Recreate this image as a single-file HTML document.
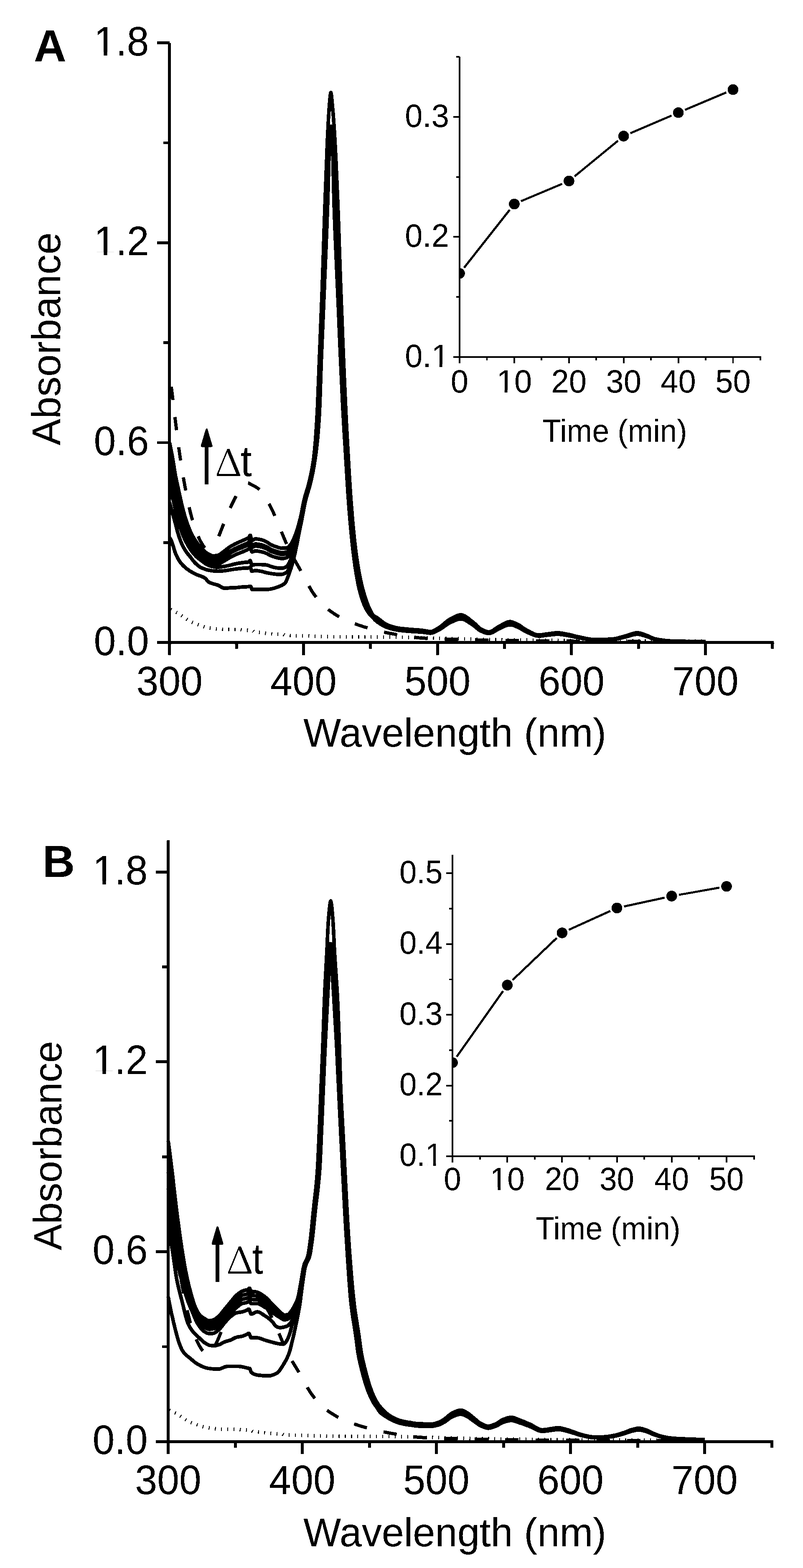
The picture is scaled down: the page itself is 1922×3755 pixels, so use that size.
<!DOCTYPE html>
<html><head><meta charset="utf-8"><title>Figure</title><style>
*{margin:0;padding:0}
html,body{width:1922px;height:3755px;background:#fff;overflow:hidden}
svg{display:block}
.sp{fill:none;stroke:#000;stroke-width:8.6;stroke-linejoin:round;stroke-linecap:butt}
.da{fill:none;stroke:#000;stroke-width:7.8;stroke-dasharray:32 41;stroke-linecap:butt;stroke-linejoin:round}
.do{fill:none;stroke:#000;stroke-width:8.4;stroke-dasharray:2.2 12.72;stroke-linecap:butt}
.ax{fill:none;stroke:#000;stroke-width:7}
.iax{fill:none;stroke:#000;stroke-width:4}
.il{fill:none;stroke:#000;stroke-width:5}
.ah{fill:#000;stroke:#000;stroke-width:5;stroke-linejoin:round}
.ash{fill:none;stroke:#000;stroke-width:9}
text{font-family:'Liberation Sans',Arial,sans-serif;fill:#000}
.tl{font-size:95px}
.tt{font-size:95.7px}
.tt2{font-size:93.9px}
.pl{font-size:107.5px;font-weight:bold}
.it{font-size:76px}
.it2{font-size:74.5px}
.itt{font-size:73px}
.dl{font-size:95px}
.del{font-family:'Noto Serif CJK SC','Liberation Serif',serif;font-size:88px;fill:#000}
</style></head>
<body><svg width="1922" height="3755" viewBox="0 0 1922 3755">
<rect width="1922" height="3755" fill="#fff"/>
<defs><filter id="bin" filterUnits="userSpaceOnUse" x="0" y="0" width="1922" height="3755"><feComponentTransfer><feFuncA type="discrete" tableValues="0 1"/></feComponentTransfer></filter></defs>
<g filter="url(#bin)">
<path d="M405.8 1060.0 L407.1 1065.7 L408.4 1071.8 L409.6 1078.1 L410.9 1084.8 L410.9 1084.8 L412.2 1091.8 L413.5 1099.3 L414.8 1106.9 L415.7 1112.7 L416.1 1114.6 L417.3 1122.6 L418.6 1130.6 L419.9 1138.1 L420.2 1139.8 L421.2 1144.7 L422.5 1150.9 L423.8 1156.8 L425.0 1162.5 L426.0 1166.9 L426.3 1168.4 L427.6 1174.4 L428.9 1180.3 L430.2 1186.2 L431.5 1192.0 L432.1 1194.8 L432.7 1197.7 L434.0 1203.4 L435.3 1209.1 L436.6 1214.5 L437.9 1219.6 L437.9 1219.6 L439.2 1224.3 L440.4 1229.0 L441.7 1233.4 L443.0 1237.7 L444.3 1241.9 L445.6 1245.8 L446.8 1249.6 L447.5 1251.5 L448.1 1253.3 L449.4 1256.9 L450.7 1260.4 L452.0 1263.7 L453.3 1267.0 L454.5 1270.1 L455.8 1273.0 L457.1 1275.8 L458.1 1277.8 L458.4 1278.5 L459.7 1281.0 L461.0 1283.4 L462.2 1285.6 L463.5 1287.9 L464.8 1290.0 L466.1 1292.0 L467.4 1294.0 L468.7 1295.9 L469.9 1297.8 L469.9 1297.8 L471.2 1299.6 L472.5 1301.4 L473.8 1303.1 L475.1 1304.8 L476.4 1306.4 L477.6 1307.9 L478.9 1309.4 L480.2 1310.9 L481.5 1312.3 L482.1 1312.9 L482.8 1313.6 L484.1 1314.9 L485.3 1316.2 L486.6 1317.4 L487.9 1318.7 L489.2 1319.8 L490.5 1321.0 L491.7 1322.1 L493.0 1323.1 L494.3 1324.1 L495.6 1325.0 L496.9 1325.8 L498.2 1326.5 L498.2 1326.5 L499.4 1327.1 L500.7 1327.8 L502.0 1328.5 L503.3 1329.1 L504.6 1329.7 L505.9 1330.2 L507.1 1330.7 L508.4 1331.0 L509.7 1331.2 L511.0 1331.3 L511.0 1331.3 L512.3 1331.2 L513.6 1331.2 L514.8 1331.0 L516.1 1330.8 L517.4 1330.6 L518.7 1330.4 L520.0 1330.1 L521.3 1329.8 L521.9 1329.7 L522.5 1329.5 L523.8 1329.0 L525.1 1328.3 L526.4 1327.5 L527.7 1326.6 L528.9 1325.7 L530.2 1324.6 L531.5 1323.6 L532.8 1322.6 L534.1 1321.7 L534.1 1321.7 L535.4 1320.8 L536.6 1319.8 L537.9 1318.9 L539.2 1317.9 L540.5 1316.9 L541.8 1315.8 L543.1 1314.8 L544.3 1313.8 L545.6 1312.9 L546.9 1311.9 L548.2 1311.0 L549.5 1310.1 L550.1 1309.7 L550.8 1309.3 L552.0 1308.5 L553.3 1307.8 L554.6 1307.0 L555.9 1306.3 L557.2 1305.6 L558.5 1304.9 L559.7 1304.2 L561.0 1303.5 L562.3 1302.9 L563.6 1302.2 L564.9 1301.6 L566.1 1301.0 L566.1 1301.0 L567.4 1300.3 L568.7 1299.7 L570.0 1299.2 L571.3 1298.6 L572.6 1298.0 L573.8 1297.5 L575.1 1296.9 L576.4 1296.4 L577.7 1295.8 L579.0 1295.3 L580.3 1294.7 L581.5 1294.1 L582.2 1293.8 L582.8 1293.5 L584.1 1292.9 L585.4 1292.4 L586.7 1291.9 L588.0 1291.4 L589.2 1290.8 L590.5 1290.2 L591.8 1289.6 L593.1 1288.8 L594.4 1287.9 L595.7 1286.9 L596.0 1286.6 L596.9 1285.0 L598.2 1282.3 L598.9 1281.8 L599.5 1282.8 L600.8 1288.2 L602.1 1293.6 L602.7 1294.6 L603.4 1294.5 L604.6 1294.0 L605.9 1293.3 L607.2 1292.3 L608.5 1291.5 L609.8 1290.8 L611.0 1290.6 L611.0 1290.6 L612.3 1290.6 L613.6 1290.7 L614.9 1290.8 L616.2 1290.9 L617.5 1291.1 L618.7 1291.3 L620.0 1291.5 L621.3 1291.7 L622.6 1291.9 L623.9 1292.2 L623.9 1292.2 L625.2 1292.5 L626.4 1292.8 L627.7 1293.2 L629.0 1293.6 L630.3 1294.1 L631.6 1294.6 L632.9 1295.2 L634.1 1295.8 L635.4 1296.4 L636.7 1297.0 L636.7 1297.0 L638.0 1297.6 L639.3 1298.4 L640.6 1299.2 L641.8 1300.1 L643.1 1301.0 L644.4 1301.8 L645.7 1302.7 L647.0 1303.5 L648.2 1304.3 L649.5 1304.9 L649.5 1304.9 L650.8 1305.5 L652.1 1306.1 L653.4 1306.6 L654.7 1307.1 L655.9 1307.6 L657.2 1308.1 L658.5 1308.5 L659.8 1308.9 L661.1 1309.3 L662.4 1309.7 L662.4 1309.7 L663.6 1310.1 L664.9 1310.6 L666.2 1311.0 L667.5 1311.4 L668.8 1311.8 L670.1 1312.2 L671.3 1312.5 L672.6 1312.7 L673.9 1312.9 L675.2 1312.9 L675.2 1312.9 L676.5 1312.9 L677.8 1312.9 L679.0 1312.8 L680.3 1312.7 L681.6 1312.7 L682.9 1312.5 L684.2 1312.4 L685.5 1312.2 L686.4 1312.1 L686.7 1312.1 L688.0 1311.6 L689.3 1310.8 L690.6 1309.7 L691.9 1308.4 L693.1 1306.9 L694.4 1305.4 L695.7 1303.8 L696.0 1303.3 L697.0 1302.0 L698.3 1299.9 L699.6 1297.4 L700.8 1294.8 L702.1 1292.1 L702.4 1291.4 L703.4 1289.3 L704.7 1286.3 L706.0 1283.2 L707.3 1279.9 L708.5 1276.3 L708.9 1275.4 L709.8 1272.6 L711.1 1268.7 L712.4 1264.6 L713.7 1260.3 L715.0 1255.8 L716.2 1251.1 L717.5 1246.2 L718.8 1241.1 L718.8 1241.1 L720.1 1235.5 L721.4 1229.3 L722.7 1222.7 L723.9 1215.9 L725.2 1209.2 L726.5 1202.9 L727.8 1197.2 L727.8 1197.2 L729.1 1192.2 L730.3 1187.5 L731.6 1183.2 L732.9 1179.0 L734.2 1174.9 L735.5 1170.8 L736.8 1166.5 L738.0 1161.9 L739.3 1156.9 L740.0 1154.2 L740.6 1151.4 L741.9 1145.8 L743.2 1140.2 L744.5 1134.2 L745.7 1127.9 L747.0 1121.0 L748.3 1113.6 L749.6 1105.3 L750.9 1096.2 L751.8 1088.7 L752.2 1086.0 L753.4 1073.4 L754.7 1058.1 L756.0 1040.4 L757.3 1020.8 L758.6 999.4 L758.6 999.4 L759.9 973.9 L761.1 943.4 L762.4 910.2 L763.7 876.7 L764.3 860.6 L765.0 844.9 L766.3 813.6 L767.5 782.1 L768.8 749.9 L770.1 716.6 L770.8 699.4 L771.4 681.6 L772.7 643.9 L774.0 604.6 L775.2 564.9 L776.5 525.9 L777.8 488.8 L778.1 480.0 L779.1 453.7 L780.4 418.6 L781.7 384.4 L782.9 352.0 L784.2 322.5 L785.2 302.9 L785.5 296.8 L786.8 273.7 L788.1 254.8 L788.4 251.1 L789.4 240.0 L790.6 227.1 L791.9 221.5 L791.9 221.5 L793.2 227.4 L794.5 240.6 L795.5 251.1 L795.8 254.3 L797.1 268.5 L798.3 284.7 L799.6 302.9 L799.6 302.9 L800.9 323.6 L802.2 346.7 L803.5 371.9 L804.8 399.0 L806.0 427.5 L807.3 457.2 L808.3 480.0 L808.6 487.8 L809.9 521.7 L811.2 558.6 L812.4 597.2 L813.7 635.8 L815.0 673.2 L816.0 699.4 L816.3 707.8 L817.6 741.2 L818.9 774.2 L820.1 806.7 L821.4 838.7 L822.7 869.9 L824.0 900.4 L825.3 929.9 L826.6 958.5 L827.8 986.1 L828.5 999.4 L829.1 1012.3 L830.4 1037.1 L831.7 1060.6 L833.0 1083.2 L833.3 1088.7 L834.3 1105.4 L835.5 1127.6 L836.8 1149.1 L838.1 1169.6 L839.4 1188.5 L840.0 1197.2 L840.7 1205.6 L842.0 1221.8 L843.2 1237.4 L844.5 1252.1 L845.8 1266.1 L847.1 1279.3 L848.4 1291.6 L849.6 1303.0 L850.0 1305.7 L850.9 1313.6 L852.2 1323.7 L853.5 1333.1 L854.8 1342.1 L856.1 1350.5 L857.3 1358.4 L858.6 1365.9 L859.6 1371.2 L859.9 1372.9 L861.2 1379.5 L862.5 1385.8 L863.8 1391.8 L865.0 1397.5 L866.3 1402.9 L867.6 1407.9 L868.9 1412.7 L869.5 1415.0 L870.2 1417.3 L871.5 1421.7 L872.7 1426.0 L874.0 1430.1 L875.3 1434.1 L876.6 1438.0 L877.9 1441.7 L879.2 1445.2 L880.4 1448.5 L881.7 1451.7 L883.0 1454.7 L884.3 1457.5 L884.6 1458.1 L885.6 1460.1 L886.8 1462.7 L888.1 1465.2 L889.4 1467.5 L890.7 1469.7 L892.0 1471.6 L893.3 1473.3 L894.5 1474.6 L894.9 1474.9 L895.8 1475.6 L897.1 1476.3 L898.4 1476.9 L899.7 1477.6 L900.0 1477.8 L901.0 1478.4 L902.2 1479.2 L903.5 1480.1 L904.8 1481.0 L906.1 1482.0 L907.4 1482.9 L908.7 1483.9 L909.9 1484.9 L911.2 1485.9 L912.5 1487.0 L913.8 1488.0 L915.1 1488.9 L916.4 1489.9 L917.6 1490.9 L918.9 1491.8 L920.2 1492.6 L921.5 1493.5 L922.8 1494.2 L924.1 1495.0 L925.3 1495.6 L926.6 1496.2 L927.3 1496.5 L927.9 1496.7 L929.2 1497.2 L930.5 1497.7 L931.7 1498.2 L933.0 1498.7 L934.3 1499.1 L935.6 1499.5 L936.9 1500.0 L938.2 1500.4 L939.4 1500.8 L940.7 1501.1 L942.0 1501.5 L943.3 1501.8 L944.6 1502.2 L945.9 1502.5 L947.1 1502.8 L948.4 1503.1 L949.7 1503.4 L951.0 1503.6 L952.3 1503.9 L953.6 1504.1 L954.5 1504.2 L954.8 1504.3 L956.1 1504.5 L957.4 1504.7 L958.7 1504.9 L960.0 1505.0 L961.3 1505.2 L962.5 1505.3 L963.8 1505.5 L965.1 1505.6 L966.4 1505.8 L967.7 1505.9 L968.9 1506.1 L970.2 1506.2 L971.5 1506.3 L972.8 1506.4 L974.1 1506.6 L975.4 1506.7 L976.6 1506.8 L977.9 1506.9 L979.2 1507.0 L980.5 1507.1 L981.8 1507.3 L981.8 1507.3 L983.1 1507.4 L984.3 1507.5 L985.6 1507.6 L986.9 1507.7 L988.2 1507.8 L989.5 1507.9 L990.8 1508.0 L992.0 1508.1 L993.3 1508.1 L994.6 1508.2 L995.9 1508.3 L997.2 1508.4 L998.5 1508.5 L999.7 1508.6 L1001.0 1508.7 L1002.3 1508.8 L1003.6 1508.9 L1004.9 1509.0 L1006.2 1509.1 L1007.4 1509.2 L1008.7 1509.3 L1009.4 1509.4 L1010.0 1509.5 L1011.3 1509.6 L1012.6 1509.8 L1013.8 1510.0 L1015.1 1510.2 L1016.4 1510.4 L1017.7 1510.6 L1019.0 1510.9 L1020.3 1511.1 L1021.5 1511.3 L1022.8 1511.5 L1024.1 1511.7 L1025.4 1511.9 L1026.7 1512.0 L1028.0 1512.1 L1029.2 1512.2 L1030.5 1512.2 L1031.2 1512.2 L1031.8 1512.2 L1033.1 1512.1 L1034.4 1511.8 L1035.7 1511.4 L1036.9 1511.0 L1038.2 1510.4 L1039.5 1509.8 L1040.8 1509.1 L1042.1 1508.3 L1043.4 1507.5 L1044.6 1506.7 L1045.9 1505.9 L1047.2 1505.1 L1048.5 1504.3 L1049.8 1503.6 L1050.1 1503.4 L1051.0 1502.8 L1052.3 1502.0 L1053.6 1501.1 L1054.9 1500.2 L1056.2 1499.2 L1057.5 1498.2 L1058.7 1497.2 L1060.0 1496.1 L1061.3 1495.0 L1062.6 1493.9 L1063.9 1492.8 L1065.2 1491.7 L1066.4 1490.6 L1067.7 1489.6 L1069.0 1488.5 L1070.3 1487.5 L1071.6 1486.5 L1072.9 1485.6 L1074.1 1484.8 L1075.4 1484.0 L1076.7 1483.2 L1077.3 1482.9 L1078.0 1482.5 L1079.3 1481.8 L1080.6 1481.2 L1081.8 1480.5 L1083.1 1479.7 L1084.4 1479.0 L1085.7 1478.4 L1087.0 1477.7 L1088.2 1477.0 L1089.5 1476.4 L1090.8 1475.8 L1092.1 1475.2 L1093.4 1474.7 L1094.7 1474.2 L1095.9 1473.8 L1097.2 1473.4 L1098.5 1473.1 L1099.8 1472.8 L1101.1 1472.7 L1102.4 1472.6 L1103.3 1472.5 L1103.6 1472.5 L1104.9 1472.6 L1106.2 1472.8 L1107.5 1473.1 L1108.8 1473.6 L1110.1 1474.1 L1111.3 1474.6 L1112.6 1475.3 L1113.9 1476.1 L1115.2 1476.9 L1116.5 1477.7 L1117.8 1478.6 L1119.0 1479.6 L1120.3 1480.5 L1121.6 1481.5 L1122.9 1482.6 L1124.2 1483.6 L1125.5 1484.6 L1126.7 1485.7 L1128.0 1486.7 L1129.3 1487.7 L1130.6 1488.6 L1131.9 1489.6 L1131.9 1489.6 L1133.1 1490.6 L1134.4 1491.6 L1135.7 1492.8 L1137.0 1494.0 L1138.3 1495.3 L1139.6 1496.6 L1140.8 1497.9 L1142.1 1499.2 L1143.4 1500.4 L1144.7 1501.6 L1146.0 1502.8 L1147.3 1503.9 L1148.5 1504.8 L1149.8 1505.7 L1151.1 1506.4 L1151.1 1506.4 L1152.4 1507.0 L1153.7 1507.7 L1155.0 1508.3 L1156.2 1508.9 L1157.5 1509.6 L1158.8 1510.1 L1160.1 1510.7 L1161.4 1511.2 L1162.7 1511.7 L1163.9 1512.1 L1165.2 1512.4 L1166.5 1512.7 L1167.8 1512.9 L1169.1 1513.1 L1170.3 1513.1 L1170.3 1513.1 L1171.6 1513.0 L1172.9 1512.8 L1174.2 1512.5 L1175.5 1512.0 L1176.8 1511.4 L1178.0 1510.8 L1179.3 1510.1 L1180.6 1509.3 L1181.9 1508.4 L1183.2 1507.5 L1184.5 1506.6 L1185.7 1505.7 L1187.0 1504.8 L1188.3 1503.9 L1189.6 1503.0 L1190.9 1502.1 L1192.2 1501.3 L1193.4 1500.6 L1194.7 1499.9 L1194.7 1499.9 L1196.0 1499.3 L1197.3 1498.6 L1198.6 1497.9 L1199.9 1497.2 L1201.1 1496.5 L1202.4 1495.7 L1203.7 1495.0 L1205.0 1494.3 L1206.3 1493.5 L1207.5 1492.9 L1208.8 1492.2 L1210.1 1491.6 L1211.4 1491.0 L1212.7 1490.4 L1214.0 1490.0 L1215.2 1489.6 L1216.5 1489.2 L1217.8 1489.0 L1219.1 1488.8 L1220.4 1488.7 L1220.7 1488.7 L1221.7 1488.8 L1222.9 1488.9 L1224.2 1489.1 L1225.5 1489.4 L1226.8 1489.8 L1228.1 1490.2 L1229.4 1490.7 L1230.6 1491.3 L1231.9 1491.9 L1233.2 1492.5 L1234.5 1493.1 L1235.8 1493.7 L1237.1 1494.4 L1238.3 1495.0 L1239.6 1495.6 L1239.6 1495.6 L1240.9 1496.3 L1242.2 1497.0 L1243.5 1497.7 L1244.8 1498.5 L1246.0 1499.4 L1247.3 1500.3 L1248.6 1501.2 L1249.9 1502.1 L1251.2 1503.1 L1252.4 1504.0 L1253.7 1504.9 L1255.0 1505.8 L1256.3 1506.6 L1257.6 1507.4 L1258.9 1508.1 L1260.1 1508.8 L1260.1 1508.8 L1261.4 1509.4 L1262.7 1510.1 L1264.0 1510.8 L1265.3 1511.5 L1266.6 1512.2 L1267.8 1512.9 L1269.1 1513.5 L1270.4 1514.2 L1271.7 1514.9 L1273.0 1515.5 L1274.3 1516.2 L1275.5 1516.8 L1276.8 1517.4 L1278.1 1517.9 L1279.4 1518.4 L1280.7 1518.9 L1282.0 1519.3 L1283.2 1519.7 L1284.5 1520.0 L1285.8 1520.2 L1287.1 1520.4 L1288.4 1520.5 L1289.6 1520.6 L1290.0 1520.6 L1290.9 1520.6 L1292.2 1520.5 L1293.5 1520.5 L1294.8 1520.3 L1296.1 1520.2 L1297.3 1520.0 L1298.6 1519.8 L1299.9 1519.6 L1301.2 1519.4 L1302.5 1519.2 L1303.8 1519.0 L1305.0 1518.8 L1306.3 1518.6 L1307.6 1518.4 L1308.9 1518.2 L1310.2 1518.0 L1310.2 1518.0 L1311.5 1517.9 L1312.7 1517.7 L1314.0 1517.5 L1315.3 1517.4 L1316.6 1517.2 L1317.9 1517.0 L1319.2 1516.8 L1320.4 1516.6 L1321.7 1516.5 L1323.0 1516.3 L1324.3 1516.2 L1325.6 1516.0 L1326.9 1515.9 L1328.1 1515.8 L1329.4 1515.7 L1330.7 1515.6 L1332.0 1515.5 L1333.3 1515.5 L1334.5 1515.4 L1334.9 1515.4 L1335.8 1515.4 L1337.1 1515.5 L1338.4 1515.6 L1339.7 1515.7 L1341.0 1515.8 L1342.2 1516.0 L1343.5 1516.1 L1344.8 1516.3 L1346.1 1516.6 L1347.4 1516.8 L1348.7 1517.0 L1349.9 1517.3 L1351.2 1517.5 L1352.5 1517.8 L1353.8 1518.0 L1355.1 1518.3 L1356.4 1518.5 L1357.6 1518.8 L1358.3 1518.9 L1358.9 1519.0 L1360.2 1519.2 L1361.5 1519.5 L1362.8 1519.8 L1364.1 1520.1 L1365.3 1520.4 L1366.6 1520.7 L1367.9 1521.0 L1369.2 1521.3 L1370.5 1521.6 L1371.7 1522.0 L1373.0 1522.3 L1374.3 1522.6 L1375.6 1522.9 L1376.9 1523.3 L1378.2 1523.6 L1379.4 1523.9 L1380.7 1524.2 L1382.0 1524.4 L1383.3 1524.7 L1384.3 1524.9 L1384.6 1525.0 L1385.9 1525.2 L1387.1 1525.5 L1388.4 1525.8 L1389.7 1526.1 L1391.0 1526.3 L1392.3 1526.6 L1393.6 1526.9 L1394.8 1527.2 L1396.1 1527.5 L1397.4 1527.8 L1398.7 1528.1 L1400.0 1528.4 L1401.3 1528.7 L1402.5 1528.9 L1403.8 1529.2 L1405.1 1529.5 L1406.4 1529.7 L1407.7 1530.0 L1408.9 1530.2 L1410.2 1530.4 L1411.5 1530.6 L1412.8 1530.8 L1414.1 1531.0 L1415.4 1531.2 L1416.6 1531.3 L1417.9 1531.5 L1419.2 1531.6 L1420.5 1531.7 L1421.8 1531.7 L1423.1 1531.8 L1424.3 1531.8 L1425.0 1531.8 L1425.6 1531.8 L1426.9 1531.8 L1428.2 1531.8 L1429.5 1531.8 L1430.8 1531.8 L1432.0 1531.8 L1433.3 1531.7 L1434.6 1531.7 L1435.9 1531.7 L1437.2 1531.6 L1438.5 1531.6 L1439.7 1531.6 L1441.0 1531.5 L1442.3 1531.5 L1443.6 1531.5 L1444.9 1531.4 L1446.2 1531.4 L1447.4 1531.3 L1448.7 1531.2 L1450.0 1531.2 L1451.3 1531.1 L1452.6 1531.1 L1453.8 1531.0 L1455.1 1530.9 L1456.4 1530.9 L1457.7 1530.8 L1459.0 1530.7 L1460.3 1530.6 L1461.5 1530.5 L1462.8 1530.5 L1464.1 1530.4 L1465.4 1530.3 L1466.0 1530.3 L1466.7 1530.2 L1468.0 1530.1 L1469.2 1529.9 L1470.5 1529.8 L1471.8 1529.5 L1473.1 1529.3 L1474.4 1529.1 L1475.7 1528.8 L1476.9 1528.5 L1478.2 1528.2 L1479.5 1527.8 L1480.8 1527.5 L1482.1 1527.1 L1483.4 1526.8 L1484.6 1526.4 L1485.9 1526.0 L1487.2 1525.7 L1488.5 1525.3 L1489.8 1524.9 L1491.0 1524.6 L1492.3 1524.2 L1493.6 1523.9 L1494.9 1523.5 L1496.2 1523.2 L1496.2 1523.2 L1497.5 1522.9 L1498.7 1522.5 L1500.0 1522.1 L1501.3 1521.7 L1502.6 1521.3 L1503.9 1520.8 L1505.2 1520.4 L1506.4 1519.9 L1507.7 1519.5 L1509.0 1519.0 L1510.3 1518.6 L1511.6 1518.1 L1512.9 1517.7 L1514.1 1517.3 L1515.4 1517.0 L1516.7 1516.6 L1518.0 1516.3 L1519.3 1516.1 L1520.6 1515.8 L1521.8 1515.7 L1523.1 1515.5 L1524.4 1515.5 L1525.4 1515.4 L1525.7 1515.4 L1527.0 1515.5 L1528.2 1515.6 L1529.5 1515.8 L1530.8 1516.0 L1532.1 1516.3 L1533.4 1516.6 L1534.7 1517.0 L1535.9 1517.4 L1537.2 1517.8 L1538.5 1518.3 L1539.8 1518.7 L1541.1 1519.2 L1542.4 1519.6 L1543.6 1520.1 L1544.9 1520.6 L1546.2 1521.0 L1547.5 1521.5 L1547.5 1521.5 L1548.8 1521.9 L1550.1 1522.4 L1551.3 1523.0 L1552.6 1523.5 L1553.9 1524.1 L1555.2 1524.8 L1556.5 1525.4 L1557.8 1526.0 L1559.0 1526.6 L1560.3 1527.2 L1561.6 1527.8 L1562.9 1528.4 L1564.2 1528.9 L1565.5 1529.3 L1566.7 1529.7 L1568.0 1530.0 L1568.3 1530.1 L1569.3 1530.3 L1570.6 1530.5 L1571.9 1530.8 L1573.1 1531.0 L1574.4 1531.3 L1575.7 1531.5 L1577.0 1531.7 L1578.3 1532.0 L1579.6 1532.2 L1580.8 1532.4 L1582.1 1532.6 L1583.4 1532.8 L1584.7 1533.0 L1586.0 1533.2 L1587.3 1533.3 L1588.5 1533.5 L1589.8 1533.7 L1591.1 1533.8 L1592.4 1534.0 L1593.7 1534.1 L1595.0 1534.3 L1596.2 1534.4 L1597.5 1534.5 L1598.8 1534.6 L1600.1 1534.7 L1601.4 1534.8 L1602.7 1534.9 L1603.9 1535.0 L1605.2 1535.1 L1606.5 1535.1 L1607.8 1535.2 L1609.1 1535.2 L1609.4 1535.3 L1610.3 1535.3 L1611.6 1535.3 L1612.9 1535.4 L1614.2 1535.4 L1615.5 1535.4 L1616.8 1535.5 L1618.0 1535.5 L1619.3 1535.6 L1620.6 1535.6 L1621.9 1535.6 L1623.2 1535.7 L1624.5 1535.7 L1625.7 1535.7 L1627.0 1535.7 L1628.3 1535.8 L1629.6 1535.8 L1630.9 1535.8 L1632.2 1535.9 L1633.4 1535.9 L1634.7 1535.9 L1636.0 1535.9 L1637.3 1536.0 L1638.6 1536.0 L1639.9 1536.0 L1641.1 1536.0 L1642.4 1536.0 L1643.7 1536.0 L1645.0 1536.1 L1646.3 1536.1 L1647.6 1536.1 L1648.8 1536.1 L1650.1 1536.1 L1651.4 1536.1 L1652.7 1536.1 L1654.0 1536.1 L1655.2 1536.1 L1656.5 1536.1 L1656.5 1536.1 L1657.8 1536.1 L1659.1 1536.1 L1660.4 1536.1 L1661.7 1536.1 L1662.9 1536.1 L1664.2 1536.1 L1665.5 1536.1 L1666.8 1536.1 L1668.1 1536.1 L1669.4 1536.1 L1670.6 1536.1 L1671.9 1536.1 L1673.2 1536.1 L1674.5 1536.1 L1675.8 1536.1 L1677.1 1536.1 L1678.3 1536.1 L1679.6 1536.1 L1680.9 1536.1 L1682.2 1536.1 L1683.5 1536.1 L1684.8 1536.1 L1686.0 1536.1 L1687.3 1536.1 L1688.6 1536.1 L1688.6 1536.1" class="sp"/>
<path d="M405.8 1088.5 L407.1 1095.0 L408.4 1101.5 L409.6 1108.3 L410.9 1115.0 L410.9 1115.0 L412.2 1122.0 L412.2 1122.0 L413.5 1129.1 L414.8 1136.3 L415.7 1141.7 L416.1 1143.5 L417.3 1150.8 L418.6 1157.9 L418.6 1157.9 L419.9 1164.7 L420.2 1166.3 L421.2 1171.0 L422.5 1176.9 L423.8 1182.5 L425.0 1188.2 L425.0 1188.2 L426.0 1192.3 L426.3 1193.7 L427.6 1199.2 L428.9 1204.6 L430.2 1210.0 L431.5 1215.3 L431.5 1215.3 L432.1 1217.9 L432.7 1220.4 L434.0 1225.4 L435.3 1230.4 L436.6 1235.2 L437.9 1239.7 L437.9 1239.7 L439.2 1243.9 L440.4 1248.0 L441.7 1252.0 L443.0 1255.9 L444.3 1259.6 L445.6 1263.2 L446.8 1266.6 L447.5 1268.2 L448.1 1269.9 L449.4 1273.0 L450.7 1276.1 L452.0 1279.0 L453.3 1281.8 L454.5 1284.6 L455.8 1287.2 L457.1 1289.7 L457.1 1289.7 L458.1 1291.5 L458.4 1292.0 L459.7 1294.1 L461.0 1296.2 L462.2 1298.2 L463.5 1300.2 L464.8 1302.1 L466.1 1303.9 L467.4 1305.7 L468.7 1307.5 L469.9 1309.2 L469.9 1309.2 L471.2 1310.8 L472.5 1312.4 L473.8 1313.9 L475.1 1315.4 L476.4 1316.9 L477.6 1318.3 L478.9 1319.7 L480.2 1321.1 L481.5 1322.4 L482.1 1323.1 L482.8 1323.7 L482.8 1323.7 L484.1 1324.9 L485.3 1326.0 L486.6 1327.2 L487.9 1328.3 L489.2 1329.4 L490.5 1330.5 L491.7 1331.6 L493.0 1332.5 L494.3 1333.5 L495.6 1334.3 L495.6 1334.3 L496.9 1335.1 L498.2 1335.7 L498.2 1335.7 L499.4 1336.4 L500.7 1337.0 L502.0 1337.7 L503.3 1338.3 L504.6 1338.8 L505.9 1339.3 L507.1 1339.6 L508.4 1339.8 L508.4 1339.8 L509.7 1339.9 L511.0 1340.0 L511.0 1340.0 L512.3 1339.9 L513.6 1339.9 L514.8 1339.7 L516.1 1339.6 L517.4 1339.4 L518.7 1339.2 L520.0 1339.0 L521.3 1338.8 L521.3 1338.8 L521.9 1338.7 L522.5 1338.5 L523.8 1338.0 L525.1 1337.4 L526.4 1336.7 L527.7 1335.8 L528.9 1335.0 L530.2 1334.1 L531.5 1333.2 L532.8 1332.3 L534.1 1331.4 L534.1 1331.4 L535.4 1330.6 L536.6 1329.7 L537.9 1328.8 L539.2 1327.9 L540.5 1327.0 L541.8 1326.1 L543.1 1325.2 L544.3 1324.3 L545.6 1323.4 L546.9 1322.5 L548.2 1321.6 L549.5 1320.8 L550.1 1320.5 L550.8 1320.1 L552.0 1319.3 L553.3 1318.6 L554.6 1317.9 L555.9 1317.2 L557.2 1316.5 L558.5 1315.8 L559.7 1315.2 L561.0 1314.5 L562.3 1313.9 L563.6 1313.2 L564.9 1312.6 L566.1 1312.0 L566.1 1312.0 L567.4 1311.4 L568.7 1310.9 L570.0 1310.3 L571.3 1309.8 L572.6 1309.2 L573.8 1308.7 L575.1 1308.2 L576.4 1307.7 L577.7 1307.1 L579.0 1306.6 L580.3 1306.0 L581.5 1305.5 L582.2 1305.2 L582.8 1304.9 L584.1 1304.3 L585.4 1303.8 L586.7 1303.3 L588.0 1302.8 L589.2 1302.2 L590.5 1301.6 L591.8 1300.9 L593.1 1300.1 L594.4 1299.3 L595.7 1298.3 L596.0 1298.0 L596.9 1296.5 L598.2 1294.0 L598.9 1293.5 L599.5 1294.5 L600.8 1299.8 L602.1 1305.0 L602.7 1306.0 L603.4 1305.9 L604.6 1305.5 L605.9 1304.9 L607.2 1304.1 L608.5 1303.4 L609.8 1302.9 L611.0 1302.6 L611.0 1302.6 L612.3 1302.7 L613.6 1302.7 L614.9 1302.8 L616.2 1303.0 L617.5 1303.2 L618.7 1303.3 L620.0 1303.6 L621.3 1303.8 L622.6 1304.0 L623.9 1304.2 L623.9 1304.2 L625.2 1304.5 L626.4 1304.8 L627.7 1305.2 L629.0 1305.6 L630.3 1306.1 L631.6 1306.6 L632.9 1307.1 L634.1 1307.6 L635.4 1308.1 L636.7 1308.7 L636.7 1308.7 L638.0 1309.3 L639.3 1310.0 L640.6 1310.7 L641.8 1311.5 L643.1 1312.3 L644.4 1313.2 L645.7 1314.0 L647.0 1314.7 L648.2 1315.4 L649.5 1316.0 L649.5 1316.0 L650.8 1316.5 L652.1 1317.1 L653.4 1317.6 L654.7 1318.0 L655.9 1318.5 L657.2 1318.9 L658.5 1319.3 L659.8 1319.7 L661.1 1320.1 L662.4 1320.5 L662.4 1320.5 L663.6 1320.8 L664.9 1321.2 L666.2 1321.6 L667.5 1322.0 L668.8 1322.3 L670.1 1322.6 L671.3 1322.9 L672.6 1323.1 L673.9 1323.3 L675.2 1323.3 L675.2 1323.3 L676.5 1323.3 L677.8 1323.2 L679.0 1323.1 L680.3 1323.0 L681.6 1322.8 L682.9 1322.6 L684.2 1322.3 L685.5 1322.1 L686.4 1321.8 L686.7 1321.8 L688.0 1321.2 L689.3 1320.2 L690.6 1319.0 L691.9 1317.5 L693.1 1315.8 L694.4 1314.1 L695.7 1312.2 L696.0 1311.7 L697.0 1310.1 L698.3 1307.6 L699.6 1304.6 L700.8 1301.5 L702.1 1298.3 L702.4 1297.5 L703.4 1295.1 L704.7 1291.8 L706.0 1288.3 L707.3 1284.8 L708.5 1281.1 L709.8 1277.3 L710.5 1275.4 L711.1 1273.5 L712.4 1269.5 L713.7 1265.5 L715.0 1261.3 L716.2 1257.0 L717.5 1252.6 L718.8 1248.1 L720.1 1243.5 L720.7 1241.1 L721.4 1238.7 L722.7 1233.6 L723.9 1228.3 L725.2 1222.8 L726.5 1217.3 L727.8 1211.7 L729.1 1206.3 L730.3 1201.0 L731.3 1197.2 L731.6 1196.0 L732.9 1191.4 L734.2 1187.0 L735.5 1182.7 L736.8 1178.5 L738.0 1174.3 L739.3 1170.0 L740.6 1165.5 L741.9 1160.7 L743.2 1155.5 L743.5 1154.2 L744.5 1150.0 L745.7 1144.2 L747.0 1138.2 L748.3 1131.9 L749.6 1125.2 L750.9 1118.1 L752.2 1110.4 L753.4 1102.2 L754.7 1093.4 L755.4 1088.7 L756.0 1083.9 L757.3 1073.6 L758.6 1062.3 L759.9 1049.6 L761.1 1035.1 L762.4 1018.4 L763.7 999.4 L763.7 999.4 L765.0 972.4 L766.3 936.1 L767.5 896.8 L768.8 860.6 L768.8 860.6 L770.1 828.7 L771.4 798.1 L772.7 768.0 L774.0 737.9 L775.2 707.3 L775.6 699.4 L776.5 676.0 L777.8 645.1 L779.1 614.2 L780.4 582.8 L781.7 550.3 L782.9 516.2 L784.2 480.0 L784.2 480.0 L785.5 435.2 L786.8 385.9 L788.1 347.9 L788.4 342.0 L789.4 327.5 L790.6 311.6 L791.9 303.3 L792.2 302.9 L793.2 306.1 L794.5 318.4 L795.8 336.8 L796.1 342.0 L797.1 369.5 L798.3 427.2 L799.6 480.0 L799.6 480.0 L800.9 517.8 L802.2 552.0 L803.5 583.5 L804.8 613.0 L806.0 641.6 L807.3 670.1 L808.6 699.4 L808.6 699.4 L809.9 729.6 L811.2 759.9 L812.4 790.3 L813.7 820.4 L815.0 850.3 L816.3 879.5 L817.6 908.0 L818.9 935.7 L820.1 962.1 L821.4 987.3 L822.1 999.4 L822.7 1011.0 L824.0 1032.7 L825.3 1053.2 L826.6 1073.4 L827.5 1088.7 L827.8 1094.0 L829.1 1115.5 L830.4 1137.3 L831.7 1158.7 L833.0 1178.9 L834.3 1197.2 L834.3 1197.2 L835.5 1214.1 L836.8 1230.2 L838.1 1245.7 L839.4 1260.4 L840.7 1274.3 L842.0 1287.5 L843.2 1299.9 L843.9 1305.7 L844.5 1311.5 L845.8 1322.5 L847.1 1332.9 L848.4 1342.9 L849.6 1352.2 L850.9 1361.0 L852.2 1369.2 L852.5 1371.2 L853.5 1376.9 L854.8 1384.4 L856.1 1391.4 L857.3 1398.1 L858.6 1404.3 L859.9 1410.0 L861.2 1415.0 L861.2 1415.0 L862.5 1419.7 L863.8 1424.2 L865.0 1428.5 L866.3 1432.6 L867.6 1436.6 L868.9 1440.3 L870.2 1443.8 L871.5 1447.2 L872.7 1450.2 L874.0 1453.1 L875.3 1455.7 L876.6 1458.1 L876.6 1458.1 L877.9 1460.4 L879.2 1462.5 L880.4 1464.6 L881.7 1466.6 L883.0 1468.5 L884.3 1470.3 L885.6 1471.9 L886.8 1473.3 L888.1 1474.6 L889.4 1475.6 L890.7 1476.5 L890.7 1476.5 L892.0 1477.1 L893.3 1477.7 L894.5 1478.1 L895.8 1478.5 L897.1 1478.9 L898.4 1479.4 L899.7 1479.9 L900.0 1480.0 L901.0 1480.5 L902.2 1481.2 L903.5 1482.0 L904.8 1482.8 L906.1 1483.6 L907.4 1484.5 L908.7 1485.5 L909.9 1486.5 L911.2 1487.4 L912.5 1488.4 L913.8 1489.4 L915.1 1490.4 L916.4 1491.4 L917.6 1492.4 L918.9 1493.3 L920.2 1494.2 L921.5 1495.0 L922.8 1495.8 L924.1 1496.5 L925.3 1497.2 L926.6 1497.8 L927.3 1498.0 L927.9 1498.3 L929.2 1498.8 L930.5 1499.2 L931.7 1499.7 L933.0 1500.1 L934.3 1500.6 L935.6 1501.0 L936.9 1501.4 L938.2 1501.8 L939.4 1502.2 L940.7 1502.5 L942.0 1502.9 L943.3 1503.2 L944.6 1503.5 L945.9 1503.8 L947.1 1504.1 L948.4 1504.4 L949.7 1504.7 L951.0 1504.9 L952.3 1505.1 L953.6 1505.4 L954.5 1505.5 L954.8 1505.6 L956.1 1505.8 L957.4 1505.9 L958.7 1506.1 L960.0 1506.3 L961.3 1506.4 L962.5 1506.6 L963.8 1506.7 L965.1 1506.9 L966.4 1507.0 L967.7 1507.1 L968.9 1507.3 L970.2 1507.4 L971.5 1507.5 L972.8 1507.6 L974.1 1507.7 L975.4 1507.9 L976.6 1508.0 L977.9 1508.1 L979.2 1508.2 L980.5 1508.3 L981.8 1508.4 L981.8 1508.4 L983.1 1508.5 L984.3 1508.6 L985.6 1508.7 L986.9 1508.8 L988.2 1508.9 L989.5 1509.0 L990.8 1509.1 L992.0 1509.2 L993.3 1509.3 L994.6 1509.4 L995.9 1509.5 L997.2 1509.5 L998.5 1509.6 L999.7 1509.7 L1001.0 1509.8 L1002.3 1509.9 L1003.6 1510.0 L1004.9 1510.1 L1006.2 1510.2 L1007.4 1510.3 L1008.7 1510.4 L1009.4 1510.5 L1010.0 1510.6 L1011.3 1510.7 L1012.6 1510.9 L1013.8 1511.1 L1015.1 1511.3 L1016.4 1511.5 L1017.7 1511.7 L1019.0 1511.9 L1020.3 1512.1 L1021.5 1512.3 L1022.8 1512.5 L1024.1 1512.7 L1025.4 1512.9 L1026.7 1513.0 L1028.0 1513.1 L1029.2 1513.2 L1030.5 1513.2 L1031.2 1513.2 L1031.8 1513.2 L1033.1 1513.1 L1034.4 1512.8 L1035.7 1512.5 L1036.9 1512.0 L1038.2 1511.5 L1039.5 1510.8 L1040.8 1510.2 L1042.1 1509.4 L1043.4 1508.7 L1044.6 1507.9 L1045.9 1507.1 L1047.2 1506.4 L1048.5 1505.6 L1049.8 1504.9 L1050.1 1504.7 L1051.0 1504.1 L1052.3 1503.3 L1053.6 1502.5 L1054.9 1501.6 L1056.2 1500.7 L1057.5 1499.7 L1058.7 1498.7 L1060.0 1497.7 L1061.3 1496.6 L1062.6 1495.6 L1063.9 1494.5 L1065.2 1493.5 L1066.4 1492.4 L1067.7 1491.4 L1069.0 1490.4 L1070.3 1489.4 L1071.6 1488.5 L1072.9 1487.6 L1074.1 1486.8 L1075.4 1486.0 L1076.7 1485.3 L1077.3 1484.9 L1078.0 1484.6 L1079.3 1484.0 L1080.6 1483.3 L1081.8 1482.6 L1083.1 1481.9 L1084.4 1481.3 L1085.7 1480.6 L1087.0 1479.9 L1088.2 1479.3 L1089.5 1478.7 L1090.8 1478.1 L1092.1 1477.6 L1093.4 1477.1 L1094.7 1476.6 L1095.9 1476.2 L1097.2 1475.8 L1098.5 1475.5 L1099.8 1475.3 L1101.1 1475.1 L1102.4 1475.0 L1103.3 1475.0 L1103.6 1475.0 L1104.9 1475.1 L1106.2 1475.3 L1107.5 1475.6 L1108.8 1476.0 L1110.1 1476.5 L1111.3 1477.0 L1112.6 1477.7 L1113.9 1478.4 L1115.2 1479.1 L1116.5 1480.0 L1117.8 1480.8 L1119.0 1481.7 L1120.3 1482.7 L1121.6 1483.7 L1122.9 1484.6 L1124.2 1485.6 L1125.5 1486.6 L1126.7 1487.6 L1128.0 1488.6 L1129.3 1489.6 L1130.6 1490.5 L1131.9 1491.4 L1131.9 1491.4 L1133.1 1492.3 L1134.4 1493.4 L1135.7 1494.5 L1137.0 1495.7 L1138.3 1496.9 L1139.6 1498.1 L1140.8 1499.4 L1142.1 1500.6 L1143.4 1501.8 L1144.7 1503.0 L1146.0 1504.1 L1147.3 1505.1 L1148.5 1506.1 L1149.8 1506.9 L1151.1 1507.6 L1151.1 1507.6 L1152.4 1508.2 L1153.7 1508.8 L1155.0 1509.4 L1156.2 1510.0 L1157.5 1510.6 L1158.8 1511.2 L1160.1 1511.7 L1161.4 1512.2 L1162.7 1512.7 L1163.9 1513.1 L1165.2 1513.4 L1166.5 1513.7 L1167.8 1513.9 L1169.1 1514.0 L1170.3 1514.1 L1170.3 1514.1 L1171.6 1514.0 L1172.9 1513.8 L1174.2 1513.4 L1175.5 1513.0 L1176.8 1512.5 L1178.0 1511.8 L1179.3 1511.1 L1180.6 1510.4 L1181.9 1509.5 L1183.2 1508.7 L1184.5 1507.8 L1185.7 1506.9 L1187.0 1506.0 L1188.3 1505.1 L1189.6 1504.3 L1190.9 1503.5 L1192.2 1502.7 L1193.4 1502.0 L1194.7 1501.4 L1194.7 1501.4 L1196.0 1500.8 L1197.3 1500.1 L1198.6 1499.4 L1199.9 1498.7 L1201.1 1498.0 L1202.4 1497.3 L1203.7 1496.6 L1205.0 1495.9 L1206.3 1495.2 L1207.5 1494.5 L1208.8 1493.9 L1210.1 1493.3 L1211.4 1492.7 L1212.7 1492.2 L1214.0 1491.8 L1215.2 1491.4 L1216.5 1491.1 L1217.8 1490.8 L1219.1 1490.7 L1220.4 1490.6 L1220.7 1490.6 L1221.7 1490.6 L1222.9 1490.7 L1224.2 1490.9 L1225.5 1491.2 L1226.8 1491.6 L1228.1 1492.0 L1229.4 1492.5 L1230.6 1493.0 L1231.9 1493.6 L1233.2 1494.2 L1234.5 1494.8 L1235.8 1495.4 L1237.1 1496.0 L1238.3 1496.6 L1239.6 1497.2 L1239.6 1497.2 L1240.9 1497.8 L1242.2 1498.5 L1243.5 1499.2 L1244.8 1500.0 L1246.0 1500.9 L1247.3 1501.7 L1248.6 1502.6 L1249.9 1503.5 L1251.2 1504.4 L1252.4 1505.3 L1253.7 1506.1 L1255.0 1507.0 L1256.3 1507.8 L1257.6 1508.5 L1258.9 1509.3 L1260.1 1509.9 L1260.1 1509.9 L1261.4 1510.5 L1262.7 1511.2 L1264.0 1511.8 L1265.3 1512.5 L1266.6 1513.2 L1267.8 1513.8 L1269.1 1514.5 L1270.4 1515.1 L1271.7 1515.8 L1273.0 1516.4 L1274.3 1517.0 L1275.5 1517.6 L1276.8 1518.1 L1278.1 1518.7 L1279.4 1519.2 L1280.7 1519.6 L1282.0 1520.0 L1283.2 1520.4 L1284.5 1520.7 L1285.8 1520.9 L1287.1 1521.1 L1288.4 1521.2 L1289.6 1521.3 L1290.0 1521.3 L1290.9 1521.3 L1292.2 1521.2 L1293.5 1521.1 L1294.8 1521.0 L1296.1 1520.9 L1297.3 1520.7 L1298.6 1520.5 L1299.9 1520.3 L1301.2 1520.1 L1302.5 1519.9 L1303.8 1519.7 L1305.0 1519.5 L1306.3 1519.3 L1307.6 1519.1 L1308.9 1518.9 L1310.2 1518.8 L1310.2 1518.8 L1311.5 1518.6 L1312.7 1518.5 L1314.0 1518.3 L1315.3 1518.2 L1316.6 1518.0 L1317.9 1517.8 L1319.2 1517.6 L1320.4 1517.5 L1321.7 1517.3 L1323.0 1517.1 L1324.3 1517.0 L1325.6 1516.8 L1326.9 1516.7 L1328.1 1516.6 L1329.4 1516.5 L1330.7 1516.4 L1332.0 1516.4 L1333.3 1516.3 L1334.5 1516.3 L1334.9 1516.3 L1335.8 1516.3 L1337.1 1516.3 L1338.4 1516.4 L1339.7 1516.5 L1341.0 1516.7 L1342.2 1516.8 L1343.5 1517.0 L1344.8 1517.2 L1346.1 1517.4 L1347.4 1517.6 L1348.7 1517.8 L1349.9 1518.1 L1351.2 1518.3 L1352.5 1518.5 L1353.8 1518.8 L1355.1 1519.0 L1356.4 1519.3 L1357.6 1519.5 L1358.3 1519.6 L1358.9 1519.7 L1360.2 1520.0 L1361.5 1520.2 L1362.8 1520.5 L1364.1 1520.8 L1365.3 1521.1 L1366.6 1521.3 L1367.9 1521.6 L1369.2 1522.0 L1370.5 1522.3 L1371.7 1522.6 L1373.0 1522.9 L1374.3 1523.2 L1375.6 1523.5 L1376.9 1523.8 L1378.2 1524.1 L1379.4 1524.4 L1380.7 1524.7 L1382.0 1525.0 L1383.3 1525.2 L1384.3 1525.4 L1384.6 1525.5 L1385.9 1525.7 L1387.1 1526.0 L1388.4 1526.3 L1389.7 1526.5 L1391.0 1526.8 L1392.3 1527.1 L1393.6 1527.4 L1394.8 1527.6 L1396.1 1527.9 L1397.4 1528.2 L1398.7 1528.5 L1400.0 1528.8 L1401.3 1529.0 L1402.5 1529.3 L1403.8 1529.6 L1405.1 1529.8 L1406.4 1530.1 L1407.7 1530.3 L1408.9 1530.5 L1410.2 1530.7 L1411.5 1530.9 L1412.8 1531.1 L1414.1 1531.3 L1415.4 1531.5 L1416.6 1531.6 L1417.9 1531.7 L1419.2 1531.8 L1420.5 1531.9 L1421.8 1532.0 L1423.1 1532.0 L1424.3 1532.1 L1425.0 1532.1 L1425.6 1532.1 L1426.9 1532.1 L1428.2 1532.1 L1429.5 1532.0 L1430.8 1532.0 L1432.0 1532.0 L1433.3 1532.0 L1434.6 1532.0 L1435.9 1531.9 L1437.2 1531.9 L1438.5 1531.9 L1439.7 1531.8 L1441.0 1531.8 L1442.3 1531.8 L1443.6 1531.7 L1444.9 1531.7 L1446.2 1531.6 L1447.4 1531.6 L1448.7 1531.5 L1450.0 1531.5 L1451.3 1531.4 L1452.6 1531.3 L1453.8 1531.3 L1455.1 1531.2 L1456.4 1531.1 L1457.7 1531.1 L1459.0 1531.0 L1460.3 1530.9 L1461.5 1530.9 L1462.8 1530.8 L1464.1 1530.7 L1465.4 1530.6 L1466.0 1530.6 L1466.7 1530.5 L1468.0 1530.4 L1469.2 1530.3 L1470.5 1530.1 L1471.8 1529.9 L1473.1 1529.7 L1474.4 1529.4 L1475.7 1529.1 L1476.9 1528.9 L1478.2 1528.6 L1479.5 1528.2 L1480.8 1527.9 L1482.1 1527.6 L1483.4 1527.2 L1484.6 1526.9 L1485.9 1526.5 L1487.2 1526.2 L1488.5 1525.8 L1489.8 1525.4 L1491.0 1525.1 L1492.3 1524.7 L1493.6 1524.4 L1494.9 1524.1 L1496.2 1523.8 L1496.2 1523.8 L1497.5 1523.4 L1498.7 1523.1 L1500.0 1522.7 L1501.3 1522.3 L1502.6 1521.9 L1503.9 1521.5 L1505.2 1521.0 L1506.4 1520.6 L1507.7 1520.2 L1509.0 1519.7 L1510.3 1519.3 L1511.6 1518.9 L1512.9 1518.5 L1514.1 1518.1 L1515.4 1517.8 L1516.7 1517.4 L1518.0 1517.2 L1519.3 1516.9 L1520.6 1516.7 L1521.8 1516.5 L1523.1 1516.4 L1524.4 1516.3 L1525.4 1516.3 L1525.7 1516.3 L1527.0 1516.4 L1528.2 1516.5 L1529.5 1516.6 L1530.8 1516.9 L1532.1 1517.1 L1533.4 1517.4 L1534.7 1517.8 L1535.9 1518.2 L1537.2 1518.6 L1538.5 1519.0 L1539.8 1519.4 L1541.1 1519.9 L1542.4 1520.4 L1543.6 1520.8 L1544.9 1521.3 L1546.2 1521.7 L1547.5 1522.1 L1547.5 1522.1 L1548.8 1522.5 L1550.1 1523.0 L1551.3 1523.5 L1552.6 1524.1 L1553.9 1524.7 L1555.2 1525.3 L1556.5 1525.9 L1557.8 1526.5 L1559.0 1527.1 L1560.3 1527.7 L1561.6 1528.2 L1562.9 1528.7 L1564.2 1529.2 L1565.5 1529.7 L1566.7 1530.0 L1568.0 1530.3 L1568.3 1530.4 L1569.3 1530.6 L1570.6 1530.8 L1571.9 1531.1 L1573.1 1531.3 L1574.4 1531.5 L1575.7 1531.8 L1577.0 1532.0 L1578.3 1532.2 L1579.6 1532.4 L1580.8 1532.6 L1582.1 1532.8 L1583.4 1533.0 L1584.7 1533.2 L1586.0 1533.4 L1587.3 1533.5 L1588.5 1533.7 L1589.8 1533.9 L1591.1 1534.0 L1592.4 1534.2 L1593.7 1534.3 L1595.0 1534.4 L1596.2 1534.6 L1597.5 1534.7 L1598.8 1534.8 L1600.1 1534.9 L1601.4 1535.0 L1602.7 1535.1 L1603.9 1535.1 L1605.2 1535.2 L1606.5 1535.3 L1607.8 1535.3 L1609.1 1535.4 L1609.4 1535.4 L1610.3 1535.4 L1611.6 1535.5 L1612.9 1535.5 L1614.2 1535.5 L1615.5 1535.6 L1616.8 1535.6 L1618.0 1535.6 L1619.3 1535.7 L1620.6 1535.7 L1621.9 1535.7 L1623.2 1535.8 L1624.5 1535.8 L1625.7 1535.8 L1627.0 1535.9 L1628.3 1535.9 L1629.6 1535.9 L1630.9 1535.9 L1632.2 1536.0 L1633.4 1536.0 L1634.7 1536.0 L1636.0 1536.0 L1637.3 1536.1 L1638.6 1536.1 L1639.9 1536.1 L1641.1 1536.1 L1642.4 1536.1 L1643.7 1536.1 L1645.0 1536.2 L1646.3 1536.2 L1647.6 1536.2 L1648.8 1536.2 L1650.1 1536.2 L1651.4 1536.2 L1652.7 1536.2 L1654.0 1536.2 L1655.2 1536.2 L1656.5 1536.2 L1656.5 1536.2 L1657.8 1536.2 L1659.1 1536.2 L1660.4 1536.2 L1661.7 1536.2 L1662.9 1536.2 L1664.2 1536.2 L1665.5 1536.2 L1666.8 1536.2 L1668.1 1536.2 L1669.4 1536.2 L1670.6 1536.2 L1671.9 1536.2 L1673.2 1536.2 L1674.5 1536.2 L1675.8 1536.2 L1677.1 1536.2 L1678.3 1536.2 L1679.6 1536.2 L1680.9 1536.2 L1682.2 1536.2 L1683.5 1536.2 L1684.8 1536.2 L1686.0 1536.2 L1687.3 1536.2 L1688.6 1536.2 L1688.6 1536.2" class="sp"/>
<path d="M405.8 1100.7 L407.1 1107.5 L408.4 1114.3 L409.6 1121.2 L410.9 1128.0 L410.9 1128.0 L412.2 1135.0 L412.2 1135.0 L413.5 1141.9 L414.8 1148.9 L415.7 1154.1 L416.1 1155.9 L417.3 1162.8 L418.6 1169.6 L418.6 1169.6 L419.9 1176.2 L420.2 1177.7 L421.2 1182.2 L422.5 1188.0 L423.8 1193.6 L425.0 1199.2 L425.0 1199.2 L426.0 1203.2 L426.3 1204.5 L427.6 1209.8 L428.9 1215.1 L430.2 1220.2 L431.5 1225.3 L431.5 1225.3 L432.1 1227.7 L432.7 1230.1 L434.0 1234.9 L435.3 1239.6 L436.6 1244.1 L437.9 1248.3 L437.9 1248.3 L439.2 1252.3 L440.4 1256.2 L441.7 1260.0 L443.0 1263.7 L444.3 1267.2 L445.6 1270.6 L446.8 1273.9 L447.5 1275.4 L448.1 1277.0 L449.4 1279.9 L450.7 1282.8 L452.0 1285.6 L453.3 1288.2 L454.5 1290.8 L455.8 1293.3 L457.1 1295.7 L457.1 1295.7 L458.1 1297.3 L458.4 1297.8 L459.7 1299.8 L461.0 1301.8 L462.2 1303.7 L463.5 1305.5 L464.8 1307.3 L466.1 1309.1 L467.4 1310.8 L468.7 1312.4 L469.9 1314.0 L469.9 1314.0 L471.2 1315.6 L472.5 1317.1 L473.8 1318.6 L475.1 1320.1 L476.4 1321.5 L477.6 1322.9 L478.9 1324.2 L480.2 1325.5 L481.5 1326.8 L482.1 1327.4 L482.8 1328.0 L482.8 1328.0 L484.1 1329.2 L485.3 1330.3 L486.6 1331.4 L487.9 1332.5 L489.2 1333.6 L490.5 1334.6 L491.7 1335.6 L493.0 1336.6 L494.3 1337.5 L495.6 1338.3 L495.6 1338.3 L496.9 1339.1 L498.2 1339.7 L498.2 1339.7 L499.4 1340.3 L500.7 1341.0 L502.0 1341.6 L503.3 1342.2 L504.6 1342.7 L505.9 1343.1 L507.1 1343.4 L508.4 1343.6 L508.4 1343.6 L509.7 1343.7 L511.0 1343.7 L511.0 1343.7 L512.3 1343.7 L513.6 1343.6 L514.8 1343.5 L516.1 1343.4 L517.4 1343.2 L518.7 1343.0 L520.0 1342.8 L521.3 1342.7 L521.3 1342.7 L521.9 1342.5 L522.5 1342.4 L523.8 1341.9 L525.1 1341.3 L526.4 1340.6 L527.7 1339.8 L528.9 1339.0 L530.2 1338.1 L531.5 1337.2 L532.8 1336.4 L534.1 1335.6 L534.1 1335.6 L535.4 1334.8 L536.6 1334.0 L537.9 1333.1 L539.2 1332.2 L540.5 1331.4 L541.8 1330.5 L543.1 1329.6 L544.3 1328.7 L545.6 1327.9 L546.9 1327.0 L548.2 1326.2 L549.5 1325.4 L550.1 1325.0 L550.8 1324.7 L552.0 1324.0 L553.3 1323.2 L554.6 1322.5 L555.9 1321.8 L557.2 1321.2 L558.5 1320.5 L559.7 1319.8 L561.0 1319.2 L562.3 1318.6 L563.6 1318.0 L564.9 1317.4 L566.1 1316.8 L566.1 1316.8 L567.4 1316.2 L568.7 1315.6 L570.0 1315.1 L571.3 1314.6 L572.6 1314.0 L573.8 1313.5 L575.1 1313.0 L576.4 1312.5 L577.7 1312.0 L579.0 1311.5 L580.3 1310.9 L581.5 1310.3 L582.2 1310.1 L582.8 1309.8 L584.1 1309.2 L585.4 1308.7 L586.7 1308.2 L588.0 1307.6 L589.2 1307.1 L590.5 1306.5 L591.8 1305.8 L593.1 1305.0 L594.4 1304.1 L595.7 1303.1 L596.0 1302.9 L596.9 1301.4 L598.2 1299.0 L598.9 1298.6 L599.5 1299.5 L600.8 1304.7 L602.1 1309.9 L602.7 1310.8 L603.4 1310.8 L604.6 1310.4 L605.9 1309.8 L607.2 1309.2 L608.5 1308.5 L609.8 1308.0 L611.0 1307.8 L611.0 1307.8 L612.3 1307.8 L613.6 1307.9 L614.9 1308.0 L616.2 1308.2 L617.5 1308.3 L618.7 1308.5 L620.0 1308.7 L621.3 1308.9 L622.6 1309.2 L623.9 1309.4 L623.9 1309.4 L625.2 1309.7 L626.4 1310.0 L627.7 1310.3 L629.0 1310.8 L630.3 1311.2 L631.6 1311.7 L632.9 1312.2 L634.1 1312.7 L635.4 1313.2 L636.7 1313.7 L636.7 1313.7 L638.0 1314.3 L639.3 1315.0 L640.6 1315.7 L641.8 1316.4 L643.1 1317.2 L644.4 1318.0 L645.7 1318.8 L647.0 1319.5 L648.2 1320.2 L649.5 1320.7 L649.5 1320.7 L650.8 1321.3 L652.1 1321.8 L653.4 1322.2 L654.7 1322.7 L655.9 1323.1 L657.2 1323.6 L658.5 1324.0 L659.8 1324.3 L661.1 1324.7 L662.4 1325.0 L662.4 1325.0 L663.6 1325.4 L664.9 1325.8 L666.2 1326.1 L667.5 1326.5 L668.8 1326.8 L670.1 1327.1 L671.3 1327.4 L672.6 1327.6 L673.9 1327.7 L675.2 1327.8 L675.2 1327.8 L676.5 1327.7 L677.8 1327.7 L679.0 1327.5 L680.3 1327.4 L681.6 1327.1 L682.9 1326.9 L684.2 1326.6 L685.5 1326.3 L686.4 1326.0 L686.7 1325.9 L688.0 1325.2 L689.3 1324.2 L690.6 1322.9 L691.9 1321.4 L693.1 1319.6 L694.4 1317.8 L695.7 1315.8 L696.0 1315.3 L697.0 1313.6 L698.3 1310.8 L699.6 1307.7 L700.8 1304.3 L702.1 1300.9 L702.4 1300.1 L703.4 1297.6 L704.7 1294.3 L706.0 1290.9 L707.3 1287.4 L708.5 1283.8 L709.8 1280.2 L711.1 1276.4 L711.4 1275.4 L712.4 1272.5 L713.7 1268.6 L715.0 1264.6 L716.2 1260.4 L717.5 1256.2 L718.8 1251.7 L720.1 1247.1 L721.4 1242.4 L721.7 1241.1 L722.7 1237.2 L723.9 1231.6 L725.2 1225.6 L726.5 1219.3 L727.8 1213.1 L729.1 1207.0 L730.3 1201.3 L731.3 1197.2 L731.6 1196.0 L732.9 1191.1 L734.2 1186.7 L735.5 1182.4 L736.8 1178.2 L738.0 1174.1 L739.3 1169.9 L740.6 1165.4 L741.9 1160.7 L743.2 1155.5 L743.5 1154.2 L744.5 1150.0 L745.7 1144.2 L747.0 1138.2 L748.3 1131.9 L749.6 1125.2 L750.9 1118.1 L752.2 1110.4 L753.4 1102.2 L754.7 1093.4 L755.4 1088.7 L756.0 1083.9 L757.3 1073.6 L758.6 1062.3 L759.9 1049.6 L761.1 1035.1 L762.4 1018.4 L763.7 999.4 L763.7 999.4 L765.0 972.4 L766.3 936.1 L767.5 896.8 L768.8 860.6 L768.8 860.6 L770.1 828.7 L771.4 798.1 L772.7 768.0 L774.0 737.9 L775.2 707.3 L775.6 699.4 L776.5 676.0 L777.8 645.1 L779.1 614.2 L780.4 582.8 L781.7 550.3 L782.9 516.2 L784.2 480.0 L784.2 480.0 L785.5 435.2 L786.8 385.9 L788.1 347.9 L788.4 342.0 L789.4 327.5 L790.6 311.6 L791.9 303.3 L792.2 302.9 L793.2 306.1 L794.5 318.4 L795.8 336.8 L796.1 342.0 L797.1 369.5 L798.3 427.2 L799.6 480.0 L799.6 480.0 L800.9 517.8 L802.2 552.0 L803.5 583.5 L804.8 613.0 L806.0 641.6 L807.3 670.1 L808.6 699.4 L808.6 699.4 L809.9 729.6 L811.2 759.9 L812.4 790.3 L813.7 820.4 L815.0 850.3 L816.3 879.5 L817.6 908.0 L818.9 935.7 L820.1 962.1 L821.4 987.3 L822.1 999.4 L822.7 1011.0 L824.0 1032.7 L825.3 1053.2 L826.6 1073.4 L827.5 1088.7 L827.8 1094.0 L829.1 1115.5 L830.4 1137.3 L831.7 1158.7 L833.0 1178.9 L834.3 1197.2 L834.3 1197.2 L835.5 1214.1 L836.8 1230.2 L838.1 1245.7 L839.4 1260.4 L840.7 1274.3 L842.0 1287.5 L843.2 1299.9 L843.9 1305.7 L844.5 1311.5 L845.8 1322.5 L847.1 1332.9 L848.4 1342.9 L849.6 1352.2 L850.9 1361.0 L852.2 1369.2 L852.5 1371.2 L853.5 1376.9 L854.8 1384.4 L856.1 1391.4 L857.3 1398.1 L858.6 1404.3 L859.9 1410.0 L861.2 1415.0 L861.2 1415.0 L862.5 1419.7 L863.8 1424.2 L865.0 1428.5 L866.3 1432.6 L867.6 1436.6 L868.9 1440.3 L870.2 1443.8 L871.5 1447.2 L872.7 1450.2 L874.0 1453.1 L875.3 1455.7 L876.6 1458.1 L876.6 1458.1 L877.9 1460.3 L879.2 1462.4 L880.4 1464.4 L881.7 1466.3 L883.0 1468.1 L884.3 1469.8 L885.6 1471.3 L886.8 1472.8 L888.1 1474.1 L889.4 1475.4 L890.7 1476.5 L890.7 1476.5 L892.0 1477.5 L893.3 1478.3 L894.5 1479.1 L895.8 1479.9 L897.1 1480.6 L898.4 1481.3 L899.7 1482.1 L900.0 1482.3 L901.0 1482.9 L902.2 1483.8 L903.5 1484.6 L904.8 1485.5 L906.1 1486.4 L907.4 1487.3 L908.7 1488.3 L909.9 1489.2 L911.2 1490.1 L912.5 1491.0 L913.8 1491.9 L915.1 1492.8 L916.4 1493.7 L917.6 1494.5 L918.9 1495.4 L920.2 1496.1 L921.5 1496.9 L922.8 1497.6 L924.1 1498.2 L925.3 1498.8 L926.6 1499.4 L927.3 1499.6 L927.9 1499.8 L929.2 1500.3 L930.5 1500.8 L931.7 1501.2 L933.0 1501.6 L934.3 1502.0 L935.6 1502.4 L936.9 1502.8 L938.2 1503.2 L939.4 1503.6 L940.7 1503.9 L942.0 1504.3 L943.3 1504.6 L944.6 1504.9 L945.9 1505.2 L947.1 1505.5 L948.4 1505.7 L949.7 1506.0 L951.0 1506.2 L952.3 1506.4 L953.6 1506.6 L954.5 1506.8 L954.8 1506.8 L956.1 1507.0 L957.4 1507.2 L958.7 1507.4 L960.0 1507.5 L961.3 1507.7 L962.5 1507.8 L963.8 1508.0 L965.1 1508.1 L966.4 1508.2 L967.7 1508.4 L968.9 1508.5 L970.2 1508.6 L971.5 1508.7 L972.8 1508.8 L974.1 1508.9 L975.4 1509.0 L976.6 1509.1 L977.9 1509.3 L979.2 1509.4 L980.5 1509.5 L981.8 1509.6 L981.8 1509.6 L983.1 1509.7 L984.3 1509.8 L985.6 1509.9 L986.9 1510.0 L988.2 1510.1 L989.5 1510.2 L990.8 1510.2 L992.0 1510.3 L993.3 1510.4 L994.6 1510.5 L995.9 1510.6 L997.2 1510.7 L998.5 1510.7 L999.7 1510.8 L1001.0 1510.9 L1002.3 1511.0 L1003.6 1511.1 L1004.9 1511.2 L1006.2 1511.3 L1007.4 1511.4 L1008.7 1511.5 L1009.4 1511.6 L1010.0 1511.6 L1011.3 1511.8 L1012.6 1511.9 L1013.8 1512.1 L1015.1 1512.3 L1016.4 1512.5 L1017.7 1512.7 L1019.0 1512.9 L1020.3 1513.1 L1021.5 1513.3 L1022.8 1513.5 L1024.1 1513.7 L1025.4 1513.9 L1026.7 1514.0 L1028.0 1514.1 L1029.2 1514.2 L1030.5 1514.2 L1031.2 1514.2 L1031.8 1514.2 L1033.1 1514.1 L1034.4 1513.8 L1035.7 1513.5 L1036.9 1513.0 L1038.2 1512.5 L1039.5 1511.9 L1040.8 1511.3 L1042.1 1510.6 L1043.4 1509.8 L1044.6 1509.1 L1045.9 1508.3 L1047.2 1507.6 L1048.5 1506.9 L1049.8 1506.2 L1050.1 1506.0 L1051.0 1505.5 L1052.3 1504.7 L1053.6 1503.9 L1054.9 1503.0 L1056.2 1502.1 L1057.5 1501.2 L1058.7 1500.2 L1060.0 1499.2 L1061.3 1498.2 L1062.6 1497.2 L1063.9 1496.2 L1065.2 1495.2 L1066.4 1494.2 L1067.7 1493.2 L1069.0 1492.2 L1070.3 1491.3 L1071.6 1490.4 L1072.9 1489.6 L1074.1 1488.8 L1075.4 1488.0 L1076.7 1487.3 L1077.3 1487.0 L1078.0 1486.7 L1079.3 1486.1 L1080.6 1485.4 L1081.8 1484.8 L1083.1 1484.1 L1084.4 1483.5 L1085.7 1482.8 L1087.0 1482.2 L1088.2 1481.6 L1089.5 1481.0 L1090.8 1480.4 L1092.1 1479.9 L1093.4 1479.4 L1094.7 1479.0 L1095.9 1478.6 L1097.2 1478.2 L1098.5 1477.9 L1099.8 1477.7 L1101.1 1477.5 L1102.4 1477.5 L1103.3 1477.4 L1103.6 1477.4 L1104.9 1477.5 L1106.2 1477.7 L1107.5 1478.0 L1108.8 1478.4 L1110.1 1478.8 L1111.3 1479.4 L1112.6 1480.0 L1113.9 1480.7 L1115.2 1481.4 L1116.5 1482.2 L1117.8 1483.1 L1119.0 1483.9 L1120.3 1484.8 L1121.6 1485.8 L1122.9 1486.7 L1124.2 1487.7 L1125.5 1488.6 L1126.7 1489.6 L1128.0 1490.5 L1129.3 1491.5 L1130.6 1492.4 L1131.9 1493.2 L1131.9 1493.2 L1133.1 1494.1 L1134.4 1495.1 L1135.7 1496.2 L1137.0 1497.3 L1138.3 1498.5 L1139.6 1499.7 L1140.8 1500.9 L1142.1 1502.1 L1143.4 1503.3 L1144.7 1504.4 L1146.0 1505.4 L1147.3 1506.4 L1148.5 1507.3 L1149.8 1508.1 L1151.1 1508.8 L1151.1 1508.8 L1152.4 1509.4 L1153.7 1510.0 L1155.0 1510.6 L1156.2 1511.1 L1157.5 1511.7 L1158.8 1512.3 L1160.1 1512.8 L1161.4 1513.2 L1162.7 1513.7 L1163.9 1514.1 L1165.2 1514.4 L1166.5 1514.6 L1167.8 1514.8 L1169.1 1515.0 L1170.3 1515.0 L1170.3 1515.0 L1171.6 1514.9 L1172.9 1514.7 L1174.2 1514.4 L1175.5 1514.0 L1176.8 1513.5 L1178.0 1512.9 L1179.3 1512.2 L1180.6 1511.4 L1181.9 1510.7 L1183.2 1509.8 L1184.5 1509.0 L1185.7 1508.1 L1187.0 1507.3 L1188.3 1506.4 L1189.6 1505.6 L1190.9 1504.8 L1192.2 1504.1 L1193.4 1503.4 L1194.7 1502.8 L1194.7 1502.8 L1196.0 1502.2 L1197.3 1501.6 L1198.6 1500.9 L1199.9 1500.3 L1201.1 1499.6 L1202.4 1498.9 L1203.7 1498.2 L1205.0 1497.6 L1206.3 1496.9 L1207.5 1496.2 L1208.8 1495.6 L1210.1 1495.1 L1211.4 1494.5 L1212.7 1494.0 L1214.0 1493.6 L1215.2 1493.2 L1216.5 1492.9 L1217.8 1492.7 L1219.1 1492.5 L1220.4 1492.4 L1220.7 1492.4 L1221.7 1492.5 L1222.9 1492.6 L1224.2 1492.8 L1225.5 1493.1 L1226.8 1493.4 L1228.1 1493.8 L1229.4 1494.3 L1230.6 1494.8 L1231.9 1495.3 L1233.2 1495.9 L1234.5 1496.5 L1235.8 1497.1 L1237.1 1497.7 L1238.3 1498.2 L1239.6 1498.8 L1239.6 1498.8 L1240.9 1499.4 L1242.2 1500.0 L1243.5 1500.8 L1244.8 1501.5 L1246.0 1502.3 L1247.3 1503.1 L1248.6 1504.0 L1249.9 1504.8 L1251.2 1505.7 L1252.4 1506.5 L1253.7 1507.4 L1255.0 1508.2 L1256.3 1509.0 L1257.6 1509.7 L1258.9 1510.4 L1260.1 1511.0 L1260.1 1511.0 L1261.4 1511.6 L1262.7 1512.2 L1264.0 1512.9 L1265.3 1513.5 L1266.6 1514.1 L1267.8 1514.8 L1269.1 1515.4 L1270.4 1516.0 L1271.7 1516.7 L1273.0 1517.3 L1274.3 1517.8 L1275.5 1518.4 L1276.8 1518.9 L1278.1 1519.4 L1279.4 1519.9 L1280.7 1520.3 L1282.0 1520.7 L1283.2 1521.1 L1284.5 1521.4 L1285.8 1521.6 L1287.1 1521.8 L1288.4 1521.9 L1289.6 1521.9 L1290.0 1521.9 L1290.9 1521.9 L1292.2 1521.9 L1293.5 1521.8 L1294.8 1521.7 L1296.1 1521.6 L1297.3 1521.4 L1298.6 1521.2 L1299.9 1521.0 L1301.2 1520.8 L1302.5 1520.6 L1303.8 1520.4 L1305.0 1520.2 L1306.3 1520.1 L1307.6 1519.9 L1308.9 1519.7 L1310.2 1519.6 L1310.2 1519.6 L1311.5 1519.4 L1312.7 1519.3 L1314.0 1519.1 L1315.3 1518.9 L1316.6 1518.8 L1317.9 1518.6 L1319.2 1518.4 L1320.4 1518.3 L1321.7 1518.1 L1323.0 1518.0 L1324.3 1517.8 L1325.6 1517.7 L1326.9 1517.6 L1328.1 1517.5 L1329.4 1517.4 L1330.7 1517.3 L1332.0 1517.2 L1333.3 1517.2 L1334.5 1517.2 L1334.9 1517.2 L1335.8 1517.2 L1337.1 1517.2 L1338.4 1517.3 L1339.7 1517.4 L1341.0 1517.5 L1342.2 1517.6 L1343.5 1517.8 L1344.8 1518.0 L1346.1 1518.2 L1347.4 1518.4 L1348.7 1518.6 L1349.9 1518.9 L1351.2 1519.1 L1352.5 1519.3 L1353.8 1519.6 L1355.1 1519.8 L1356.4 1520.0 L1357.6 1520.2 L1358.3 1520.4 L1358.9 1520.5 L1360.2 1520.7 L1361.5 1520.9 L1362.8 1521.2 L1364.1 1521.5 L1365.3 1521.7 L1366.6 1522.0 L1367.9 1522.3 L1369.2 1522.6 L1370.5 1522.9 L1371.7 1523.2 L1373.0 1523.5 L1374.3 1523.8 L1375.6 1524.1 L1376.9 1524.4 L1378.2 1524.7 L1379.4 1525.0 L1380.7 1525.2 L1382.0 1525.5 L1383.3 1525.8 L1384.3 1525.9 L1384.6 1526.0 L1385.9 1526.2 L1387.1 1526.5 L1388.4 1526.7 L1389.7 1527.0 L1391.0 1527.3 L1392.3 1527.5 L1393.6 1527.8 L1394.8 1528.1 L1396.1 1528.3 L1397.4 1528.6 L1398.7 1528.9 L1400.0 1529.1 L1401.3 1529.4 L1402.5 1529.7 L1403.8 1529.9 L1405.1 1530.2 L1406.4 1530.4 L1407.7 1530.6 L1408.9 1530.8 L1410.2 1531.0 L1411.5 1531.2 L1412.8 1531.4 L1414.1 1531.6 L1415.4 1531.7 L1416.6 1531.9 L1417.9 1532.0 L1419.2 1532.1 L1420.5 1532.2 L1421.8 1532.2 L1423.1 1532.3 L1424.3 1532.3 L1425.0 1532.3 L1425.6 1532.3 L1426.9 1532.3 L1428.2 1532.3 L1429.5 1532.3 L1430.8 1532.3 L1432.0 1532.3 L1433.3 1532.2 L1434.6 1532.2 L1435.9 1532.2 L1437.2 1532.2 L1438.5 1532.1 L1439.7 1532.1 L1441.0 1532.1 L1442.3 1532.0 L1443.6 1532.0 L1444.9 1531.9 L1446.2 1531.9 L1447.4 1531.8 L1448.7 1531.8 L1450.0 1531.7 L1451.3 1531.7 L1452.6 1531.6 L1453.8 1531.6 L1455.1 1531.5 L1456.4 1531.4 L1457.7 1531.4 L1459.0 1531.3 L1460.3 1531.2 L1461.5 1531.2 L1462.8 1531.1 L1464.1 1531.0 L1465.4 1530.9 L1466.0 1530.9 L1466.7 1530.8 L1468.0 1530.7 L1469.2 1530.6 L1470.5 1530.4 L1471.8 1530.2 L1473.1 1530.0 L1474.4 1529.8 L1475.7 1529.5 L1476.9 1529.2 L1478.2 1528.9 L1479.5 1528.6 L1480.8 1528.3 L1482.1 1528.0 L1483.4 1527.7 L1484.6 1527.3 L1485.9 1527.0 L1487.2 1526.6 L1488.5 1526.3 L1489.8 1526.0 L1491.0 1525.6 L1492.3 1525.3 L1493.6 1525.0 L1494.9 1524.6 L1496.2 1524.3 L1496.2 1524.3 L1497.5 1524.0 L1498.7 1523.7 L1500.0 1523.3 L1501.3 1522.9 L1502.6 1522.6 L1503.9 1522.1 L1505.2 1521.7 L1506.4 1521.3 L1507.7 1520.9 L1509.0 1520.5 L1510.3 1520.1 L1511.6 1519.7 L1512.9 1519.3 L1514.1 1518.9 L1515.4 1518.6 L1516.7 1518.3 L1518.0 1518.0 L1519.3 1517.7 L1520.6 1517.5 L1521.8 1517.4 L1523.1 1517.2 L1524.4 1517.2 L1525.4 1517.2 L1525.7 1517.2 L1527.0 1517.2 L1528.2 1517.3 L1529.5 1517.5 L1530.8 1517.7 L1532.1 1518.0 L1533.4 1518.3 L1534.7 1518.6 L1535.9 1519.0 L1537.2 1519.4 L1538.5 1519.8 L1539.8 1520.2 L1541.1 1520.6 L1542.4 1521.1 L1543.6 1521.5 L1544.9 1521.9 L1546.2 1522.3 L1547.5 1522.7 L1547.5 1522.7 L1548.8 1523.2 L1550.1 1523.6 L1551.3 1524.1 L1552.6 1524.7 L1553.9 1525.2 L1555.2 1525.8 L1556.5 1526.4 L1557.8 1527.0 L1559.0 1527.5 L1560.3 1528.1 L1561.6 1528.6 L1562.9 1529.1 L1564.2 1529.6 L1565.5 1530.0 L1566.7 1530.4 L1568.0 1530.7 L1568.3 1530.7 L1569.3 1530.9 L1570.6 1531.1 L1571.9 1531.4 L1573.1 1531.6 L1574.4 1531.8 L1575.7 1532.0 L1577.0 1532.3 L1578.3 1532.5 L1579.6 1532.7 L1580.8 1532.9 L1582.1 1533.0 L1583.4 1533.2 L1584.7 1533.4 L1586.0 1533.6 L1587.3 1533.7 L1588.5 1533.9 L1589.8 1534.0 L1591.1 1534.2 L1592.4 1534.3 L1593.7 1534.5 L1595.0 1534.6 L1596.2 1534.7 L1597.5 1534.8 L1598.8 1534.9 L1600.1 1535.0 L1601.4 1535.1 L1602.7 1535.2 L1603.9 1535.3 L1605.2 1535.3 L1606.5 1535.4 L1607.8 1535.5 L1609.1 1535.5 L1609.4 1535.5 L1610.3 1535.5 L1611.6 1535.6 L1612.9 1535.6 L1614.2 1535.6 L1615.5 1535.7 L1616.8 1535.7 L1618.0 1535.8 L1619.3 1535.8 L1620.6 1535.8 L1621.9 1535.9 L1623.2 1535.9 L1624.5 1535.9 L1625.7 1535.9 L1627.0 1536.0 L1628.3 1536.0 L1629.6 1536.0 L1630.9 1536.0 L1632.2 1536.1 L1633.4 1536.1 L1634.7 1536.1 L1636.0 1536.1 L1637.3 1536.2 L1638.6 1536.2 L1639.9 1536.2 L1641.1 1536.2 L1642.4 1536.2 L1643.7 1536.2 L1645.0 1536.3 L1646.3 1536.3 L1647.6 1536.3 L1648.8 1536.3 L1650.1 1536.3 L1651.4 1536.3 L1652.7 1536.3 L1654.0 1536.3 L1655.2 1536.3 L1656.5 1536.3 L1656.5 1536.3 L1657.8 1536.3 L1659.1 1536.3 L1660.4 1536.3 L1661.7 1536.3 L1662.9 1536.3 L1664.2 1536.3 L1665.5 1536.3 L1666.8 1536.3 L1668.1 1536.3 L1669.4 1536.3 L1670.6 1536.3 L1671.9 1536.3 L1673.2 1536.3 L1674.5 1536.3 L1675.8 1536.3 L1677.1 1536.3 L1678.3 1536.3 L1679.6 1536.3 L1680.9 1536.3 L1682.2 1536.3 L1683.5 1536.3 L1684.8 1536.3 L1686.0 1536.3 L1687.3 1536.3 L1688.6 1536.3 L1688.6 1536.3" class="sp"/>
<path d="M405.8 1127.8 L407.1 1135.3 L408.4 1142.7 L409.6 1149.9 L410.9 1156.9 L412.2 1163.7 L412.2 1163.7 L413.5 1170.4 L414.8 1177.0 L416.1 1183.4 L417.3 1189.6 L418.6 1195.6 L418.6 1195.6 L419.9 1201.5 L421.2 1207.3 L422.5 1212.9 L423.8 1218.3 L425.0 1223.6 L425.0 1223.6 L426.3 1228.7 L427.6 1233.6 L428.9 1238.4 L430.2 1243.1 L431.5 1247.5 L431.5 1247.5 L432.7 1251.8 L434.0 1255.9 L435.3 1259.9 L436.6 1263.8 L437.9 1267.4 L437.9 1267.4 L439.2 1271.0 L440.4 1274.4 L441.7 1277.8 L443.0 1281.0 L444.3 1284.2 L445.6 1287.2 L446.8 1290.0 L447.5 1291.4 L448.1 1292.7 L449.4 1295.3 L450.7 1297.9 L452.0 1300.3 L453.3 1302.6 L454.5 1304.9 L455.8 1307.0 L457.1 1308.9 L457.1 1308.9 L458.4 1310.8 L459.7 1312.6 L461.0 1314.3 L462.2 1315.9 L463.5 1317.5 L464.8 1319.1 L466.1 1320.6 L467.4 1322.0 L468.7 1323.5 L469.9 1324.9 L469.9 1324.9 L471.2 1326.3 L472.5 1327.7 L473.8 1329.0 L475.1 1330.4 L476.4 1331.7 L477.6 1332.9 L478.9 1334.2 L480.2 1335.4 L481.5 1336.5 L482.8 1337.7 L482.8 1337.7 L484.1 1338.8 L485.3 1339.8 L486.6 1340.9 L487.9 1342.0 L489.2 1343.0 L490.5 1344.0 L491.7 1344.9 L493.0 1345.8 L494.3 1346.5 L495.6 1347.2 L495.6 1347.2 L496.9 1347.9 L498.2 1348.5 L499.4 1349.2 L500.7 1349.8 L502.0 1350.4 L503.3 1350.9 L504.6 1351.4 L505.9 1351.7 L507.1 1351.9 L508.4 1352.0 L508.4 1352.0 L509.7 1352.0 L511.0 1352.0 L512.3 1351.9 L513.6 1351.9 L514.8 1351.8 L516.1 1351.7 L517.4 1351.6 L518.7 1351.5 L520.0 1351.4 L521.3 1351.2 L521.3 1351.2 L522.5 1351.0 L523.8 1350.6 L525.1 1350.1 L526.4 1349.4 L527.7 1348.7 L528.9 1347.9 L530.2 1347.1 L531.5 1346.3 L532.8 1345.6 L534.1 1344.8 L534.1 1344.8 L535.4 1344.1 L536.6 1343.4 L537.9 1342.6 L539.2 1341.8 L540.5 1341.1 L541.8 1340.3 L543.1 1339.5 L544.3 1338.7 L545.6 1337.9 L546.9 1337.1 L548.2 1336.3 L549.5 1335.6 L550.1 1335.3 L550.8 1334.9 L552.0 1334.2 L553.3 1333.5 L554.6 1332.9 L555.9 1332.2 L557.2 1331.6 L558.5 1330.9 L559.7 1330.3 L561.0 1329.7 L562.3 1329.0 L563.6 1328.4 L564.9 1327.9 L566.1 1327.3 L566.1 1327.3 L567.4 1326.7 L568.7 1326.2 L570.0 1325.7 L571.3 1325.2 L572.6 1324.7 L573.8 1324.2 L575.1 1323.8 L576.4 1323.3 L577.7 1322.8 L579.0 1322.3 L580.3 1321.7 L581.5 1321.2 L582.2 1320.9 L582.8 1320.6 L584.1 1320.1 L585.4 1319.5 L586.7 1319.0 L588.0 1318.5 L589.2 1317.9 L590.5 1317.3 L591.8 1316.6 L593.1 1315.8 L594.4 1315.0 L595.7 1314.0 L596.0 1313.7 L596.9 1312.3 L598.2 1310.1 L598.9 1309.7 L599.5 1310.6 L600.8 1315.7 L602.1 1320.8 L602.7 1321.7 L603.4 1321.7 L604.6 1321.4 L605.9 1320.9 L607.2 1320.4 L608.5 1319.8 L609.8 1319.5 L611.0 1319.3 L611.0 1319.3 L612.3 1319.3 L613.6 1319.4 L614.9 1319.5 L616.2 1319.6 L617.5 1319.8 L618.7 1320.0 L620.0 1320.2 L621.3 1320.4 L622.6 1320.7 L623.9 1320.9 L623.9 1320.9 L625.2 1321.2 L626.4 1321.5 L627.7 1321.8 L629.0 1322.2 L630.3 1322.6 L631.6 1323.0 L632.9 1323.4 L634.1 1323.9 L635.4 1324.4 L636.7 1324.9 L636.7 1324.9 L638.0 1325.4 L639.3 1326.0 L640.6 1326.7 L641.8 1327.4 L643.1 1328.1 L644.4 1328.8 L645.7 1329.5 L647.0 1330.1 L648.2 1330.7 L649.5 1331.3 L649.5 1331.3 L650.8 1331.8 L652.1 1332.2 L653.4 1332.7 L654.7 1333.1 L655.9 1333.5 L657.2 1333.9 L658.5 1334.3 L659.8 1334.6 L661.1 1335.0 L662.4 1335.3 L662.4 1335.3 L663.6 1335.6 L664.9 1335.9 L666.2 1336.2 L667.5 1336.5 L668.8 1336.8 L670.1 1337.1 L671.3 1337.3 L672.6 1337.5 L673.9 1337.6 L675.2 1337.7 L675.2 1337.7 L676.5 1337.6 L677.8 1337.5 L679.0 1337.3 L680.3 1337.1 L681.6 1336.8 L682.9 1336.4 L684.2 1336.0 L685.5 1335.6 L686.4 1335.3 L686.7 1335.1 L688.0 1334.3 L689.3 1333.2 L690.6 1331.8 L691.9 1330.0 L693.1 1328.1 L694.4 1326.0 L695.7 1323.9 L696.0 1323.3 L697.0 1321.4 L698.3 1318.3 L699.6 1314.8 L700.8 1310.9 L702.1 1306.9 L703.4 1302.9 L704.1 1301.0 L704.7 1299.0 L706.0 1295.1 L707.3 1291.0 L708.5 1286.9 L709.8 1282.8 L711.1 1278.6 L712.1 1275.4 L712.4 1274.4 L713.7 1270.3 L715.0 1266.3 L716.2 1262.3 L717.5 1258.2 L718.8 1254.0 L720.1 1249.5 L721.4 1244.9 L722.3 1241.1 L722.7 1239.8 L723.9 1234.1 L725.2 1227.7 L726.5 1221.0 L727.8 1214.3 L729.1 1207.6 L730.3 1201.5 L731.3 1197.2 L731.6 1195.9 L732.9 1191.0 L734.2 1186.4 L735.5 1182.1 L736.8 1178.0 L738.0 1173.9 L739.3 1169.7 L740.6 1165.4 L741.9 1160.7 L743.2 1155.5 L743.5 1154.2 L744.5 1150.0 L745.7 1144.2 L747.0 1138.2 L748.3 1131.9 L749.6 1125.2 L750.9 1118.1 L752.2 1110.4 L753.4 1102.2 L754.7 1093.4 L755.4 1088.7 L756.0 1083.9 L757.3 1073.6 L758.6 1062.3 L759.9 1049.6 L761.1 1035.1 L762.4 1018.4 L763.7 999.4 L763.7 999.4 L765.0 972.4 L766.3 936.1 L767.5 896.8 L768.8 860.6 L768.8 860.6 L770.1 828.7 L771.4 798.1 L772.7 768.0 L774.0 737.9 L775.2 707.3 L775.6 699.4 L776.5 676.0 L777.8 645.1 L779.1 614.2 L780.4 582.8 L781.7 550.3 L782.9 516.2 L784.2 480.0 L784.2 480.0 L785.5 435.2 L786.8 385.9 L788.1 347.9 L788.4 342.0 L789.4 327.5 L790.6 311.6 L791.9 303.3 L792.2 302.9 L793.2 306.1 L794.5 318.4 L795.8 336.8 L796.1 342.0 L797.1 369.5 L798.3 427.2 L799.6 480.0 L799.6 480.0 L800.9 517.8 L802.2 552.0 L803.5 583.5 L804.8 613.0 L806.0 641.6 L807.3 670.1 L808.6 699.4 L808.6 699.4 L809.9 729.6 L811.2 759.9 L812.4 790.3 L813.7 820.4 L815.0 850.3 L816.3 879.5 L817.6 908.0 L818.9 935.7 L820.1 962.1 L821.4 987.3 L822.1 999.4 L822.7 1011.0 L824.0 1032.7 L825.3 1053.2 L826.6 1073.4 L827.5 1088.7 L827.8 1094.0 L829.1 1115.5 L830.4 1137.3 L831.7 1158.7 L833.0 1178.9 L834.3 1197.2 L834.3 1197.2 L835.5 1214.1 L836.8 1230.2 L838.1 1245.7 L839.4 1260.4 L840.7 1274.3 L842.0 1287.5 L843.2 1299.9 L843.9 1305.7 L844.5 1311.5 L845.8 1322.5 L847.1 1332.9 L848.4 1342.9 L849.6 1352.2 L850.9 1361.0 L852.2 1369.2 L852.5 1371.2 L853.5 1376.9 L854.8 1384.4 L856.1 1391.4 L857.3 1398.1 L858.6 1404.3 L859.9 1410.0 L861.2 1415.0 L861.2 1415.0 L862.5 1419.7 L863.8 1424.2 L865.0 1428.5 L866.3 1432.6 L867.6 1436.6 L868.9 1440.3 L870.2 1443.8 L871.5 1447.2 L872.7 1450.2 L874.0 1453.1 L875.3 1455.7 L876.6 1458.1 L876.6 1458.1 L877.9 1460.3 L879.2 1462.4 L880.4 1464.3 L881.7 1466.1 L883.0 1467.9 L884.3 1469.5 L885.6 1471.0 L886.8 1472.5 L888.1 1473.9 L889.4 1475.2 L890.7 1476.5 L890.7 1476.5 L892.0 1477.7 L893.3 1478.8 L894.5 1479.9 L895.8 1480.9 L897.1 1481.9 L898.4 1482.8 L899.7 1483.8 L900.0 1484.0 L901.0 1484.7 L902.2 1485.6 L903.5 1486.5 L904.8 1487.5 L906.1 1488.4 L907.4 1489.3 L908.7 1490.2 L909.9 1491.1 L911.2 1492.0 L912.5 1492.8 L913.8 1493.7 L915.1 1494.5 L916.4 1495.3 L917.6 1496.1 L918.9 1496.8 L920.2 1497.6 L921.5 1498.2 L922.8 1498.9 L924.1 1499.5 L925.3 1500.0 L926.6 1500.5 L927.3 1500.8 L927.9 1501.0 L929.2 1501.5 L930.5 1501.9 L931.7 1502.3 L933.0 1502.7 L934.3 1503.1 L935.6 1503.5 L936.9 1503.9 L938.2 1504.3 L939.4 1504.6 L940.7 1505.0 L942.0 1505.3 L943.3 1505.6 L944.6 1505.9 L945.9 1506.2 L947.1 1506.5 L948.4 1506.7 L949.7 1507.0 L951.0 1507.2 L952.3 1507.4 L953.6 1507.6 L954.5 1507.7 L954.8 1507.8 L956.1 1508.0 L957.4 1508.1 L958.7 1508.3 L960.0 1508.5 L961.3 1508.6 L962.5 1508.7 L963.8 1508.9 L965.1 1509.0 L966.4 1509.1 L967.7 1509.3 L968.9 1509.4 L970.2 1509.5 L971.5 1509.6 L972.8 1509.7 L974.1 1509.8 L975.4 1509.9 L976.6 1510.0 L977.9 1510.1 L979.2 1510.2 L980.5 1510.3 L981.8 1510.5 L981.8 1510.5 L983.1 1510.6 L984.3 1510.7 L985.6 1510.7 L986.9 1510.8 L988.2 1510.9 L989.5 1511.0 L990.8 1511.1 L992.0 1511.2 L993.3 1511.3 L994.6 1511.3 L995.9 1511.4 L997.2 1511.5 L998.5 1511.6 L999.7 1511.7 L1001.0 1511.8 L1002.3 1511.8 L1003.6 1511.9 L1004.9 1512.0 L1006.2 1512.1 L1007.4 1512.2 L1008.7 1512.3 L1009.4 1512.4 L1010.0 1512.4 L1011.3 1512.6 L1012.6 1512.7 L1013.8 1512.9 L1015.1 1513.1 L1016.4 1513.3 L1017.7 1513.5 L1019.0 1513.7 L1020.3 1513.9 L1021.5 1514.1 L1022.8 1514.3 L1024.1 1514.5 L1025.4 1514.6 L1026.7 1514.7 L1028.0 1514.8 L1029.2 1514.9 L1030.5 1514.9 L1031.2 1514.9 L1031.8 1514.9 L1033.1 1514.8 L1034.4 1514.6 L1035.7 1514.2 L1036.9 1513.8 L1038.2 1513.3 L1039.5 1512.7 L1040.8 1512.1 L1042.1 1511.4 L1043.4 1510.7 L1044.6 1510.0 L1045.9 1509.3 L1047.2 1508.5 L1048.5 1507.8 L1049.8 1507.1 L1050.1 1507.0 L1051.0 1506.5 L1052.3 1505.7 L1053.6 1504.9 L1054.9 1504.1 L1056.2 1503.2 L1057.5 1502.3 L1058.7 1501.4 L1060.0 1500.4 L1061.3 1499.5 L1062.6 1498.5 L1063.9 1497.5 L1065.2 1496.5 L1066.4 1495.5 L1067.7 1494.6 L1069.0 1493.6 L1070.3 1492.7 L1071.6 1491.9 L1072.9 1491.0 L1074.1 1490.3 L1075.4 1489.5 L1076.7 1488.9 L1077.3 1488.6 L1078.0 1488.3 L1079.3 1487.6 L1080.6 1487.0 L1081.8 1486.4 L1083.1 1485.8 L1084.4 1485.1 L1085.7 1484.5 L1087.0 1483.9 L1088.2 1483.3 L1089.5 1482.7 L1090.8 1482.2 L1092.1 1481.7 L1093.4 1481.2 L1094.7 1480.8 L1095.9 1480.4 L1097.2 1480.0 L1098.5 1479.8 L1099.8 1479.5 L1101.1 1479.4 L1102.4 1479.3 L1103.3 1479.3 L1103.6 1479.3 L1104.9 1479.4 L1106.2 1479.5 L1107.5 1479.8 L1108.8 1480.2 L1110.1 1480.6 L1111.3 1481.2 L1112.6 1481.8 L1113.9 1482.4 L1115.2 1483.2 L1116.5 1483.9 L1117.8 1484.7 L1119.0 1485.6 L1120.3 1486.5 L1121.6 1487.4 L1122.9 1488.3 L1124.2 1489.2 L1125.5 1490.1 L1126.7 1491.1 L1128.0 1492.0 L1129.3 1492.9 L1130.6 1493.7 L1131.9 1494.6 L1131.9 1494.6 L1133.1 1495.5 L1134.4 1496.4 L1135.7 1497.5 L1137.0 1498.6 L1138.3 1499.7 L1139.6 1500.9 L1140.8 1502.0 L1142.1 1503.2 L1143.4 1504.3 L1144.7 1505.4 L1146.0 1506.4 L1147.3 1507.4 L1148.5 1508.3 L1149.8 1509.0 L1151.1 1509.7 L1151.1 1509.7 L1152.4 1510.3 L1153.7 1510.8 L1155.0 1511.4 L1156.2 1512.0 L1157.5 1512.5 L1158.8 1513.0 L1160.1 1513.5 L1161.4 1514.0 L1162.7 1514.4 L1163.9 1514.8 L1165.2 1515.1 L1166.5 1515.4 L1167.8 1515.6 L1169.1 1515.7 L1170.3 1515.7 L1170.3 1515.7 L1171.6 1515.6 L1172.9 1515.5 L1174.2 1515.1 L1175.5 1514.7 L1176.8 1514.2 L1178.0 1513.6 L1179.3 1513.0 L1180.6 1512.3 L1181.9 1511.5 L1183.2 1510.7 L1184.5 1509.9 L1185.7 1509.1 L1187.0 1508.2 L1188.3 1507.4 L1189.6 1506.6 L1190.9 1505.8 L1192.2 1505.1 L1193.4 1504.5 L1194.7 1503.9 L1194.7 1503.9 L1196.0 1503.3 L1197.3 1502.7 L1198.6 1502.1 L1199.9 1501.4 L1201.1 1500.8 L1202.4 1500.1 L1203.7 1499.4 L1205.0 1498.8 L1206.3 1498.1 L1207.5 1497.5 L1208.8 1496.9 L1210.1 1496.4 L1211.4 1495.8 L1212.7 1495.4 L1214.0 1494.9 L1215.2 1494.6 L1216.5 1494.3 L1217.8 1494.0 L1219.1 1493.9 L1220.4 1493.8 L1220.7 1493.8 L1221.7 1493.8 L1222.9 1494.0 L1224.2 1494.2 L1225.5 1494.4 L1226.8 1494.8 L1228.1 1495.2 L1229.4 1495.6 L1230.6 1496.1 L1231.9 1496.6 L1233.2 1497.2 L1234.5 1497.8 L1235.8 1498.3 L1237.1 1498.9 L1238.3 1499.5 L1239.6 1500.0 L1239.6 1500.0 L1240.9 1500.6 L1242.2 1501.2 L1243.5 1501.9 L1244.8 1502.6 L1246.0 1503.4 L1247.3 1504.2 L1248.6 1505.0 L1249.9 1505.8 L1251.2 1506.7 L1252.4 1507.5 L1253.7 1508.3 L1255.0 1509.1 L1256.3 1509.9 L1257.6 1510.6 L1258.9 1511.2 L1260.1 1511.8 L1260.1 1511.8 L1261.4 1512.4 L1262.7 1513.0 L1264.0 1513.6 L1265.3 1514.3 L1266.6 1514.9 L1267.8 1515.5 L1269.1 1516.1 L1270.4 1516.7 L1271.7 1517.3 L1273.0 1517.9 L1274.3 1518.5 L1275.5 1519.0 L1276.8 1519.5 L1278.1 1520.0 L1279.4 1520.5 L1280.7 1520.9 L1282.0 1521.3 L1283.2 1521.6 L1284.5 1521.9 L1285.8 1522.1 L1287.1 1522.3 L1288.4 1522.4 L1289.6 1522.4 L1290.0 1522.4 L1290.9 1522.4 L1292.2 1522.4 L1293.5 1522.3 L1294.8 1522.2 L1296.1 1522.1 L1297.3 1521.9 L1298.6 1521.8 L1299.9 1521.6 L1301.2 1521.4 L1302.5 1521.2 L1303.8 1521.0 L1305.0 1520.8 L1306.3 1520.6 L1307.6 1520.4 L1308.9 1520.3 L1310.2 1520.1 L1310.2 1520.1 L1311.5 1520.0 L1312.7 1519.8 L1314.0 1519.7 L1315.3 1519.5 L1316.6 1519.4 L1317.9 1519.2 L1319.2 1519.1 L1320.4 1518.9 L1321.7 1518.7 L1323.0 1518.6 L1324.3 1518.5 L1325.6 1518.3 L1326.9 1518.2 L1328.1 1518.1 L1329.4 1518.0 L1330.7 1517.9 L1332.0 1517.9 L1333.3 1517.8 L1334.5 1517.8 L1334.9 1517.8 L1335.8 1517.8 L1337.1 1517.9 L1338.4 1517.9 L1339.7 1518.0 L1341.0 1518.1 L1342.2 1518.3 L1343.5 1518.4 L1344.8 1518.6 L1346.1 1518.8 L1347.4 1519.0 L1348.7 1519.2 L1349.9 1519.4 L1351.2 1519.7 L1352.5 1519.9 L1353.8 1520.1 L1355.1 1520.4 L1356.4 1520.6 L1357.6 1520.8 L1358.3 1520.9 L1358.9 1521.0 L1360.2 1521.2 L1361.5 1521.5 L1362.8 1521.7 L1364.1 1522.0 L1365.3 1522.2 L1366.6 1522.5 L1367.9 1522.8 L1369.2 1523.1 L1370.5 1523.4 L1371.7 1523.7 L1373.0 1524.0 L1374.3 1524.2 L1375.6 1524.5 L1376.9 1524.8 L1378.2 1525.1 L1379.4 1525.4 L1380.7 1525.6 L1382.0 1525.9 L1383.3 1526.1 L1384.3 1526.3 L1384.6 1526.4 L1385.9 1526.6 L1387.1 1526.9 L1388.4 1527.1 L1389.7 1527.3 L1391.0 1527.6 L1392.3 1527.9 L1393.6 1528.1 L1394.8 1528.4 L1396.1 1528.6 L1397.4 1528.9 L1398.7 1529.2 L1400.0 1529.4 L1401.3 1529.7 L1402.5 1529.9 L1403.8 1530.2 L1405.1 1530.4 L1406.4 1530.6 L1407.7 1530.9 L1408.9 1531.1 L1410.2 1531.3 L1411.5 1531.5 L1412.8 1531.6 L1414.1 1531.8 L1415.4 1531.9 L1416.6 1532.1 L1417.9 1532.2 L1419.2 1532.3 L1420.5 1532.4 L1421.8 1532.4 L1423.1 1532.5 L1424.3 1532.5 L1425.0 1532.5 L1425.6 1532.5 L1426.9 1532.5 L1428.2 1532.5 L1429.5 1532.5 L1430.8 1532.5 L1432.0 1532.5 L1433.3 1532.4 L1434.6 1532.4 L1435.9 1532.4 L1437.2 1532.4 L1438.5 1532.3 L1439.7 1532.3 L1441.0 1532.3 L1442.3 1532.2 L1443.6 1532.2 L1444.9 1532.1 L1446.2 1532.1 L1447.4 1532.1 L1448.7 1532.0 L1450.0 1531.9 L1451.3 1531.9 L1452.6 1531.8 L1453.8 1531.8 L1455.1 1531.7 L1456.4 1531.7 L1457.7 1531.6 L1459.0 1531.5 L1460.3 1531.4 L1461.5 1531.4 L1462.8 1531.3 L1464.1 1531.2 L1465.4 1531.2 L1466.0 1531.1 L1466.7 1531.1 L1468.0 1531.0 L1469.2 1530.8 L1470.5 1530.7 L1471.8 1530.5 L1473.1 1530.3 L1474.4 1530.0 L1475.7 1529.8 L1476.9 1529.5 L1478.2 1529.2 L1479.5 1528.9 L1480.8 1528.6 L1482.1 1528.3 L1483.4 1528.0 L1484.6 1527.7 L1485.9 1527.3 L1487.2 1527.0 L1488.5 1526.7 L1489.8 1526.3 L1491.0 1526.0 L1492.3 1525.7 L1493.6 1525.4 L1494.9 1525.1 L1496.2 1524.8 L1496.2 1524.8 L1497.5 1524.5 L1498.7 1524.1 L1500.0 1523.8 L1501.3 1523.4 L1502.6 1523.0 L1503.9 1522.6 L1505.2 1522.2 L1506.4 1521.8 L1507.7 1521.4 L1509.0 1521.0 L1510.3 1520.6 L1511.6 1520.2 L1512.9 1519.9 L1514.1 1519.5 L1515.4 1519.2 L1516.7 1518.9 L1518.0 1518.6 L1519.3 1518.4 L1520.6 1518.2 L1521.8 1518.0 L1523.1 1517.9 L1524.4 1517.8 L1525.4 1517.8 L1525.7 1517.8 L1527.0 1517.9 L1528.2 1518.0 L1529.5 1518.1 L1530.8 1518.3 L1532.1 1518.6 L1533.4 1518.9 L1534.7 1519.2 L1535.9 1519.6 L1537.2 1519.9 L1538.5 1520.3 L1539.8 1520.7 L1541.1 1521.2 L1542.4 1521.6 L1543.6 1522.0 L1544.9 1522.4 L1546.2 1522.8 L1547.5 1523.2 L1547.5 1523.2 L1548.8 1523.6 L1550.1 1524.1 L1551.3 1524.6 L1552.6 1525.1 L1553.9 1525.6 L1555.2 1526.2 L1556.5 1526.7 L1557.8 1527.3 L1559.0 1527.9 L1560.3 1528.4 L1561.6 1528.9 L1562.9 1529.4 L1564.2 1529.9 L1565.5 1530.3 L1566.7 1530.6 L1568.0 1530.9 L1568.3 1531.0 L1569.3 1531.1 L1570.6 1531.4 L1571.9 1531.6 L1573.1 1531.8 L1574.4 1532.0 L1575.7 1532.2 L1577.0 1532.4 L1578.3 1532.6 L1579.6 1532.8 L1580.8 1533.0 L1582.1 1533.2 L1583.4 1533.4 L1584.7 1533.6 L1586.0 1533.7 L1587.3 1533.9 L1588.5 1534.0 L1589.8 1534.2 L1591.1 1534.3 L1592.4 1534.5 L1593.7 1534.6 L1595.0 1534.7 L1596.2 1534.8 L1597.5 1534.9 L1598.8 1535.0 L1600.1 1535.1 L1601.4 1535.2 L1602.7 1535.3 L1603.9 1535.4 L1605.2 1535.4 L1606.5 1535.5 L1607.8 1535.6 L1609.1 1535.6 L1609.4 1535.6 L1610.3 1535.6 L1611.6 1535.7 L1612.9 1535.7 L1614.2 1535.7 L1615.5 1535.8 L1616.8 1535.8 L1618.0 1535.8 L1619.3 1535.9 L1620.6 1535.9 L1621.9 1535.9 L1623.2 1536.0 L1624.5 1536.0 L1625.7 1536.0 L1627.0 1536.1 L1628.3 1536.1 L1629.6 1536.1 L1630.9 1536.1 L1632.2 1536.1 L1633.4 1536.2 L1634.7 1536.2 L1636.0 1536.2 L1637.3 1536.2 L1638.6 1536.3 L1639.9 1536.3 L1641.1 1536.3 L1642.4 1536.3 L1643.7 1536.3 L1645.0 1536.3 L1646.3 1536.3 L1647.6 1536.3 L1648.8 1536.4 L1650.1 1536.4 L1651.4 1536.4 L1652.7 1536.4 L1654.0 1536.4 L1655.2 1536.4 L1656.5 1536.4 L1656.5 1536.4 L1657.8 1536.4 L1659.1 1536.4 L1660.4 1536.4 L1661.7 1536.4 L1662.9 1536.4 L1664.2 1536.4 L1665.5 1536.4 L1666.8 1536.4 L1668.1 1536.4 L1669.4 1536.4 L1670.6 1536.4 L1671.9 1536.4 L1673.2 1536.4 L1674.5 1536.4 L1675.8 1536.4 L1677.1 1536.4 L1678.3 1536.4 L1679.6 1536.4 L1680.9 1536.4 L1682.2 1536.4 L1683.5 1536.4 L1684.8 1536.4 L1686.0 1536.4 L1687.3 1536.4 L1688.6 1536.4 L1688.6 1536.4" class="sp"/>
<path d="M405.8 1163.7 L407.1 1168.3 L408.4 1173.0 L409.6 1177.8 L410.9 1182.8 L412.2 1187.8 L413.5 1193.0 L414.1 1195.6 L414.8 1198.3 L416.1 1203.9 L417.3 1209.6 L418.6 1215.3 L419.6 1219.6 L419.9 1221.0 L421.2 1226.9 L422.5 1232.8 L423.8 1238.4 L425.0 1243.5 L425.0 1243.5 L426.3 1248.0 L427.6 1252.1 L428.9 1255.9 L430.2 1259.7 L431.5 1263.5 L431.5 1263.5 L432.7 1267.3 L434.0 1271.2 L435.3 1274.9 L436.6 1278.5 L437.9 1281.8 L437.9 1281.8 L439.2 1284.8 L440.4 1287.7 L441.7 1290.5 L443.0 1293.1 L444.3 1295.7 L445.6 1298.2 L446.8 1300.6 L447.5 1301.8 L448.1 1302.9 L449.4 1305.3 L450.7 1307.5 L452.0 1309.7 L453.3 1311.9 L454.5 1313.9 L455.8 1315.9 L457.1 1317.7 L457.1 1317.7 L458.4 1319.5 L459.7 1321.2 L461.0 1322.8 L462.2 1324.4 L463.5 1326.0 L464.8 1327.5 L466.1 1328.9 L467.4 1330.3 L468.7 1331.6 L469.9 1332.9 L469.9 1332.9 L471.2 1334.1 L472.5 1335.2 L473.8 1336.3 L475.1 1337.4 L476.4 1338.4 L477.6 1339.4 L478.9 1340.4 L480.2 1341.3 L481.5 1342.3 L482.8 1343.2 L482.8 1343.2 L484.1 1344.2 L485.3 1345.2 L486.6 1346.1 L487.9 1347.1 L489.2 1348.0 L490.5 1348.9 L491.7 1349.8 L493.0 1350.6 L494.3 1351.4 L495.6 1352.0 L495.6 1352.0 L496.9 1352.6 L498.2 1353.2 L499.4 1353.8 L500.7 1354.4 L502.0 1354.9 L503.3 1355.4 L504.6 1355.8 L505.9 1356.2 L507.1 1356.5 L508.4 1356.8 L508.4 1356.8 L509.7 1357.0 L511.0 1357.3 L512.3 1357.5 L513.6 1357.7 L514.8 1357.9 L516.1 1358.1 L517.4 1358.2 L518.7 1358.3 L520.0 1358.4 L521.3 1358.4 L521.3 1358.4 L522.5 1358.4 L523.8 1358.3 L525.1 1358.2 L526.4 1358.0 L527.7 1357.8 L528.9 1357.6 L530.2 1357.4 L531.5 1357.2 L532.8 1357.0 L534.1 1356.8 L534.1 1356.8 L535.4 1356.6 L536.6 1356.4 L537.9 1356.2 L539.2 1355.9 L540.5 1355.7 L541.8 1355.4 L543.1 1355.1 L544.3 1354.9 L545.6 1354.6 L546.9 1354.3 L548.2 1354.0 L549.5 1353.8 L550.1 1353.6 L550.8 1353.5 L552.0 1353.2 L553.3 1352.8 L554.6 1352.5 L555.9 1352.2 L557.2 1351.8 L558.5 1351.5 L559.7 1351.1 L561.0 1350.8 L562.3 1350.5 L563.6 1350.2 L564.9 1349.9 L566.1 1349.6 L566.1 1349.6 L567.4 1349.4 L568.7 1349.2 L570.0 1349.0 L571.3 1348.7 L572.6 1348.5 L573.8 1348.4 L575.1 1348.2 L576.4 1348.0 L577.7 1347.8 L579.0 1347.6 L580.3 1347.5 L581.5 1347.3 L582.2 1347.2 L582.8 1347.1 L584.1 1347.0 L585.4 1346.9 L586.7 1346.8 L588.0 1346.7 L589.2 1346.6 L590.5 1346.5 L591.8 1346.4 L593.1 1346.2 L594.4 1346.0 L595.7 1345.7 L596.0 1345.6 L596.9 1344.7 L598.2 1342.8 L598.9 1342.4 L599.5 1343.3 L600.8 1348.0 L602.1 1352.8 L602.7 1353.6 L603.4 1353.6 L604.6 1353.4 L605.9 1353.1 L607.2 1352.7 L608.5 1352.4 L609.8 1352.1 L611.0 1352.0 L611.0 1352.0 L612.3 1352.0 L613.6 1352.0 L614.9 1352.0 L616.2 1352.0 L617.5 1352.0 L618.7 1352.0 L620.0 1352.0 L621.3 1352.0 L622.6 1352.0 L623.9 1352.0 L623.9 1352.0 L625.2 1352.0 L626.4 1352.1 L627.7 1352.1 L629.0 1352.2 L630.3 1352.2 L631.6 1352.3 L632.9 1352.4 L634.1 1352.6 L635.4 1352.7 L636.7 1352.8 L636.7 1352.8 L638.0 1353.0 L639.3 1353.3 L640.6 1353.6 L641.8 1354.1 L643.1 1354.5 L644.4 1355.0 L645.7 1355.5 L647.0 1356.0 L648.2 1356.4 L649.5 1356.8 L649.5 1356.8 L650.8 1357.2 L652.1 1357.5 L653.4 1357.9 L654.7 1358.3 L655.9 1358.7 L657.2 1359.0 L658.5 1359.3 L659.8 1359.6 L661.1 1359.8 L662.4 1360.0 L662.4 1360.0 L663.6 1360.1 L664.9 1360.2 L666.2 1360.4 L667.5 1360.5 L668.8 1360.6 L670.1 1360.6 L671.3 1360.7 L672.6 1360.7 L673.9 1360.8 L675.2 1360.8 L675.2 1360.8 L676.5 1360.7 L677.8 1360.5 L679.0 1360.2 L680.3 1359.7 L681.6 1359.2 L682.9 1358.6 L684.2 1357.9 L684.8 1357.6 L685.5 1357.2 L686.7 1356.1 L688.0 1354.5 L689.3 1352.7 L690.6 1350.6 L691.9 1348.3 L693.1 1345.8 L694.4 1343.2 L694.4 1343.2 L695.7 1340.4 L697.0 1337.0 L698.3 1333.2 L699.6 1329.1 L700.8 1324.8 L702.1 1320.4 L702.4 1319.3 L703.4 1315.9 L704.7 1311.1 L706.0 1306.0 L707.3 1300.7 L708.5 1295.4 L709.8 1290.0 L710.5 1287.4 L711.1 1284.8 L712.4 1279.4 L713.7 1274.1 L715.0 1268.7 L716.2 1263.2 L717.5 1257.7 L718.8 1252.2 L720.1 1246.7 L721.4 1241.1 L721.4 1241.1 L722.7 1235.5 L723.9 1229.7 L725.2 1223.8 L726.5 1218.0 L727.8 1212.2 L729.1 1206.5 L730.3 1201.1 L731.3 1197.2 L731.6 1196.0 L732.9 1191.2 L734.2 1186.8 L735.5 1182.5 L736.8 1178.3 L738.0 1174.2 L739.3 1169.9 L740.6 1165.5 L741.9 1160.7 L743.2 1155.5 L743.5 1154.2 L744.5 1150.0 L745.7 1144.2 L747.0 1138.2 L748.3 1131.9 L749.6 1125.2 L750.9 1118.1 L752.2 1110.4 L753.4 1102.2 L754.7 1093.4 L755.4 1088.7 L756.0 1083.9 L757.3 1073.6 L758.6 1062.3 L759.9 1049.6 L761.1 1035.1 L762.4 1018.4 L763.7 999.4 L763.7 999.4 L765.0 972.4 L766.3 936.1 L767.5 896.8 L768.8 860.6 L768.8 860.6 L770.1 828.7 L771.4 798.1 L772.7 768.0 L774.0 737.9 L775.2 707.3 L775.6 699.4 L776.5 676.0 L777.8 645.1 L779.1 614.2 L780.4 582.8 L781.7 550.3 L782.9 516.2 L784.2 480.0 L784.2 480.0 L785.5 435.2 L786.8 385.9 L788.1 347.9 L788.4 342.0 L789.4 327.5 L790.6 311.6 L791.9 303.3 L792.2 302.9 L793.2 306.1 L794.5 318.4 L795.8 336.8 L796.1 342.0 L797.1 369.5 L798.3 427.2 L799.6 480.0 L799.6 480.0 L800.9 517.8 L802.2 552.0 L803.5 583.5 L804.8 613.0 L806.0 641.6 L807.3 670.1 L808.6 699.4 L808.6 699.4 L809.9 729.6 L811.2 759.9 L812.4 790.3 L813.7 820.4 L815.0 850.3 L816.3 879.5 L817.6 908.0 L818.9 935.7 L820.1 962.1 L821.4 987.3 L822.1 999.4 L822.7 1011.0 L824.0 1032.7 L825.3 1053.2 L826.6 1073.4 L827.5 1088.7 L827.8 1094.0 L829.1 1115.5 L830.4 1137.3 L831.7 1158.7 L833.0 1178.9 L834.3 1197.2 L834.3 1197.2 L835.5 1214.1 L836.8 1230.2 L838.1 1245.7 L839.4 1260.4 L840.7 1274.3 L842.0 1287.5 L843.2 1299.9 L843.9 1305.7 L844.5 1311.5 L845.8 1322.5 L847.1 1332.9 L848.4 1342.9 L849.6 1352.2 L850.9 1361.0 L852.2 1369.2 L852.5 1371.2 L853.5 1376.9 L854.8 1384.4 L856.1 1391.4 L857.3 1398.1 L858.6 1404.3 L859.9 1410.0 L861.2 1415.0 L861.2 1415.0 L862.5 1419.7 L863.8 1424.2 L865.0 1428.5 L866.3 1432.6 L867.6 1436.6 L868.9 1440.3 L870.2 1443.8 L871.5 1447.2 L872.7 1450.2 L874.0 1453.1 L875.3 1455.7 L876.6 1458.1 L876.6 1458.1 L877.9 1460.3 L879.2 1462.3 L880.4 1464.2 L881.7 1466.0 L883.0 1467.6 L884.3 1469.2 L885.6 1470.7 L886.8 1472.2 L888.1 1473.6 L889.4 1475.1 L890.7 1476.5 L890.7 1476.5 L892.0 1477.9 L893.3 1479.3 L894.5 1480.6 L895.8 1482.0 L897.1 1483.2 L898.4 1484.4 L899.7 1485.4 L900.0 1485.7 L901.0 1486.4 L902.2 1487.4 L903.5 1488.4 L904.8 1489.3 L906.1 1490.2 L907.4 1491.1 L908.7 1492.0 L909.9 1492.9 L911.2 1493.7 L912.5 1494.6 L913.8 1495.4 L915.1 1496.1 L916.4 1496.9 L917.6 1497.6 L918.9 1498.3 L920.2 1498.9 L921.5 1499.6 L922.8 1500.2 L924.1 1500.7 L925.3 1501.2 L926.6 1501.7 L927.3 1502.0 L927.9 1502.2 L929.2 1502.6 L930.5 1503.0 L931.7 1503.5 L933.0 1503.9 L934.3 1504.2 L935.6 1504.6 L936.9 1505.0 L938.2 1505.3 L939.4 1505.7 L940.7 1506.0 L942.0 1506.3 L943.3 1506.6 L944.6 1506.9 L945.9 1507.2 L947.1 1507.5 L948.4 1507.7 L949.7 1507.9 L951.0 1508.2 L952.3 1508.4 L953.6 1508.6 L954.5 1508.7 L954.8 1508.7 L956.1 1508.9 L957.4 1509.1 L958.7 1509.2 L960.0 1509.4 L961.3 1509.5 L962.5 1509.7 L963.8 1509.8 L965.1 1509.9 L966.4 1510.1 L967.7 1510.2 L968.9 1510.3 L970.2 1510.4 L971.5 1510.5 L972.8 1510.6 L974.1 1510.7 L975.4 1510.8 L976.6 1510.9 L977.9 1511.0 L979.2 1511.1 L980.5 1511.2 L981.8 1511.3 L981.8 1511.3 L983.1 1511.4 L984.3 1511.5 L985.6 1511.6 L986.9 1511.7 L988.2 1511.8 L989.5 1511.9 L990.8 1512.0 L992.0 1512.0 L993.3 1512.1 L994.6 1512.2 L995.9 1512.3 L997.2 1512.3 L998.5 1512.4 L999.7 1512.5 L1001.0 1512.6 L1002.3 1512.7 L1003.6 1512.8 L1004.9 1512.8 L1006.2 1512.9 L1007.4 1513.0 L1008.7 1513.1 L1009.4 1513.2 L1010.0 1513.3 L1011.3 1513.4 L1012.6 1513.5 L1013.8 1513.7 L1015.1 1513.9 L1016.4 1514.1 L1017.7 1514.3 L1019.0 1514.5 L1020.3 1514.7 L1021.5 1514.9 L1022.8 1515.0 L1024.1 1515.2 L1025.4 1515.3 L1026.7 1515.5 L1028.0 1515.6 L1029.2 1515.6 L1030.5 1515.7 L1031.2 1515.7 L1031.8 1515.7 L1033.1 1515.5 L1034.4 1515.3 L1035.7 1515.0 L1036.9 1514.6 L1038.2 1514.1 L1039.5 1513.5 L1040.8 1512.9 L1042.1 1512.3 L1043.4 1511.6 L1044.6 1510.9 L1045.9 1510.2 L1047.2 1509.5 L1048.5 1508.8 L1049.8 1508.1 L1050.1 1508.0 L1051.0 1507.5 L1052.3 1506.7 L1053.6 1506.0 L1054.9 1505.2 L1056.2 1504.3 L1057.5 1503.5 L1058.7 1502.5 L1060.0 1501.6 L1061.3 1500.7 L1062.6 1499.7 L1063.9 1498.8 L1065.2 1497.8 L1066.4 1496.9 L1067.7 1495.9 L1069.0 1495.0 L1070.3 1494.2 L1071.6 1493.3 L1072.9 1492.5 L1074.1 1491.8 L1075.4 1491.0 L1076.7 1490.4 L1077.3 1490.1 L1078.0 1489.8 L1079.3 1489.2 L1080.6 1488.6 L1081.8 1488.0 L1083.1 1487.4 L1084.4 1486.8 L1085.7 1486.2 L1087.0 1485.6 L1088.2 1485.0 L1089.5 1484.5 L1090.8 1483.9 L1092.1 1483.4 L1093.4 1483.0 L1094.7 1482.6 L1095.9 1482.2 L1097.2 1481.9 L1098.5 1481.6 L1099.8 1481.4 L1101.1 1481.2 L1102.4 1481.1 L1103.3 1481.1 L1103.6 1481.1 L1104.9 1481.2 L1106.2 1481.4 L1107.5 1481.6 L1108.8 1482.0 L1110.1 1482.4 L1111.3 1482.9 L1112.6 1483.5 L1113.9 1484.2 L1115.2 1484.9 L1116.5 1485.6 L1117.8 1486.4 L1119.0 1487.2 L1120.3 1488.1 L1121.6 1488.9 L1122.9 1489.8 L1124.2 1490.7 L1125.5 1491.6 L1126.7 1492.5 L1128.0 1493.4 L1129.3 1494.3 L1130.6 1495.1 L1131.9 1496.0 L1131.9 1496.0 L1133.1 1496.8 L1134.4 1497.7 L1135.7 1498.7 L1137.0 1499.8 L1138.3 1500.9 L1139.6 1502.0 L1140.8 1503.2 L1142.1 1504.3 L1143.4 1505.4 L1144.7 1506.4 L1146.0 1507.4 L1147.3 1508.4 L1148.5 1509.2 L1149.8 1510.0 L1151.1 1510.6 L1151.1 1510.6 L1152.4 1511.1 L1153.7 1511.7 L1155.0 1512.3 L1156.2 1512.8 L1157.5 1513.3 L1158.8 1513.8 L1160.1 1514.3 L1161.4 1514.8 L1162.7 1515.2 L1163.9 1515.5 L1165.2 1515.8 L1166.5 1516.1 L1167.8 1516.3 L1169.1 1516.4 L1170.3 1516.4 L1170.3 1516.4 L1171.6 1516.4 L1172.9 1516.2 L1174.2 1515.9 L1175.5 1515.5 L1176.8 1515.0 L1178.0 1514.4 L1179.3 1513.8 L1180.6 1513.1 L1181.9 1512.3 L1183.2 1511.6 L1184.5 1510.8 L1185.7 1510.0 L1187.0 1509.2 L1188.3 1508.4 L1189.6 1507.6 L1190.9 1506.9 L1192.2 1506.2 L1193.4 1505.5 L1194.7 1505.0 L1194.7 1505.0 L1196.0 1504.4 L1197.3 1503.8 L1198.6 1503.2 L1199.9 1502.6 L1201.1 1501.9 L1202.4 1501.3 L1203.7 1500.7 L1205.0 1500.0 L1206.3 1499.4 L1207.5 1498.8 L1208.8 1498.2 L1210.1 1497.7 L1211.4 1497.2 L1212.7 1496.7 L1214.0 1496.3 L1215.2 1495.9 L1216.5 1495.6 L1217.8 1495.4 L1219.1 1495.3 L1220.4 1495.2 L1220.7 1495.2 L1221.7 1495.2 L1222.9 1495.3 L1224.2 1495.5 L1225.5 1495.8 L1226.8 1496.1 L1228.1 1496.5 L1229.4 1497.0 L1230.6 1497.4 L1231.9 1497.9 L1233.2 1498.5 L1234.5 1499.0 L1235.8 1499.6 L1237.1 1500.1 L1238.3 1500.7 L1239.6 1501.2 L1239.6 1501.2 L1240.9 1501.8 L1242.2 1502.4 L1243.5 1503.0 L1244.8 1503.7 L1246.0 1504.5 L1247.3 1505.3 L1248.6 1506.1 L1249.9 1506.9 L1251.2 1507.7 L1252.4 1508.5 L1253.7 1509.3 L1255.0 1510.0 L1256.3 1510.8 L1257.6 1511.4 L1258.9 1512.1 L1260.1 1512.7 L1260.1 1512.7 L1261.4 1513.2 L1262.7 1513.8 L1264.0 1514.4 L1265.3 1515.0 L1266.6 1515.6 L1267.8 1516.2 L1269.1 1516.8 L1270.4 1517.4 L1271.7 1518.0 L1273.0 1518.5 L1274.3 1519.1 L1275.5 1519.6 L1276.8 1520.1 L1278.1 1520.6 L1279.4 1521.0 L1280.7 1521.4 L1282.0 1521.8 L1283.2 1522.1 L1284.5 1522.4 L1285.8 1522.6 L1287.1 1522.8 L1288.4 1522.9 L1289.6 1522.9 L1290.0 1523.0 L1290.9 1522.9 L1292.2 1522.9 L1293.5 1522.8 L1294.8 1522.7 L1296.1 1522.6 L1297.3 1522.4 L1298.6 1522.3 L1299.9 1522.1 L1301.2 1521.9 L1302.5 1521.7 L1303.8 1521.5 L1305.0 1521.4 L1306.3 1521.2 L1307.6 1521.0 L1308.9 1520.8 L1310.2 1520.7 L1310.2 1520.7 L1311.5 1520.6 L1312.7 1520.4 L1314.0 1520.3 L1315.3 1520.1 L1316.6 1520.0 L1317.9 1519.8 L1319.2 1519.7 L1320.4 1519.5 L1321.7 1519.4 L1323.0 1519.2 L1324.3 1519.1 L1325.6 1518.9 L1326.9 1518.8 L1328.1 1518.7 L1329.4 1518.6 L1330.7 1518.6 L1332.0 1518.5 L1333.3 1518.5 L1334.5 1518.5 L1334.9 1518.5 L1335.8 1518.5 L1337.1 1518.5 L1338.4 1518.6 L1339.7 1518.7 L1341.0 1518.8 L1342.2 1518.9 L1343.5 1519.1 L1344.8 1519.2 L1346.1 1519.4 L1347.4 1519.6 L1348.7 1519.8 L1349.9 1520.0 L1351.2 1520.3 L1352.5 1520.5 L1353.8 1520.7 L1355.1 1520.9 L1356.4 1521.1 L1357.6 1521.4 L1358.3 1521.5 L1358.9 1521.6 L1360.2 1521.8 L1361.5 1522.0 L1362.8 1522.2 L1364.1 1522.5 L1365.3 1522.7 L1366.6 1523.0 L1367.9 1523.3 L1369.2 1523.6 L1370.5 1523.8 L1371.7 1524.1 L1373.0 1524.4 L1374.3 1524.7 L1375.6 1525.0 L1376.9 1525.3 L1378.2 1525.5 L1379.4 1525.8 L1380.7 1526.0 L1382.0 1526.3 L1383.3 1526.5 L1384.3 1526.7 L1384.6 1526.8 L1385.9 1527.0 L1387.1 1527.2 L1388.4 1527.5 L1389.7 1527.7 L1391.0 1527.9 L1392.3 1528.2 L1393.6 1528.5 L1394.8 1528.7 L1396.1 1529.0 L1397.4 1529.2 L1398.7 1529.5 L1400.0 1529.7 L1401.3 1530.0 L1402.5 1530.2 L1403.8 1530.4 L1405.1 1530.7 L1406.4 1530.9 L1407.7 1531.1 L1408.9 1531.3 L1410.2 1531.5 L1411.5 1531.7 L1412.8 1531.9 L1414.1 1532.0 L1415.4 1532.2 L1416.6 1532.3 L1417.9 1532.4 L1419.2 1532.5 L1420.5 1532.6 L1421.8 1532.6 L1423.1 1532.7 L1424.3 1532.7 L1425.0 1532.7 L1425.6 1532.7 L1426.9 1532.7 L1428.2 1532.7 L1429.5 1532.7 L1430.8 1532.7 L1432.0 1532.7 L1433.3 1532.6 L1434.6 1532.6 L1435.9 1532.6 L1437.2 1532.6 L1438.5 1532.5 L1439.7 1532.5 L1441.0 1532.5 L1442.3 1532.4 L1443.6 1532.4 L1444.9 1532.3 L1446.2 1532.3 L1447.4 1532.3 L1448.7 1532.2 L1450.0 1532.2 L1451.3 1532.1 L1452.6 1532.0 L1453.8 1532.0 L1455.1 1531.9 L1456.4 1531.9 L1457.7 1531.8 L1459.0 1531.7 L1460.3 1531.7 L1461.5 1531.6 L1462.8 1531.5 L1464.1 1531.5 L1465.4 1531.4 L1466.0 1531.4 L1466.7 1531.3 L1468.0 1531.2 L1469.2 1531.1 L1470.5 1530.9 L1471.8 1530.7 L1473.1 1530.5 L1474.4 1530.3 L1475.7 1530.1 L1476.9 1529.8 L1478.2 1529.5 L1479.5 1529.2 L1480.8 1528.9 L1482.1 1528.6 L1483.4 1528.3 L1484.6 1528.0 L1485.9 1527.7 L1487.2 1527.4 L1488.5 1527.0 L1489.8 1526.7 L1491.0 1526.4 L1492.3 1526.1 L1493.6 1525.8 L1494.9 1525.5 L1496.2 1525.2 L1496.2 1525.2 L1497.5 1524.9 L1498.7 1524.6 L1500.0 1524.3 L1501.3 1523.9 L1502.6 1523.5 L1503.9 1523.1 L1505.2 1522.7 L1506.4 1522.3 L1507.7 1522.0 L1509.0 1521.6 L1510.3 1521.2 L1511.6 1520.8 L1512.9 1520.4 L1514.1 1520.1 L1515.4 1519.8 L1516.7 1519.5 L1518.0 1519.2 L1519.3 1519.0 L1520.6 1518.8 L1521.8 1518.6 L1523.1 1518.5 L1524.4 1518.5 L1525.4 1518.5 L1525.7 1518.5 L1527.0 1518.5 L1528.2 1518.6 L1529.5 1518.8 L1530.8 1519.0 L1532.1 1519.2 L1533.4 1519.5 L1534.7 1519.8 L1535.9 1520.1 L1537.2 1520.5 L1538.5 1520.9 L1539.8 1521.3 L1541.1 1521.7 L1542.4 1522.1 L1543.6 1522.5 L1544.9 1522.9 L1546.2 1523.3 L1547.5 1523.7 L1547.5 1523.7 L1548.8 1524.1 L1550.1 1524.5 L1551.3 1525.0 L1552.6 1525.5 L1553.9 1526.0 L1555.2 1526.6 L1556.5 1527.1 L1557.8 1527.7 L1559.0 1528.2 L1560.3 1528.7 L1561.6 1529.2 L1562.9 1529.7 L1564.2 1530.1 L1565.5 1530.5 L1566.7 1530.9 L1568.0 1531.1 L1568.3 1531.2 L1569.3 1531.4 L1570.6 1531.6 L1571.9 1531.8 L1573.1 1532.0 L1574.4 1532.2 L1575.7 1532.4 L1577.0 1532.6 L1578.3 1532.8 L1579.6 1533.0 L1580.8 1533.2 L1582.1 1533.4 L1583.4 1533.6 L1584.7 1533.7 L1586.0 1533.9 L1587.3 1534.0 L1588.5 1534.2 L1589.8 1534.3 L1591.1 1534.5 L1592.4 1534.6 L1593.7 1534.7 L1595.0 1534.8 L1596.2 1534.9 L1597.5 1535.1 L1598.8 1535.2 L1600.1 1535.2 L1601.4 1535.3 L1602.7 1535.4 L1603.9 1535.5 L1605.2 1535.5 L1606.5 1535.6 L1607.8 1535.6 L1609.1 1535.7 L1609.4 1535.7 L1610.3 1535.7 L1611.6 1535.8 L1612.9 1535.8 L1614.2 1535.8 L1615.5 1535.9 L1616.8 1535.9 L1618.0 1535.9 L1619.3 1536.0 L1620.6 1536.0 L1621.9 1536.0 L1623.2 1536.1 L1624.5 1536.1 L1625.7 1536.1 L1627.0 1536.1 L1628.3 1536.2 L1629.6 1536.2 L1630.9 1536.2 L1632.2 1536.2 L1633.4 1536.2 L1634.7 1536.3 L1636.0 1536.3 L1637.3 1536.3 L1638.6 1536.3 L1639.9 1536.3 L1641.1 1536.4 L1642.4 1536.4 L1643.7 1536.4 L1645.0 1536.4 L1646.3 1536.4 L1647.6 1536.4 L1648.8 1536.4 L1650.1 1536.4 L1651.4 1536.4 L1652.7 1536.4 L1654.0 1536.4 L1655.2 1536.4 L1656.5 1536.5 L1656.5 1536.5 L1657.8 1536.5 L1659.1 1536.5 L1660.4 1536.5 L1661.7 1536.5 L1662.9 1536.5 L1664.2 1536.5 L1665.5 1536.5 L1666.8 1536.5 L1668.1 1536.5 L1669.4 1536.5 L1670.6 1536.5 L1671.9 1536.5 L1673.2 1536.5 L1674.5 1536.5 L1675.8 1536.5 L1677.1 1536.5 L1678.3 1536.5 L1679.6 1536.5 L1680.9 1536.5 L1682.2 1536.5 L1683.5 1536.5 L1684.8 1536.5 L1686.0 1536.5 L1687.3 1536.5 L1688.6 1536.5 L1688.6 1536.5" class="sp"/>
<path d="M405.8 1203.6 L407.1 1208.1 L408.4 1212.6 L409.6 1217.1 L410.9 1221.7 L412.2 1226.2 L413.5 1230.8 L414.1 1233.1 L414.8 1235.5 L416.1 1240.1 L417.3 1244.8 L418.6 1249.5 L419.6 1253.1 L419.9 1254.3 L421.2 1259.3 L422.5 1264.3 L423.8 1269.2 L425.0 1273.8 L425.0 1273.8 L426.3 1278.2 L427.6 1282.3 L428.9 1286.2 L429.9 1289.0 L430.2 1289.9 L431.5 1293.4 L432.7 1296.7 L434.0 1299.8 L435.3 1302.8 L435.9 1304.1 L436.6 1305.5 L437.9 1308.1 L439.2 1310.6 L440.4 1312.9 L441.7 1315.2 L443.0 1317.3 L444.3 1319.3 L444.3 1319.3 L445.6 1321.2 L446.8 1322.9 L448.1 1324.6 L449.4 1326.2 L450.7 1327.8 L452.0 1329.3 L453.3 1330.9 L454.5 1332.5 L454.9 1332.9 L455.8 1334.1 L457.1 1335.8 L458.4 1337.5 L459.7 1339.3 L461.0 1341.0 L462.2 1342.7 L463.5 1344.3 L464.8 1345.8 L466.1 1347.1 L466.4 1347.5 L467.4 1348.4 L468.7 1349.7 L469.9 1350.9 L471.2 1352.1 L472.5 1353.3 L473.8 1354.3 L475.1 1355.4 L476.4 1356.3 L477.6 1357.2 L478.9 1358.0 L479.9 1358.5 L480.2 1358.6 L481.5 1359.3 L482.8 1359.9 L484.1 1360.5 L485.3 1361.0 L486.6 1361.6 L487.9 1362.1 L489.2 1362.6 L490.5 1363.1 L491.7 1363.5 L493.0 1363.9 L494.3 1364.3 L495.6 1364.7 L496.9 1365.0 L498.2 1365.3 L499.4 1365.5 L500.7 1365.8 L501.0 1365.8 L502.0 1366.0 L503.3 1366.2 L504.6 1366.4 L505.9 1366.6 L507.1 1366.7 L508.4 1366.9 L509.7 1367.1 L511.0 1367.3 L512.3 1367.4 L513.6 1367.5 L514.8 1367.6 L516.1 1367.8 L517.4 1367.8 L518.7 1367.9 L520.0 1367.9 L521.3 1368.0 L521.9 1368.0 L522.5 1368.0 L523.8 1367.9 L525.1 1367.9 L526.4 1367.8 L527.7 1367.7 L528.9 1367.6 L530.2 1367.5 L531.5 1367.4 L532.8 1367.3 L534.1 1367.2 L534.1 1367.2 L535.4 1367.0 L536.6 1366.9 L537.9 1366.7 L539.2 1366.5 L540.5 1366.4 L541.8 1366.1 L543.1 1365.9 L544.3 1365.7 L545.6 1365.5 L546.9 1365.3 L548.2 1365.1 L549.5 1364.9 L550.1 1364.8 L550.8 1364.7 L552.0 1364.5 L553.3 1364.3 L554.6 1364.1 L555.9 1363.9 L557.2 1363.7 L558.5 1363.5 L559.7 1363.3 L561.0 1363.1 L562.3 1362.9 L563.6 1362.7 L564.9 1362.5 L566.1 1362.4 L566.1 1362.4 L567.4 1362.2 L568.7 1362.1 L570.0 1361.9 L571.3 1361.8 L572.6 1361.7 L573.8 1361.5 L575.1 1361.4 L576.4 1361.3 L577.7 1361.2 L579.0 1361.0 L580.3 1360.9 L581.5 1360.8 L582.2 1360.8 L582.8 1360.7 L584.1 1360.7 L585.4 1360.6 L586.7 1360.6 L588.0 1360.5 L589.2 1360.5 L590.5 1360.4 L591.8 1360.4 L593.1 1360.3 L594.4 1360.2 L595.7 1360.0 L596.0 1360.0 L596.9 1359.3 L598.2 1357.9 L598.9 1357.6 L599.5 1358.4 L600.8 1362.8 L602.1 1367.2 L602.7 1368.0 L603.4 1367.9 L604.6 1367.8 L605.9 1367.4 L607.2 1367.1 L608.5 1366.7 L609.8 1366.5 L611.0 1366.4 L611.0 1366.4 L612.3 1366.4 L613.6 1366.5 L614.9 1366.6 L616.2 1366.7 L617.5 1366.9 L618.7 1367.1 L620.0 1367.3 L621.3 1367.5 L622.6 1367.8 L623.9 1368.0 L623.9 1368.0 L625.2 1368.2 L626.4 1368.5 L627.7 1368.8 L629.0 1369.1 L630.3 1369.5 L631.6 1369.8 L632.9 1370.2 L634.1 1370.5 L635.4 1370.9 L636.7 1371.2 L636.7 1371.2 L638.0 1371.4 L639.3 1371.7 L640.6 1372.0 L641.8 1372.2 L643.1 1372.5 L644.4 1372.7 L645.7 1372.9 L647.0 1373.1 L648.2 1373.4 L649.5 1373.6 L649.5 1373.6 L650.8 1373.8 L652.1 1374.0 L653.4 1374.2 L654.7 1374.4 L655.9 1374.6 L657.2 1374.8 L658.5 1374.9 L659.8 1375.0 L661.1 1375.1 L662.4 1375.2 L662.4 1375.2 L663.6 1375.2 L664.9 1375.2 L666.2 1375.2 L667.5 1375.2 L668.8 1375.2 L670.1 1375.2 L671.3 1375.2 L672.6 1375.2 L673.9 1375.2 L675.2 1375.2 L675.2 1375.2 L676.5 1375.1 L677.8 1374.8 L679.0 1374.3 L680.3 1373.8 L681.6 1373.1 L682.9 1372.4 L684.2 1371.6 L684.8 1371.2 L685.5 1370.7 L686.7 1369.5 L688.0 1368.0 L689.3 1366.2 L690.6 1364.1 L691.9 1361.8 L693.1 1359.4 L694.4 1356.8 L694.4 1356.8 L695.7 1353.8 L697.0 1350.3 L698.3 1346.2 L699.6 1341.8 L700.8 1337.2 L702.1 1332.5 L702.4 1331.3 L703.4 1327.5 L704.7 1322.1 L706.0 1316.4 L707.3 1310.4 L708.5 1304.3 L709.8 1298.3 L710.5 1295.4 L711.1 1292.5 L712.4 1286.6 L713.7 1280.7 L715.0 1274.9 L716.2 1268.9 L717.5 1263.0 L718.8 1257.0 L720.1 1251.0 L721.4 1245.0 L721.7 1243.5 L722.7 1238.9 L723.9 1232.6 L725.2 1226.1 L726.5 1219.6 L727.8 1213.3 L729.1 1207.1 L730.3 1201.3 L731.3 1197.2 L731.6 1195.9 L732.9 1191.0 L734.2 1186.5 L735.5 1182.2 L736.8 1178.1 L738.0 1174.0 L739.3 1169.8 L740.6 1165.4 L741.9 1160.7 L743.2 1155.5 L743.5 1154.2 L744.5 1150.0 L745.7 1144.2 L747.0 1138.2 L748.3 1131.9 L749.6 1125.2 L750.9 1118.1 L752.2 1110.4 L753.4 1102.2 L754.7 1093.4 L755.4 1088.7 L756.0 1083.9 L757.3 1073.6 L758.6 1062.3 L759.9 1049.6 L761.1 1035.1 L762.4 1018.4 L763.7 999.4 L763.7 999.4 L765.0 972.4 L766.3 936.1 L767.5 896.8 L768.8 860.6 L768.8 860.6 L770.1 828.7 L771.4 798.1 L772.7 768.0 L774.0 737.9 L775.2 707.3 L775.6 699.4 L776.5 676.0 L777.8 645.1 L779.1 614.2 L780.4 582.8 L781.7 550.3 L782.9 516.2 L784.2 480.0 L784.2 480.0 L785.5 435.2 L786.8 385.9 L788.1 347.9 L788.4 342.0 L789.4 327.5 L790.6 311.6 L791.9 303.3 L792.2 302.9 L793.2 306.1 L794.5 318.4 L795.8 336.8 L796.1 342.0 L797.1 369.5 L798.3 427.2 L799.6 480.0 L799.6 480.0 L800.9 517.8 L802.2 552.0 L803.5 583.5 L804.8 613.0 L806.0 641.6 L807.3 670.1 L808.6 699.4 L808.6 699.4 L809.9 729.6 L811.2 759.9 L812.4 790.3 L813.7 820.4 L815.0 850.3 L816.3 879.5 L817.6 908.0 L818.9 935.7 L820.1 962.1 L821.4 987.3 L822.1 999.4 L822.7 1011.0 L824.0 1032.7 L825.3 1053.2 L826.6 1073.4 L827.5 1088.7 L827.8 1094.0 L829.1 1115.5 L830.4 1137.3 L831.7 1158.7 L833.0 1178.9 L834.3 1197.2 L834.3 1197.2 L835.5 1214.1 L836.8 1230.2 L838.1 1245.7 L839.4 1260.4 L840.7 1274.3 L842.0 1287.5 L843.2 1299.9 L843.9 1305.7 L844.5 1311.5 L845.8 1322.5 L847.1 1332.9 L848.4 1342.9 L849.6 1352.2 L850.9 1361.0 L852.2 1369.2 L852.5 1371.2 L853.5 1376.9 L854.8 1384.4 L856.1 1391.4 L857.3 1398.1 L858.6 1404.3 L859.9 1410.0 L861.2 1415.0 L861.2 1415.0 L862.5 1419.7 L863.8 1424.2 L865.0 1428.5 L866.3 1432.6 L867.6 1436.6 L868.9 1440.3 L870.2 1443.8 L871.5 1447.2 L872.7 1450.2 L874.0 1453.1 L875.3 1455.7 L876.6 1458.1 L876.6 1458.1 L877.9 1460.3 L879.2 1462.3 L880.4 1464.2 L881.7 1465.9 L883.0 1467.5 L884.3 1469.1 L885.6 1470.6 L886.8 1472.0 L888.1 1473.5 L889.4 1475.0 L890.7 1476.5 L890.7 1476.5 L892.0 1478.0 L893.3 1479.6 L894.5 1481.1 L895.8 1482.6 L897.1 1484.1 L898.4 1485.4 L899.7 1486.5 L900.0 1486.8 L901.0 1487.6 L902.2 1488.6 L903.5 1489.6 L904.8 1490.5 L906.1 1491.4 L907.4 1492.3 L908.7 1493.2 L909.9 1494.1 L911.2 1494.9 L912.5 1495.7 L913.8 1496.4 L915.1 1497.2 L916.4 1497.9 L917.6 1498.6 L918.9 1499.2 L920.2 1499.9 L921.5 1500.4 L922.8 1501.0 L924.1 1501.5 L925.3 1502.0 L926.6 1502.5 L927.3 1502.7 L927.9 1503.0 L929.2 1503.4 L930.5 1503.8 L931.7 1504.2 L933.0 1504.6 L934.3 1505.0 L935.6 1505.3 L936.9 1505.7 L938.2 1506.1 L939.4 1506.4 L940.7 1506.7 L942.0 1507.0 L943.3 1507.3 L944.6 1507.6 L945.9 1507.9 L947.1 1508.1 L948.4 1508.4 L949.7 1508.6 L951.0 1508.8 L952.3 1509.0 L953.6 1509.2 L954.5 1509.3 L954.8 1509.4 L956.1 1509.6 L957.4 1509.7 L958.7 1509.9 L960.0 1510.0 L961.3 1510.2 L962.5 1510.3 L963.8 1510.4 L965.1 1510.5 L966.4 1510.7 L967.7 1510.8 L968.9 1510.9 L970.2 1511.0 L971.5 1511.1 L972.8 1511.2 L974.1 1511.3 L975.4 1511.4 L976.6 1511.5 L977.9 1511.6 L979.2 1511.7 L980.5 1511.8 L981.8 1511.9 L981.8 1511.9 L983.1 1512.0 L984.3 1512.1 L985.6 1512.2 L986.9 1512.3 L988.2 1512.4 L989.5 1512.4 L990.8 1512.5 L992.0 1512.6 L993.3 1512.7 L994.6 1512.7 L995.9 1512.8 L997.2 1512.9 L998.5 1513.0 L999.7 1513.1 L1001.0 1513.1 L1002.3 1513.2 L1003.6 1513.3 L1004.9 1513.4 L1006.2 1513.5 L1007.4 1513.6 L1008.7 1513.7 L1009.4 1513.7 L1010.0 1513.8 L1011.3 1513.9 L1012.6 1514.1 L1013.8 1514.2 L1015.1 1514.4 L1016.4 1514.6 L1017.7 1514.8 L1019.0 1515.0 L1020.3 1515.2 L1021.5 1515.4 L1022.8 1515.5 L1024.1 1515.7 L1025.4 1515.8 L1026.7 1516.0 L1028.0 1516.1 L1029.2 1516.1 L1030.5 1516.2 L1031.2 1516.2 L1031.8 1516.2 L1033.1 1516.0 L1034.4 1515.8 L1035.7 1515.5 L1036.9 1515.1 L1038.2 1514.6 L1039.5 1514.1 L1040.8 1513.5 L1042.1 1512.8 L1043.4 1512.2 L1044.6 1511.5 L1045.9 1510.8 L1047.2 1510.1 L1048.5 1509.4 L1049.8 1508.8 L1050.1 1508.6 L1051.0 1508.1 L1052.3 1507.4 L1053.6 1506.7 L1054.9 1505.9 L1056.2 1505.1 L1057.5 1504.2 L1058.7 1503.3 L1060.0 1502.4 L1061.3 1501.5 L1062.6 1500.5 L1063.9 1499.6 L1065.2 1498.7 L1066.4 1497.8 L1067.7 1496.8 L1069.0 1496.0 L1070.3 1495.1 L1071.6 1494.3 L1072.9 1493.5 L1074.1 1492.7 L1075.4 1492.1 L1076.7 1491.4 L1077.3 1491.1 L1078.0 1490.9 L1079.3 1490.3 L1080.6 1489.7 L1081.8 1489.1 L1083.1 1488.5 L1084.4 1487.9 L1085.7 1487.3 L1087.0 1486.7 L1088.2 1486.2 L1089.5 1485.6 L1090.8 1485.1 L1092.1 1484.6 L1093.4 1484.2 L1094.7 1483.8 L1095.9 1483.4 L1097.2 1483.1 L1098.5 1482.8 L1099.8 1482.6 L1101.1 1482.4 L1102.4 1482.4 L1103.3 1482.3 L1103.6 1482.3 L1104.9 1482.4 L1106.2 1482.6 L1107.5 1482.9 L1108.8 1483.2 L1110.1 1483.6 L1111.3 1484.1 L1112.6 1484.7 L1113.9 1485.3 L1115.2 1486.0 L1116.5 1486.7 L1117.8 1487.5 L1119.0 1488.3 L1120.3 1489.1 L1121.6 1490.0 L1122.9 1490.9 L1124.2 1491.8 L1125.5 1492.6 L1126.7 1493.5 L1128.0 1494.4 L1129.3 1495.2 L1130.6 1496.1 L1131.9 1496.9 L1131.9 1496.9 L1133.1 1497.7 L1134.4 1498.6 L1135.7 1499.6 L1137.0 1500.6 L1138.3 1501.7 L1139.6 1502.8 L1140.8 1503.9 L1142.1 1505.0 L1143.4 1506.1 L1144.7 1507.1 L1146.0 1508.1 L1147.3 1509.0 L1148.5 1509.8 L1149.8 1510.6 L1151.1 1511.2 L1151.1 1511.2 L1152.4 1511.7 L1153.7 1512.3 L1155.0 1512.8 L1156.2 1513.4 L1157.5 1513.9 L1158.8 1514.4 L1160.1 1514.8 L1161.4 1515.3 L1162.7 1515.7 L1163.9 1516.0 L1165.2 1516.3 L1166.5 1516.6 L1167.8 1516.7 L1169.1 1516.9 L1170.3 1516.9 L1170.3 1516.9 L1171.6 1516.8 L1172.9 1516.7 L1174.2 1516.4 L1175.5 1516.0 L1176.8 1515.5 L1178.0 1514.9 L1179.3 1514.3 L1180.6 1513.6 L1181.9 1512.9 L1183.2 1512.2 L1184.5 1511.4 L1185.7 1510.6 L1187.0 1509.8 L1188.3 1509.0 L1189.6 1508.3 L1190.9 1507.5 L1192.2 1506.9 L1193.4 1506.2 L1194.7 1505.7 L1194.7 1505.7 L1196.0 1505.1 L1197.3 1504.6 L1198.6 1504.0 L1199.9 1503.3 L1201.1 1502.7 L1202.4 1502.1 L1203.7 1501.5 L1205.0 1500.8 L1206.3 1500.2 L1207.5 1499.6 L1208.8 1499.1 L1210.1 1498.5 L1211.4 1498.0 L1212.7 1497.6 L1214.0 1497.2 L1215.2 1496.8 L1216.5 1496.6 L1217.8 1496.3 L1219.1 1496.2 L1220.4 1496.1 L1220.7 1496.1 L1221.7 1496.2 L1222.9 1496.3 L1224.2 1496.5 L1225.5 1496.7 L1226.8 1497.0 L1228.1 1497.4 L1229.4 1497.8 L1230.6 1498.3 L1231.9 1498.8 L1233.2 1499.3 L1234.5 1499.9 L1235.8 1500.4 L1237.1 1501.0 L1238.3 1501.5 L1239.6 1502.0 L1239.6 1502.0 L1240.9 1502.5 L1242.2 1503.1 L1243.5 1503.8 L1244.8 1504.5 L1246.0 1505.2 L1247.3 1506.0 L1248.6 1506.8 L1249.9 1507.5 L1251.2 1508.3 L1252.4 1509.1 L1253.7 1509.9 L1255.0 1510.6 L1256.3 1511.4 L1257.6 1512.0 L1258.9 1512.7 L1260.1 1513.2 L1260.1 1513.2 L1261.4 1513.8 L1262.7 1514.3 L1264.0 1514.9 L1265.3 1515.5 L1266.6 1516.1 L1267.8 1516.7 L1269.1 1517.3 L1270.4 1517.9 L1271.7 1518.4 L1273.0 1519.0 L1274.3 1519.5 L1275.5 1520.0 L1276.8 1520.5 L1278.1 1521.0 L1279.4 1521.4 L1280.7 1521.8 L1282.0 1522.2 L1283.2 1522.5 L1284.5 1522.7 L1285.8 1523.0 L1287.1 1523.1 L1288.4 1523.2 L1289.6 1523.3 L1290.0 1523.3 L1290.9 1523.3 L1292.2 1523.2 L1293.5 1523.2 L1294.8 1523.1 L1296.1 1522.9 L1297.3 1522.8 L1298.6 1522.6 L1299.9 1522.5 L1301.2 1522.3 L1302.5 1522.1 L1303.8 1521.9 L1305.0 1521.7 L1306.3 1521.5 L1307.6 1521.4 L1308.9 1521.2 L1310.2 1521.1 L1310.2 1521.1 L1311.5 1521.0 L1312.7 1520.8 L1314.0 1520.7 L1315.3 1520.5 L1316.6 1520.4 L1317.9 1520.2 L1319.2 1520.1 L1320.4 1519.9 L1321.7 1519.8 L1323.0 1519.6 L1324.3 1519.5 L1325.6 1519.4 L1326.9 1519.3 L1328.1 1519.2 L1329.4 1519.1 L1330.7 1519.0 L1332.0 1518.9 L1333.3 1518.9 L1334.5 1518.9 L1334.9 1518.9 L1335.8 1518.9 L1337.1 1518.9 L1338.4 1519.0 L1339.7 1519.1 L1341.0 1519.2 L1342.2 1519.3 L1343.5 1519.5 L1344.8 1519.6 L1346.1 1519.8 L1347.4 1520.0 L1348.7 1520.2 L1349.9 1520.4 L1351.2 1520.7 L1352.5 1520.9 L1353.8 1521.1 L1355.1 1521.3 L1356.4 1521.5 L1357.6 1521.7 L1358.3 1521.8 L1358.9 1521.9 L1360.2 1522.1 L1361.5 1522.4 L1362.8 1522.6 L1364.1 1522.8 L1365.3 1523.1 L1366.6 1523.3 L1367.9 1523.6 L1369.2 1523.9 L1370.5 1524.2 L1371.7 1524.4 L1373.0 1524.7 L1374.3 1525.0 L1375.6 1525.3 L1376.9 1525.5 L1378.2 1525.8 L1379.4 1526.1 L1380.7 1526.3 L1382.0 1526.6 L1383.3 1526.8 L1384.3 1527.0 L1384.6 1527.0 L1385.9 1527.2 L1387.1 1527.5 L1388.4 1527.7 L1389.7 1527.9 L1391.0 1528.2 L1392.3 1528.4 L1393.6 1528.7 L1394.8 1528.9 L1396.1 1529.2 L1397.4 1529.4 L1398.7 1529.7 L1400.0 1529.9 L1401.3 1530.1 L1402.5 1530.4 L1403.8 1530.6 L1405.1 1530.8 L1406.4 1531.1 L1407.7 1531.3 L1408.9 1531.5 L1410.2 1531.7 L1411.5 1531.8 L1412.8 1532.0 L1414.1 1532.2 L1415.4 1532.3 L1416.6 1532.4 L1417.9 1532.5 L1419.2 1532.6 L1420.5 1532.7 L1421.8 1532.8 L1423.1 1532.8 L1424.3 1532.8 L1425.0 1532.8 L1425.6 1532.8 L1426.9 1532.8 L1428.2 1532.8 L1429.5 1532.8 L1430.8 1532.8 L1432.0 1532.8 L1433.3 1532.8 L1434.6 1532.7 L1435.9 1532.7 L1437.2 1532.7 L1438.5 1532.7 L1439.7 1532.6 L1441.0 1532.6 L1442.3 1532.6 L1443.6 1532.5 L1444.9 1532.5 L1446.2 1532.4 L1447.4 1532.4 L1448.7 1532.3 L1450.0 1532.3 L1451.3 1532.2 L1452.6 1532.2 L1453.8 1532.1 L1455.1 1532.1 L1456.4 1532.0 L1457.7 1532.0 L1459.0 1531.9 L1460.3 1531.8 L1461.5 1531.8 L1462.8 1531.7 L1464.1 1531.6 L1465.4 1531.5 L1466.0 1531.5 L1466.7 1531.5 L1468.0 1531.4 L1469.2 1531.2 L1470.5 1531.1 L1471.8 1530.9 L1473.1 1530.7 L1474.4 1530.5 L1475.7 1530.2 L1476.9 1530.0 L1478.2 1529.7 L1479.5 1529.4 L1480.8 1529.2 L1482.1 1528.9 L1483.4 1528.5 L1484.6 1528.2 L1485.9 1527.9 L1487.2 1527.6 L1488.5 1527.3 L1489.8 1527.0 L1491.0 1526.7 L1492.3 1526.4 L1493.6 1526.1 L1494.9 1525.8 L1496.2 1525.5 L1496.2 1525.5 L1497.5 1525.2 L1498.7 1524.9 L1500.0 1524.6 L1501.3 1524.2 L1502.6 1523.8 L1503.9 1523.5 L1505.2 1523.1 L1506.4 1522.7 L1507.7 1522.3 L1509.0 1521.9 L1510.3 1521.5 L1511.6 1521.2 L1512.9 1520.8 L1514.1 1520.5 L1515.4 1520.2 L1516.7 1519.9 L1518.0 1519.6 L1519.3 1519.4 L1520.6 1519.2 L1521.8 1519.1 L1523.1 1519.0 L1524.4 1518.9 L1525.4 1518.9 L1525.7 1518.9 L1527.0 1518.9 L1528.2 1519.0 L1529.5 1519.2 L1530.8 1519.4 L1532.1 1519.6 L1533.4 1519.9 L1534.7 1520.2 L1535.9 1520.5 L1537.2 1520.9 L1538.5 1521.3 L1539.8 1521.7 L1541.1 1522.1 L1542.4 1522.5 L1543.6 1522.9 L1544.9 1523.3 L1546.2 1523.7 L1547.5 1524.0 L1547.5 1524.0 L1548.8 1524.4 L1550.1 1524.8 L1551.3 1525.3 L1552.6 1525.8 L1553.9 1526.3 L1555.2 1526.8 L1556.5 1527.4 L1557.8 1527.9 L1559.0 1528.4 L1560.3 1528.9 L1561.6 1529.4 L1562.9 1529.9 L1564.2 1530.3 L1565.5 1530.7 L1566.7 1531.0 L1568.0 1531.3 L1568.3 1531.4 L1569.3 1531.5 L1570.6 1531.7 L1571.9 1532.0 L1573.1 1532.2 L1574.4 1532.4 L1575.7 1532.6 L1577.0 1532.8 L1578.3 1533.0 L1579.6 1533.1 L1580.8 1533.3 L1582.1 1533.5 L1583.4 1533.7 L1584.7 1533.8 L1586.0 1534.0 L1587.3 1534.1 L1588.5 1534.3 L1589.8 1534.4 L1591.1 1534.6 L1592.4 1534.7 L1593.7 1534.8 L1595.0 1534.9 L1596.2 1535.0 L1597.5 1535.1 L1598.8 1535.2 L1600.1 1535.3 L1601.4 1535.4 L1602.7 1535.5 L1603.9 1535.5 L1605.2 1535.6 L1606.5 1535.7 L1607.8 1535.7 L1609.1 1535.8 L1609.4 1535.8 L1610.3 1535.8 L1611.6 1535.8 L1612.9 1535.9 L1614.2 1535.9 L1615.5 1535.9 L1616.8 1536.0 L1618.0 1536.0 L1619.3 1536.0 L1620.6 1536.0 L1621.9 1536.1 L1623.2 1536.1 L1624.5 1536.1 L1625.7 1536.2 L1627.0 1536.2 L1628.3 1536.2 L1629.6 1536.2 L1630.9 1536.3 L1632.2 1536.3 L1633.4 1536.3 L1634.7 1536.3 L1636.0 1536.3 L1637.3 1536.4 L1638.6 1536.4 L1639.9 1536.4 L1641.1 1536.4 L1642.4 1536.4 L1643.7 1536.4 L1645.0 1536.4 L1646.3 1536.5 L1647.6 1536.5 L1648.8 1536.5 L1650.1 1536.5 L1651.4 1536.5 L1652.7 1536.5 L1654.0 1536.5 L1655.2 1536.5 L1656.5 1536.5 L1656.5 1536.5 L1657.8 1536.5 L1659.1 1536.5 L1660.4 1536.5 L1661.7 1536.5 L1662.9 1536.5 L1664.2 1536.5 L1665.5 1536.5 L1666.8 1536.5 L1668.1 1536.5 L1669.4 1536.5 L1670.6 1536.5 L1671.9 1536.5 L1673.2 1536.5 L1674.5 1536.5 L1675.8 1536.5 L1677.1 1536.5 L1678.3 1536.5 L1679.6 1536.5 L1680.9 1536.5 L1682.2 1536.5 L1683.5 1536.5 L1684.8 1536.5 L1686.0 1536.5 L1687.3 1536.5 L1688.6 1536.5 L1688.6 1536.5" class="sp"/>
<path d="M405.8 1287.4 L407.1 1289.3 L408.4 1291.5 L409.6 1294.0 L410.3 1295.4 L410.9 1296.8 L412.2 1300.3 L413.5 1304.2 L414.8 1308.5 L416.1 1312.8 L417.3 1317.2 L418.6 1321.2 L419.9 1324.9 L420.9 1327.3 L421.2 1328.0 L422.5 1330.8 L423.8 1333.5 L425.0 1336.0 L426.3 1338.4 L427.6 1340.6 L428.9 1342.7 L430.2 1344.7 L431.5 1346.4 L431.5 1346.4 L432.7 1348.1 L434.0 1349.6 L435.3 1351.1 L436.6 1352.5 L437.9 1353.9 L439.2 1355.2 L440.4 1356.4 L441.7 1357.6 L443.0 1358.8 L444.3 1359.8 L445.6 1360.9 L446.8 1361.9 L447.5 1362.4 L448.1 1362.9 L449.4 1363.8 L450.7 1364.7 L452.0 1365.6 L453.3 1366.5 L454.5 1367.3 L455.8 1368.1 L457.1 1368.9 L458.4 1369.7 L459.7 1370.4 L461.0 1371.1 L462.2 1371.8 L463.5 1372.5 L464.8 1373.2 L466.1 1373.9 L467.4 1374.5 L468.7 1375.2 L468.7 1375.2 L469.9 1375.8 L471.2 1376.3 L472.5 1376.8 L473.8 1377.3 L475.1 1377.8 L476.4 1378.2 L477.6 1378.7 L478.9 1379.1 L480.2 1379.6 L481.5 1380.0 L482.8 1380.5 L484.1 1381.0 L485.3 1381.6 L486.6 1382.2 L487.9 1382.8 L489.2 1383.5 L489.8 1383.9 L490.5 1384.4 L491.7 1385.5 L493.0 1386.8 L494.3 1388.3 L495.6 1389.8 L496.9 1391.3 L498.2 1392.6 L499.4 1393.7 L500.4 1394.3 L500.7 1394.5 L502.0 1395.1 L503.3 1395.7 L504.6 1396.2 L505.9 1396.7 L507.1 1397.1 L508.4 1397.5 L509.7 1397.9 L511.0 1398.2 L512.3 1398.6 L513.6 1398.9 L514.8 1399.2 L516.1 1399.6 L517.4 1400.0 L518.7 1400.4 L520.0 1400.8 L521.3 1401.2 L521.9 1401.5 L522.5 1401.7 L523.8 1402.4 L525.1 1403.0 L526.4 1403.8 L527.7 1404.6 L528.9 1405.4 L530.2 1406.1 L531.5 1406.8 L532.8 1407.4 L534.1 1408.0 L535.4 1408.4 L536.6 1408.6 L537.6 1408.7 L537.9 1408.7 L539.2 1408.6 L540.5 1408.6 L541.8 1408.5 L543.1 1408.4 L544.3 1408.3 L545.6 1408.2 L546.9 1408.1 L548.2 1408.0 L549.5 1407.9 L550.1 1407.9 L550.8 1407.8 L552.0 1407.8 L553.3 1407.7 L554.6 1407.6 L555.9 1407.6 L557.2 1407.5 L558.5 1407.5 L559.7 1407.4 L561.0 1407.4 L562.3 1407.3 L563.6 1407.2 L564.9 1407.1 L566.1 1407.1 L566.1 1407.1 L567.4 1407.0 L568.7 1406.9 L570.0 1406.7 L571.3 1406.6 L572.6 1406.5 L573.8 1406.3 L575.1 1406.2 L576.4 1406.0 L577.7 1405.9 L579.0 1405.7 L580.3 1405.6 L581.5 1405.5 L582.2 1405.5 L582.8 1405.4 L584.1 1405.3 L585.4 1405.3 L586.7 1405.2 L588.0 1405.2 L589.2 1405.1 L590.5 1405.1 L591.8 1405.0 L593.1 1405.0 L594.4 1404.9 L595.7 1404.8 L596.6 1404.7 L596.9 1404.6 L598.2 1404.2 L599.5 1403.9 L599.8 1403.9 L600.8 1405.3 L602.1 1409.5 L603.4 1411.8 L603.4 1411.8 L604.6 1411.8 L605.9 1411.8 L607.2 1411.7 L608.5 1411.6 L609.8 1411.5 L611.0 1411.4 L612.3 1411.3 L613.6 1411.2 L614.9 1411.1 L616.2 1411.1 L617.5 1411.1 L617.5 1411.1 L618.7 1411.1 L620.0 1411.1 L621.3 1411.1 L622.6 1411.2 L623.9 1411.3 L625.2 1411.3 L626.4 1411.4 L627.7 1411.5 L629.0 1411.6 L630.3 1411.6 L631.6 1411.7 L632.9 1411.8 L634.1 1411.8 L635.4 1411.8 L636.7 1411.8 L636.7 1411.8 L638.0 1411.8 L639.3 1411.8 L640.6 1411.6 L641.8 1411.5 L643.1 1411.3 L644.4 1411.1 L645.7 1410.9 L647.0 1410.7 L648.2 1410.5 L649.5 1410.3 L649.5 1410.3 L650.8 1410.0 L652.1 1409.7 L653.4 1409.4 L654.7 1409.1 L655.9 1408.7 L657.2 1408.3 L658.5 1407.9 L659.8 1407.4 L661.1 1407.0 L662.4 1406.5 L663.0 1406.3 L663.6 1406.0 L664.9 1405.6 L666.2 1405.1 L667.5 1404.7 L668.8 1404.2 L670.1 1403.7 L671.3 1403.2 L672.6 1402.6 L673.9 1402.0 L675.2 1401.4 L676.5 1400.7 L677.8 1399.9 L679.0 1399.0 L680.3 1398.0 L681.6 1397.0 L681.9 1396.7 L682.9 1395.6 L684.2 1393.5 L685.5 1390.9 L686.7 1387.8 L688.0 1384.4 L689.3 1381.0 L690.6 1377.6 L690.9 1376.7 L691.9 1374.2 L693.1 1370.7 L694.4 1367.1 L695.7 1363.3 L697.0 1359.3 L698.3 1355.1 L699.6 1350.7 L699.9 1349.6 L700.8 1346.2 L702.1 1341.2 L703.4 1336.0 L704.7 1330.6 L706.0 1325.0 L707.3 1319.3 L707.3 1319.3 L708.5 1313.4 L709.8 1307.1 L711.1 1300.7 L712.4 1294.1 L713.7 1287.5 L715.0 1281.0 L715.3 1279.4 L716.2 1274.6 L717.5 1268.3 L718.8 1262.0 L720.1 1255.6 L721.4 1249.3 L722.7 1242.8 L723.3 1239.5 L723.9 1236.2 L725.2 1229.2 L726.5 1222.0 L727.8 1214.9 L729.1 1208.0 L730.3 1201.6 L731.3 1197.2 L731.6 1195.9 L732.9 1190.8 L734.2 1186.2 L735.5 1181.9 L736.8 1177.8 L738.0 1173.7 L739.3 1169.6 L740.6 1165.3 L741.9 1160.6 L743.2 1155.5 L743.5 1154.2 L744.5 1150.0 L745.7 1144.2 L747.0 1138.2 L748.3 1131.9 L749.6 1125.2 L750.9 1118.1 L752.2 1110.4 L753.4 1102.2 L754.7 1093.4 L755.4 1088.7 L756.0 1083.9 L757.3 1073.6 L758.6 1062.3 L759.9 1049.6 L761.1 1035.1 L762.4 1018.4 L763.7 999.4 L763.7 999.4 L765.0 972.4 L766.3 936.1 L767.5 896.8 L768.8 860.6 L768.8 860.6 L770.1 828.7 L771.4 798.1 L772.7 768.0 L774.0 737.9 L775.2 707.3 L775.6 699.4 L776.5 676.0 L777.8 645.1 L779.1 614.2 L780.4 582.8 L781.7 550.3 L782.9 516.2 L784.2 480.0 L784.2 480.0 L785.5 435.2 L786.8 385.9 L788.1 347.9 L788.4 342.0 L789.4 327.5 L790.6 311.6 L791.9 303.3 L792.2 302.9 L793.2 306.1 L794.5 318.4 L795.8 336.8 L796.1 342.0 L797.1 369.5 L798.3 427.2 L799.6 480.0 L799.6 480.0 L800.9 517.8 L802.2 552.0 L803.5 583.5 L804.8 613.0 L806.0 641.6 L807.3 670.1 L808.6 699.4 L808.6 699.4 L809.9 729.6 L811.2 759.9 L812.4 790.3 L813.7 820.4 L815.0 850.3 L816.3 879.5 L817.6 908.0 L818.9 935.7 L820.1 962.1 L821.4 987.3 L822.1 999.4 L822.7 1011.0 L824.0 1032.7 L825.3 1053.2 L826.6 1073.4 L827.5 1088.7 L827.8 1094.0 L829.1 1115.5 L830.4 1137.3 L831.7 1158.7 L833.0 1178.9 L834.3 1197.2 L834.3 1197.2 L835.5 1214.1 L836.8 1230.2 L838.1 1245.7 L839.4 1260.4 L840.7 1274.3 L842.0 1287.5 L843.2 1299.9 L843.9 1305.7 L844.5 1311.5 L845.8 1322.5 L847.1 1332.9 L848.4 1342.9 L849.6 1352.2 L850.9 1361.0 L852.2 1369.2 L852.5 1371.2 L853.5 1376.9 L854.8 1384.4 L856.1 1391.4 L857.3 1398.1 L858.6 1404.3 L859.9 1410.0 L861.2 1415.0 L861.2 1415.0 L862.5 1419.7 L863.8 1424.2 L865.0 1428.5 L866.3 1432.6 L867.6 1436.6 L868.9 1440.3 L870.2 1443.8 L871.5 1447.2 L872.7 1450.2 L874.0 1453.1 L875.3 1455.7 L876.6 1458.1 L876.6 1458.1 L877.9 1460.3 L879.2 1462.5 L880.4 1464.5 L881.7 1466.5 L883.0 1468.3 L884.3 1470.0 L885.6 1471.6 L886.8 1473.0 L888.1 1474.3 L889.4 1475.5 L890.7 1476.5 L890.7 1476.5 L892.0 1477.3 L893.3 1478.0 L894.5 1478.6 L895.8 1479.2 L897.1 1479.8 L898.4 1480.3 L899.7 1481.0 L900.0 1481.2 L901.0 1481.7 L902.2 1482.5 L903.5 1483.3 L904.8 1484.2 L906.1 1485.1 L907.4 1486.0 L908.7 1486.9 L909.9 1487.9 L911.2 1488.8 L912.5 1489.8 L913.8 1490.7 L915.1 1491.7 L916.4 1492.6 L917.6 1493.5 L918.9 1494.3 L920.2 1495.2 L921.5 1496.0 L922.8 1496.7 L924.1 1497.4 L925.3 1498.0 L926.6 1498.6 L927.3 1498.8 L927.9 1499.1 L929.2 1499.5 L930.5 1500.0 L931.7 1500.5 L933.0 1500.9 L934.3 1501.3 L935.6 1501.7 L936.9 1502.1 L938.2 1502.5 L939.4 1502.9 L940.7 1503.2 L942.0 1503.6 L943.3 1503.9 L944.6 1504.2 L945.9 1504.5 L947.1 1504.8 L948.4 1505.1 L949.7 1505.3 L951.0 1505.6 L952.3 1505.8 L953.6 1506.0 L954.5 1506.1 L954.8 1506.2 L956.1 1506.4 L957.4 1506.6 L958.7 1506.7 L960.0 1506.9 L961.3 1507.1 L962.5 1507.2 L963.8 1507.3 L965.1 1507.5 L966.4 1507.6 L967.7 1507.7 L968.9 1507.9 L970.2 1508.0 L971.5 1508.1 L972.8 1508.2 L974.1 1508.3 L975.4 1508.4 L976.6 1508.6 L977.9 1508.7 L979.2 1508.8 L980.5 1508.9 L981.8 1509.0 L981.8 1509.0 L983.1 1509.1 L984.3 1509.2 L985.6 1509.3 L986.9 1509.4 L988.2 1509.5 L989.5 1509.6 L990.8 1509.7 L992.0 1509.8 L993.3 1509.8 L994.6 1509.9 L995.9 1510.0 L997.2 1510.1 L998.5 1510.2 L999.7 1510.3 L1001.0 1510.4 L1002.3 1510.5 L1003.6 1510.5 L1004.9 1510.6 L1006.2 1510.8 L1007.4 1510.9 L1008.7 1511.0 L1009.4 1511.0 L1010.0 1511.1 L1011.3 1511.2 L1012.6 1511.4 L1013.8 1511.6 L1015.1 1511.8 L1016.4 1512.0 L1017.7 1512.2 L1019.0 1512.4 L1020.3 1512.6 L1021.5 1512.8 L1022.8 1513.0 L1024.1 1513.2 L1025.4 1513.4 L1026.7 1513.5 L1028.0 1513.6 L1029.2 1513.7 L1030.5 1513.7 L1031.2 1513.7 L1031.8 1513.7 L1033.1 1513.6 L1034.4 1513.3 L1035.7 1513.0 L1036.9 1512.5 L1038.2 1512.0 L1039.5 1511.4 L1040.8 1510.7 L1042.1 1510.0 L1043.4 1509.3 L1044.6 1508.5 L1045.9 1507.7 L1047.2 1507.0 L1048.5 1506.2 L1049.8 1505.5 L1050.1 1505.3 L1051.0 1504.8 L1052.3 1504.0 L1053.6 1503.2 L1054.9 1502.3 L1056.2 1501.4 L1057.5 1500.5 L1058.7 1499.5 L1060.0 1498.5 L1061.3 1497.4 L1062.6 1496.4 L1063.9 1495.4 L1065.2 1494.3 L1066.4 1493.3 L1067.7 1492.3 L1069.0 1491.3 L1070.3 1490.4 L1071.6 1489.4 L1072.9 1488.6 L1074.1 1487.8 L1075.4 1487.0 L1076.7 1486.3 L1077.3 1486.0 L1078.0 1485.7 L1079.3 1485.0 L1080.6 1484.4 L1081.8 1483.7 L1083.1 1483.0 L1084.4 1482.4 L1085.7 1481.7 L1087.0 1481.1 L1088.2 1480.5 L1089.5 1479.9 L1090.8 1479.3 L1092.1 1478.7 L1093.4 1478.2 L1094.7 1477.8 L1095.9 1477.4 L1097.2 1477.0 L1098.5 1476.7 L1099.8 1476.5 L1101.1 1476.3 L1102.4 1476.2 L1103.3 1476.2 L1103.6 1476.2 L1104.9 1476.3 L1106.2 1476.5 L1107.5 1476.8 L1108.8 1477.2 L1110.1 1477.6 L1111.3 1478.2 L1112.6 1478.8 L1113.9 1479.5 L1115.2 1480.3 L1116.5 1481.1 L1117.8 1481.9 L1119.0 1482.8 L1120.3 1483.8 L1121.6 1484.7 L1122.9 1485.7 L1124.2 1486.6 L1125.5 1487.6 L1126.7 1488.6 L1128.0 1489.6 L1129.3 1490.5 L1130.6 1491.4 L1131.9 1492.3 L1131.9 1492.3 L1133.1 1493.2 L1134.4 1494.3 L1135.7 1495.3 L1137.0 1496.5 L1138.3 1497.7 L1139.6 1498.9 L1140.8 1500.1 L1142.1 1501.4 L1143.4 1502.5 L1144.7 1503.7 L1146.0 1504.8 L1147.3 1505.8 L1148.5 1506.7 L1149.8 1507.5 L1151.1 1508.2 L1151.1 1508.2 L1152.4 1508.8 L1153.7 1509.4 L1155.0 1510.0 L1156.2 1510.6 L1157.5 1511.2 L1158.8 1511.7 L1160.1 1512.2 L1161.4 1512.7 L1162.7 1513.2 L1163.9 1513.6 L1165.2 1513.9 L1166.5 1514.2 L1167.8 1514.4 L1169.1 1514.5 L1170.3 1514.5 L1170.3 1514.5 L1171.6 1514.5 L1172.9 1514.3 L1174.2 1513.9 L1175.5 1513.5 L1176.8 1513.0 L1178.0 1512.3 L1179.3 1511.7 L1180.6 1510.9 L1181.9 1510.1 L1183.2 1509.3 L1184.5 1508.4 L1185.7 1507.5 L1187.0 1506.7 L1188.3 1505.8 L1189.6 1505.0 L1190.9 1504.2 L1192.2 1503.4 L1193.4 1502.7 L1194.7 1502.1 L1194.7 1502.1 L1196.0 1501.5 L1197.3 1500.8 L1198.6 1500.2 L1199.9 1499.5 L1201.1 1498.8 L1202.4 1498.1 L1203.7 1497.4 L1205.0 1496.7 L1206.3 1496.1 L1207.5 1495.4 L1208.8 1494.8 L1210.1 1494.2 L1211.4 1493.6 L1212.7 1493.1 L1214.0 1492.7 L1215.2 1492.3 L1216.5 1492.0 L1217.8 1491.7 L1219.1 1491.6 L1220.4 1491.5 L1220.7 1491.5 L1221.7 1491.5 L1222.9 1491.7 L1224.2 1491.9 L1225.5 1492.2 L1226.8 1492.5 L1228.1 1492.9 L1229.4 1493.4 L1230.6 1493.9 L1231.9 1494.5 L1233.2 1495.0 L1234.5 1495.6 L1235.8 1496.2 L1237.1 1496.8 L1238.3 1497.4 L1239.6 1498.0 L1239.6 1498.0 L1240.9 1498.6 L1242.2 1499.3 L1243.5 1500.0 L1244.8 1500.8 L1246.0 1501.6 L1247.3 1502.4 L1248.6 1503.3 L1249.9 1504.2 L1251.2 1505.0 L1252.4 1505.9 L1253.7 1506.8 L1255.0 1507.6 L1256.3 1508.4 L1257.6 1509.1 L1258.9 1509.8 L1260.1 1510.5 L1260.1 1510.5 L1261.4 1511.1 L1262.7 1511.7 L1264.0 1512.3 L1265.3 1513.0 L1266.6 1513.6 L1267.8 1514.3 L1269.1 1514.9 L1270.4 1515.6 L1271.7 1516.2 L1273.0 1516.8 L1274.3 1517.4 L1275.5 1518.0 L1276.8 1518.5 L1278.1 1519.1 L1279.4 1519.5 L1280.7 1520.0 L1282.0 1520.4 L1283.2 1520.7 L1284.5 1521.0 L1285.8 1521.3 L1287.1 1521.4 L1288.4 1521.6 L1289.6 1521.6 L1290.0 1521.6 L1290.9 1521.6 L1292.2 1521.6 L1293.5 1521.5 L1294.8 1521.4 L1296.1 1521.2 L1297.3 1521.1 L1298.6 1520.9 L1299.9 1520.7 L1301.2 1520.5 L1302.5 1520.3 L1303.8 1520.1 L1305.0 1519.9 L1306.3 1519.7 L1307.6 1519.5 L1308.9 1519.3 L1310.2 1519.2 L1310.2 1519.2 L1311.5 1519.0 L1312.7 1518.9 L1314.0 1518.7 L1315.3 1518.5 L1316.6 1518.4 L1317.9 1518.2 L1319.2 1518.0 L1320.4 1517.9 L1321.7 1517.7 L1323.0 1517.6 L1324.3 1517.4 L1325.6 1517.3 L1326.9 1517.1 L1328.1 1517.0 L1329.4 1516.9 L1330.7 1516.9 L1332.0 1516.8 L1333.3 1516.7 L1334.5 1516.7 L1334.9 1516.7 L1335.8 1516.7 L1337.1 1516.8 L1338.4 1516.9 L1339.7 1517.0 L1341.0 1517.1 L1342.2 1517.2 L1343.5 1517.4 L1344.8 1517.6 L1346.1 1517.8 L1347.4 1518.0 L1348.7 1518.2 L1349.9 1518.5 L1351.2 1518.7 L1352.5 1518.9 L1353.8 1519.2 L1355.1 1519.4 L1356.4 1519.6 L1357.6 1519.9 L1358.3 1520.0 L1358.9 1520.1 L1360.2 1520.3 L1361.5 1520.6 L1362.8 1520.8 L1364.1 1521.1 L1365.3 1521.4 L1366.6 1521.7 L1367.9 1522.0 L1369.2 1522.3 L1370.5 1522.6 L1371.7 1522.9 L1373.0 1523.2 L1374.3 1523.5 L1375.6 1523.8 L1376.9 1524.1 L1378.2 1524.4 L1379.4 1524.7 L1380.7 1525.0 L1382.0 1525.2 L1383.3 1525.5 L1384.3 1525.7 L1384.6 1525.7 L1385.9 1526.0 L1387.1 1526.2 L1388.4 1526.5 L1389.7 1526.8 L1391.0 1527.0 L1392.3 1527.3 L1393.6 1527.6 L1394.8 1527.9 L1396.1 1528.1 L1397.4 1528.4 L1398.7 1528.7 L1400.0 1528.9 L1401.3 1529.2 L1402.5 1529.5 L1403.8 1529.7 L1405.1 1530.0 L1406.4 1530.2 L1407.7 1530.5 L1408.9 1530.7 L1410.2 1530.9 L1411.5 1531.1 L1412.8 1531.3 L1414.1 1531.4 L1415.4 1531.6 L1416.6 1531.7 L1417.9 1531.9 L1419.2 1532.0 L1420.5 1532.1 L1421.8 1532.1 L1423.1 1532.2 L1424.3 1532.2 L1425.0 1532.2 L1425.6 1532.2 L1426.9 1532.2 L1428.2 1532.2 L1429.5 1532.2 L1430.8 1532.2 L1432.0 1532.1 L1433.3 1532.1 L1434.6 1532.1 L1435.9 1532.1 L1437.2 1532.0 L1438.5 1532.0 L1439.7 1532.0 L1441.0 1531.9 L1442.3 1531.9 L1443.6 1531.9 L1444.9 1531.8 L1446.2 1531.8 L1447.4 1531.7 L1448.7 1531.7 L1450.0 1531.6 L1451.3 1531.5 L1452.6 1531.5 L1453.8 1531.4 L1455.1 1531.4 L1456.4 1531.3 L1457.7 1531.2 L1459.0 1531.1 L1460.3 1531.1 L1461.5 1531.0 L1462.8 1530.9 L1464.1 1530.8 L1465.4 1530.8 L1466.0 1530.7 L1466.7 1530.7 L1468.0 1530.6 L1469.2 1530.4 L1470.5 1530.3 L1471.8 1530.1 L1473.1 1529.8 L1474.4 1529.6 L1475.7 1529.3 L1476.9 1529.0 L1478.2 1528.8 L1479.5 1528.4 L1480.8 1528.1 L1482.1 1527.8 L1483.4 1527.4 L1484.6 1527.1 L1485.9 1526.7 L1487.2 1526.4 L1488.5 1526.0 L1489.8 1525.7 L1491.0 1525.4 L1492.3 1525.0 L1493.6 1524.7 L1494.9 1524.4 L1496.2 1524.1 L1496.2 1524.1 L1497.5 1523.7 L1498.7 1523.4 L1500.0 1523.0 L1501.3 1522.6 L1502.6 1522.2 L1503.9 1521.8 L1505.2 1521.4 L1506.4 1521.0 L1507.7 1520.5 L1509.0 1520.1 L1510.3 1519.7 L1511.6 1519.3 L1512.9 1518.9 L1514.1 1518.5 L1515.4 1518.2 L1516.7 1517.9 L1518.0 1517.6 L1519.3 1517.3 L1520.6 1517.1 L1521.8 1516.9 L1523.1 1516.8 L1524.4 1516.7 L1525.4 1516.7 L1525.7 1516.7 L1527.0 1516.8 L1528.2 1516.9 L1529.5 1517.1 L1530.8 1517.3 L1532.1 1517.5 L1533.4 1517.9 L1534.7 1518.2 L1535.9 1518.6 L1537.2 1519.0 L1538.5 1519.4 L1539.8 1519.8 L1541.1 1520.3 L1542.4 1520.7 L1543.6 1521.2 L1544.9 1521.6 L1546.2 1522.0 L1547.5 1522.4 L1547.5 1522.4 L1548.8 1522.9 L1550.1 1523.3 L1551.3 1523.8 L1552.6 1524.4 L1553.9 1525.0 L1555.2 1525.5 L1556.5 1526.1 L1557.8 1526.7 L1559.0 1527.3 L1560.3 1527.9 L1561.6 1528.4 L1562.9 1528.9 L1564.2 1529.4 L1565.5 1529.8 L1566.7 1530.2 L1568.0 1530.5 L1568.3 1530.6 L1569.3 1530.7 L1570.6 1531.0 L1571.9 1531.2 L1573.1 1531.5 L1574.4 1531.7 L1575.7 1531.9 L1577.0 1532.1 L1578.3 1532.3 L1579.6 1532.5 L1580.8 1532.7 L1582.1 1532.9 L1583.4 1533.1 L1584.7 1533.3 L1586.0 1533.5 L1587.3 1533.6 L1588.5 1533.8 L1589.8 1534.0 L1591.1 1534.1 L1592.4 1534.2 L1593.7 1534.4 L1595.0 1534.5 L1596.2 1534.6 L1597.5 1534.7 L1598.8 1534.9 L1600.1 1535.0 L1601.4 1535.0 L1602.7 1535.1 L1603.9 1535.2 L1605.2 1535.3 L1606.5 1535.3 L1607.8 1535.4 L1609.1 1535.4 L1609.4 1535.4 L1610.3 1535.5 L1611.6 1535.5 L1612.9 1535.6 L1614.2 1535.6 L1615.5 1535.6 L1616.8 1535.7 L1618.0 1535.7 L1619.3 1535.7 L1620.6 1535.8 L1621.9 1535.8 L1623.2 1535.8 L1624.5 1535.9 L1625.7 1535.9 L1627.0 1535.9 L1628.3 1535.9 L1629.6 1536.0 L1630.9 1536.0 L1632.2 1536.0 L1633.4 1536.0 L1634.7 1536.1 L1636.0 1536.1 L1637.3 1536.1 L1638.6 1536.1 L1639.9 1536.1 L1641.1 1536.2 L1642.4 1536.2 L1643.7 1536.2 L1645.0 1536.2 L1646.3 1536.2 L1647.6 1536.2 L1648.8 1536.2 L1650.1 1536.2 L1651.4 1536.2 L1652.7 1536.3 L1654.0 1536.3 L1655.2 1536.3 L1656.5 1536.3 L1656.5 1536.3 L1657.8 1536.3 L1659.1 1536.3 L1660.4 1536.3 L1661.7 1536.3 L1662.9 1536.3 L1664.2 1536.3 L1665.5 1536.3 L1666.8 1536.3 L1668.1 1536.3 L1669.4 1536.3 L1670.6 1536.3 L1671.9 1536.3 L1673.2 1536.3 L1674.5 1536.3 L1675.8 1536.3 L1677.1 1536.3 L1678.3 1536.3 L1679.6 1536.3 L1680.9 1536.3 L1682.2 1536.3 L1683.5 1536.3 L1684.8 1536.3 L1686.0 1536.3 L1687.3 1536.3 L1688.6 1536.3 L1688.6 1536.3" class="sp"/>
<path d="M405.8 892.5 L407.1 902.6 L408.4 912.7 L409.6 923.0 L410.9 933.3 L412.0 941.9 L412.2 943.8 L413.5 954.4 L414.8 965.3 L416.1 976.2 L417.3 987.1 L418.6 997.9 L419.9 1008.6 L420.7 1015.3 L421.2 1019.0 L422.5 1029.3 L423.8 1039.7 L425.0 1050.0 L426.3 1060.1 L427.6 1069.9 L428.9 1079.3 L430.1 1087.9 L430.2 1088.4 L431.5 1097.1 L432.7 1105.6 L434.0 1113.9 L435.3 1122.0 L436.6 1129.9 L437.9 1137.5 L439.2 1145.0 L440.4 1152.3 L441.7 1159.3 L441.9 1160.5 L443.0 1166.2 L444.3 1173.0 L445.6 1179.7 L446.8 1186.3 L448.1 1192.8 L449.4 1199.1 L450.7 1205.2 L452.0 1211.2 L453.3 1216.9 L454.5 1222.4 L455.8 1227.7 L457.0 1232.3 L457.1 1232.7 L458.4 1237.5 L459.7 1242.2 L461.0 1246.7 L462.2 1251.1 L463.5 1255.3 L464.8 1259.3 L466.1 1263.2 L467.4 1266.9 L468.7 1270.5 L469.9 1273.8 L469.9 1273.8 L471.2 1277.1 L472.5 1280.2 L473.8 1283.2 L475.1 1286.1 L476.4 1288.9 L477.6 1291.6 L478.9 1294.1 L480.2 1296.6 L481.5 1298.9 L482.8 1301.1 L483.0 1301.4 L484.1 1303.2 L485.3 1305.3 L486.6 1307.3 L487.9 1309.2 L489.2 1310.8 L490.5 1312.2 L491.4 1312.9 L491.7 1313.1 L493.0 1314.0 L494.3 1314.8 L495.6 1315.5 L496.9 1316.1 L498.2 1316.6 L499.4 1316.8 L500.4 1316.9" class="da" stroke-dashoffset="39.1"/>
<path d="M500.4 1316.9 L500.7 1316.9 L502.0 1316.6 L503.3 1316.0 L504.6 1315.1 L505.9 1313.9 L507.1 1312.6 L508.4 1311.2 L509.7 1309.6 L511.0 1308.1 L511.6 1307.3 L512.3 1306.5 L513.6 1304.7 L514.8 1302.6 L516.1 1300.2 L517.4 1297.7 L518.7 1295.0 L520.0 1292.2 L521.3 1289.4 L522.5 1286.6 L522.5 1286.6 L523.8 1283.7 L525.1 1280.5 L526.4 1277.3 L527.7 1274.0 L528.9 1270.7 L529.4 1269.5 L530.2 1267.4 L531.5 1264.1 L532.8 1260.8 L534.1 1257.5 L535.4 1254.1 L536.6 1250.8 L537.9 1247.5 L539.2 1244.2 L540.5 1240.9 L541.8 1237.8 L543.1 1234.7 L543.7 1233.1 L544.3 1231.6 L545.6 1228.7 L546.9 1225.7 L548.2 1222.9 L549.5 1220.0 L550.8 1217.2 L552.0 1214.4 L553.3 1211.7 L554.6 1209.0 L555.9 1206.3 L557.2 1203.6 L558.5 1201.0 L558.5 1201.0 L559.7 1198.4 L561.0 1195.8 L562.3 1193.3 L563.6 1190.9 L564.9 1188.4 L566.1 1185.9 L567.4 1183.5 L567.8 1182.9 L568.7 1181.0 L570.0 1178.4 L571.3 1175.7 L572.6 1173.2 L573.8 1170.8 L575.1 1168.7 L575.8 1167.7 L576.4 1166.8 L577.7 1165.0 L579.0 1163.2 L580.3 1161.5 L581.5 1160.0 L582.8 1158.7 L584.1 1157.8 L585.4 1157.4 L585.4 1157.4" class="da" stroke-dashoffset="31.8"/>
<path d="M585.4 1157.4 L585.4 1157.4 L586.7 1157.1 L588.0 1156.9 L589.2 1156.8 L590.5 1156.7 L591.8 1156.6 L593.1 1156.6 L593.4 1156.6 L594.4 1156.7 L595.7 1157.1 L596.9 1157.8 L598.2 1158.6 L599.5 1159.4 L600.8 1160.2 L601.4 1160.5 L602.1 1160.9 L603.4 1161.5 L604.6 1162.1 L605.9 1162.7 L607.2 1163.4 L608.5 1164.0 L609.8 1164.7 L610.2 1165.0 L611.0 1165.5 L612.3 1166.2 L613.6 1167.0 L614.9 1167.8 L616.2 1168.6 L617.5 1169.5 L618.7 1170.4 L620.0 1171.4 L621.3 1172.4 L622.3 1173.3 L622.6 1173.6 L623.9 1175.0 L625.2 1176.5 L626.4 1178.2 L627.7 1180.0 L629.0 1181.8 L630.3 1183.7 L630.3 1183.7 L631.6 1185.6 L632.9 1187.6 L634.1 1189.7 L635.4 1191.8 L636.7 1194.0 L638.0 1196.3 L639.3 1198.5 L639.9 1199.6 L640.6 1200.8 L641.8 1203.0 L643.1 1205.3 L644.4 1207.6 L645.7 1210.0 L647.0 1212.4 L648.2 1214.8 L649.5 1217.3 L650.8 1219.9 L651.1 1220.5 L652.1 1222.5 L653.4 1225.3 L654.7 1228.1 L655.9 1231.0 L657.2 1233.9 L658.5 1236.9 L659.8 1239.9 L661.1 1242.9 L662.4 1245.9 L662.4 1245.9 L663.6 1248.9 L664.9 1252.0 L666.2 1255.1 L667.5 1258.2 L668.8 1261.4 L670.1 1264.6 L671.3 1267.7 L672.6 1270.9 L673.9 1274.1 L675.2 1277.2 L676.5 1280.4 L677.8 1283.5 L679.0 1286.5 L679.7 1288.0 L680.3 1289.5 L681.6 1292.6 L682.9 1295.6 L684.2 1298.7 L685.5 1301.7 L686.7 1304.8 L688.0 1307.7 L689.3 1310.7 L690.6 1313.6 L691.9 1316.4 L693.1 1319.1 L694.4 1321.7 L694.4 1321.7 L695.7 1324.2 L697.0 1326.7 L698.3 1329.1 L699.6 1331.4 L700.8 1333.7 L702.1 1335.9 L703.4 1338.1 L704.7 1340.3 L706.0 1342.5 L707.3 1344.6 L708.5 1346.8 L709.8 1349.0 L711.1 1351.2 L712.4 1353.4 L713.7 1355.7 L713.9 1356.1 L715.0 1358.0 L716.2 1360.3 L717.5 1362.6 L718.8 1365.0 L720.1 1367.3 L721.4 1369.6 L722.7 1372.0 L723.9 1374.4 L725.2 1376.7 L726.5 1379.1 L726.5 1379.1 L727.8 1381.6 L729.1 1384.0 L730.3 1386.5 L731.6 1389.0 L732.9 1391.5 L734.2 1393.9 L735.5 1396.3 L736.1 1397.5 L736.8 1398.6 L738.0 1400.9 L739.3 1403.2 L740.6 1405.5 L741.9 1407.8 L743.2 1410.0 L744.5 1412.2 L745.7 1414.3 L747.0 1416.3 L748.3 1418.3 L749.6 1420.2 L749.6 1420.2 L750.9 1422.1 L752.2 1423.9 L753.4 1425.6 L754.7 1427.3 L756.0 1429.0 L757.3 1430.6 L758.6 1432.2 L759.9 1433.8 L761.1 1435.4 L762.4 1436.9 L763.7 1438.3 L765.0 1439.8 L765.0 1439.8 L766.3 1441.2 L767.5 1442.6 L768.8 1444.0 L770.1 1445.3 L771.4 1446.7 L772.7 1448.0 L774.0 1449.2 L775.2 1450.5 L776.5 1451.7 L777.8 1452.9 L779.1 1454.1 L780.4 1455.2 L781.0 1455.7 L781.7 1456.3 L782.9 1457.3 L784.2 1458.4 L785.5 1459.4 L786.8 1460.4 L788.1 1461.4 L789.4 1462.4 L790.6 1463.3 L791.9 1464.3 L793.2 1465.2 L794.5 1466.1 L795.8 1467.0 L797.1 1467.9 L798.3 1468.7 L799.6 1469.6 L800.8 1470.3 L800.9 1470.4 L802.2 1471.2 L803.5 1472.0 L804.8 1472.8 L806.0 1473.6 L807.3 1474.4 L808.6 1475.2 L809.9 1476.0 L811.2 1476.7 L812.4 1477.4 L813.7 1478.2 L815.0 1478.9 L816.3 1479.6 L817.6 1480.3 L818.9 1480.9 L820.1 1481.6 L821.4 1482.2 L822.7 1482.9 L822.7 1482.9 L824.0 1483.5 L825.3 1484.1 L826.6 1484.6 L827.8 1485.2 L829.1 1485.7 L830.4 1486.3 L831.7 1486.8 L833.0 1487.3 L834.3 1487.8 L835.5 1488.3 L836.8 1488.9 L838.1 1489.3 L839.4 1489.8 L840.7 1490.3 L842.0 1490.8 L842.0 1490.8 L843.2 1491.3 L844.5 1491.8 L845.8 1492.3 L847.1 1492.8 L848.4 1493.3 L849.6 1493.7 L850.9 1494.2 L852.2 1494.7 L853.5 1495.1 L854.8 1495.6 L856.1 1496.1 L857.3 1496.5 L858.6 1497.0 L859.9 1497.4 L861.2 1497.8 L862.5 1498.3 L863.8 1498.7 L865.0 1499.1 L866.3 1499.5 L866.5 1499.6 L867.6 1500.0 L868.9 1500.4 L870.2 1500.8 L871.5 1501.2 L872.7 1501.5 L874.0 1501.9 L875.3 1502.3 L876.6 1502.7 L877.9 1503.1 L879.2 1503.4 L880.4 1503.8 L881.7 1504.2 L883.0 1504.5 L884.3 1504.9 L885.6 1505.2 L886.8 1505.6 L886.8 1505.6 L888.1 1505.9 L889.4 1506.3 L890.7 1506.7 L892.0 1507.0 L893.3 1507.4 L894.5 1507.7 L895.8 1508.1 L897.1 1508.4 L898.4 1508.8 L899.7 1509.1 L901.0 1509.5 L902.2 1509.8 L903.5 1510.2 L904.8 1510.5 L906.1 1510.8 L907.4 1511.1 L908.7 1511.5 L909.9 1511.8 L911.2 1512.1 L912.5 1512.4 L912.5 1512.4 L913.8 1512.7 L915.1 1512.9 L916.4 1513.2 L917.6 1513.5 L918.9 1513.8 L920.2 1514.0 L921.5 1514.3 L922.8 1514.6 L924.1 1514.8 L925.3 1515.1 L926.6 1515.3 L927.9 1515.6 L929.2 1515.8 L930.5 1516.1 L931.7 1516.3 L933.0 1516.6 L934.3 1516.8 L935.6 1517.1 L936.9 1517.3 L937.4 1517.4 L938.2 1517.5 L939.4 1517.8 L940.7 1518.0 L942.0 1518.3 L943.3 1518.5 L944.6 1518.8 L945.9 1519.0 L947.1 1519.3 L948.4 1519.5 L949.7 1519.8 L951.0 1520.0 L952.3 1520.2 L953.6 1520.5 L954.8 1520.7 L956.1 1520.9 L957.4 1521.2 L958.7 1521.4 L960.0 1521.6 L961.3 1521.8 L962.5 1522.0 L963.8 1522.3 L965.1 1522.5 L966.4 1522.6 L967.0 1522.7 L967.7 1522.8 L968.9 1523.0 L970.2 1523.2 L971.5 1523.4 L972.8 1523.6 L974.1 1523.8 L975.4 1524.0 L976.6 1524.1 L977.9 1524.3 L979.2 1524.5 L980.5 1524.7 L981.8 1524.9 L983.1 1525.0 L984.3 1525.2 L985.6 1525.4 L986.9 1525.6 L988.2 1525.7 L989.5 1525.9 L990.8 1526.0 L992.0 1526.2 L993.3 1526.4 L994.6 1526.5 L995.9 1526.7 L997.2 1526.8 L998.5 1526.9 L999.7 1527.1 L1001.0 1527.2 L1002.3 1527.3 L1003.6 1527.5 L1004.9 1527.6 L1006.2 1527.7 L1007.4 1527.8 L1008.7 1527.9 L1010.0 1528.0 L1010.3 1528.0 L1011.3 1528.1 L1012.6 1528.2 L1013.8 1528.3 L1015.1 1528.3 L1016.4 1528.4 L1017.7 1528.5 L1019.0 1528.6 L1020.3 1528.7 L1021.5 1528.7 L1022.8 1528.8 L1024.1 1528.9 L1025.4 1528.9 L1026.7 1529.0 L1028.0 1529.1 L1029.2 1529.1 L1030.5 1529.2 L1031.8 1529.3 L1033.1 1529.3 L1034.4 1529.4 L1035.7 1529.5 L1036.9 1529.5 L1038.2 1529.6 L1039.5 1529.6 L1040.8 1529.7 L1042.1 1529.7 L1043.4 1529.8 L1044.6 1529.8 L1045.9 1529.9 L1047.2 1529.9 L1047.2 1529.9 L1048.5 1530.0 L1049.8 1530.0 L1051.0 1530.1 L1052.3 1530.1 L1053.6 1530.2 L1054.9 1530.2 L1056.2 1530.2 L1057.5 1530.3 L1058.7 1530.3 L1060.0 1530.4 L1061.3 1530.4 L1062.6 1530.4 L1063.9 1530.5 L1065.2 1530.5 L1066.4 1530.5 L1067.7 1530.6 L1069.0 1530.6 L1070.3 1530.6 L1071.6 1530.7 L1072.9 1530.7 L1074.1 1530.8 L1075.4 1530.8 L1076.7 1530.8 L1078.0 1530.9 L1079.3 1530.9 L1080.6 1530.9 L1081.8 1531.0 L1083.1 1531.0 L1083.3 1531.0 L1084.4 1531.0 L1085.7 1531.1 L1087.0 1531.1 L1088.2 1531.1 L1089.5 1531.2 L1090.8 1531.2 L1092.1 1531.2 L1093.4 1531.3 L1094.7 1531.3 L1095.9 1531.4 L1097.2 1531.4 L1098.5 1531.4 L1099.8 1531.5 L1101.1 1531.5 L1102.4 1531.5 L1103.6 1531.6 L1104.9 1531.6 L1106.2 1531.6 L1107.5 1531.7 L1108.8 1531.7 L1110.1 1531.7 L1111.3 1531.8 L1112.6 1531.8 L1113.9 1531.9 L1115.2 1531.9 L1116.5 1531.9 L1117.8 1532.0 L1119.0 1532.0 L1120.3 1532.0 L1121.6 1532.1 L1122.9 1532.1 L1124.2 1532.1 L1125.5 1532.2 L1126.7 1532.2 L1128.0 1532.2 L1129.3 1532.3 L1130.6 1532.3 L1131.9 1532.3 L1133.1 1532.4 L1134.4 1532.4 L1135.7 1532.4 L1137.0 1532.5 L1138.3 1532.5 L1139.6 1532.5 L1140.8 1532.5 L1142.1 1532.6 L1143.4 1532.6 L1144.7 1532.6 L1146.0 1532.7 L1147.3 1532.7 L1148.5 1532.7 L1149.8 1532.7 L1151.1 1532.8 L1152.4 1532.8 L1153.7 1532.8 L1155.0 1532.9 L1156.2 1532.9 L1157.2 1532.9 L1157.5 1532.9 L1158.8 1532.9 L1160.1 1533.0 L1161.4 1533.0 L1162.7 1533.0 L1163.9 1533.0 L1165.2 1533.1 L1166.5 1533.1 L1167.8 1533.1 L1169.1 1533.1 L1170.3 1533.2 L1171.6 1533.2 L1172.9 1533.2 L1174.2 1533.2 L1175.5 1533.2 L1176.8 1533.3 L1178.0 1533.3 L1179.3 1533.3 L1180.6 1533.3 L1181.9 1533.4 L1183.2 1533.4 L1184.5 1533.4 L1185.7 1533.4 L1187.0 1533.5 L1188.3 1533.5 L1189.6 1533.5 L1190.9 1533.5 L1192.2 1533.5 L1193.4 1533.6 L1194.7 1533.6 L1196.0 1533.6 L1197.3 1533.6 L1198.6 1533.6 L1199.9 1533.7 L1201.1 1533.7 L1202.4 1533.7 L1203.7 1533.7 L1205.0 1533.7 L1206.3 1533.8 L1207.5 1533.8 L1208.8 1533.8 L1210.1 1533.8 L1211.4 1533.8 L1212.7 1533.9 L1214.0 1533.9 L1215.2 1533.9 L1216.5 1533.9 L1217.8 1533.9 L1219.1 1534.0 L1220.4 1534.0 L1221.7 1534.0 L1222.9 1534.0 L1224.2 1534.0 L1225.5 1534.0 L1226.8 1534.1 L1228.1 1534.1 L1229.4 1534.1 L1230.0 1534.1 L1230.6 1534.1 L1231.9 1534.1 L1233.2 1534.1 L1234.5 1534.2 L1235.8 1534.2 L1237.1 1534.2 L1238.3 1534.2 L1239.6 1534.2 L1240.9 1534.2 L1242.2 1534.2 L1243.5 1534.3 L1244.8 1534.3 L1246.0 1534.3 L1247.3 1534.3 L1248.6 1534.3 L1249.9 1534.3 L1251.2 1534.3 L1252.4 1534.4 L1253.7 1534.4 L1255.0 1534.4 L1256.3 1534.4 L1257.6 1534.4 L1258.9 1534.4 L1260.1 1534.4 L1261.4 1534.5 L1262.7 1534.5 L1264.0 1534.5 L1265.3 1534.5 L1266.6 1534.5 L1267.8 1534.5 L1269.1 1534.5 L1270.4 1534.5 L1271.7 1534.6 L1273.0 1534.6 L1274.3 1534.6 L1275.5 1534.6 L1276.8 1534.6 L1278.1 1534.6 L1279.4 1534.6 L1280.7 1534.6 L1282.0 1534.7 L1283.2 1534.7 L1284.5 1534.7 L1285.8 1534.7 L1287.1 1534.7 L1288.4 1534.7 L1289.6 1534.7 L1290.9 1534.7 L1292.2 1534.8 L1293.5 1534.8 L1294.8 1534.8 L1296.1 1534.8 L1297.3 1534.8 L1298.6 1534.8 L1299.9 1534.8 L1301.2 1534.8 L1302.5 1534.9 L1303.8 1534.9 L1303.8 1534.9 L1305.0 1534.9 L1306.3 1534.9 L1307.6 1534.9 L1308.9 1534.9 L1310.2 1534.9 L1311.5 1535.0 L1312.7 1535.0 L1314.0 1535.0 L1315.3 1535.0 L1316.6 1535.0 L1317.9 1535.0 L1319.2 1535.0 L1320.4 1535.0 L1321.7 1535.1 L1323.0 1535.1 L1324.3 1535.1 L1325.6 1535.1 L1326.9 1535.1 L1328.1 1535.1 L1329.4 1535.1 L1330.7 1535.2 L1332.0 1535.2 L1333.3 1535.2 L1334.5 1535.2 L1335.8 1535.2 L1337.1 1535.2 L1338.4 1535.2 L1339.7 1535.3 L1341.0 1535.3 L1342.2 1535.3 L1343.5 1535.3 L1344.8 1535.3 L1346.1 1535.3 L1347.4 1535.3 L1348.7 1535.3 L1349.9 1535.4 L1351.2 1535.4 L1352.5 1535.4 L1353.8 1535.4 L1355.1 1535.4 L1356.4 1535.4 L1357.6 1535.4 L1358.9 1535.4 L1360.2 1535.5 L1361.5 1535.5 L1362.8 1535.5 L1364.1 1535.5 L1365.3 1535.5 L1366.6 1535.5 L1367.9 1535.5 L1367.9 1535.5 L1369.2 1535.5 L1370.5 1535.5 L1371.7 1535.5 L1373.0 1535.5 L1374.3 1535.6 L1375.6 1535.6 L1376.9 1535.6 L1378.2 1535.6 L1379.4 1535.6 L1380.7 1535.6 L1382.0 1535.6 L1383.3 1535.6 L1384.6 1535.6 L1385.9 1535.6 L1387.1 1535.6 L1388.4 1535.6 L1389.7 1535.7 L1391.0 1535.7 L1392.3 1535.7 L1393.6 1535.7 L1394.8 1535.7 L1396.1 1535.7 L1397.4 1535.7 L1398.7 1535.7 L1400.0 1535.7 L1401.3 1535.7 L1402.5 1535.7 L1403.8 1535.7 L1405.1 1535.7 L1406.4 1535.8 L1407.7 1535.8 L1408.9 1535.8 L1410.2 1535.8 L1411.5 1535.8 L1412.8 1535.8 L1414.1 1535.8 L1415.4 1535.8 L1416.6 1535.8 L1417.9 1535.8 L1419.2 1535.8 L1420.5 1535.8 L1421.8 1535.8 L1423.1 1535.9 L1424.3 1535.9 L1425.6 1535.9 L1426.9 1535.9 L1428.2 1535.9 L1429.5 1535.9 L1430.8 1535.9 L1432.0 1535.9 L1433.3 1535.9 L1434.6 1535.9 L1435.9 1535.9 L1437.2 1535.9 L1438.5 1535.9 L1439.7 1535.9 L1441.0 1535.9 L1442.3 1536.0 L1443.6 1536.0 L1444.9 1536.0 L1446.2 1536.0 L1447.4 1536.0 L1448.7 1536.0 L1450.0 1536.0 L1451.3 1536.0 L1452.6 1536.0 L1453.8 1536.0 L1455.1 1536.0 L1456.4 1536.0 L1457.7 1536.0 L1459.0 1536.0 L1460.3 1536.0 L1461.5 1536.0 L1462.8 1536.1 L1464.1 1536.1 L1465.4 1536.1 L1466.7 1536.1 L1468.0 1536.1 L1469.2 1536.1 L1470.5 1536.1 L1471.8 1536.1 L1473.1 1536.1 L1474.4 1536.1 L1475.7 1536.1 L1476.9 1536.1 L1478.2 1536.1 L1479.5 1536.1 L1480.8 1536.1 L1482.1 1536.1 L1483.4 1536.1 L1484.6 1536.1 L1485.9 1536.2 L1487.2 1536.2 L1488.5 1536.2 L1489.8 1536.2 L1491.0 1536.2 L1492.3 1536.2 L1493.6 1536.2 L1494.9 1536.2 L1496.2 1536.2 L1497.5 1536.2 L1498.7 1536.2 L1500.0 1536.2 L1501.3 1536.2 L1502.6 1536.2 L1503.9 1536.2 L1505.2 1536.2 L1506.4 1536.2 L1507.7 1536.2 L1509.0 1536.2 L1510.3 1536.2 L1511.6 1536.2 L1512.9 1536.3 L1514.1 1536.3 L1515.4 1536.3 L1516.7 1536.3 L1518.0 1536.3 L1519.3 1536.3 L1520.6 1536.3 L1521.8 1536.3 L1523.1 1536.3 L1524.4 1536.3 L1525.7 1536.3 L1527.0 1536.3 L1528.2 1536.3 L1528.2 1536.3 L1529.5 1536.3 L1530.8 1536.3 L1532.1 1536.3 L1533.4 1536.3 L1534.7 1536.3 L1535.9 1536.3 L1537.2 1536.3 L1538.5 1536.3 L1539.8 1536.3 L1541.1 1536.3 L1542.4 1536.4 L1543.6 1536.4 L1544.9 1536.4 L1546.2 1536.4 L1547.5 1536.4 L1548.8 1536.4 L1550.1 1536.4 L1551.3 1536.4 L1552.6 1536.4 L1553.9 1536.4 L1555.2 1536.4 L1556.5 1536.4 L1557.8 1536.4 L1559.0 1536.4 L1560.3 1536.4 L1561.6 1536.4 L1562.9 1536.4 L1564.2 1536.4 L1565.5 1536.4 L1566.7 1536.4 L1568.0 1536.4 L1569.3 1536.4 L1570.6 1536.4 L1571.9 1536.4 L1573.1 1536.4 L1574.4 1536.5 L1575.7 1536.5 L1577.0 1536.5 L1578.3 1536.5 L1579.6 1536.5 L1580.8 1536.5 L1582.1 1536.5 L1583.4 1536.5 L1584.7 1536.5 L1586.0 1536.5 L1587.3 1536.5 L1588.5 1536.5 L1589.8 1536.5 L1591.1 1536.5 L1592.4 1536.5 L1593.7 1536.5 L1595.0 1536.5 L1596.2 1536.5 L1597.5 1536.5 L1598.8 1536.5 L1600.1 1536.5 L1601.4 1536.5 L1602.7 1536.5 L1603.9 1536.5 L1605.2 1536.5 L1606.5 1536.5 L1607.8 1536.5 L1609.1 1536.5 L1610.3 1536.6 L1611.6 1536.6 L1612.9 1536.6 L1614.2 1536.6 L1615.5 1536.6 L1616.8 1536.6 L1618.0 1536.6 L1619.3 1536.6 L1620.6 1536.6 L1621.9 1536.6 L1623.2 1536.6 L1624.5 1536.6 L1625.7 1536.6 L1627.0 1536.6 L1628.3 1536.6 L1629.6 1536.6 L1630.9 1536.6 L1632.2 1536.6 L1633.4 1536.6 L1634.7 1536.6 L1636.0 1536.6 L1637.3 1536.6 L1638.6 1536.6 L1639.9 1536.6 L1641.1 1536.6 L1642.4 1536.6 L1643.7 1536.6 L1645.0 1536.6 L1646.3 1536.6 L1647.6 1536.6 L1648.8 1536.6 L1650.1 1536.6 L1651.4 1536.6 L1652.7 1536.6 L1654.0 1536.7 L1655.2 1536.7 L1656.5 1536.7 L1657.8 1536.7 L1659.1 1536.7 L1660.4 1536.7 L1661.7 1536.7 L1662.9 1536.7 L1664.2 1536.7 L1665.5 1536.7 L1666.8 1536.7 L1668.1 1536.7 L1669.4 1536.7 L1670.6 1536.7 L1671.9 1536.7 L1673.2 1536.7 L1674.5 1536.7 L1675.8 1536.7 L1677.1 1536.7 L1678.3 1536.7 L1679.6 1536.7 L1680.9 1536.7 L1682.2 1536.7 L1683.5 1536.7 L1684.8 1536.7 L1686.0 1536.7 L1687.3 1536.7 L1688.6 1536.7 L1688.6 1536.7" class="da" stroke-dashoffset="64.7"/>
<path d="M405.8 1458.1 L407.1 1458.8 L408.4 1459.4 L409.6 1460.0 L410.9 1460.7 L412.2 1461.3 L412.2 1461.3 L413.5 1461.9 L414.8 1462.5 L416.1 1463.1 L417.3 1463.8 L418.6 1464.4 L419.9 1465.0 L421.2 1465.6 L422.5 1466.3 L423.1 1466.7 L423.8 1467.0 L425.0 1467.8 L426.3 1468.5 L427.6 1469.4 L428.9 1470.2 L430.2 1471.0 L431.5 1471.9 L432.7 1472.7 L434.0 1473.6 L435.3 1474.5 L435.3 1474.5 L436.6 1475.4 L437.9 1476.3 L439.2 1477.2 L440.4 1478.1 L441.7 1479.1 L443.0 1480.0 L444.3 1480.9 L445.6 1481.8 L446.8 1482.7 L447.5 1483.1 L448.1 1483.5 L449.4 1484.3 L450.7 1485.1 L452.0 1485.9 L453.3 1486.6 L454.5 1487.4 L455.8 1488.1 L457.1 1488.8 L458.4 1489.4 L459.7 1490.1 L460.6 1490.5 L461.0 1490.7 L462.2 1491.2 L463.5 1491.8 L464.8 1492.3 L466.1 1492.8 L467.4 1493.3 L468.7 1493.8 L469.9 1494.3 L471.2 1494.7 L472.5 1495.2 L473.8 1495.7 L474.8 1496.0 L475.1 1496.1 L476.4 1496.6 L477.6 1497.1 L478.9 1497.6 L480.2 1498.1 L481.5 1498.5 L482.8 1499.0 L484.1 1499.5 L485.3 1499.9 L486.6 1500.3 L487.9 1500.7 L489.2 1501.0 L489.2 1501.0 L490.5 1501.4 L491.7 1501.7 L493.0 1502.0 L494.3 1502.3 L495.6 1502.6 L496.9 1502.8 L498.2 1503.1 L499.4 1503.3 L500.7 1503.6 L502.0 1503.8 L503.3 1504.0 L503.3 1504.0 L504.6 1504.2 L505.9 1504.4 L507.1 1504.6 L508.4 1504.8 L509.7 1505.0 L511.0 1505.1 L512.3 1505.3 L513.6 1505.5 L514.8 1505.6 L516.1 1505.8 L517.4 1505.9 L518.4 1506.0 L518.7 1506.0 L520.0 1506.2 L521.3 1506.3 L522.5 1506.4 L523.8 1506.5 L525.1 1506.7 L526.4 1506.8 L527.7 1506.9 L528.9 1507.0 L530.2 1507.1 L531.5 1507.1 L532.8 1507.2 L533.4 1507.2 L534.1 1507.2 L535.4 1507.2 L536.6 1507.2 L537.9 1507.2 L539.2 1507.3 L540.5 1507.3 L541.8 1507.3 L543.1 1507.3 L544.3 1507.3 L545.6 1507.3 L546.9 1507.3 L548.2 1507.3 L549.5 1507.3 L550.8 1507.3 L552.0 1507.3 L553.3 1507.4 L554.6 1507.4 L555.9 1507.4 L557.2 1507.4 L558.5 1507.4 L559.7 1507.4 L561.0 1507.4 L562.3 1507.4 L563.3 1507.4 L563.6 1507.4 L564.9 1507.4 L566.1 1507.5 L567.4 1507.5 L568.7 1507.5 L570.0 1507.5 L571.3 1507.5 L572.6 1507.5 L573.8 1507.6 L575.1 1507.6 L575.1 1507.6 L576.4 1507.8 L577.7 1508.3 L579.0 1508.7 L579.6 1508.8 L580.3 1508.8 L581.5 1508.9 L582.8 1509.0 L584.1 1509.0 L585.4 1509.1 L586.7 1509.1 L588.0 1509.2 L589.2 1509.2 L590.5 1509.3 L591.8 1509.3 L592.4 1509.3 L593.1 1509.4 L594.4 1509.4 L595.7 1509.5 L596.9 1509.5 L598.2 1509.6 L599.5 1509.7 L600.8 1509.8 L602.1 1509.9 L603.4 1510.1 L604.0 1510.1 L604.6 1510.4 L605.9 1511.4 L607.2 1512.6 L608.5 1513.3 L608.5 1513.3 L609.8 1513.5 L611.0 1513.7 L612.3 1513.8 L613.6 1513.9 L614.9 1514.0 L616.2 1514.1 L617.5 1514.1 L618.7 1514.2 L620.0 1514.3 L621.3 1514.4 L622.0 1514.4 L622.6 1514.5 L623.9 1514.7 L625.2 1514.9 L626.4 1515.0 L627.7 1515.2 L629.0 1515.5 L630.3 1515.7 L631.6 1515.9 L632.9 1516.1 L634.1 1516.2 L635.4 1516.4 L636.7 1516.6 L637.0 1516.6 L638.0 1516.7 L639.3 1516.8 L640.6 1517.0 L641.8 1517.1 L643.1 1517.2 L644.4 1517.3 L645.7 1517.4 L647.0 1517.5 L648.2 1517.6 L649.5 1517.8 L650.8 1517.9 L652.1 1518.0 L653.4 1518.0 L654.7 1518.1 L655.9 1518.2 L657.2 1518.3 L658.5 1518.4 L659.8 1518.5 L661.1 1518.5 L662.4 1518.6 L663.6 1518.7 L664.9 1518.7 L665.6 1518.8 L666.2 1518.8 L667.5 1518.8 L668.8 1518.8 L670.1 1518.9 L671.3 1518.9 L672.6 1518.9 L673.9 1518.9 L675.2 1519.0 L676.5 1519.0 L677.8 1519.1 L678.4 1519.2 L679.0 1519.4 L680.3 1520.4 L681.6 1521.1 L681.6 1521.1 L682.9 1521.3 L684.2 1521.4 L685.5 1521.5 L686.7 1521.6 L688.0 1521.6 L689.3 1521.7 L690.6 1521.8 L691.9 1521.9 L693.1 1521.9 L694.4 1522.0 L695.7 1522.0 L697.0 1522.1 L698.3 1522.1 L699.6 1522.2 L700.8 1522.2 L702.1 1522.2 L703.4 1522.3 L704.7 1522.3 L706.0 1522.3 L707.3 1522.3 L708.5 1522.4 L709.8 1522.4 L711.1 1522.4 L712.4 1522.4 L713.7 1522.4 L715.0 1522.5 L716.2 1522.5 L717.5 1522.5 L718.8 1522.5 L720.1 1522.6 L721.4 1522.6 L722.7 1522.6 L723.9 1522.7 L725.2 1522.7 L726.5 1522.7 L726.5 1522.7 L727.8 1522.8 L729.1 1522.8 L730.3 1522.9 L731.6 1522.9 L732.9 1523.0 L734.2 1523.0 L735.5 1523.1 L736.8 1523.1 L738.0 1523.2 L739.3 1523.2 L740.6 1523.3 L741.9 1523.3 L743.2 1523.4 L744.5 1523.4 L745.7 1523.5 L747.0 1523.5 L748.3 1523.6 L749.6 1523.6 L750.9 1523.7 L752.2 1523.7 L753.4 1523.8 L754.7 1523.8 L756.0 1523.9 L757.3 1523.9 L758.6 1524.0 L759.9 1524.0 L761.1 1524.0 L762.4 1524.1 L763.7 1524.1 L765.0 1524.2 L766.3 1524.2 L767.5 1524.3 L768.8 1524.3 L770.1 1524.4 L771.4 1524.4 L772.7 1524.4 L774.0 1524.5 L775.2 1524.5 L776.5 1524.6 L777.8 1524.6 L779.1 1524.6 L780.4 1524.7 L781.7 1524.7 L782.9 1524.7 L784.2 1524.8 L785.5 1524.8 L786.8 1524.8 L788.1 1524.8 L789.4 1524.9 L790.6 1524.9 L791.9 1524.9 L793.2 1524.9 L794.5 1524.9 L795.8 1525.0 L797.1 1525.0 L797.1 1525.0 L798.3 1525.0 L799.6 1525.0 L800.9 1525.0 L802.2 1525.0 L803.5 1525.0 L804.8 1525.0 L806.0 1525.1 L807.3 1525.1 L808.6 1525.1 L809.9 1525.1 L811.2 1525.1 L812.4 1525.1 L813.7 1525.1 L815.0 1525.1 L816.3 1525.1 L817.6 1525.1 L818.9 1525.2 L820.1 1525.2 L821.4 1525.2 L822.7 1525.2 L824.0 1525.2 L825.3 1525.2 L826.6 1525.2 L827.8 1525.2 L829.1 1525.2 L830.4 1525.2 L831.7 1525.2 L833.0 1525.2 L834.3 1525.2 L835.5 1525.2 L836.8 1525.3 L838.1 1525.3 L839.4 1525.3 L840.7 1525.3 L842.0 1525.3 L843.2 1525.3 L844.5 1525.3 L845.8 1525.3 L847.1 1525.3 L848.4 1525.3 L849.6 1525.3 L850.9 1525.3 L852.2 1525.3 L853.5 1525.3 L854.8 1525.3 L856.1 1525.3 L857.3 1525.3 L858.6 1525.3 L859.9 1525.3 L861.2 1525.3 L862.5 1525.3 L863.8 1525.4 L865.0 1525.4 L866.3 1525.4 L867.6 1525.4 L868.9 1525.4 L870.2 1525.4 L871.5 1525.4 L872.7 1525.4 L874.0 1525.4 L875.3 1525.4 L876.6 1525.4 L877.9 1525.4 L879.2 1525.4 L880.4 1525.4 L881.7 1525.4 L883.0 1525.4 L884.3 1525.4 L885.6 1525.4 L886.8 1525.4 L888.1 1525.4 L889.4 1525.4 L890.7 1525.4 L892.0 1525.5 L893.3 1525.5 L894.5 1525.5 L895.8 1525.5 L897.1 1525.5 L898.4 1525.5 L899.7 1525.5 L901.0 1525.5 L902.2 1525.5 L903.5 1525.5 L904.8 1525.5 L906.1 1525.5 L907.4 1525.5 L908.7 1525.5 L909.9 1525.5 L911.2 1525.5 L912.5 1525.6 L913.8 1525.6 L915.1 1525.6 L916.4 1525.6 L917.6 1525.6 L918.9 1525.6 L920.2 1525.6 L921.5 1525.6 L922.8 1525.6 L924.1 1525.6 L925.3 1525.6 L926.6 1525.7 L927.9 1525.7 L929.2 1525.7 L930.5 1525.7 L931.7 1525.7 L931.7 1525.7 L933.0 1525.7 L934.3 1525.7 L935.6 1525.7 L936.9 1525.7 L938.2 1525.8 L939.4 1525.8 L940.7 1525.8 L942.0 1525.8 L943.3 1525.8 L944.6 1525.8 L945.9 1525.9 L947.1 1525.9 L948.4 1525.9 L949.7 1525.9 L951.0 1525.9 L952.3 1526.0 L953.6 1526.0 L954.8 1526.0 L956.1 1526.0 L957.4 1526.1 L958.7 1526.1 L960.0 1526.1 L961.3 1526.1 L962.5 1526.2 L963.8 1526.2 L965.1 1526.2 L966.4 1526.2 L967.7 1526.3 L968.9 1526.3 L970.2 1526.3 L971.5 1526.4 L972.8 1526.4 L974.1 1526.4 L975.4 1526.4 L976.6 1526.5 L977.9 1526.5 L979.2 1526.5 L980.5 1526.6 L981.8 1526.6 L983.1 1526.6 L984.3 1526.7 L985.6 1526.7 L986.9 1526.7 L988.2 1526.8 L989.5 1526.8 L990.8 1526.8 L992.0 1526.9 L993.3 1526.9 L994.6 1526.9 L995.9 1527.0 L997.2 1527.0 L998.5 1527.0 L999.7 1527.1 L1001.0 1527.1 L1002.3 1527.1 L1003.6 1527.2 L1004.9 1527.2 L1006.2 1527.2 L1007.4 1527.3 L1008.7 1527.3 L1010.0 1527.3 L1011.3 1527.4 L1012.6 1527.4 L1013.8 1527.5 L1015.1 1527.5 L1016.4 1527.5 L1017.7 1527.6 L1019.0 1527.6 L1020.3 1527.6 L1021.5 1527.7 L1022.8 1527.7 L1024.1 1527.7 L1025.4 1527.8 L1026.7 1527.8 L1028.0 1527.8 L1029.2 1527.9 L1030.5 1527.9 L1031.8 1527.9 L1033.1 1528.0 L1034.4 1528.0 L1035.7 1528.0 L1036.9 1528.1 L1038.2 1528.1 L1039.5 1528.1 L1040.8 1528.2 L1042.1 1528.2 L1043.4 1528.2 L1044.6 1528.3 L1045.9 1528.3 L1047.2 1528.3 L1047.2 1528.3 L1048.5 1528.4 L1049.8 1528.4 L1051.0 1528.4 L1052.3 1528.5 L1053.6 1528.5 L1054.9 1528.5 L1056.2 1528.5 L1057.5 1528.6 L1058.7 1528.6 L1060.0 1528.6 L1061.3 1528.7 L1062.6 1528.7 L1063.9 1528.7 L1065.2 1528.8 L1066.4 1528.8 L1067.7 1528.8 L1069.0 1528.9 L1070.3 1528.9 L1071.6 1528.9 L1072.9 1529.0 L1074.1 1529.0 L1075.4 1529.1 L1076.7 1529.1 L1078.0 1529.1 L1079.3 1529.2 L1080.6 1529.2 L1081.8 1529.2 L1083.1 1529.3 L1084.4 1529.3 L1085.7 1529.3 L1087.0 1529.4 L1088.2 1529.4 L1089.5 1529.4 L1090.8 1529.5 L1092.1 1529.5 L1093.4 1529.5 L1094.7 1529.6 L1095.9 1529.6 L1097.2 1529.6 L1098.5 1529.7 L1099.8 1529.7 L1101.1 1529.8 L1102.4 1529.8 L1103.6 1529.8 L1104.9 1529.9 L1106.2 1529.9 L1107.5 1529.9 L1108.8 1530.0 L1110.1 1530.0 L1111.3 1530.0 L1112.6 1530.1 L1113.9 1530.1 L1115.2 1530.1 L1116.5 1530.2 L1117.8 1530.2 L1119.0 1530.2 L1120.3 1530.3 L1121.6 1530.3 L1122.9 1530.3 L1124.2 1530.4 L1125.5 1530.4 L1126.7 1530.4 L1128.0 1530.5 L1129.3 1530.5 L1130.6 1530.5 L1131.9 1530.6 L1133.1 1530.6 L1134.4 1530.6 L1135.7 1530.7 L1137.0 1530.7 L1138.3 1530.7 L1139.6 1530.8 L1140.8 1530.8 L1142.1 1530.8 L1143.4 1530.9 L1144.7 1530.9 L1146.0 1530.9 L1147.3 1530.9 L1148.5 1531.0 L1149.8 1531.0 L1151.1 1531.0 L1152.4 1531.1 L1153.7 1531.1 L1155.0 1531.1 L1156.2 1531.1 L1157.5 1531.2 L1158.8 1531.2 L1160.1 1531.2 L1161.4 1531.3 L1162.7 1531.3 L1163.9 1531.3 L1165.2 1531.3 L1166.5 1531.4 L1167.8 1531.4 L1169.1 1531.4 L1170.3 1531.4 L1171.6 1531.5 L1172.9 1531.5 L1174.2 1531.5 L1175.5 1531.5 L1175.5 1531.5 L1176.8 1531.5 L1178.0 1531.6 L1179.3 1531.6 L1180.6 1531.6 L1181.9 1531.6 L1183.2 1531.6 L1184.5 1531.7 L1185.7 1531.7 L1187.0 1531.7 L1188.3 1531.7 L1189.6 1531.8 L1190.9 1531.8 L1192.2 1531.8 L1193.4 1531.8 L1194.7 1531.8 L1196.0 1531.9 L1197.3 1531.9 L1198.6 1531.9 L1199.9 1531.9 L1201.1 1531.9 L1202.4 1532.0 L1203.7 1532.0 L1205.0 1532.0 L1206.3 1532.0 L1207.5 1532.0 L1208.8 1532.1 L1210.1 1532.1 L1211.4 1532.1 L1212.7 1532.1 L1214.0 1532.1 L1215.2 1532.2 L1216.5 1532.2 L1217.8 1532.2 L1219.1 1532.2 L1220.4 1532.2 L1221.7 1532.3 L1222.9 1532.3 L1224.2 1532.3 L1225.5 1532.3 L1226.8 1532.3 L1228.1 1532.4 L1229.4 1532.4 L1230.6 1532.4 L1231.9 1532.4 L1233.2 1532.4 L1234.5 1532.5 L1235.8 1532.5 L1237.1 1532.5 L1238.3 1532.5 L1239.6 1532.5 L1240.9 1532.5 L1242.2 1532.6 L1243.5 1532.6 L1244.8 1532.6 L1246.0 1532.6 L1247.3 1532.6 L1248.6 1532.6 L1249.9 1532.7 L1251.2 1532.7 L1252.4 1532.7 L1253.7 1532.7 L1255.0 1532.7 L1256.3 1532.8 L1257.6 1532.8 L1258.9 1532.8 L1260.1 1532.8 L1261.4 1532.8 L1262.7 1532.8 L1264.0 1532.9 L1265.3 1532.9 L1266.6 1532.9 L1267.8 1532.9 L1269.1 1532.9 L1270.4 1532.9 L1271.7 1533.0 L1273.0 1533.0 L1274.3 1533.0 L1275.5 1533.0 L1276.8 1533.0 L1278.1 1533.0 L1279.4 1533.1 L1280.7 1533.1 L1282.0 1533.1 L1283.2 1533.1 L1284.5 1533.1 L1285.8 1533.1 L1287.1 1533.1 L1288.4 1533.2 L1289.6 1533.2 L1290.9 1533.2 L1292.2 1533.2 L1293.5 1533.2 L1294.8 1533.2 L1296.1 1533.2 L1297.3 1533.3 L1298.6 1533.3 L1299.9 1533.3 L1301.2 1533.3 L1302.5 1533.3 L1303.8 1533.3 L1305.0 1533.3 L1306.3 1533.4 L1307.6 1533.4 L1308.9 1533.4 L1310.2 1533.4 L1311.5 1533.4 L1312.7 1533.4 L1314.0 1533.4 L1315.3 1533.5 L1316.6 1533.5 L1317.9 1533.5 L1319.2 1533.5 L1320.4 1533.5 L1321.7 1533.5 L1323.0 1533.5 L1324.3 1533.5 L1325.6 1533.6 L1326.9 1533.6 L1328.1 1533.6 L1329.4 1533.6 L1330.7 1533.6 L1332.0 1533.6 L1333.3 1533.6 L1334.5 1533.6 L1335.8 1533.7 L1337.1 1533.7 L1338.4 1533.7 L1339.7 1533.7 L1341.0 1533.7 L1342.2 1533.7 L1343.5 1533.7 L1344.8 1533.7 L1346.1 1533.7 L1347.4 1533.8 L1348.7 1533.8 L1349.9 1533.8 L1351.2 1533.8 L1352.5 1533.8 L1353.8 1533.8 L1355.1 1533.8 L1356.4 1533.8 L1357.6 1533.8 L1358.9 1533.8 L1360.2 1533.9 L1361.5 1533.9 L1362.8 1533.9 L1364.1 1533.9 L1365.3 1533.9 L1366.6 1533.9 L1367.9 1533.9 L1367.9 1533.9 L1369.2 1533.9 L1370.5 1533.9 L1371.7 1533.9 L1373.0 1533.9 L1374.3 1534.0 L1375.6 1534.0 L1376.9 1534.0 L1378.2 1534.0 L1379.4 1534.0 L1380.7 1534.0 L1382.0 1534.0 L1383.3 1534.0 L1384.6 1534.0 L1385.9 1534.0 L1387.1 1534.0 L1388.4 1534.0 L1389.7 1534.1 L1391.0 1534.1 L1392.3 1534.1 L1393.6 1534.1 L1394.8 1534.1 L1396.1 1534.1 L1397.4 1534.1 L1398.7 1534.1 L1400.0 1534.1 L1401.3 1534.1 L1402.5 1534.1 L1403.8 1534.1 L1405.1 1534.1 L1406.4 1534.2 L1407.7 1534.2 L1408.9 1534.2 L1410.2 1534.2 L1411.5 1534.2 L1412.8 1534.2 L1414.1 1534.2 L1415.4 1534.2 L1416.6 1534.2 L1417.9 1534.2 L1419.2 1534.2 L1420.5 1534.2 L1421.8 1534.2 L1423.1 1534.2 L1424.3 1534.2 L1425.6 1534.2 L1426.9 1534.3 L1428.2 1534.3 L1429.5 1534.3 L1430.8 1534.3 L1432.0 1534.3 L1433.3 1534.3 L1434.6 1534.3 L1435.9 1534.3 L1437.2 1534.3 L1438.5 1534.3 L1439.7 1534.3 L1441.0 1534.3 L1442.3 1534.3 L1443.6 1534.3 L1444.9 1534.3 L1446.2 1534.3 L1447.4 1534.4 L1448.7 1534.4 L1450.0 1534.4 L1451.3 1534.4 L1452.6 1534.4 L1453.8 1534.4 L1455.1 1534.4 L1456.4 1534.4 L1457.7 1534.4 L1459.0 1534.4 L1460.3 1534.4 L1461.5 1534.4 L1462.8 1534.4 L1464.1 1534.4 L1465.4 1534.4 L1466.7 1534.4 L1468.0 1534.4 L1469.2 1534.4 L1470.5 1534.5 L1471.8 1534.5 L1473.1 1534.5 L1474.4 1534.5 L1475.7 1534.5 L1476.9 1534.5 L1478.2 1534.5 L1479.5 1534.5 L1480.8 1534.5 L1482.1 1534.5 L1483.4 1534.5 L1484.6 1534.5 L1485.9 1534.5 L1487.2 1534.5 L1488.5 1534.5 L1489.8 1534.5 L1491.0 1534.5 L1492.3 1534.5 L1493.6 1534.6 L1494.9 1534.6 L1496.2 1534.6 L1497.5 1534.6 L1498.7 1534.6 L1500.0 1534.6 L1501.3 1534.6 L1502.6 1534.6 L1503.9 1534.6 L1505.2 1534.6 L1506.4 1534.6 L1507.7 1534.6 L1509.0 1534.6 L1510.3 1534.6 L1511.6 1534.6 L1512.9 1534.6 L1514.1 1534.6 L1515.4 1534.6 L1516.7 1534.7 L1518.0 1534.7 L1519.3 1534.7 L1520.6 1534.7 L1521.8 1534.7 L1523.1 1534.7 L1524.4 1534.7 L1525.7 1534.7 L1527.0 1534.7 L1528.2 1534.7 L1528.2 1534.7 L1529.5 1534.7 L1530.8 1534.7 L1532.1 1534.7 L1533.4 1534.7 L1534.7 1534.7 L1535.9 1534.7 L1537.2 1534.8 L1538.5 1534.8 L1539.8 1534.8 L1541.1 1534.8 L1542.4 1534.8 L1543.6 1534.8 L1544.9 1534.8 L1546.2 1534.8 L1547.5 1534.8 L1548.8 1534.8 L1550.1 1534.8 L1551.3 1534.8 L1552.6 1534.8 L1553.9 1534.8 L1555.2 1534.8 L1556.5 1534.9 L1557.8 1534.9 L1559.0 1534.9 L1560.3 1534.9 L1561.6 1534.9 L1562.9 1534.9 L1564.2 1534.9 L1565.5 1534.9 L1566.7 1534.9 L1568.0 1534.9 L1569.3 1534.9 L1570.6 1534.9 L1571.9 1534.9 L1573.1 1534.9 L1574.4 1534.9 L1575.7 1534.9 L1577.0 1535.0 L1578.3 1535.0 L1579.6 1535.0 L1580.8 1535.0 L1582.1 1535.0 L1583.4 1535.0 L1584.7 1535.0 L1586.0 1535.0 L1587.3 1535.0 L1588.5 1535.0 L1589.8 1535.0 L1591.1 1535.0 L1592.4 1535.0 L1593.7 1535.0 L1595.0 1535.0 L1596.2 1535.0 L1597.5 1535.1 L1598.8 1535.1 L1600.1 1535.1 L1601.4 1535.1 L1602.7 1535.1 L1603.9 1535.1 L1605.2 1535.1 L1606.5 1535.1 L1607.8 1535.1 L1609.1 1535.1 L1610.3 1535.1 L1611.6 1535.1 L1612.9 1535.1 L1614.2 1535.1 L1615.5 1535.1 L1616.8 1535.2 L1618.0 1535.2 L1619.3 1535.2 L1620.6 1535.2 L1621.9 1535.2 L1623.2 1535.2 L1624.5 1535.2 L1625.7 1535.2 L1627.0 1535.2 L1628.3 1535.2 L1629.6 1535.2 L1630.9 1535.2 L1632.2 1535.2 L1633.4 1535.2 L1634.7 1535.2 L1636.0 1535.2 L1637.3 1535.3 L1638.6 1535.3 L1639.9 1535.3 L1641.1 1535.3 L1642.4 1535.3 L1643.7 1535.3 L1645.0 1535.3 L1646.3 1535.3 L1647.6 1535.3 L1648.8 1535.3 L1650.1 1535.3 L1651.4 1535.3 L1652.7 1535.3 L1654.0 1535.3 L1655.2 1535.3 L1656.5 1535.3 L1657.8 1535.4 L1659.1 1535.4 L1660.4 1535.4 L1661.7 1535.4 L1662.9 1535.4 L1664.2 1535.4 L1665.5 1535.4 L1666.8 1535.4 L1668.1 1535.4 L1669.4 1535.4 L1670.6 1535.4 L1671.9 1535.4 L1673.2 1535.4 L1674.5 1535.4 L1675.8 1535.4 L1677.1 1535.5 L1678.3 1535.5 L1679.6 1535.5 L1680.9 1535.5 L1682.2 1535.5 L1683.5 1535.5 L1684.8 1535.5 L1686.0 1535.5 L1687.3 1535.5 L1688.6 1535.5 L1688.6 1535.5" class="do" stroke-dashoffset="12.0"/>
<path d="M405.8 102.7 V1542.2" class="ax"/>
<path d="M402.3 1538.7 H1852.4" class="ax"/>
<path d="M375.8 1538.7 H405.8" class="ax"/>
<path d="M390.8 1299.4 H405.8" class="ax"/>
<path d="M375.8 1060 H405.8" class="ax"/>
<path d="M390.8 820.7 H405.8" class="ax"/>
<path d="M375.8 581.3 H405.8" class="ax"/>
<path d="M390.8 342 H405.8" class="ax"/>
<path d="M375.8 102.7 H405.8" class="ax"/>
<path d="M405.8 1538.7 V1568.7" class="ax"/>
<path d="M566.1 1538.7 V1553.7" class="ax"/>
<path d="M726.5 1538.7 V1568.7" class="ax"/>
<path d="M886.8 1538.7 V1553.7" class="ax"/>
<path d="M1047.2 1538.7 V1568.7" class="ax"/>
<path d="M1207.5 1538.7 V1553.7" class="ax"/>
<path d="M1367.9 1538.7 V1568.7" class="ax"/>
<path d="M1528.2 1538.7 V1553.7" class="ax"/>
<path d="M1688.6 1538.7 V1568.7" class="ax"/>
<path d="M1848.9 1538.7 V1553.7" class="ax"/>
<text transform="translate(356.5 1568.7) scale(1 1.035)" class="tl" text-anchor="end">0.0</text>
<text transform="translate(356.5 1090) scale(1 1.035)" class="tl" text-anchor="end">0.6</text>
<text transform="translate(356.5 611.3) scale(1 1.035)" class="tl" text-anchor="end">1.2</text>
<text transform="translate(356.5 132.7) scale(1 1.035)" class="tl" text-anchor="end">1.8</text>
<text transform="translate(405.8 1665.2) scale(1 1.035)" class="tl" text-anchor="middle">300</text>
<text transform="translate(726.5 1665.2) scale(1 1.035)" class="tl" text-anchor="middle">400</text>
<text transform="translate(1047.2 1665.2) scale(1 1.035)" class="tl" text-anchor="middle">500</text>
<text transform="translate(1367.9 1665.2) scale(1 1.035)" class="tl" text-anchor="middle">600</text>
<text transform="translate(1688.6 1665.2) scale(1 1.035)" class="tl" text-anchor="middle">700</text>
<text x="726" y="1787.7" class="tt">Wavelength (nm)</text>
<text transform="translate(143.9 811.5) rotate(-90) scale(1 1.0)" class="tt" text-anchor="middle">Absorbance</text>
<text x="81" y="146.5" class="pl">A</text>
<path d="M494.6 1028.9 L483.1 1067.9 L506.1 1067.9 Z" class="ah"/>
<path d="M494.6 1064.9 V1159.9" class="ash"/>
<text transform="translate(514.1 1139.7) scale(1.085 1)" class="del">&#916;</text>
<text transform="translate(576.1 1139.9) scale(1 1.09)" class="dl">t</text>
<path d="M1100 136.2 V854.9" class="iax"/>
<path d="M1085 854.9 H1822" class="iax"/>
<path d="M1085 854.9 H1100" class="iax"/>
<path d="M1085 567.4 H1100" class="iax"/>
<path d="M1085 279.9 H1100" class="iax"/>
<path d="M1092 711.1 H1100" class="iax"/>
<path d="M1092 423.6 H1100" class="iax"/>
<path d="M1092 136.2 H1100" class="iax"/>
<path d="M1100 854.9 V869.9" class="iax"/>
<path d="M1165.5 854.9 V862.9" class="iax"/>
<path d="M1230.9 854.9 V869.9" class="iax"/>
<path d="M1296.3 854.9 V862.9" class="iax"/>
<path d="M1361.8 854.9 V869.9" class="iax"/>
<path d="M1427.2 854.9 V862.9" class="iax"/>
<path d="M1492.7 854.9 V869.9" class="iax"/>
<path d="M1558.2 854.9 V862.9" class="iax"/>
<path d="M1623.6 854.9 V869.9" class="iax"/>
<path d="M1689 854.9 V862.9" class="iax"/>
<path d="M1754.5 854.9 V869.9" class="iax"/>
<path d="M1820 854.9 V862.9" class="iax"/>
<text transform="translate(1075 878.7) scale(1 1.035)" class="it" text-anchor="end">0.1</text>
<text transform="translate(1075 591.2) scale(1 1.035)" class="it" text-anchor="end">0.2</text>
<text transform="translate(1075 303.7) scale(1 1.035)" class="it" text-anchor="end">0.3</text>
<text transform="translate(1100 940.4) scale(1 1.035)" class="it" text-anchor="middle">0</text>
<text transform="translate(1230.9 940.4) scale(1 1.035)" class="it" text-anchor="middle">10</text>
<text transform="translate(1361.8 940.4) scale(1 1.035)" class="it" text-anchor="middle">20</text>
<text transform="translate(1492.7 940.4) scale(1 1.035)" class="it" text-anchor="middle">30</text>
<text transform="translate(1623.6 940.4) scale(1 1.035)" class="it" text-anchor="middle">40</text>
<text transform="translate(1754.5 940.4) scale(1 1.035)" class="it" text-anchor="middle">50</text>
<text transform="translate(1298.5 1058.2) scale(1 1.04)" class="itt">Time (min)</text>
<path d="M1110.8 641.1 L1220.1 502.4" class="il"/>
<path d="M1247.0 481.8 L1345.7 440.2" class="il"/>
<path d="M1375.3 422.3 L1479.2 337.0" class="il"/>
<path d="M1508.8 319.0 L1607.5 276.7" class="il"/>
<path d="M1639.7 263.0 L1738.4 221.4" class="il"/>
<clipPath id="c1100"><rect x="1100" y="106.2" width="800" height="800"/></clipPath>
<g clip-path="url(#c1100)">
<circle cx="1100.0" cy="654.8" r="12.8"/>
<circle cx="1230.9" cy="488.6" r="12.8"/>
<circle cx="1361.8" cy="433.4" r="12.8"/>
<circle cx="1492.7" cy="325.9" r="12.8"/>
<circle cx="1623.6" cy="269.8" r="12.8"/>
<circle cx="1754.5" cy="214.6" r="12.8"/>
</g>
<path d="M402.6 2732.4 L403.9 2741.9 L405.2 2751.5 L406.5 2761.2 L407.7 2771.2 L409.0 2781.3 L410.3 2791.6 L410.9 2796.8 L411.6 2802.1 L412.9 2813.0 L414.2 2824.3 L415.4 2835.8 L416.7 2847.3 L418.0 2858.8 L419.3 2870.1 L420.6 2881.1 L421.9 2891.6 L421.9 2891.6 L423.1 2901.7 L424.4 2911.7 L425.7 2921.6 L427.0 2931.4 L428.3 2940.9 L429.6 2950.3 L430.8 2959.5 L432.1 2968.5 L433.4 2977.3 L434.7 2985.9 L435.3 2990.1 L436.0 2994.2 L437.3 3002.4 L438.6 3010.4 L439.8 3018.2 L441.1 3025.7 L442.4 3032.9 L443.7 3039.8 L444.3 3043.1 L445.0 3046.4 L446.3 3052.7 L447.5 3058.9 L448.8 3064.8 L450.1 3070.5 L451.4 3075.9 L452.7 3081.1 L453.6 3084.8 L454.0 3086.0 L455.2 3090.9 L456.5 3095.7 L457.8 3100.4 L459.1 3105.0 L460.4 3109.5 L461.7 3113.8 L462.9 3118.0 L464.2 3121.9 L465.5 3125.5 L466.8 3128.9 L468.1 3132.0 L469.0 3134.1 L469.4 3134.7 L470.7 3137.3 L471.9 3139.7 L473.2 3142.0 L474.5 3144.1 L475.8 3146.1 L477.1 3147.9 L478.4 3149.4 L479.6 3150.8 L479.6 3150.8 L480.9 3151.9 L482.2 3152.9 L483.5 3153.9 L484.8 3154.7 L486.1 3155.5 L487.3 3156.3 L488.3 3156.8 L488.6 3157.0 L489.9 3157.8 L491.2 3158.6 L492.5 3159.5 L493.8 3160.3 L495.0 3161.0 L496.3 3161.7 L497.6 3162.2 L498.9 3162.6 L500.2 3162.9 L500.8 3162.9 L501.5 3162.9 L502.8 3162.8 L504.0 3162.6 L505.3 3162.4 L506.6 3162.1 L507.9 3161.8 L509.2 3161.4 L510.5 3161.0 L511.7 3160.6 L511.7 3160.6 L513.0 3160.1 L514.3 3159.4 L515.6 3158.6 L516.9 3157.7 L518.2 3156.7 L519.4 3155.5 L520.7 3154.4 L522.0 3153.2 L523.3 3152.0 L524.6 3150.8 L524.6 3150.8 L525.9 3149.5 L527.1 3148.1 L528.4 3146.7 L529.7 3145.2 L531.0 3143.6 L532.3 3142.0 L533.6 3140.4 L534.9 3138.8 L536.1 3137.2 L537.4 3135.6 L537.4 3135.6 L538.7 3134.1 L540.0 3132.5 L541.3 3131.0 L542.6 3129.4 L543.8 3127.8 L545.1 3126.3 L546.4 3124.7 L547.7 3123.2 L549.0 3121.6 L550.3 3120.1 L551.5 3118.5 L551.9 3118.2 L552.8 3117.0 L554.1 3115.4 L555.4 3113.9 L556.7 3112.3 L558.0 3110.7 L559.2 3109.1 L560.5 3107.5 L561.8 3106.1 L563.1 3104.6 L564.4 3103.3 L565.7 3102.1 L566.3 3101.5 L567.0 3100.9 L568.2 3099.8 L569.5 3098.8 L570.8 3097.7 L572.1 3096.7 L573.4 3095.8 L574.7 3094.9 L575.9 3094.1 L577.2 3093.3 L578.5 3092.7 L579.2 3092.4 L579.8 3092.1 L581.1 3091.7 L582.4 3091.3 L583.6 3090.9 L584.9 3090.6 L586.2 3090.3 L587.5 3090.0 L588.8 3089.7 L590.1 3089.3 L591.3 3088.9 L592.6 3088.3 L593.6 3087.9 L593.9 3087.6 L595.2 3086.1 L596.5 3084.9 L596.8 3084.8 L597.8 3085.7 L599.1 3088.4 L600.3 3091.0 L601.0 3091.6 L601.6 3091.9 L602.9 3092.3 L604.2 3092.7 L605.5 3093.0 L606.8 3093.2 L608.0 3093.3 L609.3 3093.5 L610.6 3093.7 L611.9 3093.8 L613.2 3094.1 L614.5 3094.3 L615.7 3094.7 L615.7 3094.7 L617.0 3095.1 L618.3 3095.6 L619.6 3096.2 L620.9 3096.8 L622.2 3097.5 L623.4 3098.2 L624.7 3099.0 L626.0 3099.8 L627.3 3100.7 L628.6 3101.6 L629.9 3102.5 L631.2 3103.4 L632.4 3104.3 L633.7 3105.3 L633.7 3105.3 L635.0 3106.3 L636.3 3107.4 L637.6 3108.5 L638.9 3109.7 L640.1 3111.0 L641.4 3112.3 L642.7 3113.6 L644.0 3115.0 L645.3 3116.4 L646.6 3117.8 L647.8 3119.1 L649.1 3120.5 L650.4 3121.8 L651.7 3123.2 L652.0 3123.5 L653.0 3124.4 L654.3 3125.7 L655.5 3127.1 L656.8 3128.4 L658.1 3129.8 L659.4 3131.1 L660.7 3132.5 L662.0 3133.8 L663.3 3135.1 L664.5 3136.4 L665.8 3137.6 L667.1 3138.8 L668.4 3140.0 L669.7 3141.1 L670.3 3141.7 L671.0 3142.2 L672.2 3143.4 L673.5 3144.6 L674.8 3145.8 L676.1 3146.9 L677.4 3147.9 L678.7 3148.7 L679.9 3149.1 L680.9 3149.2 L681.2 3149.2 L682.5 3149.2 L683.8 3149.1 L685.1 3148.9 L686.4 3148.6 L687.6 3148.3 L688.9 3148.0 L689.9 3147.7 L690.2 3147.6 L691.5 3146.8 L692.8 3145.5 L694.1 3143.9 L695.4 3142.1 L696.6 3140.3 L697.3 3139.4 L697.9 3138.5 L699.2 3136.7 L700.5 3134.7 L701.8 3132.6 L703.1 3130.3 L704.3 3128.0 L704.3 3128.0 L705.6 3125.7 L706.9 3123.3 L708.2 3120.8 L709.5 3118.0 L710.8 3114.9 L712.0 3111.3 L712.0 3111.3 L713.3 3106.8 L714.6 3101.1 L715.9 3094.5 L717.2 3087.5 L718.5 3080.4 L719.7 3073.5 L719.7 3073.5 L721.0 3066.2 L722.3 3058.2 L723.6 3050.1 L724.9 3042.4 L726.2 3035.6 L727.5 3030.2 L727.5 3030.2 L728.7 3026.3 L730.0 3023.2 L731.3 3020.6 L732.6 3018.2 L733.9 3015.6 L735.2 3012.5 L736.4 3008.6 L736.8 3007.5 L737.7 3003.4 L739.0 2996.4 L740.3 2988.0 L741.6 2978.6 L742.9 2968.6 L743.5 2963.6 L744.1 2958.2 L745.4 2946.3 L746.7 2933.1 L748.0 2919.5 L749.3 2906.2 L749.6 2902.9 L750.6 2893.7 L751.8 2882.1 L753.1 2871.0 L754.4 2859.9 L755.7 2848.0 L757.0 2835.1 L758.3 2820.5 L759.6 2803.6 L759.6 2803.6 L760.8 2781.9 L762.1 2754.7 L763.4 2725.0 L764.4 2702.8 L764.7 2695.5 L766.0 2665.1 L767.3 2633.5 L768.5 2602.0 L768.5 2602.0 L769.8 2571.6 L771.1 2541.3 L772.4 2509.6 L772.7 2501.2 L773.7 2474.1 L775.0 2435.4 L776.2 2400.4 L776.2 2400.4 L777.5 2371.5 L778.8 2345.3 L780.1 2320.7 L781.4 2296.4 L782.3 2277.7 L782.7 2271.1 L783.9 2242.9 L785.2 2216.5 L786.2 2201.9 L786.5 2198.1 L787.8 2183.2 L789.1 2170.2 L790.4 2161.0 L791.7 2157.5 L791.7 2157.5 L792.9 2161.5 L794.2 2171.8 L795.5 2186.1 L796.8 2201.9 L796.8 2201.9 L798.1 2223.4 L799.4 2251.3 L800.6 2277.7 L800.6 2277.7 L801.9 2299.0 L803.2 2318.2 L804.5 2336.6 L805.8 2355.5 L807.1 2376.4 L808.3 2400.4 L808.3 2400.4 L809.6 2430.0 L810.9 2464.6 L812.2 2501.2 L812.2 2501.2 L813.5 2542.4 L814.8 2584.4 L815.4 2602.0 L816.0 2617.1 L817.3 2643.6 L818.6 2667.3 L819.9 2690.6 L820.5 2702.8 L821.2 2715.5 L822.5 2740.8 L823.8 2766.0 L825.0 2791.2 L825.7 2803.6 L826.3 2816.2 L827.6 2841.5 L828.9 2866.7 L830.2 2891.2 L831.5 2914.4 L831.8 2920.0 L832.7 2936.2 L834.0 2957.2 L835.3 2977.1 L836.6 2995.9 L837.6 3009.0 L837.9 3013.2 L839.2 3029.8 L840.4 3045.9 L841.7 3061.4 L843.0 3076.1 L844.3 3089.9 L845.6 3102.8 L846.9 3114.6 L847.2 3117.4 L848.1 3125.4 L849.4 3135.2 L850.7 3144.3 L852.0 3152.9 L853.3 3161.1 L854.6 3169.1 L855.9 3177.1 L857.1 3185.1 L858.4 3193.5 L859.4 3200.0 L859.7 3202.3 L861.0 3211.8 L862.3 3221.5 L863.6 3230.8 L864.8 3239.1 L865.2 3240.9 L866.1 3246.1 L867.4 3252.5 L868.7 3258.4 L870.0 3264.0 L871.3 3269.3 L872.5 3274.4 L873.8 3279.4 L874.5 3281.9 L875.1 3284.4 L876.4 3289.3 L877.7 3294.1 L879.0 3298.8 L880.2 3303.3 L881.5 3307.7 L882.8 3312.0 L884.1 3316.1 L885.4 3320.0 L886.3 3322.8 L886.7 3323.7 L888.0 3327.3 L889.2 3330.8 L890.5 3334.1 L891.8 3337.4 L893.1 3340.5 L894.4 3343.4 L895.7 3346.2 L896.9 3348.8 L897.6 3350.1 L898.2 3351.3 L899.5 3353.6 L900.8 3355.9 L902.1 3358.0 L903.4 3360.0 L904.6 3362.0 L905.9 3363.8 L907.2 3365.5 L908.2 3366.8 L908.5 3367.2 L909.8 3368.7 L911.1 3370.3 L912.3 3371.8 L913.6 3373.2 L914.9 3374.6 L916.2 3376.0 L917.5 3377.3 L918.8 3378.6 L920.1 3379.8 L921.3 3381.0 L922.6 3382.2 L923.9 3383.3 L925.2 3384.4 L926.5 3385.4 L927.1 3385.9 L927.8 3386.4 L929.0 3387.3 L930.3 3388.3 L931.6 3389.2 L932.9 3390.0 L934.2 3390.9 L935.5 3391.7 L936.7 3392.4 L938.0 3393.2 L939.3 3393.9 L940.6 3394.6 L941.9 3395.2 L941.9 3395.2 L943.2 3395.9 L944.4 3396.5 L945.7 3397.1 L947.0 3397.7 L948.3 3398.3 L949.6 3398.8 L950.9 3399.3 L952.2 3399.8 L953.4 3400.3 L954.7 3400.8 L956.0 3401.2 L956.3 3401.3 L957.3 3401.6 L958.6 3402.0 L959.9 3402.4 L961.1 3402.7 L962.4 3403.1 L963.7 3403.4 L965.0 3403.7 L966.3 3404.0 L967.6 3404.3 L968.8 3404.6 L970.1 3404.8 L970.8 3405.0 L971.4 3405.1 L972.7 3405.3 L974.0 3405.5 L975.3 3405.7 L976.5 3405.9 L977.8 3406.1 L979.1 3406.3 L980.4 3406.5 L981.7 3406.7 L983.0 3406.8 L983.9 3407.0 L984.3 3407.0 L985.5 3407.2 L986.8 3407.5 L988.1 3407.7 L989.4 3407.9 L990.7 3408.2 L992.0 3408.4 L993.2 3408.6 L994.5 3408.8 L995.8 3409.0 L997.1 3409.2 L998.4 3409.3 L999.7 3409.4 L1000.0 3409.4 L1000.9 3409.5 L1002.2 3409.5 L1003.5 3409.6 L1004.8 3409.6 L1006.1 3409.7 L1007.4 3409.7 L1008.6 3409.8 L1009.9 3409.8 L1011.2 3409.9 L1012.5 3409.9 L1013.8 3410.0 L1015.1 3410.0 L1016.4 3410.0 L1017.6 3410.1 L1018.9 3410.1 L1020.2 3410.1 L1021.5 3410.1 L1022.8 3410.2 L1024.1 3410.2 L1025.3 3410.2 L1026.6 3410.2 L1027.9 3410.2 L1029.2 3410.2 L1030.5 3410.2 L1031.4 3410.2 L1031.8 3410.2 L1033.0 3410.2 L1034.3 3410.1 L1035.6 3409.9 L1036.9 3409.7 L1038.2 3409.5 L1039.5 3409.2 L1040.7 3408.9 L1042.0 3408.6 L1043.3 3408.3 L1044.6 3407.9 L1045.9 3407.5 L1047.2 3407.2 L1047.8 3407.0 L1048.5 3406.8 L1049.7 3406.3 L1051.0 3405.8 L1052.3 3405.2 L1053.6 3404.6 L1054.9 3403.9 L1056.2 3403.1 L1057.4 3402.4 L1058.7 3401.6 L1060.0 3400.8 L1061.3 3399.9 L1062.6 3399.1 L1063.9 3398.3 L1064.2 3398.1 L1065.1 3397.4 L1066.4 3396.5 L1067.7 3395.5 L1069.0 3394.4 L1070.3 3393.3 L1071.6 3392.2 L1072.8 3391.1 L1074.1 3389.9 L1075.4 3388.8 L1076.7 3387.7 L1078.0 3386.7 L1079.3 3385.8 L1080.6 3384.9 L1081.8 3384.1 L1083.1 3383.5 L1083.1 3383.5 L1084.4 3382.9 L1085.7 3382.3 L1087.0 3381.7 L1088.3 3381.1 L1089.5 3380.5 L1090.8 3380.0 L1092.1 3379.5 L1093.4 3379.0 L1094.7 3378.5 L1096.0 3378.1 L1097.2 3377.8 L1098.5 3377.5 L1099.8 3377.2 L1101.1 3377.1 L1102.4 3377.0 L1103.0 3377.0 L1103.7 3377.0 L1104.9 3377.1 L1106.2 3377.4 L1107.5 3377.8 L1108.8 3378.3 L1110.1 3378.9 L1111.4 3379.5 L1112.7 3380.2 L1113.9 3380.9 L1115.2 3381.6 L1116.5 3382.4 L1117.8 3383.1 L1118.4 3383.5 L1119.1 3383.8 L1120.4 3384.6 L1121.6 3385.5 L1122.9 3386.5 L1124.2 3387.5 L1125.5 3388.6 L1126.8 3389.6 L1128.1 3390.8 L1129.3 3391.9 L1130.6 3393.0 L1131.9 3394.1 L1133.2 3395.1 L1133.8 3395.6 L1134.5 3396.1 L1135.8 3397.2 L1137.0 3398.3 L1138.3 3399.4 L1139.6 3400.5 L1140.9 3401.6 L1142.2 3402.7 L1143.5 3403.8 L1144.8 3404.8 L1146.0 3405.8 L1147.3 3406.7 L1148.6 3407.5 L1149.9 3408.3 L1150.5 3408.6 L1151.2 3408.9 L1152.5 3409.6 L1153.7 3410.3 L1155.0 3410.9 L1156.3 3411.6 L1157.6 3412.2 L1158.9 3412.8 L1160.2 3413.4 L1161.4 3413.9 L1162.7 3414.3 L1164.0 3414.7 L1165.3 3415.0 L1166.6 3415.2 L1167.9 3415.3 L1168.5 3415.3 L1169.1 3415.3 L1170.4 3415.2 L1171.7 3415.1 L1173.0 3414.8 L1174.3 3414.5 L1175.6 3414.2 L1176.9 3413.7 L1178.1 3413.3 L1179.4 3412.8 L1180.7 3412.3 L1182.0 3411.8 L1183.3 3411.3 L1184.6 3410.7 L1185.8 3410.2 L1185.8 3410.2 L1187.1 3409.7 L1188.4 3409.0 L1189.7 3408.3 L1191.0 3407.5 L1192.3 3406.7 L1193.5 3405.8 L1194.8 3404.9 L1196.1 3404.0 L1197.4 3403.1 L1198.7 3402.3 L1200.0 3401.4 L1201.2 3400.7 L1202.5 3400.0 L1203.8 3399.4 L1205.1 3398.9 L1205.1 3398.9 L1206.4 3398.4 L1207.7 3398.0 L1209.0 3397.5 L1210.2 3397.1 L1211.5 3396.6 L1212.8 3396.2 L1214.1 3395.8 L1215.4 3395.5 L1216.7 3395.1 L1217.9 3394.9 L1219.2 3394.6 L1220.5 3394.4 L1221.8 3394.3 L1223.1 3394.2 L1224.0 3394.2 L1224.4 3394.2 L1225.6 3394.3 L1226.9 3394.4 L1228.2 3394.7 L1229.5 3395.0 L1230.8 3395.4 L1232.1 3395.8 L1233.3 3396.3 L1234.6 3396.8 L1235.9 3397.3 L1237.2 3397.9 L1238.5 3398.4 L1239.8 3399.0 L1241.1 3399.5 L1242.3 3400.0 L1243.6 3400.5 L1243.6 3400.5 L1244.9 3401.0 L1246.2 3401.5 L1247.5 3401.9 L1248.8 3402.4 L1250.0 3403.0 L1251.3 3403.5 L1252.6 3404.0 L1253.9 3404.5 L1255.2 3405.1 L1256.5 3405.6 L1257.7 3406.2 L1259.0 3406.7 L1260.3 3407.3 L1261.6 3407.8 L1262.9 3408.4 L1264.2 3408.9 L1265.4 3409.5 L1266.7 3410.1 L1268.0 3410.6 L1269.0 3411.0 L1269.3 3411.2 L1270.6 3411.8 L1271.9 3412.4 L1273.2 3413.1 L1274.4 3413.8 L1275.7 3414.6 L1277.0 3415.3 L1278.3 3416.1 L1279.6 3416.9 L1280.9 3417.7 L1282.1 3418.4 L1283.4 3419.2 L1284.7 3419.9 L1286.0 3420.6 L1287.3 3421.2 L1288.6 3421.8 L1289.8 3422.4 L1291.1 3422.8 L1292.4 3423.2 L1293.7 3423.6 L1295.0 3423.8 L1296.3 3424.0 L1297.5 3424.0 L1297.5 3424.0 L1298.8 3424.0 L1300.1 3423.9 L1301.4 3423.9 L1302.7 3423.7 L1304.0 3423.6 L1305.3 3423.4 L1306.5 3423.3 L1307.8 3423.1 L1309.1 3422.9 L1310.4 3422.7 L1311.7 3422.4 L1313.0 3422.2 L1314.2 3422.0 L1315.5 3421.8 L1316.8 3421.7 L1317.5 3421.6 L1318.1 3421.5 L1319.4 3421.3 L1320.7 3421.1 L1321.9 3420.9 L1323.2 3420.7 L1324.5 3420.5 L1325.8 3420.3 L1327.1 3420.0 L1328.4 3419.8 L1329.6 3419.7 L1330.9 3419.5 L1332.2 3419.4 L1333.5 3419.3 L1334.8 3419.2 L1336.1 3419.2 L1336.4 3419.2 L1337.4 3419.2 L1338.6 3419.3 L1339.9 3419.4 L1341.2 3419.6 L1342.5 3419.8 L1343.8 3420.1 L1345.1 3420.4 L1346.3 3420.7 L1347.6 3421.0 L1348.9 3421.4 L1350.2 3421.7 L1351.5 3422.1 L1352.8 3422.4 L1352.8 3422.4 L1354.0 3422.7 L1355.3 3423.1 L1356.6 3423.5 L1357.9 3423.9 L1359.2 3424.3 L1360.5 3424.7 L1361.7 3425.1 L1363.0 3425.6 L1364.3 3426.1 L1365.6 3426.5 L1366.9 3427.0 L1368.2 3427.4 L1369.5 3427.9 L1370.7 3428.3 L1371.1 3428.4 L1372.0 3428.7 L1373.3 3429.2 L1374.6 3429.6 L1375.9 3430.1 L1377.2 3430.5 L1378.4 3431.0 L1379.7 3431.4 L1381.0 3431.9 L1382.3 3432.4 L1383.6 3432.8 L1384.9 3433.3 L1386.1 3433.7 L1387.4 3434.1 L1388.7 3434.6 L1390.0 3435.0 L1391.3 3435.3 L1392.6 3435.7 L1393.8 3436.0 L1394.5 3436.2 L1395.1 3436.3 L1396.4 3436.7 L1397.7 3437.0 L1399.0 3437.3 L1400.3 3437.7 L1401.6 3438.0 L1402.8 3438.3 L1404.1 3438.6 L1405.4 3438.9 L1406.7 3439.2 L1408.0 3439.5 L1409.3 3439.8 L1410.5 3440.1 L1411.8 3440.3 L1413.1 3440.5 L1414.4 3440.7 L1415.7 3440.8 L1417.0 3440.9 L1418.2 3441.0 L1419.5 3441.0 L1420.2 3441.0 L1420.8 3441.0 L1422.1 3441.0 L1423.4 3441.0 L1424.7 3441.0 L1425.9 3441.0 L1427.2 3441.0 L1428.5 3441.0 L1429.8 3441.0 L1431.1 3441.0 L1432.4 3441.0 L1433.7 3441.0 L1434.9 3441.0 L1436.2 3441.0 L1437.5 3441.0 L1438.8 3441.0 L1440.1 3441.0 L1441.4 3441.0 L1442.6 3441.0 L1442.6 3441.0 L1443.9 3441.0 L1445.2 3441.0 L1446.5 3440.9 L1447.8 3440.8 L1449.1 3440.7 L1450.3 3440.6 L1451.6 3440.5 L1452.9 3440.3 L1454.2 3440.1 L1455.5 3440.0 L1456.8 3439.8 L1458.0 3439.6 L1459.3 3439.3 L1460.6 3439.1 L1461.9 3438.9 L1463.2 3438.7 L1464.5 3438.4 L1465.8 3438.2 L1467.0 3438.0 L1468.0 3437.8 L1468.3 3437.7 L1469.6 3437.5 L1470.9 3437.2 L1472.2 3437.0 L1473.5 3436.7 L1474.7 3436.4 L1476.0 3436.0 L1477.3 3435.7 L1478.6 3435.3 L1479.9 3435.0 L1481.2 3434.6 L1482.4 3434.2 L1483.7 3433.8 L1485.0 3433.4 L1486.3 3433.0 L1487.6 3432.6 L1488.9 3432.2 L1490.1 3431.8 L1491.4 3431.3 L1492.7 3430.9 L1494.0 3430.5 L1494.0 3430.5 L1495.3 3430.1 L1496.6 3429.6 L1497.9 3429.1 L1499.1 3428.6 L1500.4 3428.0 L1501.7 3427.5 L1503.0 3426.9 L1504.3 3426.4 L1505.6 3425.9 L1506.8 3425.3 L1508.1 3424.8 L1509.4 3424.4 L1510.7 3423.9 L1512.0 3423.5 L1513.3 3423.2 L1513.3 3423.2 L1514.5 3422.9 L1515.8 3422.6 L1517.1 3422.2 L1518.4 3421.9 L1519.7 3421.6 L1521.0 3421.3 L1522.2 3421.0 L1523.5 3420.8 L1524.8 3420.6 L1526.1 3420.4 L1527.4 3420.3 L1528.7 3420.2 L1529.3 3420.2 L1530.0 3420.2 L1531.2 3420.3 L1532.5 3420.4 L1533.8 3420.7 L1535.1 3420.9 L1536.4 3421.2 L1537.7 3421.6 L1538.9 3422.0 L1540.2 3422.4 L1541.5 3422.8 L1542.8 3423.2 L1544.1 3423.6 L1545.4 3424.0 L1545.4 3424.0 L1546.6 3424.4 L1547.9 3424.9 L1549.2 3425.5 L1550.5 3426.0 L1551.8 3426.6 L1553.1 3427.3 L1554.3 3427.9 L1555.6 3428.6 L1556.9 3429.3 L1558.2 3429.9 L1559.5 3430.6 L1560.8 3431.2 L1562.1 3431.8 L1563.3 3432.4 L1564.6 3432.9 L1564.6 3432.9 L1565.9 3433.5 L1567.2 3434.0 L1568.5 3434.5 L1569.8 3435.0 L1571.0 3435.5 L1572.3 3436.0 L1573.6 3436.5 L1574.9 3437.0 L1576.2 3437.4 L1577.5 3437.9 L1578.7 3438.3 L1580.0 3438.7 L1581.3 3439.1 L1582.6 3439.5 L1583.9 3439.8 L1585.2 3440.2 L1585.5 3440.2 L1586.4 3440.5 L1587.7 3440.7 L1589.0 3441.0 L1590.3 3441.3 L1591.6 3441.6 L1592.9 3441.8 L1594.2 3442.1 L1595.4 3442.3 L1596.7 3442.6 L1598.0 3442.8 L1599.3 3443.0 L1600.6 3443.2 L1601.9 3443.4 L1603.1 3443.6 L1604.4 3443.7 L1605.7 3443.9 L1607.0 3444.0 L1608.3 3444.2 L1609.6 3444.3 L1609.6 3444.3 L1610.8 3444.4 L1612.1 3444.5 L1613.4 3444.6 L1614.7 3444.7 L1616.0 3444.8 L1617.3 3444.9 L1618.5 3444.9 L1619.8 3445.0 L1621.1 3445.1 L1622.4 3445.2 L1623.7 3445.2 L1625.0 3445.3 L1626.3 3445.4 L1627.5 3445.4 L1628.8 3445.5 L1630.1 3445.5 L1631.4 3445.6 L1632.7 3445.7 L1634.0 3445.7 L1635.2 3445.8 L1636.5 3445.8 L1637.8 3445.9 L1638.4 3445.9 L1639.1 3445.9 L1640.4 3446.0 L1641.7 3446.0 L1642.9 3446.1 L1644.2 3446.2 L1645.5 3446.2 L1646.8 3446.3 L1648.1 3446.3 L1649.4 3446.4 L1650.6 3446.4 L1651.9 3446.5 L1653.2 3446.5 L1654.5 3446.6 L1655.8 3446.6 L1657.1 3446.7 L1658.4 3446.7 L1659.6 3446.8 L1660.9 3446.8 L1662.2 3446.9 L1663.5 3446.9 L1664.8 3446.9 L1666.1 3447.0 L1667.3 3447.0 L1668.6 3447.1 L1669.9 3447.1 L1671.2 3447.1 L1672.5 3447.2 L1673.8 3447.2 L1675.0 3447.3 L1676.3 3447.3 L1677.6 3447.3 L1678.9 3447.4 L1680.2 3447.4 L1681.5 3447.4 L1682.7 3447.5 L1684.0 3447.5 L1685.3 3447.5 L1686.6 3447.5 L1686.6 3447.5" class="sp"/>
<path d="M402.6 2769.9 L403.9 2779.5 L405.2 2789.1 L406.5 2798.8 L407.7 2808.5 L409.0 2818.3 L410.3 2828.1 L410.9 2833.1 L411.6 2838.1 L412.9 2848.2 L414.2 2858.6 L415.4 2869.0 L416.7 2879.4 L418.0 2889.7 L419.3 2899.8 L420.6 2909.6 L421.9 2919.1 L421.9 2919.1 L423.1 2928.2 L424.4 2937.3 L425.7 2946.1 L427.0 2954.9 L428.3 2963.5 L429.6 2971.9 L430.8 2980.1 L432.1 2988.2 L433.4 2996.1 L434.7 3003.8 L435.3 3007.6 L436.0 3011.3 L437.3 3018.7 L438.6 3025.9 L439.8 3032.9 L441.1 3039.7 L442.4 3046.3 L443.7 3052.6 L444.3 3055.6 L445.0 3058.7 L446.3 3064.6 L447.5 3070.3 L448.8 3075.9 L450.1 3081.3 L451.4 3086.5 L452.7 3091.3 L453.6 3094.8 L454.0 3096.0 L455.2 3100.4 L456.5 3104.8 L457.8 3109.2 L459.1 3113.4 L460.4 3117.5 L461.7 3121.4 L462.9 3125.2 L464.2 3128.8 L465.5 3132.2 L466.8 3135.4 L468.1 3138.3 L469.0 3140.3 L469.4 3141.0 L470.7 3143.5 L471.9 3146.0 L473.2 3148.3 L474.5 3150.4 L475.8 3152.4 L477.1 3154.2 L478.4 3155.8 L479.6 3157.3 L479.6 3157.3 L480.9 3158.5 L482.2 3159.6 L483.5 3160.6 L484.8 3161.6 L486.1 3162.4 L487.3 3163.2 L488.3 3163.8 L488.6 3164.0 L489.9 3164.8 L491.2 3165.6 L492.5 3166.4 L493.8 3167.2 L495.0 3167.9 L496.3 3168.5 L497.6 3169.0 L498.9 3169.4 L500.2 3169.6 L500.8 3169.6 L501.5 3169.6 L502.8 3169.5 L504.0 3169.4 L505.3 3169.2 L506.6 3169.0 L507.9 3168.7 L509.2 3168.3 L510.5 3168.0 L511.7 3167.6 L511.7 3167.6 L513.0 3167.2 L514.3 3166.5 L515.6 3165.8 L516.9 3165.0 L518.2 3164.0 L519.4 3163.0 L520.7 3161.9 L522.0 3160.8 L523.3 3159.6 L524.6 3158.5 L524.6 3158.5 L525.9 3157.3 L527.1 3156.0 L528.4 3154.6 L529.7 3153.1 L531.0 3151.6 L532.3 3150.1 L533.6 3148.5 L534.9 3146.9 L536.1 3145.4 L537.4 3143.9 L537.4 3143.9 L538.7 3142.4 L540.0 3140.9 L541.3 3139.4 L542.6 3137.9 L543.8 3136.4 L545.1 3134.9 L546.4 3133.4 L547.7 3131.9 L549.0 3130.5 L550.3 3129.0 L551.5 3127.5 L551.9 3127.2 L552.8 3126.1 L554.1 3124.6 L555.4 3123.1 L556.7 3121.5 L558.0 3120.0 L559.2 3118.5 L560.5 3117.1 L561.8 3115.7 L563.1 3114.3 L564.4 3113.0 L565.7 3111.8 L566.3 3111.2 L567.0 3110.7 L568.2 3109.6 L569.5 3108.5 L570.8 3107.5 L572.1 3106.5 L573.4 3105.5 L574.7 3104.6 L575.9 3103.8 L577.2 3103.1 L578.5 3102.4 L579.2 3102.2 L579.8 3101.9 L581.1 3101.4 L582.4 3101.1 L583.6 3100.8 L584.9 3100.5 L586.2 3100.2 L587.5 3099.9 L588.8 3099.6 L590.1 3099.2 L591.3 3098.8 L592.6 3098.3 L593.6 3097.9 L593.9 3097.6 L595.2 3096.1 L596.5 3094.9 L596.8 3094.8 L597.8 3095.7 L599.1 3098.5 L600.3 3101.1 L601.0 3101.6 L601.6 3101.8 L602.9 3102.1 L604.2 3102.4 L605.5 3102.5 L606.8 3102.7 L608.0 3102.8 L609.3 3102.9 L610.6 3103.0 L611.9 3103.1 L613.2 3103.2 L614.5 3103.4 L615.7 3103.7 L615.7 3103.7 L617.0 3104.0 L618.3 3104.4 L619.6 3104.9 L620.9 3105.5 L622.2 3106.1 L623.4 3106.8 L624.7 3107.6 L626.0 3108.3 L627.3 3109.2 L628.6 3110.0 L629.9 3110.9 L631.2 3111.8 L632.4 3112.7 L633.7 3113.5 L633.7 3113.5 L635.0 3114.4 L636.3 3115.4 L637.6 3116.5 L638.9 3117.6 L640.1 3118.7 L641.4 3119.9 L642.7 3121.1 L644.0 3122.4 L645.3 3123.6 L646.6 3124.8 L647.8 3126.1 L649.1 3127.3 L650.4 3128.5 L651.7 3129.7 L652.0 3130.0 L653.0 3130.8 L654.3 3132.0 L655.5 3133.2 L656.8 3134.4 L658.1 3135.6 L659.4 3136.8 L660.7 3138.0 L662.0 3139.2 L663.3 3140.3 L664.5 3141.5 L665.8 3142.6 L667.1 3143.7 L668.4 3144.7 L669.7 3145.7 L670.3 3146.2 L671.0 3146.7 L672.2 3147.7 L673.5 3148.8 L674.8 3149.9 L676.1 3150.9 L677.4 3151.8 L678.7 3152.5 L679.9 3152.9 L680.9 3153.0 L681.2 3153.0 L682.5 3152.9 L683.8 3152.8 L685.1 3152.6 L686.4 3152.3 L687.6 3151.9 L688.9 3151.5 L689.9 3151.2 L690.2 3151.1 L691.5 3150.2 L692.8 3148.9 L694.1 3147.3 L695.4 3145.4 L696.6 3143.6 L697.3 3142.6 L697.9 3141.7 L699.2 3139.7 L700.5 3137.6 L701.8 3135.3 L703.1 3132.8 L704.3 3130.3 L704.3 3130.3 L705.6 3127.7 L706.9 3125.0 L708.2 3122.2 L709.5 3119.2 L710.8 3115.9 L712.0 3112.3 L712.4 3111.3 L713.3 3108.1 L714.6 3103.1 L715.9 3097.5 L717.2 3091.4 L718.5 3085.3 L719.7 3079.2 L721.0 3073.5 L721.0 3073.5 L722.3 3067.8 L723.6 3062.0 L724.9 3056.0 L726.2 3050.2 L727.5 3044.6 L728.7 3039.3 L730.0 3034.5 L731.3 3030.2 L731.3 3030.2 L732.6 3026.8 L733.9 3023.9 L735.2 3021.4 L736.4 3018.9 L737.7 3016.3 L739.0 3013.3 L740.3 3009.7 L740.9 3007.5 L741.6 3004.9 L742.9 2998.3 L744.1 2990.2 L745.4 2980.9 L746.7 2971.1 L747.7 2963.6 L748.0 2961.0 L749.3 2949.9 L750.6 2937.6 L751.8 2924.6 L753.1 2911.7 L754.4 2899.1 L754.4 2899.1 L755.7 2887.7 L757.0 2877.1 L758.3 2866.9 L759.6 2856.6 L760.8 2845.7 L762.1 2833.5 L763.4 2819.7 L764.7 2803.6 L764.7 2803.6 L766.0 2782.3 L767.3 2755.0 L768.5 2725.1 L769.5 2702.8 L769.8 2695.5 L771.1 2664.8 L772.4 2633.0 L773.7 2602.0 L773.7 2602.0 L775.0 2572.3 L776.2 2543.1 L777.5 2514.9 L778.2 2501.2 L778.8 2488.0 L780.1 2462.3 L781.4 2437.3 L782.7 2412.8 L783.3 2400.4 L783.9 2388.0 L785.2 2363.0 L786.5 2338.5 L787.8 2315.6 L787.8 2315.6 L789.1 2290.0 L790.4 2267.1 L791.3 2260.2 L791.7 2261.1 L792.9 2277.7 L794.2 2303.8 L794.9 2315.6 L795.5 2325.9 L796.8 2346.8 L798.1 2368.1 L799.4 2389.6 L800.0 2400.4 L800.6 2411.3 L801.9 2432.9 L803.2 2454.8 L804.5 2477.5 L805.8 2501.2 L805.8 2501.2 L807.1 2526.8 L808.3 2554.0 L809.6 2581.6 L810.6 2602.0 L810.9 2608.8 L812.2 2635.9 L813.5 2663.0 L814.8 2689.7 L815.4 2702.8 L816.0 2715.8 L817.3 2741.2 L818.6 2766.3 L819.9 2791.2 L820.5 2803.6 L821.2 2816.1 L822.5 2841.3 L823.8 2866.3 L825.0 2890.8 L826.3 2914.3 L826.6 2920.0 L827.6 2936.7 L828.9 2958.4 L830.2 2979.3 L831.5 2999.4 L832.1 3009.0 L832.7 3018.6 L834.0 3038.0 L835.3 3057.1 L836.6 3075.5 L837.9 3092.5 L839.2 3107.6 L840.1 3117.4 L840.4 3120.4 L841.7 3131.4 L843.0 3141.3 L844.3 3150.4 L845.6 3158.8 L846.9 3166.9 L848.1 3174.7 L849.4 3182.7 L850.7 3191.1 L852.0 3200.0 L852.0 3200.0 L853.3 3209.9 L854.6 3220.2 L855.9 3230.2 L857.1 3239.0 L857.5 3240.9 L858.4 3246.3 L859.7 3253.0 L861.0 3259.1 L862.3 3264.9 L863.6 3270.3 L864.8 3275.5 L866.1 3280.6 L866.4 3281.9 L867.4 3285.6 L868.7 3290.6 L870.0 3295.4 L871.3 3300.0 L872.5 3304.5 L873.8 3308.9 L875.1 3313.1 L876.4 3317.1 L877.7 3320.9 L878.3 3322.8 L879.0 3324.6 L880.2 3328.2 L881.5 3331.6 L882.8 3334.9 L884.1 3338.1 L885.4 3341.1 L886.7 3344.0 L888.0 3346.8 L889.2 3349.5 L889.6 3350.1 L890.5 3352.0 L891.8 3354.5 L893.1 3357.0 L894.4 3359.3 L895.7 3361.6 L896.9 3363.6 L898.2 3365.4 L899.5 3366.9 L900.2 3367.5 L900.8 3368.1 L902.1 3369.0 L903.4 3369.9 L904.6 3370.6 L905.9 3371.3 L907.2 3372.0 L908.5 3372.7 L909.8 3373.6 L909.8 3373.6 L911.1 3374.5 L912.3 3375.5 L913.6 3376.5 L914.9 3377.6 L916.2 3378.7 L917.5 3379.8 L918.8 3381.0 L920.1 3382.1 L921.3 3383.2 L922.6 3384.3 L923.9 3385.3 L925.2 3386.3 L926.5 3387.3 L927.1 3387.8 L927.8 3388.2 L929.0 3389.1 L930.3 3390.0 L931.6 3390.8 L932.9 3391.7 L934.2 3392.5 L935.5 3393.3 L936.7 3394.0 L938.0 3394.8 L939.3 3395.5 L940.6 3396.2 L941.9 3396.8 L941.9 3396.8 L943.2 3397.5 L944.4 3398.1 L945.7 3398.7 L947.0 3399.2 L948.3 3399.8 L949.6 3400.3 L950.9 3400.8 L952.2 3401.3 L953.4 3401.8 L954.7 3402.2 L956.0 3402.6 L956.3 3402.7 L957.3 3403.0 L958.6 3403.4 L959.9 3403.8 L961.1 3404.1 L962.4 3404.5 L963.7 3404.8 L965.0 3405.1 L966.3 3405.4 L967.6 3405.7 L968.8 3405.9 L970.1 3406.2 L970.8 3406.3 L971.4 3406.4 L972.7 3406.6 L974.0 3406.8 L975.3 3407.0 L976.5 3407.2 L977.8 3407.4 L979.1 3407.6 L980.4 3407.8 L981.7 3407.9 L983.0 3408.1 L983.9 3408.3 L984.3 3408.3 L985.5 3408.5 L986.8 3408.7 L988.1 3409.0 L989.4 3409.2 L990.7 3409.4 L992.0 3409.6 L993.2 3409.9 L994.5 3410.1 L995.8 3410.2 L997.1 3410.4 L998.4 3410.5 L999.7 3410.6 L1000.0 3410.6 L1000.9 3410.7 L1002.2 3410.7 L1003.5 3410.8 L1004.8 3410.8 L1006.1 3410.9 L1007.4 3410.9 L1008.6 3411.0 L1009.9 3411.0 L1011.2 3411.1 L1012.5 3411.1 L1013.8 3411.1 L1015.1 3411.2 L1016.4 3411.2 L1017.6 3411.2 L1018.9 3411.3 L1020.2 3411.3 L1021.5 3411.3 L1022.8 3411.3 L1024.1 3411.4 L1025.3 3411.4 L1026.6 3411.4 L1027.9 3411.4 L1029.2 3411.4 L1030.5 3411.4 L1031.4 3411.4 L1031.8 3411.4 L1033.0 3411.4 L1034.3 3411.3 L1035.6 3411.1 L1036.9 3410.9 L1038.2 3410.7 L1039.5 3410.4 L1040.7 3410.2 L1042.0 3409.8 L1043.3 3409.5 L1044.6 3409.2 L1045.9 3408.8 L1047.2 3408.4 L1047.8 3408.3 L1048.5 3408.1 L1049.7 3407.6 L1051.0 3407.1 L1052.3 3406.5 L1053.6 3405.9 L1054.9 3405.2 L1056.2 3404.5 L1057.4 3403.8 L1058.7 3403.0 L1060.0 3402.2 L1061.3 3401.4 L1062.6 3400.6 L1063.9 3399.8 L1064.2 3399.6 L1065.1 3399.0 L1066.4 3398.1 L1067.7 3397.1 L1069.0 3396.1 L1070.3 3395.0 L1071.6 3393.9 L1072.8 3392.8 L1074.1 3391.7 L1075.4 3390.6 L1076.7 3389.6 L1078.0 3388.6 L1079.3 3387.6 L1080.6 3386.8 L1081.8 3386.0 L1083.1 3385.4 L1083.1 3385.4 L1084.4 3384.8 L1085.7 3384.2 L1087.0 3383.7 L1088.3 3383.1 L1089.5 3382.5 L1090.8 3382.0 L1092.1 3381.5 L1093.4 3381.0 L1094.7 3380.6 L1096.0 3380.2 L1097.2 3379.8 L1098.5 3379.6 L1099.8 3379.3 L1101.1 3379.2 L1102.4 3379.1 L1103.0 3379.1 L1103.7 3379.1 L1104.9 3379.3 L1106.2 3379.5 L1107.5 3379.9 L1108.8 3380.4 L1110.1 3380.9 L1111.4 3381.5 L1112.7 3382.2 L1113.9 3382.9 L1115.2 3383.6 L1116.5 3384.3 L1117.8 3385.1 L1118.4 3385.4 L1119.1 3385.8 L1120.4 3386.5 L1121.6 3387.4 L1122.9 3388.3 L1124.2 3389.3 L1125.5 3390.3 L1126.8 3391.4 L1128.1 3392.5 L1129.3 3393.6 L1130.6 3394.6 L1131.9 3395.7 L1133.2 3396.7 L1133.8 3397.2 L1134.5 3397.7 L1135.8 3398.7 L1137.0 3399.8 L1138.3 3400.9 L1139.6 3401.9 L1140.9 3403.0 L1142.2 3404.1 L1143.5 3405.1 L1144.8 3406.1 L1146.0 3407.1 L1147.3 3408.0 L1148.6 3408.8 L1149.9 3409.5 L1150.5 3409.8 L1151.2 3410.2 L1152.5 3410.8 L1153.7 3411.5 L1155.0 3412.1 L1156.3 3412.7 L1157.6 3413.4 L1158.9 3413.9 L1160.2 3414.5 L1161.4 3415.0 L1162.7 3415.4 L1164.0 3415.8 L1165.3 3416.1 L1166.6 3416.3 L1167.9 3416.4 L1168.5 3416.4 L1169.1 3416.4 L1170.4 3416.3 L1171.7 3416.1 L1173.0 3415.9 L1174.3 3415.6 L1175.6 3415.2 L1176.9 3414.8 L1178.1 3414.4 L1179.4 3413.9 L1180.7 3413.4 L1182.0 3412.9 L1183.3 3412.4 L1184.6 3411.9 L1185.8 3411.4 L1185.8 3411.4 L1187.1 3410.9 L1188.4 3410.2 L1189.7 3409.5 L1191.0 3408.8 L1192.3 3408.0 L1193.5 3407.1 L1194.8 3406.2 L1196.1 3405.4 L1197.4 3404.5 L1198.7 3403.7 L1200.0 3402.9 L1201.2 3402.1 L1202.5 3401.5 L1203.8 3400.9 L1205.1 3400.4 L1205.1 3400.4 L1206.4 3399.9 L1207.7 3399.5 L1209.0 3399.1 L1210.2 3398.6 L1211.5 3398.2 L1212.8 3397.8 L1214.1 3397.4 L1215.4 3397.1 L1216.7 3396.8 L1217.9 3396.5 L1219.2 3396.2 L1220.5 3396.0 L1221.8 3395.9 L1223.1 3395.8 L1224.0 3395.8 L1224.4 3395.8 L1225.6 3395.9 L1226.9 3396.0 L1228.2 3396.3 L1229.5 3396.6 L1230.8 3397.0 L1232.1 3397.4 L1233.3 3397.8 L1234.6 3398.3 L1235.9 3398.9 L1237.2 3399.4 L1238.5 3399.9 L1239.8 3400.5 L1241.1 3401.0 L1242.3 3401.5 L1243.6 3402.0 L1243.6 3402.0 L1244.9 3402.4 L1246.2 3402.9 L1247.5 3403.4 L1248.8 3403.8 L1250.0 3404.3 L1251.3 3404.8 L1252.6 3405.4 L1253.9 3405.9 L1255.2 3406.4 L1256.5 3406.9 L1257.7 3407.5 L1259.0 3408.0 L1260.3 3408.5 L1261.6 3409.1 L1262.9 3409.6 L1264.2 3410.2 L1265.4 3410.7 L1266.7 3411.3 L1268.0 3411.8 L1269.0 3412.2 L1269.3 3412.3 L1270.6 3412.9 L1271.9 3413.5 L1273.2 3414.2 L1274.4 3414.9 L1275.7 3415.6 L1277.0 3416.4 L1278.3 3417.1 L1279.6 3417.9 L1280.9 3418.6 L1282.1 3419.4 L1283.4 3420.1 L1284.7 3420.8 L1286.0 3421.5 L1287.3 3422.1 L1288.6 3422.7 L1289.8 3423.2 L1291.1 3423.7 L1292.4 3424.1 L1293.7 3424.4 L1295.0 3424.6 L1296.3 3424.8 L1297.5 3424.8 L1297.5 3424.8 L1298.8 3424.8 L1300.1 3424.7 L1301.4 3424.7 L1302.7 3424.5 L1304.0 3424.4 L1305.3 3424.2 L1306.5 3424.1 L1307.8 3423.9 L1309.1 3423.7 L1310.4 3423.5 L1311.7 3423.3 L1313.0 3423.1 L1314.2 3422.9 L1315.5 3422.7 L1316.8 3422.5 L1317.5 3422.4 L1318.1 3422.4 L1319.4 3422.2 L1320.7 3422.0 L1321.9 3421.8 L1323.2 3421.6 L1324.5 3421.4 L1325.8 3421.2 L1327.1 3421.0 L1328.4 3420.8 L1329.6 3420.6 L1330.9 3420.4 L1332.2 3420.3 L1333.5 3420.2 L1334.8 3420.1 L1336.1 3420.1 L1336.4 3420.1 L1337.4 3420.1 L1338.6 3420.2 L1339.9 3420.3 L1341.2 3420.5 L1342.5 3420.7 L1343.8 3421.0 L1345.1 3421.3 L1346.3 3421.6 L1347.6 3421.9 L1348.9 3422.3 L1350.2 3422.6 L1351.5 3422.9 L1352.8 3423.2 L1352.8 3423.2 L1354.0 3423.6 L1355.3 3423.9 L1356.6 3424.3 L1357.9 3424.7 L1359.2 3425.1 L1360.5 3425.5 L1361.7 3425.9 L1363.0 3426.3 L1364.3 3426.8 L1365.6 3427.2 L1366.9 3427.7 L1368.2 3428.1 L1369.5 3428.5 L1370.7 3429.0 L1371.1 3429.1 L1372.0 3429.4 L1373.3 3429.8 L1374.6 3430.2 L1375.9 3430.7 L1377.2 3431.1 L1378.4 3431.6 L1379.7 3432.0 L1381.0 3432.5 L1382.3 3432.9 L1383.6 3433.4 L1384.9 3433.8 L1386.1 3434.2 L1387.4 3434.7 L1388.7 3435.1 L1390.0 3435.4 L1391.3 3435.8 L1392.6 3436.2 L1393.8 3436.5 L1394.5 3436.6 L1395.1 3436.8 L1396.4 3437.1 L1397.7 3437.4 L1399.0 3437.7 L1400.3 3438.1 L1401.6 3438.4 L1402.8 3438.7 L1404.1 3439.0 L1405.4 3439.3 L1406.7 3439.6 L1408.0 3439.9 L1409.3 3440.2 L1410.5 3440.4 L1411.8 3440.6 L1413.1 3440.8 L1414.4 3441.0 L1415.7 3441.1 L1417.0 3441.2 L1418.2 3441.3 L1419.5 3441.4 L1420.2 3441.4 L1420.8 3441.4 L1422.1 3441.4 L1423.4 3441.4 L1424.7 3441.4 L1425.9 3441.4 L1427.2 3441.4 L1428.5 3441.4 L1429.8 3441.4 L1431.1 3441.4 L1432.4 3441.4 L1433.7 3441.4 L1434.9 3441.4 L1436.2 3441.4 L1437.5 3441.4 L1438.8 3441.4 L1440.1 3441.4 L1441.4 3441.4 L1442.6 3441.4 L1442.6 3441.4 L1443.9 3441.4 L1445.2 3441.3 L1446.5 3441.3 L1447.8 3441.2 L1449.1 3441.1 L1450.3 3440.9 L1451.6 3440.8 L1452.9 3440.7 L1454.2 3440.5 L1455.5 3440.3 L1456.8 3440.1 L1458.0 3439.9 L1459.3 3439.7 L1460.6 3439.5 L1461.9 3439.3 L1463.2 3439.0 L1464.5 3438.8 L1465.8 3438.6 L1467.0 3438.4 L1468.0 3438.2 L1468.3 3438.2 L1469.6 3437.9 L1470.9 3437.7 L1472.2 3437.4 L1473.5 3437.1 L1474.7 3436.8 L1476.0 3436.5 L1477.3 3436.2 L1478.6 3435.8 L1479.9 3435.5 L1481.2 3435.1 L1482.4 3434.7 L1483.7 3434.3 L1485.0 3433.9 L1486.3 3433.5 L1487.6 3433.1 L1488.9 3432.7 L1490.1 3432.3 L1491.4 3431.9 L1492.7 3431.5 L1494.0 3431.1 L1494.0 3431.1 L1495.3 3430.7 L1496.6 3430.2 L1497.9 3429.8 L1499.1 3429.2 L1500.4 3428.7 L1501.7 3428.2 L1503.0 3427.7 L1504.3 3427.1 L1505.6 3426.6 L1506.8 3426.1 L1508.1 3425.6 L1509.4 3425.2 L1510.7 3424.7 L1512.0 3424.4 L1513.3 3424.0 L1513.3 3424.0 L1514.5 3423.7 L1515.8 3423.4 L1517.1 3423.1 L1518.4 3422.7 L1519.7 3422.4 L1521.0 3422.2 L1522.2 3421.9 L1523.5 3421.6 L1524.8 3421.4 L1526.1 3421.3 L1527.4 3421.2 L1528.7 3421.1 L1529.3 3421.1 L1530.0 3421.1 L1531.2 3421.2 L1532.5 3421.3 L1533.8 3421.5 L1535.1 3421.8 L1536.4 3422.1 L1537.7 3422.4 L1538.9 3422.8 L1540.2 3423.2 L1541.5 3423.6 L1542.8 3424.0 L1544.1 3424.4 L1545.4 3424.8 L1545.4 3424.8 L1546.6 3425.2 L1547.9 3425.7 L1549.2 3426.2 L1550.5 3426.8 L1551.8 3427.4 L1553.1 3428.0 L1554.3 3428.6 L1555.6 3429.3 L1556.9 3429.9 L1558.2 3430.6 L1559.5 3431.2 L1560.8 3431.8 L1562.1 3432.4 L1563.3 3433.0 L1564.6 3433.5 L1564.6 3433.5 L1565.9 3434.0 L1567.2 3434.5 L1568.5 3435.0 L1569.8 3435.5 L1571.0 3436.0 L1572.3 3436.5 L1573.6 3436.9 L1574.9 3437.4 L1576.2 3437.9 L1577.5 3438.3 L1578.7 3438.7 L1580.0 3439.1 L1581.3 3439.5 L1582.6 3439.9 L1583.9 3440.2 L1585.2 3440.5 L1585.5 3440.6 L1586.4 3440.8 L1587.7 3441.1 L1589.0 3441.3 L1590.3 3441.6 L1591.6 3441.9 L1592.9 3442.1 L1594.2 3442.4 L1595.4 3442.6 L1596.7 3442.8 L1598.0 3443.0 L1599.3 3443.3 L1600.6 3443.5 L1601.9 3443.6 L1603.1 3443.8 L1604.4 3444.0 L1605.7 3444.1 L1607.0 3444.3 L1608.3 3444.4 L1609.6 3444.5 L1609.6 3444.5 L1610.8 3444.6 L1612.1 3444.7 L1613.4 3444.8 L1614.7 3444.9 L1616.0 3445.0 L1617.3 3445.1 L1618.5 3445.2 L1619.8 3445.2 L1621.1 3445.3 L1622.4 3445.4 L1623.7 3445.4 L1625.0 3445.5 L1626.3 3445.6 L1627.5 3445.6 L1628.8 3445.7 L1630.1 3445.7 L1631.4 3445.8 L1632.7 3445.9 L1634.0 3445.9 L1635.2 3446.0 L1636.5 3446.0 L1637.8 3446.1 L1638.4 3446.1 L1639.1 3446.1 L1640.4 3446.2 L1641.7 3446.2 L1642.9 3446.3 L1644.2 3446.3 L1645.5 3446.4 L1646.8 3446.4 L1648.1 3446.5 L1649.4 3446.5 L1650.6 3446.6 L1651.9 3446.6 L1653.2 3446.7 L1654.5 3446.7 L1655.8 3446.8 L1657.1 3446.8 L1658.4 3446.9 L1659.6 3446.9 L1660.9 3447.0 L1662.2 3447.0 L1663.5 3447.1 L1664.8 3447.1 L1666.1 3447.1 L1667.3 3447.2 L1668.6 3447.2 L1669.9 3447.3 L1671.2 3447.3 L1672.5 3447.3 L1673.8 3447.4 L1675.0 3447.4 L1676.3 3447.4 L1677.6 3447.5 L1678.9 3447.5 L1680.2 3447.5 L1681.5 3447.6 L1682.7 3447.6 L1684.0 3447.6 L1685.3 3447.6 L1686.6 3447.7 L1686.6 3447.7" class="sp"/>
<path d="M402.6 2807.4 L403.9 2817.1 L405.2 2826.8 L406.5 2836.3 L407.7 2845.8 L409.0 2855.3 L410.3 2864.7 L410.9 2869.3 L411.6 2874.0 L412.9 2883.4 L414.2 2892.8 L415.4 2902.1 L416.7 2911.4 L418.0 2920.5 L419.3 2929.5 L420.6 2938.2 L421.9 2946.6 L421.9 2946.6 L423.1 2954.7 L424.4 2962.8 L425.7 2970.6 L427.0 2978.4 L428.3 2986.0 L429.6 2993.4 L430.8 3000.7 L432.1 3007.9 L433.4 3014.9 L434.7 3021.7 L435.3 3025.1 L436.0 3028.4 L437.3 3035.0 L438.6 3041.4 L439.8 3047.6 L441.1 3053.7 L442.4 3059.6 L443.7 3065.3 L444.3 3068.1 L445.0 3070.9 L446.3 3076.4 L447.5 3081.8 L448.8 3087.1 L450.1 3092.2 L451.4 3097.0 L452.7 3101.6 L453.6 3104.8 L454.0 3105.9 L455.2 3110.0 L456.5 3114.0 L457.8 3117.9 L459.1 3121.8 L460.4 3125.5 L461.7 3129.0 L462.9 3132.4 L464.2 3135.7 L465.5 3138.9 L466.8 3141.8 L468.1 3144.6 L469.0 3146.6 L469.4 3147.2 L470.7 3149.7 L471.9 3152.2 L473.2 3154.5 L474.5 3156.7 L475.8 3158.7 L477.1 3160.6 L478.4 3162.3 L479.6 3163.8 L479.6 3163.8 L480.9 3165.1 L482.2 3166.3 L483.5 3167.4 L484.8 3168.5 L486.1 3169.4 L487.3 3170.2 L488.3 3170.8 L488.6 3171.0 L489.9 3171.8 L491.2 3172.6 L492.5 3173.4 L493.8 3174.1 L495.0 3174.8 L496.3 3175.4 L497.6 3175.8 L498.9 3176.2 L500.2 3176.4 L500.8 3176.4 L501.5 3176.4 L502.8 3176.3 L504.0 3176.2 L505.3 3176.0 L506.6 3175.8 L507.9 3175.5 L509.2 3175.2 L510.5 3174.9 L511.7 3174.6 L511.7 3174.6 L513.0 3174.2 L514.3 3173.7 L515.6 3173.0 L516.9 3172.2 L518.2 3171.3 L519.4 3170.4 L520.7 3169.4 L522.0 3168.4 L523.3 3167.3 L524.6 3166.3 L524.6 3166.3 L525.9 3165.1 L527.1 3163.9 L528.4 3162.6 L529.7 3161.1 L531.0 3159.6 L532.3 3158.1 L533.6 3156.6 L534.9 3155.1 L536.1 3153.6 L537.4 3152.1 L537.4 3152.1 L538.7 3150.7 L540.0 3149.3 L541.3 3147.8 L542.6 3146.4 L543.8 3145.0 L545.1 3143.6 L546.4 3142.1 L547.7 3140.7 L549.0 3139.3 L550.3 3137.9 L551.5 3136.5 L551.9 3136.2 L552.8 3135.1 L554.1 3133.7 L555.4 3132.3 L556.7 3130.8 L558.0 3129.4 L559.2 3128.0 L560.5 3126.6 L561.8 3125.3 L563.1 3124.0 L564.4 3122.7 L565.7 3121.6 L566.3 3121.0 L567.0 3120.5 L568.2 3119.4 L569.5 3118.3 L570.8 3117.3 L572.1 3116.2 L573.4 3115.3 L574.7 3114.4 L575.9 3113.6 L577.2 3112.8 L578.5 3112.2 L579.2 3111.9 L579.8 3111.7 L581.1 3111.2 L582.4 3110.9 L583.6 3110.6 L584.9 3110.3 L586.2 3110.1 L587.5 3109.8 L588.8 3109.5 L590.1 3109.2 L591.3 3108.8 L592.6 3108.3 L593.6 3107.9 L593.9 3107.6 L595.2 3106.1 L596.5 3104.9 L596.8 3104.8 L597.8 3105.7 L599.1 3108.5 L600.3 3111.1 L601.0 3111.6 L601.6 3111.7 L602.9 3111.9 L604.2 3112.0 L605.5 3112.1 L606.8 3112.2 L608.0 3112.2 L609.3 3112.3 L610.6 3112.3 L611.9 3112.4 L613.2 3112.4 L614.5 3112.5 L615.7 3112.7 L615.7 3112.7 L617.0 3112.9 L618.3 3113.2 L619.6 3113.6 L620.9 3114.1 L622.2 3114.7 L623.4 3115.4 L624.7 3116.1 L626.0 3116.9 L627.3 3117.7 L628.6 3118.5 L629.9 3119.3 L631.2 3120.2 L632.4 3121.0 L633.7 3121.8 L633.7 3121.8 L635.0 3122.6 L636.3 3123.5 L637.6 3124.5 L638.9 3125.4 L640.1 3126.5 L641.4 3127.5 L642.7 3128.6 L644.0 3129.7 L645.3 3130.8 L646.6 3131.9 L647.8 3133.0 L649.1 3134.1 L650.4 3135.2 L651.7 3136.2 L652.0 3136.5 L653.0 3137.2 L654.3 3138.3 L655.5 3139.3 L656.8 3140.4 L658.1 3141.4 L659.4 3142.5 L660.7 3143.5 L662.0 3144.5 L663.3 3145.5 L664.5 3146.5 L665.8 3147.5 L667.1 3148.5 L668.4 3149.4 L669.7 3150.2 L670.3 3150.7 L671.0 3151.1 L672.2 3152.0 L673.5 3153.0 L674.8 3154.0 L676.1 3154.9 L677.4 3155.7 L678.7 3156.3 L679.9 3156.7 L680.9 3156.7 L681.2 3156.7 L682.5 3156.7 L683.8 3156.5 L685.1 3156.2 L686.4 3155.9 L687.6 3155.5 L688.9 3155.1 L689.9 3154.7 L690.2 3154.6 L691.5 3153.7 L692.8 3152.3 L694.1 3150.7 L695.4 3148.8 L696.6 3146.9 L697.3 3145.9 L697.9 3144.9 L699.2 3142.6 L700.5 3140.1 L701.8 3137.4 L703.1 3134.6 L704.3 3131.8 L704.3 3131.8 L705.6 3129.0 L706.9 3126.2 L708.2 3123.3 L709.5 3120.2 L710.8 3116.9 L712.0 3113.3 L712.7 3111.3 L713.3 3109.2 L714.6 3104.4 L715.9 3098.9 L717.2 3093.0 L718.5 3086.9 L719.7 3080.8 L721.0 3074.9 L721.4 3073.5 L722.3 3069.1 L723.6 3063.2 L724.9 3057.1 L726.2 3051.0 L727.5 3045.1 L728.7 3039.6 L730.0 3034.6 L731.3 3030.2 L731.3 3030.2 L732.6 3026.7 L733.9 3023.8 L735.2 3021.3 L736.4 3018.9 L737.7 3016.3 L739.0 3013.3 L740.3 3009.7 L740.9 3007.5 L741.6 3004.9 L742.9 2998.3 L744.1 2990.2 L745.4 2980.9 L746.7 2971.1 L747.7 2963.6 L748.0 2961.0 L749.3 2949.9 L750.6 2937.6 L751.8 2924.6 L753.1 2911.7 L754.4 2899.1 L754.4 2899.1 L755.7 2887.7 L757.0 2877.1 L758.3 2866.9 L759.6 2856.6 L760.8 2845.7 L762.1 2833.5 L763.4 2819.7 L764.7 2803.6 L764.7 2803.6 L766.0 2782.3 L767.3 2755.0 L768.5 2725.1 L769.5 2702.8 L769.8 2695.5 L771.1 2664.8 L772.4 2633.0 L773.7 2602.0 L773.7 2602.0 L775.0 2572.3 L776.2 2543.1 L777.5 2514.9 L778.2 2501.2 L778.8 2488.0 L780.1 2462.3 L781.4 2437.3 L782.7 2412.8 L783.3 2400.4 L783.9 2388.0 L785.2 2363.0 L786.5 2338.5 L787.8 2315.6 L787.8 2315.6 L789.1 2290.0 L790.4 2267.1 L791.3 2260.2 L791.7 2261.1 L792.9 2277.7 L794.2 2303.8 L794.9 2315.6 L795.5 2325.9 L796.8 2346.8 L798.1 2368.1 L799.4 2389.6 L800.0 2400.4 L800.6 2411.3 L801.9 2432.9 L803.2 2454.8 L804.5 2477.5 L805.8 2501.2 L805.8 2501.2 L807.1 2526.8 L808.3 2554.0 L809.6 2581.6 L810.6 2602.0 L810.9 2608.8 L812.2 2635.9 L813.5 2663.0 L814.8 2689.7 L815.4 2702.8 L816.0 2715.8 L817.3 2741.2 L818.6 2766.3 L819.9 2791.2 L820.5 2803.6 L821.2 2816.1 L822.5 2841.3 L823.8 2866.3 L825.0 2890.8 L826.3 2914.3 L826.6 2920.0 L827.6 2936.7 L828.9 2958.4 L830.2 2979.3 L831.5 2999.4 L832.1 3009.0 L832.7 3018.6 L834.0 3038.0 L835.3 3057.1 L836.6 3075.5 L837.9 3092.5 L839.2 3107.6 L840.1 3117.4 L840.4 3120.4 L841.7 3131.4 L843.0 3141.3 L844.3 3150.4 L845.6 3158.8 L846.9 3166.9 L848.1 3174.7 L849.4 3182.7 L850.7 3191.1 L852.0 3200.0 L852.0 3200.0 L853.3 3209.9 L854.6 3220.2 L855.9 3230.2 L857.1 3239.0 L857.5 3240.9 L858.4 3246.3 L859.7 3253.0 L861.0 3259.1 L862.3 3264.9 L863.6 3270.3 L864.8 3275.5 L866.1 3280.6 L866.4 3281.9 L867.4 3285.6 L868.7 3290.6 L870.0 3295.4 L871.3 3300.0 L872.5 3304.5 L873.8 3308.9 L875.1 3313.1 L876.4 3317.1 L877.7 3320.9 L878.3 3322.8 L879.0 3324.6 L880.2 3328.2 L881.5 3331.6 L882.8 3334.9 L884.1 3338.1 L885.4 3341.1 L886.7 3344.0 L888.0 3346.8 L889.2 3349.5 L889.6 3350.1 L890.5 3352.0 L891.8 3354.4 L893.1 3356.7 L894.4 3359.0 L895.7 3361.1 L896.9 3363.1 L898.2 3365.0 L899.5 3366.7 L900.2 3367.5 L900.8 3368.3 L902.1 3369.7 L903.4 3371.0 L904.6 3372.2 L905.9 3373.3 L907.2 3374.4 L908.5 3375.5 L909.8 3376.6 L909.8 3376.6 L911.1 3377.7 L912.3 3378.8 L913.6 3379.9 L914.9 3381.0 L916.2 3382.0 L917.5 3383.1 L918.8 3384.1 L920.1 3385.1 L921.3 3386.1 L922.6 3387.1 L923.9 3388.0 L925.2 3388.9 L926.5 3389.8 L927.1 3390.3 L927.8 3390.7 L929.0 3391.5 L930.3 3392.4 L931.6 3393.2 L932.9 3394.0 L934.2 3394.8 L935.5 3395.6 L936.7 3396.3 L938.0 3397.0 L939.3 3397.7 L940.6 3398.3 L941.9 3399.0 L941.9 3399.0 L943.2 3399.6 L944.4 3400.2 L945.7 3400.7 L947.0 3401.3 L948.3 3401.8 L949.6 3402.3 L950.9 3402.8 L952.2 3403.3 L953.4 3403.7 L954.7 3404.2 L956.0 3404.6 L956.3 3404.7 L957.3 3404.9 L958.6 3405.3 L959.9 3405.6 L961.1 3406.0 L962.4 3406.3 L963.7 3406.6 L965.0 3406.9 L966.3 3407.2 L967.6 3407.5 L968.8 3407.7 L970.1 3407.9 L970.8 3408.1 L971.4 3408.2 L972.7 3408.4 L974.0 3408.6 L975.3 3408.8 L976.5 3409.0 L977.8 3409.1 L979.1 3409.3 L980.4 3409.5 L981.7 3409.6 L983.0 3409.8 L983.9 3410.0 L984.3 3410.0 L985.5 3410.2 L986.8 3410.4 L988.1 3410.6 L989.4 3410.9 L990.7 3411.1 L992.0 3411.3 L993.2 3411.5 L994.5 3411.7 L995.8 3411.9 L997.1 3412.0 L998.4 3412.1 L999.7 3412.2 L1000.0 3412.2 L1000.9 3412.3 L1002.2 3412.3 L1003.5 3412.4 L1004.8 3412.4 L1006.1 3412.5 L1007.4 3412.5 L1008.6 3412.6 L1009.9 3412.6 L1011.2 3412.7 L1012.5 3412.7 L1013.8 3412.7 L1015.1 3412.8 L1016.4 3412.8 L1017.6 3412.8 L1018.9 3412.9 L1020.2 3412.9 L1021.5 3412.9 L1022.8 3412.9 L1024.1 3412.9 L1025.3 3413.0 L1026.6 3413.0 L1027.9 3413.0 L1029.2 3413.0 L1030.5 3413.0 L1031.4 3413.0 L1031.8 3413.0 L1033.0 3412.9 L1034.3 3412.9 L1035.6 3412.7 L1036.9 3412.5 L1038.2 3412.3 L1039.5 3412.1 L1040.7 3411.8 L1042.0 3411.5 L1043.3 3411.2 L1044.6 3410.8 L1045.9 3410.5 L1047.2 3410.1 L1047.8 3410.0 L1048.5 3409.8 L1049.7 3409.4 L1051.0 3408.9 L1052.3 3408.3 L1053.6 3407.7 L1054.9 3407.1 L1056.2 3406.4 L1057.4 3405.6 L1058.7 3404.9 L1060.0 3404.1 L1061.3 3403.4 L1062.6 3402.6 L1063.9 3401.8 L1064.2 3401.6 L1065.1 3401.0 L1066.4 3400.2 L1067.7 3399.2 L1069.0 3398.2 L1070.3 3397.2 L1071.6 3396.1 L1072.8 3395.1 L1074.1 3394.0 L1075.4 3393.0 L1076.7 3392.0 L1078.0 3391.0 L1079.3 3390.1 L1080.6 3389.3 L1081.8 3388.6 L1083.1 3388.0 L1083.1 3388.0 L1084.4 3387.4 L1085.7 3386.9 L1087.0 3386.3 L1088.3 3385.8 L1089.5 3385.2 L1090.8 3384.7 L1092.1 3384.2 L1093.4 3383.8 L1094.7 3383.3 L1096.0 3383.0 L1097.2 3382.6 L1098.5 3382.4 L1099.8 3382.2 L1101.1 3382.0 L1102.4 3381.9 L1103.0 3381.9 L1103.7 3381.9 L1104.9 3382.1 L1106.2 3382.3 L1107.5 3382.7 L1108.8 3383.1 L1110.1 3383.7 L1111.4 3384.3 L1112.7 3384.9 L1113.9 3385.6 L1115.2 3386.3 L1116.5 3387.0 L1117.8 3387.6 L1118.4 3388.0 L1119.1 3388.3 L1120.4 3389.1 L1121.6 3389.9 L1122.9 3390.8 L1124.2 3391.7 L1125.5 3392.7 L1126.8 3393.8 L1128.1 3394.8 L1129.3 3395.8 L1130.6 3396.9 L1131.9 3397.9 L1133.2 3398.9 L1133.8 3399.3 L1134.5 3399.8 L1135.8 3400.8 L1137.0 3401.8 L1138.3 3402.8 L1139.6 3403.9 L1140.9 3404.9 L1142.2 3405.9 L1143.5 3406.9 L1144.8 3407.9 L1146.0 3408.8 L1147.3 3409.7 L1148.6 3410.5 L1149.9 3411.2 L1150.5 3411.5 L1151.2 3411.8 L1152.5 3412.4 L1153.7 3413.0 L1155.0 3413.7 L1156.3 3414.3 L1157.6 3414.9 L1158.9 3415.4 L1160.2 3415.9 L1161.4 3416.4 L1162.7 3416.8 L1164.0 3417.2 L1165.3 3417.5 L1166.6 3417.7 L1167.9 3417.8 L1168.5 3417.8 L1169.1 3417.8 L1170.4 3417.7 L1171.7 3417.5 L1173.0 3417.3 L1174.3 3417.0 L1175.6 3416.7 L1176.9 3416.3 L1178.1 3415.8 L1179.4 3415.4 L1180.7 3414.9 L1182.0 3414.4 L1183.3 3414.0 L1184.6 3413.5 L1185.8 3413.0 L1185.8 3413.0 L1187.1 3412.5 L1188.4 3411.9 L1189.7 3411.2 L1191.0 3410.4 L1192.3 3409.7 L1193.5 3408.8 L1194.8 3408.0 L1196.1 3407.2 L1197.4 3406.3 L1198.7 3405.5 L1200.0 3404.8 L1201.2 3404.1 L1202.5 3403.4 L1203.8 3402.8 L1205.1 3402.4 L1205.1 3402.4 L1206.4 3402.0 L1207.7 3401.5 L1209.0 3401.1 L1210.2 3400.7 L1211.5 3400.3 L1212.8 3399.9 L1214.1 3399.5 L1215.4 3399.2 L1216.7 3398.9 L1217.9 3398.6 L1219.2 3398.4 L1220.5 3398.2 L1221.8 3398.1 L1223.1 3398.0 L1224.0 3398.0 L1224.4 3398.0 L1225.6 3398.1 L1226.9 3398.2 L1228.2 3398.4 L1229.5 3398.7 L1230.8 3399.1 L1232.1 3399.5 L1233.3 3399.9 L1234.6 3400.4 L1235.9 3400.9 L1237.2 3401.4 L1238.5 3401.9 L1239.8 3402.5 L1241.1 3403.0 L1242.3 3403.4 L1243.6 3403.9 L1243.6 3403.9 L1244.9 3404.3 L1246.2 3404.8 L1247.5 3405.2 L1248.8 3405.7 L1250.0 3406.2 L1251.3 3406.7 L1252.6 3407.2 L1253.9 3407.7 L1255.2 3408.2 L1256.5 3408.7 L1257.7 3409.2 L1259.0 3409.7 L1260.3 3410.2 L1261.6 3410.7 L1262.9 3411.3 L1264.2 3411.8 L1265.4 3412.3 L1266.7 3412.8 L1268.0 3413.4 L1269.0 3413.7 L1269.3 3413.9 L1270.6 3414.4 L1271.9 3415.0 L1273.2 3415.7 L1274.4 3416.4 L1275.7 3417.0 L1277.0 3417.8 L1278.3 3418.5 L1279.6 3419.2 L1280.9 3419.9 L1282.1 3420.6 L1283.4 3421.3 L1284.7 3422.0 L1286.0 3422.7 L1287.3 3423.3 L1288.6 3423.8 L1289.8 3424.3 L1291.1 3424.8 L1292.4 3425.1 L1293.7 3425.5 L1295.0 3425.7 L1296.3 3425.8 L1297.5 3425.9 L1297.5 3425.9 L1298.8 3425.9 L1300.1 3425.8 L1301.4 3425.7 L1302.7 3425.6 L1304.0 3425.5 L1305.3 3425.3 L1306.5 3425.2 L1307.8 3425.0 L1309.1 3424.8 L1310.4 3424.6 L1311.7 3424.4 L1313.0 3424.2 L1314.2 3424.0 L1315.5 3423.8 L1316.8 3423.7 L1317.5 3423.6 L1318.1 3423.5 L1319.4 3423.4 L1320.7 3423.2 L1321.9 3423.0 L1323.2 3422.8 L1324.5 3422.6 L1325.8 3422.4 L1327.1 3422.2 L1328.4 3422.0 L1329.6 3421.8 L1330.9 3421.7 L1332.2 3421.5 L1333.5 3421.4 L1334.8 3421.4 L1336.1 3421.3 L1336.4 3421.3 L1337.4 3421.3 L1338.6 3421.4 L1339.9 3421.6 L1341.2 3421.7 L1342.5 3421.9 L1343.8 3422.2 L1345.1 3422.5 L1346.3 3422.8 L1347.6 3423.1 L1348.9 3423.4 L1350.2 3423.7 L1351.5 3424.1 L1352.8 3424.4 L1352.8 3424.4 L1354.0 3424.7 L1355.3 3425.0 L1356.6 3425.4 L1357.9 3425.7 L1359.2 3426.1 L1360.5 3426.5 L1361.7 3426.9 L1363.0 3427.3 L1364.3 3427.8 L1365.6 3428.2 L1366.9 3428.6 L1368.2 3429.0 L1369.5 3429.5 L1370.7 3429.9 L1371.1 3430.0 L1372.0 3430.3 L1373.3 3430.7 L1374.6 3431.1 L1375.9 3431.5 L1377.2 3432.0 L1378.4 3432.4 L1379.7 3432.8 L1381.0 3433.3 L1382.3 3433.7 L1383.6 3434.1 L1384.9 3434.5 L1386.1 3434.9 L1387.4 3435.3 L1388.7 3435.7 L1390.0 3436.1 L1391.3 3436.4 L1392.6 3436.8 L1393.8 3437.1 L1394.5 3437.2 L1395.1 3437.4 L1396.4 3437.7 L1397.7 3438.0 L1399.0 3438.3 L1400.3 3438.6 L1401.6 3438.9 L1402.8 3439.2 L1404.1 3439.5 L1405.4 3439.8 L1406.7 3440.1 L1408.0 3440.4 L1409.3 3440.6 L1410.5 3440.9 L1411.8 3441.1 L1413.1 3441.3 L1414.4 3441.4 L1415.7 3441.6 L1417.0 3441.7 L1418.2 3441.7 L1419.5 3441.8 L1420.2 3441.8 L1420.8 3441.8 L1422.1 3441.8 L1423.4 3441.8 L1424.7 3441.8 L1425.9 3441.8 L1427.2 3441.8 L1428.5 3441.8 L1429.8 3441.8 L1431.1 3441.8 L1432.4 3441.8 L1433.7 3441.8 L1434.9 3441.8 L1436.2 3441.8 L1437.5 3441.8 L1438.8 3441.8 L1440.1 3441.8 L1441.4 3441.8 L1442.6 3441.8 L1442.6 3441.8 L1443.9 3441.8 L1445.2 3441.7 L1446.5 3441.7 L1447.8 3441.6 L1449.1 3441.5 L1450.3 3441.4 L1451.6 3441.3 L1452.9 3441.1 L1454.2 3440.9 L1455.5 3440.8 L1456.8 3440.6 L1458.0 3440.4 L1459.3 3440.2 L1460.6 3440.0 L1461.9 3439.8 L1463.2 3439.6 L1464.5 3439.3 L1465.8 3439.1 L1467.0 3438.9 L1468.0 3438.8 L1468.3 3438.7 L1469.6 3438.5 L1470.9 3438.2 L1472.2 3438.0 L1473.5 3437.7 L1474.7 3437.4 L1476.0 3437.1 L1477.3 3436.8 L1478.6 3436.5 L1479.9 3436.1 L1481.2 3435.8 L1482.4 3435.4 L1483.7 3435.0 L1485.0 3434.7 L1486.3 3434.3 L1487.6 3433.9 L1488.9 3433.5 L1490.1 3433.1 L1491.4 3432.7 L1492.7 3432.3 L1494.0 3431.9 L1494.0 3431.9 L1495.3 3431.5 L1496.6 3431.1 L1497.9 3430.6 L1499.1 3430.1 L1500.4 3429.6 L1501.7 3429.1 L1503.0 3428.6 L1504.3 3428.1 L1505.6 3427.6 L1506.8 3427.1 L1508.1 3426.6 L1509.4 3426.2 L1510.7 3425.8 L1512.0 3425.4 L1513.3 3425.1 L1513.3 3425.1 L1514.5 3424.8 L1515.8 3424.5 L1517.1 3424.2 L1518.4 3423.9 L1519.7 3423.6 L1521.0 3423.3 L1522.2 3423.1 L1523.5 3422.8 L1524.8 3422.6 L1526.1 3422.5 L1527.4 3422.4 L1528.7 3422.3 L1529.3 3422.3 L1530.0 3422.3 L1531.2 3422.4 L1532.5 3422.5 L1533.8 3422.7 L1535.1 3423.0 L1536.4 3423.3 L1537.7 3423.6 L1538.9 3423.9 L1540.2 3424.3 L1541.5 3424.7 L1542.8 3425.1 L1544.1 3425.5 L1545.4 3425.9 L1545.4 3425.9 L1546.6 3426.3 L1547.9 3426.7 L1549.2 3427.2 L1550.5 3427.8 L1551.8 3428.3 L1553.1 3428.9 L1554.3 3429.5 L1555.6 3430.2 L1556.9 3430.8 L1558.2 3431.4 L1559.5 3432.0 L1560.8 3432.6 L1562.1 3433.2 L1563.3 3433.7 L1564.6 3434.2 L1564.6 3434.2 L1565.9 3434.7 L1567.2 3435.2 L1568.5 3435.7 L1569.8 3436.1 L1571.0 3436.6 L1572.3 3437.1 L1573.6 3437.5 L1574.9 3438.0 L1576.2 3438.4 L1577.5 3438.8 L1578.7 3439.2 L1580.0 3439.6 L1581.3 3440.0 L1582.6 3440.3 L1583.9 3440.7 L1585.2 3441.0 L1585.5 3441.0 L1586.4 3441.2 L1587.7 3441.5 L1589.0 3441.8 L1590.3 3442.0 L1591.6 3442.3 L1592.9 3442.5 L1594.2 3442.8 L1595.4 3443.0 L1596.7 3443.2 L1598.0 3443.4 L1599.3 3443.6 L1600.6 3443.8 L1601.9 3444.0 L1603.1 3444.1 L1604.4 3444.3 L1605.7 3444.5 L1607.0 3444.6 L1608.3 3444.7 L1609.6 3444.8 L1609.6 3444.8 L1610.8 3444.9 L1612.1 3445.0 L1613.4 3445.1 L1614.7 3445.2 L1616.0 3445.3 L1617.3 3445.4 L1618.5 3445.4 L1619.8 3445.5 L1621.1 3445.6 L1622.4 3445.6 L1623.7 3445.7 L1625.0 3445.8 L1626.3 3445.8 L1627.5 3445.9 L1628.8 3445.9 L1630.1 3446.0 L1631.4 3446.1 L1632.7 3446.1 L1634.0 3446.2 L1635.2 3446.2 L1636.5 3446.3 L1637.8 3446.3 L1638.4 3446.3 L1639.1 3446.4 L1640.4 3446.4 L1641.7 3446.5 L1642.9 3446.5 L1644.2 3446.6 L1645.5 3446.6 L1646.8 3446.7 L1648.1 3446.7 L1649.4 3446.8 L1650.6 3446.8 L1651.9 3446.9 L1653.2 3446.9 L1654.5 3447.0 L1655.8 3447.0 L1657.1 3447.0 L1658.4 3447.1 L1659.6 3447.1 L1660.9 3447.2 L1662.2 3447.2 L1663.5 3447.3 L1664.8 3447.3 L1666.1 3447.3 L1667.3 3447.4 L1668.6 3447.4 L1669.9 3447.5 L1671.2 3447.5 L1672.5 3447.5 L1673.8 3447.6 L1675.0 3447.6 L1676.3 3447.6 L1677.6 3447.7 L1678.9 3447.7 L1680.2 3447.7 L1681.5 3447.7 L1682.7 3447.8 L1684.0 3447.8 L1685.3 3447.8 L1686.6 3447.9 L1686.6 3447.9" class="sp"/>
<path d="M402.6 2846.1 L403.9 2855.9 L405.2 2865.6 L406.5 2875.1 L407.7 2884.4 L409.0 2893.5 L410.3 2902.4 L410.9 2906.7 L411.6 2911.0 L412.9 2919.6 L414.2 2928.0 L415.4 2936.3 L416.7 2944.4 L418.0 2952.3 L419.3 2960.1 L420.6 2967.6 L421.9 2974.9 L421.9 2974.9 L423.1 2982.1 L424.4 2989.0 L425.7 2995.9 L427.0 3002.6 L428.3 3009.2 L429.6 3015.6 L430.8 3021.9 L432.1 3028.1 L433.4 3034.2 L434.7 3040.2 L435.3 3043.1 L436.0 3046.1 L437.3 3051.8 L438.6 3057.4 L439.8 3062.8 L441.1 3068.1 L442.4 3073.4 L443.7 3078.5 L444.3 3081.0 L445.0 3083.6 L446.3 3088.6 L447.5 3093.6 L448.8 3098.6 L450.1 3103.3 L451.4 3107.9 L452.7 3112.1 L453.6 3115.1 L454.0 3116.1 L455.2 3119.8 L456.5 3123.5 L457.8 3127.0 L459.1 3130.4 L460.4 3133.7 L461.7 3136.9 L462.9 3139.9 L464.2 3142.9 L465.5 3145.8 L466.8 3148.5 L468.1 3151.1 L469.0 3153.0 L469.4 3153.7 L470.7 3156.1 L471.9 3158.5 L473.2 3160.9 L474.5 3163.1 L475.8 3165.2 L477.1 3167.1 L478.4 3168.9 L479.6 3170.5 L479.6 3170.5 L480.9 3171.9 L482.2 3173.2 L483.5 3174.4 L484.8 3175.5 L486.1 3176.5 L487.3 3177.4 L488.3 3178.0 L488.6 3178.2 L489.9 3179.0 L491.2 3179.8 L492.5 3180.5 L493.8 3181.2 L495.0 3181.8 L496.3 3182.4 L497.6 3182.8 L498.9 3183.2 L500.2 3183.3 L500.8 3183.3 L501.5 3183.3 L502.8 3183.3 L504.0 3183.2 L505.3 3183.0 L506.6 3182.8 L507.9 3182.6 L509.2 3182.4 L510.5 3182.1 L511.7 3181.8 L511.7 3181.8 L513.0 3181.5 L514.3 3181.0 L515.6 3180.4 L516.9 3179.7 L518.2 3178.9 L519.4 3178.0 L520.7 3177.1 L522.0 3176.2 L523.3 3175.2 L524.6 3174.3 L524.6 3174.3 L525.9 3173.2 L527.1 3172.0 L528.4 3170.7 L529.7 3169.3 L531.0 3167.9 L532.3 3166.4 L533.6 3164.9 L534.9 3163.5 L536.1 3162.0 L537.4 3160.6 L537.4 3160.6 L538.7 3159.3 L540.0 3157.9 L541.3 3156.5 L542.6 3155.2 L543.8 3153.8 L545.1 3152.5 L546.4 3151.1 L547.7 3149.8 L549.0 3148.4 L550.3 3147.1 L551.5 3145.8 L551.9 3145.5 L552.8 3144.5 L554.1 3143.1 L555.4 3141.8 L556.7 3140.4 L558.0 3139.1 L559.2 3137.7 L560.5 3136.4 L561.8 3135.1 L563.1 3133.9 L564.4 3132.7 L565.7 3131.6 L566.3 3131.1 L567.0 3130.5 L568.2 3129.4 L569.5 3128.4 L570.8 3127.3 L572.1 3126.3 L573.4 3125.3 L574.7 3124.4 L575.9 3123.6 L577.2 3122.8 L578.5 3122.2 L579.2 3122.0 L579.8 3121.7 L581.1 3121.3 L582.4 3121.0 L583.6 3120.7 L584.9 3120.5 L586.2 3120.2 L587.5 3120.0 L588.8 3119.7 L590.1 3119.4 L591.3 3119.0 L592.6 3118.6 L593.6 3118.2 L593.9 3118.0 L595.2 3116.5 L596.5 3115.2 L596.8 3115.1 L597.8 3116.1 L599.1 3118.9 L600.3 3121.5 L601.0 3122.0 L601.6 3122.0 L602.9 3122.0 L604.2 3122.0 L605.5 3122.0 L606.8 3122.0 L608.0 3122.0 L609.3 3122.0 L610.6 3122.0 L611.9 3122.0 L613.2 3122.0 L614.5 3122.0 L615.7 3122.0 L615.7 3122.0 L617.0 3122.0 L618.3 3122.2 L619.6 3122.6 L620.9 3123.0 L622.2 3123.6 L623.4 3124.2 L624.7 3124.9 L626.0 3125.6 L627.3 3126.4 L628.6 3127.2 L629.9 3128.0 L631.2 3128.8 L632.4 3129.6 L633.7 3130.3 L633.7 3130.3 L635.0 3131.0 L636.3 3131.8 L637.6 3132.7 L638.9 3133.5 L640.1 3134.5 L641.4 3135.4 L642.7 3136.3 L644.0 3137.3 L645.3 3138.3 L646.6 3139.2 L647.8 3140.2 L649.1 3141.1 L650.4 3142.1 L651.7 3143.0 L652.0 3143.2 L653.0 3143.8 L654.3 3144.7 L655.5 3145.6 L656.8 3146.5 L658.1 3147.4 L659.4 3148.3 L660.7 3149.2 L662.0 3150.1 L663.3 3150.9 L664.5 3151.8 L665.8 3152.6 L667.1 3153.4 L668.4 3154.2 L669.7 3154.9 L670.3 3155.3 L671.0 3155.7 L672.2 3156.5 L673.5 3157.3 L674.8 3158.2 L676.1 3159.0 L677.4 3159.7 L678.7 3160.2 L679.9 3160.5 L680.9 3160.6 L681.2 3160.6 L682.5 3160.5 L683.8 3160.3 L685.1 3160.0 L686.4 3159.7 L687.6 3159.2 L688.9 3158.7 L689.9 3158.3 L690.2 3158.2 L691.5 3157.2 L692.8 3155.9 L694.1 3154.2 L695.4 3152.3 L696.6 3150.3 L697.3 3149.2 L697.9 3148.2 L699.2 3145.8 L700.5 3143.1 L701.8 3140.2 L703.1 3137.1 L704.3 3134.1 L704.3 3134.1 L705.6 3131.1 L706.9 3128.0 L708.2 3124.9 L709.5 3121.6 L710.8 3118.1 L712.0 3114.4 L713.0 3111.3 L713.3 3110.3 L714.6 3105.7 L715.9 3100.6 L717.2 3095.1 L718.5 3089.4 L719.7 3083.6 L721.0 3077.8 L722.0 3073.5 L722.3 3072.0 L723.6 3065.9 L724.9 3059.4 L726.2 3052.8 L727.5 3046.3 L728.7 3040.3 L730.0 3034.8 L731.3 3030.2 L731.3 3030.2 L732.6 3026.6 L733.9 3023.7 L735.2 3021.2 L736.4 3018.8 L737.7 3016.3 L739.0 3013.3 L740.3 3009.7 L740.9 3007.5 L741.6 3004.9 L742.9 2998.3 L744.1 2990.2 L745.4 2980.9 L746.7 2971.1 L747.7 2963.6 L748.0 2961.0 L749.3 2949.9 L750.6 2937.6 L751.8 2924.6 L753.1 2911.7 L754.4 2899.1 L754.4 2899.1 L755.7 2887.7 L757.0 2877.1 L758.3 2866.9 L759.6 2856.6 L760.8 2845.7 L762.1 2833.5 L763.4 2819.7 L764.7 2803.6 L764.7 2803.6 L766.0 2782.3 L767.3 2755.0 L768.5 2725.1 L769.5 2702.8 L769.8 2695.5 L771.1 2664.8 L772.4 2633.0 L773.7 2602.0 L773.7 2602.0 L775.0 2572.3 L776.2 2543.1 L777.5 2514.9 L778.2 2501.2 L778.8 2488.0 L780.1 2462.3 L781.4 2437.3 L782.7 2412.8 L783.3 2400.4 L783.9 2388.0 L785.2 2363.0 L786.5 2338.5 L787.8 2315.6 L787.8 2315.6 L789.1 2290.0 L790.4 2267.1 L791.3 2260.2 L791.7 2261.1 L792.9 2277.7 L794.2 2303.8 L794.9 2315.6 L795.5 2325.9 L796.8 2346.8 L798.1 2368.1 L799.4 2389.6 L800.0 2400.4 L800.6 2411.3 L801.9 2432.9 L803.2 2454.8 L804.5 2477.5 L805.8 2501.2 L805.8 2501.2 L807.1 2526.8 L808.3 2554.0 L809.6 2581.6 L810.6 2602.0 L810.9 2608.8 L812.2 2635.9 L813.5 2663.0 L814.8 2689.7 L815.4 2702.8 L816.0 2715.8 L817.3 2741.2 L818.6 2766.3 L819.9 2791.2 L820.5 2803.6 L821.2 2816.1 L822.5 2841.3 L823.8 2866.3 L825.0 2890.8 L826.3 2914.3 L826.6 2920.0 L827.6 2936.7 L828.9 2958.4 L830.2 2979.3 L831.5 2999.4 L832.1 3009.0 L832.7 3018.6 L834.0 3038.0 L835.3 3057.1 L836.6 3075.5 L837.9 3092.5 L839.2 3107.6 L840.1 3117.4 L840.4 3120.4 L841.7 3131.4 L843.0 3141.3 L844.3 3150.4 L845.6 3158.8 L846.9 3166.9 L848.1 3174.7 L849.4 3182.7 L850.7 3191.1 L852.0 3200.0 L852.0 3200.0 L853.3 3209.9 L854.6 3220.2 L855.9 3230.2 L857.1 3239.0 L857.5 3240.9 L858.4 3246.3 L859.7 3253.0 L861.0 3259.1 L862.3 3264.9 L863.6 3270.3 L864.8 3275.5 L866.1 3280.6 L866.4 3281.9 L867.4 3285.6 L868.7 3290.6 L870.0 3295.4 L871.3 3300.0 L872.5 3304.5 L873.8 3308.9 L875.1 3313.1 L876.4 3317.1 L877.7 3320.9 L878.3 3322.8 L879.0 3324.6 L880.2 3328.2 L881.5 3331.6 L882.8 3334.9 L884.1 3338.1 L885.4 3341.1 L886.7 3344.0 L888.0 3346.8 L889.2 3349.5 L889.6 3350.1 L890.5 3351.9 L891.8 3354.3 L893.1 3356.6 L894.4 3358.8 L895.7 3360.9 L896.9 3362.9 L898.2 3364.8 L899.5 3366.6 L900.2 3367.5 L900.8 3368.4 L902.1 3370.1 L903.4 3371.7 L904.6 3373.3 L905.9 3374.8 L907.2 3376.3 L908.5 3377.6 L909.8 3378.9 L909.8 3378.9 L911.1 3380.1 L912.3 3381.2 L913.6 3382.3 L914.9 3383.4 L916.2 3384.4 L917.5 3385.4 L918.8 3386.4 L920.1 3387.3 L921.3 3388.2 L922.6 3389.1 L923.9 3390.0 L925.2 3390.9 L926.5 3391.7 L927.1 3392.1 L927.8 3392.5 L929.0 3393.4 L930.3 3394.2 L931.6 3395.0 L932.9 3395.8 L934.2 3396.5 L935.5 3397.3 L936.7 3398.0 L938.0 3398.7 L939.3 3399.3 L940.6 3400.0 L941.9 3400.6 L941.9 3400.6 L943.2 3401.2 L944.4 3401.7 L945.7 3402.3 L947.0 3402.8 L948.3 3403.3 L949.6 3403.8 L950.9 3404.3 L952.2 3404.8 L953.4 3405.2 L954.7 3405.6 L956.0 3406.0 L956.3 3406.1 L957.3 3406.4 L958.6 3406.7 L959.9 3407.0 L961.1 3407.4 L962.4 3407.7 L963.7 3408.0 L965.0 3408.3 L966.3 3408.5 L967.6 3408.8 L968.8 3409.0 L970.1 3409.3 L970.8 3409.4 L971.4 3409.5 L972.7 3409.7 L974.0 3409.9 L975.3 3410.1 L976.5 3410.3 L977.8 3410.4 L979.1 3410.6 L980.4 3410.8 L981.7 3410.9 L983.0 3411.1 L983.9 3411.2 L984.3 3411.3 L985.5 3411.5 L986.8 3411.7 L988.1 3411.9 L989.4 3412.1 L990.7 3412.3 L992.0 3412.5 L993.2 3412.7 L994.5 3412.9 L995.8 3413.1 L997.1 3413.2 L998.4 3413.3 L999.7 3413.4 L1000.0 3413.4 L1000.9 3413.5 L1002.2 3413.5 L1003.5 3413.6 L1004.8 3413.6 L1006.1 3413.7 L1007.4 3413.7 L1008.6 3413.8 L1009.9 3413.8 L1011.2 3413.9 L1012.5 3413.9 L1013.8 3413.9 L1015.1 3414.0 L1016.4 3414.0 L1017.6 3414.0 L1018.9 3414.0 L1020.2 3414.1 L1021.5 3414.1 L1022.8 3414.1 L1024.1 3414.1 L1025.3 3414.1 L1026.6 3414.2 L1027.9 3414.2 L1029.2 3414.2 L1030.5 3414.2 L1031.4 3414.2 L1031.8 3414.2 L1033.0 3414.1 L1034.3 3414.0 L1035.6 3413.9 L1036.9 3413.7 L1038.2 3413.5 L1039.5 3413.3 L1040.7 3413.0 L1042.0 3412.7 L1043.3 3412.4 L1044.6 3412.1 L1045.9 3411.7 L1047.2 3411.4 L1047.8 3411.2 L1048.5 3411.1 L1049.7 3410.6 L1051.0 3410.2 L1052.3 3409.6 L1053.6 3409.0 L1054.9 3408.4 L1056.2 3407.7 L1057.4 3407.0 L1058.7 3406.3 L1060.0 3405.6 L1061.3 3404.8 L1062.6 3404.1 L1063.9 3403.3 L1064.2 3403.1 L1065.1 3402.6 L1066.4 3401.7 L1067.7 3400.8 L1069.0 3399.8 L1070.3 3398.9 L1071.6 3397.8 L1072.8 3396.8 L1074.1 3395.8 L1075.4 3394.8 L1076.7 3393.8 L1078.0 3392.9 L1079.3 3392.0 L1080.6 3391.2 L1081.8 3390.5 L1083.1 3389.9 L1083.1 3389.9 L1084.4 3389.4 L1085.7 3388.8 L1087.0 3388.3 L1088.3 3387.8 L1089.5 3387.2 L1090.8 3386.7 L1092.1 3386.3 L1093.4 3385.8 L1094.7 3385.4 L1096.0 3385.1 L1097.2 3384.7 L1098.5 3384.5 L1099.8 3384.3 L1101.1 3384.1 L1102.4 3384.0 L1103.0 3384.0 L1103.7 3384.0 L1104.9 3384.2 L1106.2 3384.4 L1107.5 3384.8 L1108.8 3385.2 L1110.1 3385.7 L1111.4 3386.3 L1112.7 3386.9 L1113.9 3387.6 L1115.2 3388.3 L1116.5 3388.9 L1117.8 3389.6 L1118.4 3389.9 L1119.1 3390.2 L1120.4 3391.0 L1121.6 3391.8 L1122.9 3392.6 L1124.2 3393.6 L1125.5 3394.5 L1126.8 3395.5 L1128.1 3396.5 L1129.3 3397.5 L1130.6 3398.5 L1131.9 3399.5 L1133.2 3400.5 L1133.8 3400.9 L1134.5 3401.4 L1135.8 3402.4 L1137.0 3403.3 L1138.3 3404.3 L1139.6 3405.3 L1140.9 3406.3 L1142.2 3407.3 L1143.5 3408.3 L1144.8 3409.2 L1146.0 3410.1 L1147.3 3411.0 L1148.6 3411.7 L1149.9 3412.4 L1150.5 3412.7 L1151.2 3413.0 L1152.5 3413.6 L1153.7 3414.2 L1155.0 3414.8 L1156.3 3415.4 L1157.6 3416.0 L1158.9 3416.5 L1160.2 3417.0 L1161.4 3417.5 L1162.7 3417.9 L1164.0 3418.2 L1165.3 3418.5 L1166.6 3418.7 L1167.9 3418.8 L1168.5 3418.8 L1169.1 3418.8 L1170.4 3418.7 L1171.7 3418.6 L1173.0 3418.3 L1174.3 3418.1 L1175.6 3417.7 L1176.9 3417.4 L1178.1 3416.9 L1179.4 3416.5 L1180.7 3416.1 L1182.0 3415.6 L1183.3 3415.1 L1184.6 3414.6 L1185.8 3414.2 L1185.8 3414.2 L1187.1 3413.7 L1188.4 3413.1 L1189.7 3412.4 L1191.0 3411.7 L1192.3 3410.9 L1193.5 3410.2 L1194.8 3409.3 L1196.1 3408.5 L1197.4 3407.7 L1198.7 3406.9 L1200.0 3406.2 L1201.2 3405.5 L1202.5 3404.9 L1203.8 3404.3 L1205.1 3403.9 L1205.1 3403.9 L1206.4 3403.5 L1207.7 3403.1 L1209.0 3402.6 L1210.2 3402.2 L1211.5 3401.9 L1212.8 3401.5 L1214.1 3401.1 L1215.4 3400.8 L1216.7 3400.5 L1217.9 3400.2 L1219.2 3400.0 L1220.5 3399.8 L1221.8 3399.7 L1223.1 3399.6 L1224.0 3399.6 L1224.4 3399.6 L1225.6 3399.7 L1226.9 3399.8 L1228.2 3400.1 L1229.5 3400.3 L1230.8 3400.7 L1232.1 3401.1 L1233.3 3401.5 L1234.6 3402.0 L1235.9 3402.5 L1237.2 3403.0 L1238.5 3403.5 L1239.8 3404.0 L1241.1 3404.4 L1242.3 3404.9 L1243.6 3405.3 L1243.6 3405.3 L1244.9 3405.8 L1246.2 3406.2 L1247.5 3406.7 L1248.8 3407.1 L1250.0 3407.6 L1251.3 3408.0 L1252.6 3408.5 L1253.9 3409.0 L1255.2 3409.5 L1256.5 3410.0 L1257.7 3410.5 L1259.0 3411.0 L1260.3 3411.5 L1261.6 3412.0 L1262.9 3412.5 L1264.2 3413.0 L1265.4 3413.5 L1266.7 3414.0 L1268.0 3414.5 L1269.0 3414.9 L1269.3 3415.0 L1270.6 3415.6 L1271.9 3416.2 L1273.2 3416.8 L1274.4 3417.4 L1275.7 3418.1 L1277.0 3418.8 L1278.3 3419.5 L1279.6 3420.2 L1280.9 3420.9 L1282.1 3421.6 L1283.4 3422.3 L1284.7 3422.9 L1286.0 3423.5 L1287.3 3424.1 L1288.6 3424.7 L1289.8 3425.2 L1291.1 3425.6 L1292.4 3426.0 L1293.7 3426.3 L1295.0 3426.5 L1296.3 3426.6 L1297.5 3426.7 L1297.5 3426.7 L1298.8 3426.7 L1300.1 3426.6 L1301.4 3426.5 L1302.7 3426.4 L1304.0 3426.3 L1305.3 3426.1 L1306.5 3426.0 L1307.8 3425.8 L1309.1 3425.6 L1310.4 3425.4 L1311.7 3425.2 L1313.0 3425.1 L1314.2 3424.9 L1315.5 3424.7 L1316.8 3424.5 L1317.5 3424.5 L1318.1 3424.4 L1319.4 3424.2 L1320.7 3424.0 L1321.9 3423.9 L1323.2 3423.7 L1324.5 3423.5 L1325.8 3423.3 L1327.1 3423.1 L1328.4 3422.9 L1329.6 3422.7 L1330.9 3422.6 L1332.2 3422.5 L1333.5 3422.4 L1334.8 3422.3 L1336.1 3422.3 L1336.4 3422.3 L1337.4 3422.3 L1338.6 3422.3 L1339.9 3422.5 L1341.2 3422.6 L1342.5 3422.9 L1343.8 3423.1 L1345.1 3423.4 L1346.3 3423.7 L1347.6 3424.0 L1348.9 3424.3 L1350.2 3424.6 L1351.5 3424.9 L1352.8 3425.2 L1352.8 3425.2 L1354.0 3425.5 L1355.3 3425.8 L1356.6 3426.2 L1357.9 3426.5 L1359.2 3426.9 L1360.5 3427.3 L1361.7 3427.7 L1363.0 3428.1 L1364.3 3428.5 L1365.6 3428.9 L1366.9 3429.3 L1368.2 3429.7 L1369.5 3430.1 L1370.7 3430.5 L1371.1 3430.6 L1372.0 3430.9 L1373.3 3431.3 L1374.6 3431.7 L1375.9 3432.1 L1377.2 3432.6 L1378.4 3433.0 L1379.7 3433.4 L1381.0 3433.8 L1382.3 3434.2 L1383.6 3434.7 L1384.9 3435.1 L1386.1 3435.5 L1387.4 3435.8 L1388.7 3436.2 L1390.0 3436.6 L1391.3 3436.9 L1392.6 3437.2 L1393.8 3437.6 L1394.5 3437.7 L1395.1 3437.8 L1396.4 3438.1 L1397.7 3438.4 L1399.0 3438.7 L1400.3 3439.0 L1401.6 3439.3 L1402.8 3439.6 L1404.1 3439.9 L1405.4 3440.2 L1406.7 3440.5 L1408.0 3440.7 L1409.3 3441.0 L1410.5 3441.2 L1411.8 3441.4 L1413.1 3441.6 L1414.4 3441.8 L1415.7 3441.9 L1417.0 3442.0 L1418.2 3442.1 L1419.5 3442.1 L1420.2 3442.1 L1420.8 3442.1 L1422.1 3442.1 L1423.4 3442.1 L1424.7 3442.1 L1425.9 3442.1 L1427.2 3442.1 L1428.5 3442.1 L1429.8 3442.1 L1431.1 3442.1 L1432.4 3442.1 L1433.7 3442.1 L1434.9 3442.1 L1436.2 3442.1 L1437.5 3442.1 L1438.8 3442.1 L1440.1 3442.1 L1441.4 3442.1 L1442.6 3442.1 L1442.6 3442.1 L1443.9 3442.1 L1445.2 3442.1 L1446.5 3442.0 L1447.8 3441.9 L1449.1 3441.8 L1450.3 3441.7 L1451.6 3441.6 L1452.9 3441.4 L1454.2 3441.3 L1455.5 3441.1 L1456.8 3440.9 L1458.0 3440.8 L1459.3 3440.6 L1460.6 3440.4 L1461.9 3440.2 L1463.2 3439.9 L1464.5 3439.7 L1465.8 3439.5 L1467.0 3439.3 L1468.0 3439.2 L1468.3 3439.1 L1469.6 3438.9 L1470.9 3438.7 L1472.2 3438.4 L1473.5 3438.1 L1474.7 3437.9 L1476.0 3437.6 L1477.3 3437.2 L1478.6 3436.9 L1479.9 3436.6 L1481.2 3436.3 L1482.4 3435.9 L1483.7 3435.5 L1485.0 3435.2 L1486.3 3434.8 L1487.6 3434.4 L1488.9 3434.1 L1490.1 3433.7 L1491.4 3433.3 L1492.7 3432.9 L1494.0 3432.6 L1494.0 3432.6 L1495.3 3432.2 L1496.6 3431.7 L1497.9 3431.3 L1499.1 3430.8 L1500.4 3430.3 L1501.7 3429.8 L1503.0 3429.3 L1504.3 3428.8 L1505.6 3428.3 L1506.8 3427.9 L1508.1 3427.4 L1509.4 3427.0 L1510.7 3426.6 L1512.0 3426.2 L1513.3 3425.9 L1513.3 3425.9 L1514.5 3425.6 L1515.8 3425.3 L1517.1 3425.0 L1518.4 3424.7 L1519.7 3424.5 L1521.0 3424.2 L1522.2 3423.9 L1523.5 3423.7 L1524.8 3423.5 L1526.1 3423.4 L1527.4 3423.3 L1528.7 3423.2 L1529.3 3423.2 L1530.0 3423.2 L1531.2 3423.3 L1532.5 3423.4 L1533.8 3423.6 L1535.1 3423.9 L1536.4 3424.1 L1537.7 3424.5 L1538.9 3424.8 L1540.2 3425.2 L1541.5 3425.5 L1542.8 3425.9 L1544.1 3426.3 L1545.4 3426.7 L1545.4 3426.7 L1546.6 3427.1 L1547.9 3427.5 L1549.2 3428.0 L1550.5 3428.5 L1551.8 3429.1 L1553.1 3429.6 L1554.3 3430.2 L1555.6 3430.8 L1556.9 3431.4 L1558.2 3432.0 L1559.5 3432.6 L1560.8 3433.2 L1562.1 3433.7 L1563.3 3434.3 L1564.6 3434.8 L1564.6 3434.8 L1565.9 3435.2 L1567.2 3435.7 L1568.5 3436.2 L1569.8 3436.6 L1571.0 3437.1 L1572.3 3437.5 L1573.6 3438.0 L1574.9 3438.4 L1576.2 3438.8 L1577.5 3439.2 L1578.7 3439.6 L1580.0 3440.0 L1581.3 3440.4 L1582.6 3440.7 L1583.9 3441.0 L1585.2 3441.3 L1585.5 3441.4 L1586.4 3441.6 L1587.7 3441.8 L1589.0 3442.1 L1590.3 3442.3 L1591.6 3442.6 L1592.9 3442.8 L1594.2 3443.0 L1595.4 3443.3 L1596.7 3443.5 L1598.0 3443.7 L1599.3 3443.9 L1600.6 3444.1 L1601.9 3444.2 L1603.1 3444.4 L1604.4 3444.6 L1605.7 3444.7 L1607.0 3444.8 L1608.3 3444.9 L1609.6 3445.0 L1609.6 3445.0 L1610.8 3445.1 L1612.1 3445.2 L1613.4 3445.3 L1614.7 3445.4 L1616.0 3445.5 L1617.3 3445.6 L1618.5 3445.6 L1619.8 3445.7 L1621.1 3445.8 L1622.4 3445.8 L1623.7 3445.9 L1625.0 3446.0 L1626.3 3446.0 L1627.5 3446.1 L1628.8 3446.1 L1630.1 3446.2 L1631.4 3446.2 L1632.7 3446.3 L1634.0 3446.3 L1635.2 3446.4 L1636.5 3446.4 L1637.8 3446.5 L1638.4 3446.5 L1639.1 3446.5 L1640.4 3446.6 L1641.7 3446.6 L1642.9 3446.7 L1644.2 3446.7 L1645.5 3446.8 L1646.8 3446.8 L1648.1 3446.9 L1649.4 3446.9 L1650.6 3447.0 L1651.9 3447.0 L1653.2 3447.1 L1654.5 3447.1 L1655.8 3447.2 L1657.1 3447.2 L1658.4 3447.2 L1659.6 3447.3 L1660.9 3447.3 L1662.2 3447.4 L1663.5 3447.4 L1664.8 3447.5 L1666.1 3447.5 L1667.3 3447.5 L1668.6 3447.6 L1669.9 3447.6 L1671.2 3447.6 L1672.5 3447.7 L1673.8 3447.7 L1675.0 3447.7 L1676.3 3447.8 L1677.6 3447.8 L1678.9 3447.8 L1680.2 3447.9 L1681.5 3447.9 L1682.7 3447.9 L1684.0 3447.9 L1685.3 3448.0 L1686.6 3448.0 L1686.6 3448.0" class="sp"/>
<path d="M402.6 2906.7 L403.9 2914.5 L405.2 2922.1 L406.5 2929.7 L407.7 2937.2 L409.0 2944.6 L409.0 2944.6 L410.3 2952.0 L411.6 2959.4 L412.9 2966.7 L414.2 2974.0 L415.4 2981.1 L416.7 2987.9 L418.0 2994.5 L418.7 2997.7 L419.3 3000.8 L420.6 3006.8 L421.9 3012.8 L423.1 3018.6 L424.4 3024.3 L425.7 3029.9 L427.0 3035.4 L428.3 3040.7 L429.6 3046.0 L430.8 3051.1 L432.1 3056.1 L433.4 3061.0 L434.7 3065.9 L434.7 3065.9 L436.0 3070.6 L437.3 3075.3 L438.6 3079.9 L439.8 3084.5 L441.1 3089.0 L442.4 3093.3 L443.7 3097.6 L445.0 3101.8 L446.3 3105.8 L447.5 3109.7 L448.8 3113.5 L450.1 3117.2 L450.8 3118.9 L451.4 3120.6 L452.7 3123.9 L454.0 3127.1 L455.2 3130.1 L456.5 3133.0 L457.8 3135.9 L459.1 3138.7 L460.4 3141.7 L460.4 3141.7 L461.7 3144.7 L462.9 3147.8 L464.2 3151.0 L465.5 3154.1 L466.8 3157.2 L468.1 3160.2 L469.4 3163.1 L470.7 3165.7 L471.9 3168.1 L472.9 3169.7 L473.2 3170.2 L474.5 3172.2 L475.8 3174.1 L477.1 3175.9 L478.4 3177.7 L479.6 3179.4 L480.9 3181.0 L482.2 3182.5 L483.5 3184.0 L484.8 3185.3 L486.1 3186.5 L487.3 3187.6 L488.6 3188.6 L489.9 3189.4 L489.9 3189.4 L491.2 3190.2 L492.5 3190.9 L493.8 3191.6 L495.0 3192.3 L496.3 3192.8 L497.6 3193.1 L498.9 3193.2 L498.9 3193.2 L500.2 3193.2 L501.5 3193.2 L502.8 3193.2 L504.0 3193.2 L505.3 3193.2 L506.6 3193.2 L507.9 3193.2 L509.2 3193.2 L509.2 3193.2 L510.5 3193.1 L511.7 3192.8 L513.0 3192.3 L514.3 3191.7 L515.6 3190.9 L516.9 3190.0 L518.2 3189.1 L519.4 3188.1 L520.7 3187.0 L522.0 3185.9 L523.3 3184.8 L524.6 3183.7 L524.6 3183.7 L525.9 3182.6 L527.1 3181.2 L528.4 3179.7 L529.7 3178.1 L531.0 3176.4 L532.3 3174.7 L533.6 3173.0 L534.9 3171.3 L536.1 3169.7 L537.4 3168.2 L537.4 3168.2 L538.7 3166.7 L540.0 3165.3 L541.3 3163.8 L542.6 3162.3 L543.8 3160.9 L545.1 3159.5 L546.4 3158.1 L547.7 3156.8 L549.0 3155.5 L550.3 3154.4 L551.5 3153.3 L551.9 3153.0 L552.8 3152.3 L554.1 3151.3 L555.4 3150.3 L556.7 3149.3 L558.0 3148.3 L559.2 3147.4 L560.5 3146.6 L561.8 3145.9 L563.1 3145.2 L564.4 3144.6 L565.7 3144.1 L566.3 3143.9 L567.0 3143.8 L568.2 3143.5 L569.5 3143.2 L570.8 3143.0 L572.1 3142.8 L573.4 3142.6 L574.7 3142.5 L575.9 3142.3 L577.2 3142.1 L578.5 3141.8 L579.2 3141.7 L579.8 3141.5 L581.1 3141.2 L582.4 3140.8 L583.6 3140.4 L584.9 3140.0 L586.2 3139.6 L587.5 3139.1 L588.8 3138.6 L590.1 3138.0 L591.3 3137.4 L592.0 3137.1 L592.6 3136.7 L593.9 3135.6 L595.2 3134.9 L595.5 3134.8 L596.5 3135.8 L597.8 3139.3 L599.1 3143.5 L600.3 3146.5 L601.0 3147.0 L601.6 3146.9 L602.9 3146.7 L604.2 3146.3 L605.5 3145.8 L606.8 3145.2 L608.0 3144.5 L609.3 3143.8 L610.6 3143.1 L611.9 3142.6 L613.2 3142.1 L614.5 3141.8 L615.7 3141.7 L615.7 3141.7 L617.0 3141.7 L618.3 3142.0 L619.6 3142.3 L620.9 3142.8 L622.2 3143.4 L623.4 3144.1 L624.7 3144.8 L626.0 3145.6 L627.3 3146.5 L628.6 3147.3 L629.9 3148.2 L631.2 3149.1 L632.4 3149.9 L633.7 3150.8 L633.7 3150.8 L635.0 3151.6 L636.3 3152.4 L637.6 3153.2 L638.9 3154.1 L640.1 3155.0 L641.4 3156.0 L642.7 3157.0 L644.0 3158.0 L645.3 3159.0 L646.6 3160.1 L647.8 3161.2 L649.1 3162.4 L650.4 3163.6 L651.7 3164.8 L652.0 3165.2 L653.0 3166.2 L654.3 3168.0 L655.5 3169.9 L656.8 3171.9 L658.1 3173.7 L659.4 3175.3 L660.7 3176.3 L661.0 3176.5 L662.0 3177.0 L663.3 3177.6 L664.5 3178.2 L665.8 3178.7 L667.1 3179.0 L668.4 3179.3 L669.7 3179.5 L670.6 3179.6 L671.0 3179.6 L672.2 3179.5 L673.5 3179.3 L674.8 3179.1 L676.1 3178.8 L677.4 3178.5 L678.7 3178.2 L679.3 3178.0 L679.9 3177.9 L681.2 3177.6 L682.5 3177.2 L683.8 3176.8 L685.1 3176.4 L686.4 3175.9 L687.6 3175.3 L688.3 3175.0 L688.9 3174.6 L690.2 3173.7 L691.5 3172.6 L692.8 3171.2 L694.1 3169.7 L695.4 3168.0 L696.6 3166.1 L697.3 3165.2 L697.9 3164.1 L699.2 3161.5 L700.5 3158.4 L701.8 3155.0 L703.1 3151.3 L704.3 3147.4 L705.0 3145.5 L705.6 3143.4 L706.9 3139.1 L708.2 3134.5 L709.5 3129.5 L710.8 3124.4 L712.0 3119.2 L713.3 3114.0 L714.0 3111.3 L714.6 3108.7 L715.9 3103.4 L717.2 3097.9 L718.5 3092.3 L719.7 3086.6 L721.0 3080.8 L722.3 3074.9 L722.6 3073.5 L723.6 3068.7 L724.9 3061.9 L726.2 3054.8 L727.5 3047.7 L728.7 3041.0 L730.0 3035.1 L731.3 3030.2 L731.3 3030.2 L732.6 3026.6 L733.9 3023.6 L735.2 3021.1 L736.4 3018.7 L737.7 3016.2 L739.0 3013.3 L740.3 3009.7 L740.9 3007.5 L741.6 3004.9 L742.9 2998.3 L744.1 2990.2 L745.4 2980.9 L746.7 2971.1 L747.7 2963.6 L748.0 2961.0 L749.3 2949.9 L750.6 2937.6 L751.8 2924.6 L753.1 2911.7 L754.4 2899.1 L754.4 2899.1 L755.7 2887.7 L757.0 2877.1 L758.3 2866.9 L759.6 2856.6 L760.8 2845.7 L762.1 2833.5 L763.4 2819.7 L764.7 2803.6 L764.7 2803.6 L766.0 2782.3 L767.3 2755.0 L768.5 2725.1 L769.5 2702.8 L769.8 2695.5 L771.1 2664.8 L772.4 2633.0 L773.7 2602.0 L773.7 2602.0 L775.0 2572.3 L776.2 2543.1 L777.5 2514.9 L778.2 2501.2 L778.8 2488.0 L780.1 2462.3 L781.4 2437.3 L782.7 2412.8 L783.3 2400.4 L783.9 2388.0 L785.2 2363.0 L786.5 2338.5 L787.8 2315.6 L787.8 2315.6 L789.1 2290.0 L790.4 2267.1 L791.3 2260.2 L791.7 2261.1 L792.9 2277.7 L794.2 2303.8 L794.9 2315.6 L795.5 2325.9 L796.8 2346.8 L798.1 2368.1 L799.4 2389.6 L800.0 2400.4 L800.6 2411.3 L801.9 2432.9 L803.2 2454.8 L804.5 2477.5 L805.8 2501.2 L805.8 2501.2 L807.1 2526.8 L808.3 2554.0 L809.6 2581.6 L810.6 2602.0 L810.9 2608.8 L812.2 2635.9 L813.5 2663.0 L814.8 2689.7 L815.4 2702.8 L816.0 2715.8 L817.3 2741.2 L818.6 2766.3 L819.9 2791.2 L820.5 2803.6 L821.2 2816.1 L822.5 2841.3 L823.8 2866.3 L825.0 2890.8 L826.3 2914.3 L826.6 2920.0 L827.6 2936.7 L828.9 2958.4 L830.2 2979.3 L831.5 2999.4 L832.1 3009.0 L832.7 3018.6 L834.0 3038.0 L835.3 3057.1 L836.6 3075.5 L837.9 3092.5 L839.2 3107.6 L840.1 3117.4 L840.4 3120.4 L841.7 3131.4 L843.0 3141.3 L844.3 3150.4 L845.6 3158.8 L846.9 3166.9 L848.1 3174.7 L849.4 3182.7 L850.7 3191.1 L852.0 3200.0 L852.0 3200.0 L853.3 3209.9 L854.6 3220.2 L855.9 3230.2 L857.1 3239.0 L857.5 3240.9 L858.4 3246.3 L859.7 3253.0 L861.0 3259.1 L862.3 3264.9 L863.6 3270.3 L864.8 3275.5 L866.1 3280.6 L866.4 3281.9 L867.4 3285.6 L868.7 3290.6 L870.0 3295.4 L871.3 3300.0 L872.5 3304.5 L873.8 3308.9 L875.1 3313.1 L876.4 3317.1 L877.7 3320.9 L878.3 3322.8 L879.0 3324.6 L880.2 3328.2 L881.5 3331.6 L882.8 3334.9 L884.1 3338.1 L885.4 3341.1 L886.7 3344.0 L888.0 3346.8 L889.2 3349.5 L889.6 3350.1 L890.5 3351.9 L891.8 3354.3 L893.1 3356.5 L894.4 3358.7 L895.7 3360.7 L896.9 3362.7 L898.2 3364.7 L899.5 3366.6 L900.2 3367.5 L900.8 3368.5 L902.1 3370.4 L903.4 3372.3 L904.6 3374.1 L905.9 3375.9 L907.2 3377.5 L908.5 3379.0 L909.8 3380.4 L909.8 3380.4 L911.1 3381.6 L912.3 3382.8 L913.6 3383.9 L914.9 3385.0 L916.2 3386.0 L917.5 3386.9 L918.8 3387.9 L920.1 3388.8 L921.3 3389.6 L922.6 3390.5 L923.9 3391.3 L925.2 3392.1 L926.5 3393.0 L927.1 3393.4 L927.8 3393.8 L929.0 3394.6 L930.3 3395.4 L931.6 3396.2 L932.9 3396.9 L934.2 3397.7 L935.5 3398.4 L936.7 3399.1 L938.0 3399.8 L939.3 3400.4 L940.6 3401.0 L941.9 3401.6 L941.9 3401.6 L943.2 3402.2 L944.4 3402.8 L945.7 3403.3 L947.0 3403.8 L948.3 3404.3 L949.6 3404.8 L950.9 3405.3 L952.2 3405.7 L953.4 3406.2 L954.7 3406.6 L956.0 3406.9 L956.3 3407.0 L957.3 3407.3 L958.6 3407.6 L959.9 3408.0 L961.1 3408.3 L962.4 3408.6 L963.7 3408.9 L965.0 3409.2 L966.3 3409.4 L967.6 3409.7 L968.8 3409.9 L970.1 3410.2 L970.8 3410.3 L971.4 3410.4 L972.7 3410.6 L974.0 3410.8 L975.3 3411.0 L976.5 3411.1 L977.8 3411.3 L979.1 3411.5 L980.4 3411.6 L981.7 3411.8 L983.0 3412.0 L983.9 3412.1 L984.3 3412.1 L985.5 3412.3 L986.8 3412.5 L988.1 3412.7 L989.4 3412.9 L990.7 3413.1 L992.0 3413.3 L993.2 3413.5 L994.5 3413.7 L995.8 3413.9 L997.1 3414.0 L998.4 3414.1 L999.7 3414.2 L1000.0 3414.2 L1000.9 3414.3 L1002.2 3414.3 L1003.5 3414.4 L1004.8 3414.4 L1006.1 3414.5 L1007.4 3414.5 L1008.6 3414.6 L1009.9 3414.6 L1011.2 3414.6 L1012.5 3414.7 L1013.8 3414.7 L1015.1 3414.8 L1016.4 3414.8 L1017.6 3414.8 L1018.9 3414.8 L1020.2 3414.9 L1021.5 3414.9 L1022.8 3414.9 L1024.1 3414.9 L1025.3 3414.9 L1026.6 3414.9 L1027.9 3414.9 L1029.2 3415.0 L1030.5 3415.0 L1031.4 3415.0 L1031.8 3415.0 L1033.0 3414.9 L1034.3 3414.8 L1035.6 3414.7 L1036.9 3414.5 L1038.2 3414.3 L1039.5 3414.1 L1040.7 3413.8 L1042.0 3413.5 L1043.3 3413.2 L1044.6 3412.9 L1045.9 3412.6 L1047.2 3412.2 L1047.8 3412.1 L1048.5 3411.9 L1049.7 3411.5 L1051.0 3411.0 L1052.3 3410.5 L1053.6 3409.9 L1054.9 3409.3 L1056.2 3408.7 L1057.4 3408.0 L1058.7 3407.3 L1060.0 3406.5 L1061.3 3405.8 L1062.6 3405.1 L1063.9 3404.3 L1064.2 3404.2 L1065.1 3403.6 L1066.4 3402.8 L1067.7 3401.9 L1069.0 3400.9 L1070.3 3400.0 L1071.6 3399.0 L1072.8 3397.9 L1074.1 3396.9 L1075.4 3395.9 L1076.7 3395.0 L1078.0 3394.1 L1079.3 3393.2 L1080.6 3392.5 L1081.8 3391.8 L1083.1 3391.2 L1083.1 3391.2 L1084.4 3390.7 L1085.7 3390.1 L1087.0 3389.6 L1088.3 3389.1 L1089.5 3388.6 L1090.8 3388.1 L1092.1 3387.6 L1093.4 3387.2 L1094.7 3386.8 L1096.0 3386.4 L1097.2 3386.1 L1098.5 3385.9 L1099.8 3385.7 L1101.1 3385.5 L1102.4 3385.4 L1103.0 3385.4 L1103.7 3385.5 L1104.9 3385.6 L1106.2 3385.8 L1107.5 3386.2 L1108.8 3386.6 L1110.1 3387.1 L1111.4 3387.7 L1112.7 3388.3 L1113.9 3388.9 L1115.2 3389.6 L1116.5 3390.2 L1117.8 3390.9 L1118.4 3391.2 L1119.1 3391.5 L1120.4 3392.2 L1121.6 3393.0 L1122.9 3393.9 L1124.2 3394.8 L1125.5 3395.7 L1126.8 3396.7 L1128.1 3397.7 L1129.3 3398.7 L1130.6 3399.6 L1131.9 3400.6 L1133.2 3401.5 L1133.8 3402.0 L1134.5 3402.5 L1135.8 3403.4 L1137.0 3404.3 L1138.3 3405.3 L1139.6 3406.3 L1140.9 3407.3 L1142.2 3408.3 L1143.5 3409.2 L1144.8 3410.1 L1146.0 3411.0 L1147.3 3411.8 L1148.6 3412.6 L1149.9 3413.2 L1150.5 3413.5 L1151.2 3413.8 L1152.5 3414.4 L1153.7 3415.0 L1155.0 3415.6 L1156.3 3416.2 L1157.6 3416.7 L1158.9 3417.3 L1160.2 3417.8 L1161.4 3418.2 L1162.7 3418.6 L1164.0 3418.9 L1165.3 3419.2 L1166.6 3419.4 L1167.9 3419.5 L1168.5 3419.5 L1169.1 3419.5 L1170.4 3419.4 L1171.7 3419.3 L1173.0 3419.0 L1174.3 3418.8 L1175.6 3418.4 L1176.9 3418.1 L1178.1 3417.7 L1179.4 3417.2 L1180.7 3416.8 L1182.0 3416.3 L1183.3 3415.9 L1184.6 3415.4 L1185.8 3415.0 L1185.8 3415.0 L1187.1 3414.5 L1188.4 3413.9 L1189.7 3413.2 L1191.0 3412.5 L1192.3 3411.8 L1193.5 3411.0 L1194.8 3410.2 L1196.1 3409.4 L1197.4 3408.6 L1198.7 3407.9 L1200.0 3407.2 L1201.2 3406.5 L1202.5 3405.9 L1203.8 3405.3 L1205.1 3404.9 L1205.1 3404.9 L1206.4 3404.5 L1207.7 3404.1 L1209.0 3403.7 L1210.2 3403.3 L1211.5 3402.9 L1212.8 3402.5 L1214.1 3402.2 L1215.4 3401.9 L1216.7 3401.6 L1217.9 3401.3 L1219.2 3401.1 L1220.5 3400.9 L1221.8 3400.8 L1223.1 3400.7 L1224.0 3400.7 L1224.4 3400.7 L1225.6 3400.8 L1226.9 3400.9 L1228.2 3401.1 L1229.5 3401.4 L1230.8 3401.8 L1232.1 3402.1 L1233.3 3402.6 L1234.6 3403.0 L1235.9 3403.5 L1237.2 3404.0 L1238.5 3404.5 L1239.8 3405.0 L1241.1 3405.4 L1242.3 3405.9 L1243.6 3406.3 L1243.6 3406.3 L1244.9 3406.7 L1246.2 3407.2 L1247.5 3407.6 L1248.8 3408.0 L1250.0 3408.5 L1251.3 3409.0 L1252.6 3409.4 L1253.9 3409.9 L1255.2 3410.4 L1256.5 3410.9 L1257.7 3411.3 L1259.0 3411.8 L1260.3 3412.3 L1261.6 3412.8 L1262.9 3413.3 L1264.2 3413.8 L1265.4 3414.3 L1266.7 3414.8 L1268.0 3415.3 L1269.0 3415.7 L1269.3 3415.8 L1270.6 3416.3 L1271.9 3416.9 L1273.2 3417.5 L1274.4 3418.2 L1275.7 3418.8 L1277.0 3419.5 L1278.3 3420.2 L1279.6 3420.9 L1280.9 3421.6 L1282.1 3422.2 L1283.4 3422.9 L1284.7 3423.5 L1286.0 3424.1 L1287.3 3424.7 L1288.6 3425.2 L1289.8 3425.7 L1291.1 3426.1 L1292.4 3426.5 L1293.7 3426.8 L1295.0 3427.0 L1296.3 3427.2 L1297.5 3427.2 L1297.5 3427.2 L1298.8 3427.2 L1300.1 3427.1 L1301.4 3427.1 L1302.7 3427.0 L1304.0 3426.8 L1305.3 3426.7 L1306.5 3426.5 L1307.8 3426.4 L1309.1 3426.2 L1310.4 3426.0 L1311.7 3425.8 L1313.0 3425.6 L1314.2 3425.4 L1315.5 3425.3 L1316.8 3425.1 L1317.5 3425.0 L1318.1 3425.0 L1319.4 3424.8 L1320.7 3424.6 L1321.9 3424.4 L1323.2 3424.2 L1324.5 3424.1 L1325.8 3423.9 L1327.1 3423.7 L1328.4 3423.5 L1329.6 3423.3 L1330.9 3423.2 L1332.2 3423.1 L1333.5 3423.0 L1334.8 3422.9 L1336.1 3422.9 L1336.4 3422.9 L1337.4 3422.9 L1338.6 3423.0 L1339.9 3423.1 L1341.2 3423.3 L1342.5 3423.5 L1343.8 3423.7 L1345.1 3424.0 L1346.3 3424.3 L1347.6 3424.6 L1348.9 3424.9 L1350.2 3425.2 L1351.5 3425.5 L1352.8 3425.8 L1352.8 3425.8 L1354.0 3426.1 L1355.3 3426.4 L1356.6 3426.7 L1357.9 3427.1 L1359.2 3427.4 L1360.5 3427.8 L1361.7 3428.2 L1363.0 3428.6 L1364.3 3429.0 L1365.6 3429.4 L1366.9 3429.8 L1368.2 3430.2 L1369.5 3430.6 L1370.7 3431.0 L1371.1 3431.1 L1372.0 3431.4 L1373.3 3431.8 L1374.6 3432.2 L1375.9 3432.6 L1377.2 3433.0 L1378.4 3433.4 L1379.7 3433.8 L1381.0 3434.2 L1382.3 3434.6 L1383.6 3435.0 L1384.9 3435.4 L1386.1 3435.8 L1387.4 3436.2 L1388.7 3436.6 L1390.0 3436.9 L1391.3 3437.2 L1392.6 3437.6 L1393.8 3437.9 L1394.5 3438.0 L1395.1 3438.1 L1396.4 3438.4 L1397.7 3438.7 L1399.0 3439.0 L1400.3 3439.3 L1401.6 3439.6 L1402.8 3439.9 L1404.1 3440.2 L1405.4 3440.5 L1406.7 3440.7 L1408.0 3441.0 L1409.3 3441.2 L1410.5 3441.4 L1411.8 3441.6 L1413.1 3441.8 L1414.4 3442.0 L1415.7 3442.1 L1417.0 3442.2 L1418.2 3442.3 L1419.5 3442.3 L1420.2 3442.3 L1420.8 3442.3 L1422.1 3442.3 L1423.4 3442.3 L1424.7 3442.3 L1425.9 3442.3 L1427.2 3442.3 L1428.5 3442.3 L1429.8 3442.3 L1431.1 3442.3 L1432.4 3442.3 L1433.7 3442.3 L1434.9 3442.3 L1436.2 3442.3 L1437.5 3442.3 L1438.8 3442.3 L1440.1 3442.3 L1441.4 3442.3 L1442.6 3442.3 L1442.6 3442.3 L1443.9 3442.3 L1445.2 3442.3 L1446.5 3442.2 L1447.8 3442.1 L1449.1 3442.0 L1450.3 3441.9 L1451.6 3441.8 L1452.9 3441.7 L1454.2 3441.5 L1455.5 3441.4 L1456.8 3441.2 L1458.0 3441.0 L1459.3 3440.8 L1460.6 3440.6 L1461.9 3440.4 L1463.2 3440.2 L1464.5 3440.0 L1465.8 3439.8 L1467.0 3439.6 L1468.0 3439.4 L1468.3 3439.4 L1469.6 3439.2 L1470.9 3438.9 L1472.2 3438.7 L1473.5 3438.4 L1474.7 3438.2 L1476.0 3437.9 L1477.3 3437.6 L1478.6 3437.2 L1479.9 3436.9 L1481.2 3436.6 L1482.4 3436.2 L1483.7 3435.9 L1485.0 3435.5 L1486.3 3435.2 L1487.6 3434.8 L1488.9 3434.4 L1490.1 3434.1 L1491.4 3433.7 L1492.7 3433.3 L1494.0 3433.0 L1494.0 3433.0 L1495.3 3432.6 L1496.6 3432.2 L1497.9 3431.7 L1499.1 3431.2 L1500.4 3430.8 L1501.7 3430.3 L1503.0 3429.8 L1504.3 3429.3 L1505.6 3428.8 L1506.8 3428.4 L1508.1 3427.9 L1509.4 3427.5 L1510.7 3427.1 L1512.0 3426.8 L1513.3 3426.5 L1513.3 3426.5 L1514.5 3426.2 L1515.8 3425.9 L1517.1 3425.6 L1518.4 3425.3 L1519.7 3425.0 L1521.0 3424.8 L1522.2 3424.5 L1523.5 3424.3 L1524.8 3424.1 L1526.1 3424.0 L1527.4 3423.9 L1528.7 3423.8 L1529.3 3423.8 L1530.0 3423.8 L1531.2 3423.9 L1532.5 3424.0 L1533.8 3424.2 L1535.1 3424.4 L1536.4 3424.7 L1537.7 3425.0 L1538.9 3425.4 L1540.2 3425.7 L1541.5 3426.1 L1542.8 3426.5 L1544.1 3426.8 L1545.4 3427.2 L1545.4 3427.2 L1546.6 3427.6 L1547.9 3428.0 L1549.2 3428.5 L1550.5 3429.0 L1551.8 3429.5 L1553.1 3430.1 L1554.3 3430.7 L1555.6 3431.3 L1556.9 3431.9 L1558.2 3432.4 L1559.5 3433.0 L1560.8 3433.6 L1562.1 3434.1 L1563.3 3434.6 L1564.6 3435.1 L1564.6 3435.1 L1565.9 3435.6 L1567.2 3436.0 L1568.5 3436.5 L1569.8 3436.9 L1571.0 3437.4 L1572.3 3437.8 L1573.6 3438.3 L1574.9 3438.7 L1576.2 3439.1 L1577.5 3439.5 L1578.7 3439.9 L1580.0 3440.3 L1581.3 3440.6 L1582.6 3440.9 L1583.9 3441.3 L1585.2 3441.5 L1585.5 3441.6 L1586.4 3441.8 L1587.7 3442.0 L1589.0 3442.3 L1590.3 3442.5 L1591.6 3442.8 L1592.9 3443.0 L1594.2 3443.2 L1595.4 3443.5 L1596.7 3443.7 L1598.0 3443.9 L1599.3 3444.0 L1600.6 3444.2 L1601.9 3444.4 L1603.1 3444.6 L1604.4 3444.7 L1605.7 3444.9 L1607.0 3445.0 L1608.3 3445.1 L1609.6 3445.2 L1609.6 3445.2 L1610.8 3445.3 L1612.1 3445.4 L1613.4 3445.5 L1614.7 3445.6 L1616.0 3445.6 L1617.3 3445.7 L1618.5 3445.8 L1619.8 3445.9 L1621.1 3445.9 L1622.4 3446.0 L1623.7 3446.0 L1625.0 3446.1 L1626.3 3446.2 L1627.5 3446.2 L1628.8 3446.3 L1630.1 3446.3 L1631.4 3446.4 L1632.7 3446.4 L1634.0 3446.5 L1635.2 3446.5 L1636.5 3446.6 L1637.8 3446.6 L1638.4 3446.6 L1639.1 3446.7 L1640.4 3446.7 L1641.7 3446.8 L1642.9 3446.8 L1644.2 3446.9 L1645.5 3446.9 L1646.8 3447.0 L1648.1 3447.0 L1649.4 3447.0 L1650.6 3447.1 L1651.9 3447.1 L1653.2 3447.2 L1654.5 3447.2 L1655.8 3447.3 L1657.1 3447.3 L1658.4 3447.4 L1659.6 3447.4 L1660.9 3447.4 L1662.2 3447.5 L1663.5 3447.5 L1664.8 3447.6 L1666.1 3447.6 L1667.3 3447.6 L1668.6 3447.7 L1669.9 3447.7 L1671.2 3447.7 L1672.5 3447.8 L1673.8 3447.8 L1675.0 3447.8 L1676.3 3447.9 L1677.6 3447.9 L1678.9 3447.9 L1680.2 3448.0 L1681.5 3448.0 L1682.7 3448.0 L1684.0 3448.0 L1685.3 3448.1 L1686.6 3448.1 L1686.6 3448.1" class="sp"/>
<path d="M402.6 2937.0 L403.9 2943.8 L405.2 2950.8 L406.5 2957.9 L407.7 2965.3 L409.0 2972.7 L410.3 2980.3 L411.6 2988.1 L412.9 2995.9 L413.5 2999.9 L414.2 3004.0 L415.4 3012.8 L416.7 3022.0 L418.0 3031.3 L419.3 3040.5 L420.6 3049.2 L421.9 3057.0 L422.5 3060.6 L423.1 3063.9 L424.4 3070.3 L425.7 3076.3 L427.0 3082.0 L428.3 3087.4 L429.6 3092.7 L430.8 3097.8 L432.1 3102.7 L433.4 3107.6 L434.7 3112.5 L436.0 3117.5 L436.9 3121.2 L437.3 3122.5 L438.6 3127.7 L439.8 3133.0 L441.1 3138.4 L442.4 3143.7 L443.7 3148.9 L445.0 3153.9 L446.3 3158.5 L447.5 3162.8 L448.8 3166.5 L450.1 3169.7 L450.1 3169.7 L451.4 3172.4 L452.7 3175.0 L454.0 3177.3 L455.2 3179.5 L456.5 3181.5 L457.8 3183.4 L459.1 3185.2 L460.4 3186.9 L461.7 3188.6 L462.9 3190.1 L463.6 3190.9 L464.2 3191.7 L465.5 3193.1 L466.8 3194.5 L468.1 3195.8 L469.4 3197.0 L470.7 3198.2 L471.9 3199.4 L473.2 3200.6 L474.5 3201.7 L475.8 3202.9 L476.8 3203.8 L477.1 3204.1 L478.4 3205.4 L479.6 3206.6 L480.9 3207.9 L482.2 3209.2 L483.5 3210.4 L484.8 3211.6 L486.1 3212.8 L487.3 3213.8 L488.6 3214.7 L489.3 3215.2 L489.9 3215.6 L491.2 3216.4 L492.5 3217.2 L493.8 3218.1 L495.0 3218.8 L496.3 3219.5 L497.6 3220.2 L498.9 3220.8 L500.2 3221.3 L501.5 3221.7 L502.8 3221.9 L503.1 3222.0 L504.0 3222.1 L505.3 3222.3 L506.6 3222.4 L507.9 3222.6 L509.2 3222.7 L510.5 3222.7 L511.7 3222.8 L511.7 3222.8 L513.0 3222.7 L514.3 3222.6 L515.6 3222.4 L516.9 3222.2 L518.2 3221.9 L519.4 3221.6 L520.7 3221.2 L522.0 3220.9 L523.3 3220.5 L524.6 3220.1 L524.6 3220.1 L525.9 3219.7 L527.1 3219.1 L528.4 3218.5 L529.7 3217.8 L531.0 3217.0 L532.3 3216.3 L533.6 3215.5 L534.9 3214.8 L536.1 3214.2 L537.4 3213.7 L537.4 3213.7 L538.7 3213.2 L540.0 3212.7 L541.3 3212.3 L542.6 3212.0 L543.8 3211.6 L545.1 3211.2 L546.4 3210.9 L547.7 3210.5 L549.0 3210.1 L550.3 3209.7 L551.5 3209.2 L551.9 3209.1 L552.8 3208.7 L554.1 3208.1 L555.4 3207.5 L556.7 3206.8 L558.0 3206.1 L559.2 3205.4 L560.5 3204.7 L561.8 3204.0 L563.1 3203.4 L564.4 3202.9 L565.7 3202.5 L566.3 3202.3 L567.0 3202.1 L568.2 3201.9 L569.5 3201.6 L570.8 3201.4 L572.1 3201.2 L573.4 3201.1 L574.7 3200.9 L575.9 3200.7 L577.2 3200.4 L578.5 3200.2 L579.2 3200.0 L579.8 3199.9 L581.1 3199.5 L582.4 3199.0 L583.6 3198.5 L584.9 3198.0 L586.2 3197.5 L587.5 3196.9 L588.8 3196.3 L590.1 3195.6 L591.3 3195.0 L592.0 3194.7 L592.6 3194.3 L593.9 3193.4 L595.2 3192.9 L595.5 3192.8 L596.5 3193.7 L597.8 3196.9 L599.1 3200.7 L600.3 3203.4 L601.0 3203.8 L601.6 3203.8 L602.9 3203.8 L604.2 3203.8 L605.5 3203.8 L606.8 3203.8 L608.0 3203.8 L609.3 3203.8 L610.6 3203.8 L611.9 3203.8 L613.2 3203.8 L614.5 3203.8 L615.7 3203.8 L615.7 3203.8 L617.0 3203.9 L618.3 3204.0 L619.6 3204.2 L620.9 3204.6 L622.2 3204.9 L623.4 3205.3 L624.7 3205.8 L626.0 3206.3 L627.3 3206.8 L628.6 3207.3 L629.9 3207.8 L631.2 3208.3 L632.4 3208.7 L633.7 3209.1 L633.7 3209.1 L635.0 3209.5 L636.3 3209.9 L637.6 3210.3 L638.9 3210.7 L640.1 3211.0 L641.4 3211.4 L642.7 3211.8 L644.0 3212.2 L645.3 3212.5 L646.6 3212.9 L646.6 3212.9 L647.8 3213.3 L649.1 3213.6 L650.4 3214.0 L651.7 3214.4 L653.0 3214.7 L654.3 3215.1 L655.5 3215.4 L656.8 3215.8 L658.1 3216.1 L659.4 3216.4 L660.7 3216.6 L661.0 3216.7 L662.0 3216.9 L663.3 3217.2 L664.5 3217.4 L665.8 3217.7 L667.1 3217.9 L668.4 3218.1 L669.7 3218.2 L670.6 3218.2 L671.0 3218.2 L672.2 3218.2 L673.5 3218.2 L674.8 3218.2 L676.1 3218.2 L677.4 3218.2 L678.7 3218.2 L679.3 3218.2 L679.9 3218.1 L681.2 3217.4 L682.5 3216.1 L683.8 3214.4 L685.1 3212.4 L686.4 3210.4 L686.7 3209.9 L687.6 3208.2 L688.9 3205.6 L690.2 3202.6 L691.5 3199.2 L692.8 3195.6 L693.1 3194.7 L694.1 3191.7 L695.4 3187.3 L696.6 3182.4 L697.9 3177.2 L699.2 3172.0 L700.5 3166.9 L701.1 3164.4 L701.8 3162.0 L703.1 3157.1 L704.3 3152.2 L705.6 3147.3 L706.9 3142.4 L708.2 3137.6 L709.2 3134.1 L709.5 3132.9 L710.8 3128.5 L712.0 3124.2 L713.3 3119.8 L714.6 3115.1 L715.6 3111.3 L715.9 3110.0 L717.2 3104.3 L718.5 3098.2 L719.7 3091.8 L721.0 3085.1 L722.3 3078.4 L723.3 3073.5 L723.6 3071.8 L724.9 3064.5 L726.2 3056.8 L727.5 3049.1 L728.7 3041.8 L730.0 3035.3 L731.3 3030.2 L731.3 3030.2 L732.6 3026.5 L733.9 3023.5 L735.2 3020.9 L736.4 3018.6 L737.7 3016.1 L739.0 3013.2 L740.3 3009.7 L740.9 3007.5 L741.6 3004.9 L742.9 2998.3 L744.1 2990.2 L745.4 2980.9 L746.7 2971.1 L747.7 2963.6 L748.0 2961.0 L749.3 2949.9 L750.6 2937.6 L751.8 2924.6 L753.1 2911.7 L754.4 2899.1 L754.4 2899.1 L755.7 2887.7 L757.0 2877.1 L758.3 2866.9 L759.6 2856.6 L760.8 2845.7 L762.1 2833.5 L763.4 2819.7 L764.7 2803.6 L764.7 2803.6 L766.0 2782.3 L767.3 2755.0 L768.5 2725.1 L769.5 2702.8 L769.8 2695.5 L771.1 2664.8 L772.4 2633.0 L773.7 2602.0 L773.7 2602.0 L775.0 2572.3 L776.2 2543.1 L777.5 2514.9 L778.2 2501.2 L778.8 2488.0 L780.1 2462.3 L781.4 2437.3 L782.7 2412.8 L783.3 2400.4 L783.9 2388.0 L785.2 2363.0 L786.5 2338.5 L787.8 2315.6 L787.8 2315.6 L789.1 2290.0 L790.4 2267.1 L791.3 2260.2 L791.7 2261.1 L792.9 2277.7 L794.2 2303.8 L794.9 2315.6 L795.5 2325.9 L796.8 2346.8 L798.1 2368.1 L799.4 2389.6 L800.0 2400.4 L800.6 2411.3 L801.9 2432.9 L803.2 2454.8 L804.5 2477.5 L805.8 2501.2 L805.8 2501.2 L807.1 2526.8 L808.3 2554.0 L809.6 2581.6 L810.6 2602.0 L810.9 2608.8 L812.2 2635.9 L813.5 2663.0 L814.8 2689.7 L815.4 2702.8 L816.0 2715.8 L817.3 2741.2 L818.6 2766.3 L819.9 2791.2 L820.5 2803.6 L821.2 2816.1 L822.5 2841.3 L823.8 2866.3 L825.0 2890.8 L826.3 2914.3 L826.6 2920.0 L827.6 2936.7 L828.9 2958.4 L830.2 2979.3 L831.5 2999.4 L832.1 3009.0 L832.7 3018.6 L834.0 3038.0 L835.3 3057.1 L836.6 3075.5 L837.9 3092.5 L839.2 3107.6 L840.1 3117.4 L840.4 3120.4 L841.7 3131.4 L843.0 3141.3 L844.3 3150.4 L845.6 3158.8 L846.9 3166.9 L848.1 3174.7 L849.4 3182.7 L850.7 3191.1 L852.0 3200.0 L852.0 3200.0 L853.3 3209.9 L854.6 3220.2 L855.9 3230.2 L857.1 3239.0 L857.5 3240.9 L858.4 3246.3 L859.7 3253.0 L861.0 3259.1 L862.3 3264.9 L863.6 3270.3 L864.8 3275.5 L866.1 3280.6 L866.4 3281.9 L867.4 3285.6 L868.7 3290.6 L870.0 3295.4 L871.3 3300.0 L872.5 3304.5 L873.8 3308.9 L875.1 3313.1 L876.4 3317.1 L877.7 3320.9 L878.3 3322.8 L879.0 3324.6 L880.2 3328.2 L881.5 3331.6 L882.8 3334.9 L884.1 3338.1 L885.4 3341.1 L886.7 3344.0 L888.0 3346.8 L889.2 3349.5 L889.6 3350.1 L890.5 3351.9 L891.8 3354.2 L893.1 3356.4 L894.4 3358.6 L895.7 3360.6 L896.9 3362.6 L898.2 3364.5 L899.5 3366.5 L900.2 3367.5 L900.8 3368.5 L902.1 3370.6 L903.4 3372.8 L904.6 3374.9 L905.9 3376.9 L907.2 3378.8 L908.5 3380.5 L909.8 3381.9 L909.8 3381.9 L911.1 3383.2 L912.3 3384.4 L913.6 3385.5 L914.9 3386.5 L916.2 3387.5 L917.5 3388.4 L918.8 3389.3 L920.1 3390.2 L921.3 3391.0 L922.6 3391.8 L923.9 3392.6 L925.2 3393.4 L926.5 3394.2 L927.1 3394.6 L927.8 3395.0 L929.0 3395.8 L930.3 3396.6 L931.6 3397.3 L932.9 3398.1 L934.2 3398.8 L935.5 3399.5 L936.7 3400.2 L938.0 3400.9 L939.3 3401.5 L940.6 3402.1 L941.9 3402.7 L941.9 3402.7 L943.2 3403.3 L944.4 3403.8 L945.7 3404.3 L947.0 3404.9 L948.3 3405.3 L949.6 3405.8 L950.9 3406.3 L952.2 3406.7 L953.4 3407.1 L954.7 3407.5 L956.0 3407.9 L956.3 3408.0 L957.3 3408.3 L958.6 3408.6 L959.9 3408.9 L961.1 3409.2 L962.4 3409.5 L963.7 3409.8 L965.0 3410.1 L966.3 3410.3 L967.6 3410.6 L968.8 3410.8 L970.1 3411.1 L970.8 3411.2 L971.4 3411.3 L972.7 3411.5 L974.0 3411.7 L975.3 3411.8 L976.5 3412.0 L977.8 3412.2 L979.1 3412.3 L980.4 3412.5 L981.7 3412.6 L983.0 3412.8 L983.9 3412.9 L984.3 3413.0 L985.5 3413.2 L986.8 3413.3 L988.1 3413.6 L989.4 3413.8 L990.7 3414.0 L992.0 3414.2 L993.2 3414.4 L994.5 3414.5 L995.8 3414.7 L997.1 3414.8 L998.4 3414.9 L999.7 3415.0 L1000.0 3415.0 L1000.9 3415.1 L1002.2 3415.1 L1003.5 3415.2 L1004.8 3415.2 L1006.1 3415.3 L1007.4 3415.3 L1008.6 3415.4 L1009.9 3415.4 L1011.2 3415.4 L1012.5 3415.5 L1013.8 3415.5 L1015.1 3415.5 L1016.4 3415.6 L1017.6 3415.6 L1018.9 3415.6 L1020.2 3415.6 L1021.5 3415.7 L1022.8 3415.7 L1024.1 3415.7 L1025.3 3415.7 L1026.6 3415.7 L1027.9 3415.7 L1029.2 3415.7 L1030.5 3415.7 L1031.4 3415.7 L1031.8 3415.7 L1033.0 3415.7 L1034.3 3415.6 L1035.6 3415.5 L1036.9 3415.3 L1038.2 3415.1 L1039.5 3414.9 L1040.7 3414.6 L1042.0 3414.3 L1043.3 3414.0 L1044.6 3413.7 L1045.9 3413.4 L1047.2 3413.1 L1047.8 3412.9 L1048.5 3412.8 L1049.7 3412.4 L1051.0 3411.9 L1052.3 3411.4 L1053.6 3410.8 L1054.9 3410.2 L1056.2 3409.6 L1057.4 3408.9 L1058.7 3408.2 L1060.0 3407.5 L1061.3 3406.8 L1062.6 3406.1 L1063.9 3405.4 L1064.2 3405.2 L1065.1 3404.6 L1066.4 3403.8 L1067.7 3402.9 L1069.0 3402.0 L1070.3 3401.1 L1071.6 3400.1 L1072.8 3399.1 L1074.1 3398.1 L1075.4 3397.1 L1076.7 3396.2 L1078.0 3395.3 L1079.3 3394.5 L1080.6 3393.7 L1081.8 3393.1 L1083.1 3392.5 L1083.1 3392.5 L1084.4 3392.0 L1085.7 3391.5 L1087.0 3390.9 L1088.3 3390.4 L1089.5 3389.9 L1090.8 3389.5 L1092.1 3389.0 L1093.4 3388.6 L1094.7 3388.2 L1096.0 3387.8 L1097.2 3387.5 L1098.5 3387.3 L1099.8 3387.1 L1101.1 3386.9 L1102.4 3386.9 L1103.0 3386.8 L1103.7 3386.9 L1104.9 3387.0 L1106.2 3387.2 L1107.5 3387.6 L1108.8 3388.0 L1110.1 3388.5 L1111.4 3389.0 L1112.7 3389.6 L1113.9 3390.3 L1115.2 3390.9 L1116.5 3391.5 L1117.8 3392.2 L1118.4 3392.5 L1119.1 3392.8 L1120.4 3393.5 L1121.6 3394.3 L1122.9 3395.1 L1124.2 3396.0 L1125.5 3396.9 L1126.8 3397.9 L1128.1 3398.8 L1129.3 3399.8 L1130.6 3400.8 L1131.9 3401.7 L1133.2 3402.6 L1133.8 3403.1 L1134.5 3403.5 L1135.8 3404.4 L1137.0 3405.4 L1138.3 3406.3 L1139.6 3407.3 L1140.9 3408.2 L1142.2 3409.2 L1143.5 3410.1 L1144.8 3411.0 L1146.0 3411.9 L1147.3 3412.7 L1148.6 3413.4 L1149.9 3414.0 L1150.5 3414.3 L1151.2 3414.6 L1152.5 3415.2 L1153.7 3415.8 L1155.0 3416.4 L1156.3 3416.9 L1157.6 3417.5 L1158.9 3418.0 L1160.2 3418.5 L1161.4 3418.9 L1162.7 3419.3 L1164.0 3419.6 L1165.3 3419.9 L1166.6 3420.1 L1167.9 3420.2 L1168.5 3420.2 L1169.1 3420.2 L1170.4 3420.1 L1171.7 3420.0 L1173.0 3419.7 L1174.3 3419.5 L1175.6 3419.2 L1176.9 3418.8 L1178.1 3418.4 L1179.4 3418.0 L1180.7 3417.6 L1182.0 3417.1 L1183.3 3416.6 L1184.6 3416.2 L1185.8 3415.7 L1185.8 3415.7 L1187.1 3415.3 L1188.4 3414.7 L1189.7 3414.1 L1191.0 3413.4 L1192.3 3412.7 L1193.5 3411.9 L1194.8 3411.1 L1196.1 3410.3 L1197.4 3409.6 L1198.7 3408.8 L1200.0 3408.1 L1201.2 3407.4 L1202.5 3406.8 L1203.8 3406.3 L1205.1 3405.9 L1205.1 3405.9 L1206.4 3405.5 L1207.7 3405.1 L1209.0 3404.7 L1210.2 3404.3 L1211.5 3403.9 L1212.8 3403.6 L1214.1 3403.2 L1215.4 3402.9 L1216.7 3402.6 L1217.9 3402.4 L1219.2 3402.2 L1220.5 3402.0 L1221.8 3401.9 L1223.1 3401.8 L1224.0 3401.8 L1224.4 3401.8 L1225.6 3401.9 L1226.9 3402.0 L1228.2 3402.2 L1229.5 3402.5 L1230.8 3402.8 L1232.1 3403.2 L1233.3 3403.6 L1234.6 3404.1 L1235.9 3404.5 L1237.2 3405.0 L1238.5 3405.5 L1239.8 3406.0 L1241.1 3406.4 L1242.3 3406.9 L1243.6 3407.3 L1243.6 3407.3 L1244.9 3407.7 L1246.2 3408.1 L1247.5 3408.5 L1248.8 3409.0 L1250.0 3409.4 L1251.3 3409.9 L1252.6 3410.3 L1253.9 3410.8 L1255.2 3411.3 L1256.5 3411.7 L1257.7 3412.2 L1259.0 3412.7 L1260.3 3413.2 L1261.6 3413.7 L1262.9 3414.1 L1264.2 3414.6 L1265.4 3415.1 L1266.7 3415.6 L1268.0 3416.1 L1269.0 3416.5 L1269.3 3416.6 L1270.6 3417.1 L1271.9 3417.7 L1273.2 3418.3 L1274.4 3418.9 L1275.7 3419.5 L1277.0 3420.2 L1278.3 3420.9 L1279.6 3421.5 L1280.9 3422.2 L1282.1 3422.9 L1283.4 3423.5 L1284.7 3424.1 L1286.0 3424.7 L1287.3 3425.3 L1288.6 3425.8 L1289.8 3426.3 L1291.1 3426.7 L1292.4 3427.1 L1293.7 3427.3 L1295.0 3427.6 L1296.3 3427.7 L1297.5 3427.7 L1297.5 3427.7 L1298.8 3427.7 L1300.1 3427.7 L1301.4 3427.6 L1302.7 3427.5 L1304.0 3427.4 L1305.3 3427.2 L1306.5 3427.1 L1307.8 3426.9 L1309.1 3426.7 L1310.4 3426.5 L1311.7 3426.4 L1313.0 3426.2 L1314.2 3426.0 L1315.5 3425.8 L1316.8 3425.7 L1317.5 3425.6 L1318.1 3425.5 L1319.4 3425.4 L1320.7 3425.2 L1321.9 3425.0 L1323.2 3424.8 L1324.5 3424.7 L1325.8 3424.5 L1327.1 3424.3 L1328.4 3424.1 L1329.6 3423.9 L1330.9 3423.8 L1332.2 3423.7 L1333.5 3423.6 L1334.8 3423.5 L1336.1 3423.5 L1336.4 3423.5 L1337.4 3423.5 L1338.6 3423.6 L1339.9 3423.7 L1341.2 3423.9 L1342.5 3424.1 L1343.8 3424.3 L1345.1 3424.6 L1346.3 3424.9 L1347.6 3425.1 L1348.9 3425.4 L1350.2 3425.7 L1351.5 3426.0 L1352.8 3426.3 L1352.8 3426.3 L1354.0 3426.6 L1355.3 3426.9 L1356.6 3427.2 L1357.9 3427.6 L1359.2 3428.0 L1360.5 3428.3 L1361.7 3428.7 L1363.0 3429.1 L1364.3 3429.5 L1365.6 3429.9 L1366.9 3430.3 L1368.2 3430.7 L1369.5 3431.1 L1370.7 3431.4 L1371.1 3431.5 L1372.0 3431.8 L1373.3 3432.2 L1374.6 3432.6 L1375.9 3433.0 L1377.2 3433.4 L1378.4 3433.8 L1379.7 3434.2 L1381.0 3434.6 L1382.3 3435.0 L1383.6 3435.4 L1384.9 3435.8 L1386.1 3436.2 L1387.4 3436.5 L1388.7 3436.9 L1390.0 3437.2 L1391.3 3437.6 L1392.6 3437.9 L1393.8 3438.2 L1394.5 3438.3 L1395.1 3438.4 L1396.4 3438.7 L1397.7 3439.0 L1399.0 3439.3 L1400.3 3439.6 L1401.6 3439.9 L1402.8 3440.2 L1404.1 3440.4 L1405.4 3440.7 L1406.7 3441.0 L1408.0 3441.2 L1409.3 3441.5 L1410.5 3441.7 L1411.8 3441.9 L1413.1 3442.0 L1414.4 3442.2 L1415.7 3442.3 L1417.0 3442.4 L1418.2 3442.5 L1419.5 3442.5 L1420.2 3442.5 L1420.8 3442.5 L1422.1 3442.5 L1423.4 3442.5 L1424.7 3442.5 L1425.9 3442.5 L1427.2 3442.5 L1428.5 3442.5 L1429.8 3442.5 L1431.1 3442.5 L1432.4 3442.5 L1433.7 3442.5 L1434.9 3442.5 L1436.2 3442.5 L1437.5 3442.5 L1438.8 3442.5 L1440.1 3442.5 L1441.4 3442.5 L1442.6 3442.5 L1442.6 3442.5 L1443.9 3442.5 L1445.2 3442.5 L1446.5 3442.4 L1447.8 3442.4 L1449.1 3442.3 L1450.3 3442.2 L1451.6 3442.0 L1452.9 3441.9 L1454.2 3441.7 L1455.5 3441.6 L1456.8 3441.4 L1458.0 3441.2 L1459.3 3441.0 L1460.6 3440.9 L1461.9 3440.7 L1463.2 3440.5 L1464.5 3440.3 L1465.8 3440.1 L1467.0 3439.9 L1468.0 3439.7 L1468.3 3439.7 L1469.6 3439.5 L1470.9 3439.2 L1472.2 3439.0 L1473.5 3438.7 L1474.7 3438.5 L1476.0 3438.2 L1477.3 3437.9 L1478.6 3437.6 L1479.9 3437.2 L1481.2 3436.9 L1482.4 3436.6 L1483.7 3436.2 L1485.0 3435.9 L1486.3 3435.5 L1487.6 3435.2 L1488.9 3434.8 L1490.1 3434.5 L1491.4 3434.1 L1492.7 3433.7 L1494.0 3433.4 L1494.0 3433.4 L1495.3 3433.0 L1496.6 3432.6 L1497.9 3432.1 L1499.1 3431.7 L1500.4 3431.2 L1501.7 3430.8 L1503.0 3430.3 L1504.3 3429.8 L1505.6 3429.3 L1506.8 3428.9 L1508.1 3428.4 L1509.4 3428.0 L1510.7 3427.7 L1512.0 3427.3 L1513.3 3427.0 L1513.3 3427.0 L1514.5 3426.7 L1515.8 3426.5 L1517.1 3426.2 L1518.4 3425.9 L1519.7 3425.6 L1521.0 3425.4 L1522.2 3425.1 L1523.5 3424.9 L1524.8 3424.7 L1526.1 3424.6 L1527.4 3424.5 L1528.7 3424.4 L1529.3 3424.4 L1530.0 3424.4 L1531.2 3424.5 L1532.5 3424.6 L1533.8 3424.8 L1535.1 3425.0 L1536.4 3425.3 L1537.7 3425.6 L1538.9 3425.9 L1540.2 3426.3 L1541.5 3426.6 L1542.8 3427.0 L1544.1 3427.4 L1545.4 3427.7 L1545.4 3427.7 L1546.6 3428.1 L1547.9 3428.5 L1549.2 3429.0 L1550.5 3429.5 L1551.8 3430.0 L1553.1 3430.6 L1554.3 3431.1 L1555.6 3431.7 L1556.9 3432.3 L1558.2 3432.9 L1559.5 3433.4 L1560.8 3434.0 L1562.1 3434.5 L1563.3 3435.0 L1564.6 3435.5 L1564.6 3435.5 L1565.9 3435.9 L1567.2 3436.4 L1568.5 3436.8 L1569.8 3437.3 L1571.0 3437.7 L1572.3 3438.1 L1573.6 3438.6 L1574.9 3439.0 L1576.2 3439.4 L1577.5 3439.8 L1578.7 3440.2 L1580.0 3440.5 L1581.3 3440.9 L1582.6 3441.2 L1583.9 3441.5 L1585.2 3441.8 L1585.5 3441.8 L1586.4 3442.0 L1587.7 3442.3 L1589.0 3442.5 L1590.3 3442.8 L1591.6 3443.0 L1592.9 3443.2 L1594.2 3443.4 L1595.4 3443.6 L1596.7 3443.8 L1598.0 3444.0 L1599.3 3444.2 L1600.6 3444.4 L1601.9 3444.6 L1603.1 3444.7 L1604.4 3444.9 L1605.7 3445.0 L1607.0 3445.1 L1608.3 3445.2 L1609.6 3445.4 L1609.6 3445.4 L1610.8 3445.4 L1612.1 3445.5 L1613.4 3445.6 L1614.7 3445.7 L1616.0 3445.8 L1617.3 3445.9 L1618.5 3445.9 L1619.8 3446.0 L1621.1 3446.1 L1622.4 3446.1 L1623.7 3446.2 L1625.0 3446.2 L1626.3 3446.3 L1627.5 3446.3 L1628.8 3446.4 L1630.1 3446.4 L1631.4 3446.5 L1632.7 3446.5 L1634.0 3446.6 L1635.2 3446.6 L1636.5 3446.7 L1637.8 3446.7 L1638.4 3446.8 L1639.1 3446.8 L1640.4 3446.8 L1641.7 3446.9 L1642.9 3446.9 L1644.2 3447.0 L1645.5 3447.0 L1646.8 3447.1 L1648.1 3447.1 L1649.4 3447.2 L1650.6 3447.2 L1651.9 3447.2 L1653.2 3447.3 L1654.5 3447.3 L1655.8 3447.4 L1657.1 3447.4 L1658.4 3447.5 L1659.6 3447.5 L1660.9 3447.5 L1662.2 3447.6 L1663.5 3447.6 L1664.8 3447.7 L1666.1 3447.7 L1667.3 3447.7 L1668.6 3447.8 L1669.9 3447.8 L1671.2 3447.8 L1672.5 3447.9 L1673.8 3447.9 L1675.0 3447.9 L1676.3 3448.0 L1677.6 3448.0 L1678.9 3448.0 L1680.2 3448.0 L1681.5 3448.1 L1682.7 3448.1 L1684.0 3448.1 L1685.3 3448.1 L1686.6 3448.2 L1686.6 3448.2" class="sp"/>
<path d="M402.6 3105.3 L403.9 3112.4 L405.2 3119.3 L406.5 3126.0 L407.7 3132.4 L409.0 3138.6 L409.0 3138.6 L410.3 3144.6 L411.6 3150.2 L412.9 3155.8 L414.2 3161.1 L415.4 3166.5 L416.4 3170.5 L416.7 3171.8 L418.0 3177.2 L419.3 3182.5 L420.6 3187.7 L421.9 3192.7 L422.8 3196.2 L423.1 3197.4 L424.4 3202.0 L425.7 3206.4 L427.0 3210.7 L428.3 3214.6 L429.6 3218.2 L429.6 3218.2 L430.8 3221.6 L432.1 3224.8 L433.4 3227.9 L434.7 3230.7 L436.0 3233.3 L437.3 3235.4 L437.9 3236.4 L438.6 3237.3 L439.8 3238.9 L441.1 3240.5 L442.4 3241.9 L443.7 3243.2 L445.0 3244.5 L446.3 3245.6 L447.5 3246.8 L448.8 3247.8 L450.1 3248.9 L451.4 3249.9 L452.7 3250.9 L454.0 3252.0 L455.2 3253.0 L456.2 3253.8 L456.5 3254.1 L457.8 3255.2 L459.1 3256.3 L460.4 3257.4 L461.7 3258.5 L462.9 3259.6 L464.2 3260.7 L465.5 3261.7 L466.8 3262.7 L468.1 3263.6 L469.4 3264.5 L470.7 3265.4 L471.9 3266.2 L472.9 3266.7 L473.2 3266.9 L474.5 3267.6 L475.8 3268.3 L477.1 3269.0 L478.4 3269.6 L479.6 3270.3 L480.9 3270.9 L482.2 3271.6 L483.5 3272.2 L484.8 3272.8 L486.1 3273.3 L487.3 3273.8 L488.6 3274.3 L489.9 3274.8 L491.2 3275.2 L492.5 3275.6 L493.8 3275.9 L495.0 3276.2 L496.3 3276.5 L497.0 3276.6 L497.6 3276.7 L498.9 3276.9 L500.2 3277.0 L501.5 3277.2 L502.8 3277.4 L504.0 3277.6 L505.3 3277.7 L506.6 3277.9 L507.9 3278.0 L509.2 3278.2 L510.5 3278.3 L511.7 3278.4 L513.0 3278.5 L514.3 3278.6 L515.6 3278.7 L516.9 3278.7 L518.2 3278.8 L519.4 3278.8 L520.7 3278.8 L521.4 3278.8 L522.0 3278.8 L523.3 3278.7 L524.6 3278.5 L525.9 3278.2 L527.1 3277.9 L528.4 3277.4 L529.7 3277.0 L531.0 3276.4 L532.3 3275.9 L533.6 3275.4 L534.9 3274.8 L536.1 3274.3 L537.4 3273.8 L538.7 3273.3 L540.0 3272.9 L541.3 3272.6 L542.6 3272.3 L543.8 3272.1 L545.1 3272.0 L545.4 3272.0 L546.4 3272.0 L547.7 3272.0 L549.0 3272.0 L550.3 3272.0 L551.5 3272.0 L552.8 3272.0 L554.1 3272.0 L555.4 3272.0 L556.7 3272.0 L558.0 3272.0 L559.2 3272.0 L560.5 3272.0 L561.8 3272.0 L563.1 3272.0 L564.4 3272.0 L565.7 3272.0 L567.0 3272.0 L568.2 3272.0 L569.5 3272.0 L569.8 3272.0 L570.8 3272.0 L572.1 3272.1 L573.4 3272.2 L574.7 3272.3 L575.9 3272.5 L577.2 3272.7 L578.5 3272.9 L579.8 3273.2 L581.1 3273.5 L582.4 3273.7 L583.6 3274.1 L584.9 3274.4 L586.2 3274.7 L587.5 3275.0 L588.8 3275.3 L590.1 3275.6 L591.3 3275.9 L592.6 3276.2 L593.9 3276.5 L594.2 3276.6 L595.2 3276.7 L596.5 3277.0 L597.8 3277.3 L597.8 3277.3 L599.1 3280.0 L600.3 3284.4 L601.3 3286.4 L601.6 3286.7 L602.9 3287.7 L604.2 3288.5 L605.5 3289.3 L606.8 3290.0 L608.0 3290.6 L609.3 3291.2 L610.6 3291.6 L611.9 3292.0 L613.2 3292.4 L614.5 3292.6 L615.7 3292.9 L617.0 3293.1 L618.3 3293.2 L618.3 3293.2 L619.6 3293.4 L620.9 3293.5 L622.2 3293.6 L623.4 3293.8 L624.7 3293.9 L626.0 3294.0 L627.3 3294.1 L628.6 3294.2 L629.9 3294.3 L631.2 3294.4 L632.4 3294.5 L633.7 3294.5 L635.0 3294.6 L636.3 3294.6 L637.6 3294.7 L638.9 3294.7 L640.1 3294.7 L641.4 3294.8 L642.7 3294.8 L642.7 3294.8 L644.0 3294.7 L645.3 3294.6 L646.6 3294.4 L647.8 3294.2 L649.1 3293.9 L650.4 3293.6 L651.7 3293.2 L653.0 3292.7 L654.3 3292.2 L655.5 3291.7 L656.8 3291.2 L658.1 3290.6 L659.4 3290.0 L660.7 3289.3 L662.0 3288.7 L662.0 3288.7 L663.3 3287.9 L664.5 3286.9 L665.8 3285.7 L667.1 3284.3 L668.4 3282.8 L669.7 3281.1 L671.0 3279.3 L672.2 3277.4 L673.5 3275.4 L674.8 3273.4 L676.1 3271.3 L677.4 3269.3 L678.7 3267.2 L679.0 3266.7 L679.9 3265.2 L681.2 3263.1 L682.5 3260.9 L683.8 3258.6 L685.1 3256.2 L686.4 3253.6 L687.6 3250.9 L688.9 3248.0 L690.2 3244.9 L691.2 3242.5 L691.5 3241.6 L692.8 3237.7 L694.1 3233.4 L695.4 3228.6 L696.6 3223.5 L697.9 3218.2 L699.2 3212.8 L700.5 3207.4 L700.8 3206.1 L701.8 3202.0 L703.1 3196.5 L704.3 3190.8 L705.6 3184.9 L706.9 3178.9 L708.2 3172.8 L709.2 3168.2 L709.5 3166.6 L710.8 3160.5 L712.0 3154.2 L713.3 3147.9 L714.6 3141.2 L715.9 3134.1 L717.2 3126.5 L717.2 3126.5 L718.5 3117.9 L719.7 3108.2 L721.0 3097.9 L722.3 3087.7 L723.6 3077.9 L724.2 3073.5 L724.9 3069.1 L726.2 3060.0 L727.5 3051.1 L728.7 3042.9 L730.0 3035.7 L731.3 3030.2 L731.3 3030.2 L732.6 3026.3 L733.9 3023.2 L735.2 3020.7 L736.4 3018.4 L737.7 3016.0 L739.0 3013.2 L740.3 3009.7 L740.9 3007.5 L741.6 3004.9 L742.9 2998.3 L744.1 2990.2 L745.4 2980.9 L746.7 2971.1 L747.7 2963.6 L748.0 2961.0 L749.3 2949.9 L750.6 2937.6 L751.8 2924.6 L753.1 2911.7 L754.4 2899.1 L754.4 2899.1 L755.7 2887.7 L757.0 2877.1 L758.3 2866.9 L759.6 2856.6 L760.8 2845.7 L762.1 2833.5 L763.4 2819.7 L764.7 2803.6 L764.7 2803.6 L766.0 2782.3 L767.3 2755.0 L768.5 2725.1 L769.5 2702.8 L769.8 2695.5 L771.1 2664.8 L772.4 2633.0 L773.7 2602.0 L773.7 2602.0 L775.0 2572.3 L776.2 2543.1 L777.5 2514.9 L778.2 2501.2 L778.8 2488.0 L780.1 2462.3 L781.4 2437.3 L782.7 2412.8 L783.3 2400.4 L783.9 2388.0 L785.2 2363.0 L786.5 2338.5 L787.8 2315.6 L787.8 2315.6 L789.1 2290.0 L790.4 2267.1 L791.3 2260.2 L791.7 2261.1 L792.9 2277.7 L794.2 2303.8 L794.9 2315.6 L795.5 2325.9 L796.8 2346.8 L798.1 2368.1 L799.4 2389.6 L800.0 2400.4 L800.6 2411.3 L801.9 2432.9 L803.2 2454.8 L804.5 2477.5 L805.8 2501.2 L805.8 2501.2 L807.1 2526.8 L808.3 2554.0 L809.6 2581.6 L810.6 2602.0 L810.9 2608.8 L812.2 2635.9 L813.5 2663.0 L814.8 2689.7 L815.4 2702.8 L816.0 2715.8 L817.3 2741.2 L818.6 2766.3 L819.9 2791.2 L820.5 2803.6 L821.2 2816.1 L822.5 2841.3 L823.8 2866.3 L825.0 2890.8 L826.3 2914.3 L826.6 2920.0 L827.6 2936.7 L828.9 2958.4 L830.2 2979.3 L831.5 2999.4 L832.1 3009.0 L832.7 3018.6 L834.0 3038.0 L835.3 3057.1 L836.6 3075.5 L837.9 3092.5 L839.2 3107.6 L840.1 3117.4 L840.4 3120.4 L841.7 3131.4 L843.0 3141.3 L844.3 3150.4 L845.6 3158.8 L846.9 3166.9 L848.1 3174.7 L849.4 3182.7 L850.7 3191.1 L852.0 3200.0 L852.0 3200.0 L853.3 3209.9 L854.6 3220.2 L855.9 3230.2 L857.1 3239.0 L857.5 3240.9 L858.4 3246.3 L859.7 3253.0 L861.0 3259.1 L862.3 3264.9 L863.6 3270.3 L864.8 3275.5 L866.1 3280.6 L866.4 3281.9 L867.4 3285.6 L868.7 3290.6 L870.0 3295.4 L871.3 3300.0 L872.5 3304.5 L873.8 3308.9 L875.1 3313.1 L876.4 3317.1 L877.7 3320.9 L878.3 3322.8 L879.0 3324.6 L880.2 3328.2 L881.5 3331.6 L882.8 3334.9 L884.1 3338.1 L885.4 3341.1 L886.7 3344.0 L888.0 3346.8 L889.2 3349.5 L889.6 3350.1 L890.5 3352.0 L891.8 3354.4 L893.1 3356.8 L894.4 3359.2 L895.7 3361.3 L896.9 3363.4 L898.2 3365.2 L899.5 3366.8 L900.2 3367.5 L900.8 3368.2 L902.1 3369.4 L903.4 3370.4 L904.6 3371.4 L905.9 3372.3 L907.2 3373.2 L908.5 3374.1 L909.8 3375.1 L909.8 3375.1 L911.1 3376.1 L912.3 3377.2 L913.6 3378.2 L914.9 3379.3 L916.2 3380.4 L917.5 3381.5 L918.8 3382.6 L920.1 3383.6 L921.3 3384.7 L922.6 3385.7 L923.9 3386.7 L925.2 3387.6 L926.5 3388.6 L927.1 3389.0 L927.8 3389.4 L929.0 3390.3 L930.3 3391.2 L931.6 3392.0 L932.9 3392.8 L934.2 3393.6 L935.5 3394.4 L936.7 3395.2 L938.0 3395.9 L939.3 3396.6 L940.6 3397.3 L941.9 3397.9 L941.9 3397.9 L943.2 3398.5 L944.4 3399.1 L945.7 3399.7 L947.0 3400.2 L948.3 3400.8 L949.6 3401.3 L950.9 3401.8 L952.2 3402.3 L953.4 3402.8 L954.7 3403.2 L956.0 3403.6 L956.3 3403.7 L957.3 3404.0 L958.6 3404.4 L959.9 3404.7 L961.1 3405.0 L962.4 3405.4 L963.7 3405.7 L965.0 3406.0 L966.3 3406.3 L967.6 3406.6 L968.8 3406.8 L970.1 3407.1 L970.8 3407.2 L971.4 3407.3 L972.7 3407.5 L974.0 3407.7 L975.3 3407.9 L976.5 3408.1 L977.8 3408.3 L979.1 3408.4 L980.4 3408.6 L981.7 3408.8 L983.0 3409.0 L983.9 3409.1 L984.3 3409.2 L985.5 3409.4 L986.8 3409.6 L988.1 3409.8 L989.4 3410.0 L990.7 3410.2 L992.0 3410.5 L993.2 3410.7 L994.5 3410.9 L995.8 3411.1 L997.1 3411.2 L998.4 3411.3 L999.7 3411.4 L1000.0 3411.4 L1000.9 3411.5 L1002.2 3411.5 L1003.5 3411.6 L1004.8 3411.6 L1006.1 3411.7 L1007.4 3411.7 L1008.6 3411.8 L1009.9 3411.8 L1011.2 3411.9 L1012.5 3411.9 L1013.8 3411.9 L1015.1 3412.0 L1016.4 3412.0 L1017.6 3412.0 L1018.9 3412.1 L1020.2 3412.1 L1021.5 3412.1 L1022.8 3412.1 L1024.1 3412.2 L1025.3 3412.2 L1026.6 3412.2 L1027.9 3412.2 L1029.2 3412.2 L1030.5 3412.2 L1031.4 3412.2 L1031.8 3412.2 L1033.0 3412.2 L1034.3 3412.1 L1035.6 3411.9 L1036.9 3411.7 L1038.2 3411.5 L1039.5 3411.3 L1040.7 3411.0 L1042.0 3410.7 L1043.3 3410.3 L1044.6 3410.0 L1045.9 3409.6 L1047.2 3409.3 L1047.8 3409.1 L1048.5 3408.9 L1049.7 3408.5 L1051.0 3408.0 L1052.3 3407.4 L1053.6 3406.8 L1054.9 3406.1 L1056.2 3405.4 L1057.4 3404.7 L1058.7 3403.9 L1060.0 3403.2 L1061.3 3402.4 L1062.6 3401.6 L1063.9 3400.8 L1064.2 3400.6 L1065.1 3400.0 L1066.4 3399.1 L1067.7 3398.2 L1069.0 3397.1 L1070.3 3396.1 L1071.6 3395.0 L1072.8 3393.9 L1074.1 3392.8 L1075.4 3391.8 L1076.7 3390.8 L1078.0 3389.8 L1079.3 3388.9 L1080.6 3388.0 L1081.8 3387.3 L1083.1 3386.7 L1083.1 3386.7 L1084.4 3386.1 L1085.7 3385.6 L1087.0 3385.0 L1088.3 3384.4 L1089.5 3383.9 L1090.8 3383.4 L1092.1 3382.9 L1093.4 3382.4 L1094.7 3382.0 L1096.0 3381.6 L1097.2 3381.2 L1098.5 3381.0 L1099.8 3380.7 L1101.1 3380.6 L1102.4 3380.5 L1103.0 3380.5 L1103.7 3380.5 L1104.9 3380.7 L1106.2 3380.9 L1107.5 3381.3 L1108.8 3381.8 L1110.1 3382.3 L1111.4 3382.9 L1112.7 3383.6 L1113.9 3384.2 L1115.2 3384.9 L1116.5 3385.7 L1117.8 3386.4 L1118.4 3386.7 L1119.1 3387.0 L1120.4 3387.8 L1121.6 3388.6 L1122.9 3389.6 L1124.2 3390.5 L1125.5 3391.5 L1126.8 3392.6 L1128.1 3393.6 L1129.3 3394.7 L1130.6 3395.8 L1131.9 3396.8 L1133.2 3397.8 L1133.8 3398.3 L1134.5 3398.8 L1135.8 3399.8 L1137.0 3400.8 L1138.3 3401.9 L1139.6 3402.9 L1140.9 3404.0 L1142.2 3405.0 L1143.5 3406.0 L1144.8 3407.0 L1146.0 3407.9 L1147.3 3408.8 L1148.6 3409.6 L1149.9 3410.3 L1150.5 3410.7 L1151.2 3411.0 L1152.5 3411.6 L1153.7 3412.2 L1155.0 3412.9 L1156.3 3413.5 L1157.6 3414.1 L1158.9 3414.7 L1160.2 3415.2 L1161.4 3415.7 L1162.7 3416.1 L1164.0 3416.5 L1165.3 3416.8 L1166.6 3417.0 L1167.9 3417.1 L1168.5 3417.1 L1169.1 3417.1 L1170.4 3417.0 L1171.7 3416.8 L1173.0 3416.6 L1174.3 3416.3 L1175.6 3415.9 L1176.9 3415.5 L1178.1 3415.1 L1179.4 3414.7 L1180.7 3414.2 L1182.0 3413.7 L1183.3 3413.2 L1184.6 3412.7 L1185.8 3412.2 L1185.8 3412.2 L1187.1 3411.7 L1188.4 3411.1 L1189.7 3410.4 L1191.0 3409.6 L1192.3 3408.8 L1193.5 3408.0 L1194.8 3407.1 L1196.1 3406.3 L1197.4 3405.4 L1198.7 3404.6 L1200.0 3403.8 L1201.2 3403.1 L1202.5 3402.4 L1203.8 3401.9 L1205.1 3401.4 L1205.1 3401.4 L1206.4 3400.9 L1207.7 3400.5 L1209.0 3400.1 L1210.2 3399.7 L1211.5 3399.2 L1212.8 3398.9 L1214.1 3398.5 L1215.4 3398.1 L1216.7 3397.8 L1217.9 3397.5 L1219.2 3397.3 L1220.5 3397.1 L1221.8 3397.0 L1223.1 3396.9 L1224.0 3396.9 L1224.4 3396.9 L1225.6 3397.0 L1226.9 3397.1 L1228.2 3397.4 L1229.5 3397.7 L1230.8 3398.0 L1232.1 3398.4 L1233.3 3398.9 L1234.6 3399.4 L1235.9 3399.9 L1237.2 3400.4 L1238.5 3400.9 L1239.8 3401.5 L1241.1 3402.0 L1242.3 3402.5 L1243.6 3402.9 L1243.6 3402.9 L1244.9 3403.4 L1246.2 3403.8 L1247.5 3404.3 L1248.8 3404.8 L1250.0 3405.3 L1251.3 3405.8 L1252.6 3406.3 L1253.9 3406.8 L1255.2 3407.3 L1256.5 3407.8 L1257.7 3408.3 L1259.0 3408.8 L1260.3 3409.4 L1261.6 3409.9 L1262.9 3410.4 L1264.2 3411.0 L1265.4 3411.5 L1266.7 3412.0 L1268.0 3412.6 L1269.0 3413.0 L1269.3 3413.1 L1270.6 3413.7 L1271.9 3414.3 L1273.2 3414.9 L1274.4 3415.6 L1275.7 3416.3 L1277.0 3417.1 L1278.3 3417.8 L1279.6 3418.5 L1280.9 3419.3 L1282.1 3420.0 L1283.4 3420.7 L1284.7 3421.4 L1286.0 3422.1 L1287.3 3422.7 L1288.6 3423.2 L1289.8 3423.8 L1291.1 3424.2 L1292.4 3424.6 L1293.7 3424.9 L1295.0 3425.1 L1296.3 3425.3 L1297.5 3425.3 L1297.5 3425.3 L1298.8 3425.3 L1300.1 3425.3 L1301.4 3425.2 L1302.7 3425.1 L1304.0 3424.9 L1305.3 3424.8 L1306.5 3424.6 L1307.8 3424.4 L1309.1 3424.2 L1310.4 3424.0 L1311.7 3423.8 L1313.0 3423.6 L1314.2 3423.5 L1315.5 3423.3 L1316.8 3423.1 L1317.5 3423.0 L1318.1 3422.9 L1319.4 3422.8 L1320.7 3422.6 L1321.9 3422.4 L1323.2 3422.2 L1324.5 3422.0 L1325.8 3421.8 L1327.1 3421.6 L1328.4 3421.4 L1329.6 3421.2 L1330.9 3421.0 L1332.2 3420.9 L1333.5 3420.8 L1334.8 3420.7 L1336.1 3420.7 L1336.4 3420.7 L1337.4 3420.7 L1338.6 3420.8 L1339.9 3420.9 L1341.2 3421.1 L1342.5 3421.3 L1343.8 3421.6 L1345.1 3421.9 L1346.3 3422.2 L1347.6 3422.5 L1348.9 3422.8 L1350.2 3423.2 L1351.5 3423.5 L1352.8 3423.8 L1352.8 3423.8 L1354.0 3424.1 L1355.3 3424.5 L1356.6 3424.8 L1357.9 3425.2 L1359.2 3425.6 L1360.5 3426.0 L1361.7 3426.4 L1363.0 3426.8 L1364.3 3427.3 L1365.6 3427.7 L1366.9 3428.2 L1368.2 3428.6 L1369.5 3429.0 L1370.7 3429.4 L1371.1 3429.5 L1372.0 3429.8 L1373.3 3430.2 L1374.6 3430.7 L1375.9 3431.1 L1377.2 3431.5 L1378.4 3432.0 L1379.7 3432.4 L1381.0 3432.9 L1382.3 3433.3 L1383.6 3433.7 L1384.9 3434.2 L1386.1 3434.6 L1387.4 3435.0 L1388.7 3435.4 L1390.0 3435.8 L1391.3 3436.1 L1392.6 3436.5 L1393.8 3436.8 L1394.5 3436.9 L1395.1 3437.1 L1396.4 3437.4 L1397.7 3437.7 L1399.0 3438.0 L1400.3 3438.3 L1401.6 3438.7 L1402.8 3439.0 L1404.1 3439.3 L1405.4 3439.6 L1406.7 3439.9 L1408.0 3440.1 L1409.3 3440.4 L1410.5 3440.6 L1411.8 3440.8 L1413.1 3441.0 L1414.4 3441.2 L1415.7 3441.4 L1417.0 3441.5 L1418.2 3441.5 L1419.5 3441.6 L1420.2 3441.6 L1420.8 3441.6 L1422.1 3441.6 L1423.4 3441.6 L1424.7 3441.6 L1425.9 3441.6 L1427.2 3441.6 L1428.5 3441.6 L1429.8 3441.6 L1431.1 3441.6 L1432.4 3441.6 L1433.7 3441.6 L1434.9 3441.6 L1436.2 3441.6 L1437.5 3441.6 L1438.8 3441.6 L1440.1 3441.6 L1441.4 3441.6 L1442.6 3441.6 L1442.6 3441.6 L1443.9 3441.6 L1445.2 3441.5 L1446.5 3441.5 L1447.8 3441.4 L1449.1 3441.3 L1450.3 3441.2 L1451.6 3441.0 L1452.9 3440.9 L1454.2 3440.7 L1455.5 3440.5 L1456.8 3440.4 L1458.0 3440.2 L1459.3 3439.9 L1460.6 3439.7 L1461.9 3439.5 L1463.2 3439.3 L1464.5 3439.1 L1465.8 3438.9 L1467.0 3438.6 L1468.0 3438.5 L1468.3 3438.4 L1469.6 3438.2 L1470.9 3438.0 L1472.2 3437.7 L1473.5 3437.4 L1474.7 3437.1 L1476.0 3436.8 L1477.3 3436.5 L1478.6 3436.1 L1479.9 3435.8 L1481.2 3435.4 L1482.4 3435.1 L1483.7 3434.7 L1485.0 3434.3 L1486.3 3433.9 L1487.6 3433.5 L1488.9 3433.1 L1490.1 3432.7 L1491.4 3432.3 L1492.7 3431.9 L1494.0 3431.5 L1494.0 3431.5 L1495.3 3431.1 L1496.6 3430.7 L1497.9 3430.2 L1499.1 3429.7 L1500.4 3429.2 L1501.7 3428.7 L1503.0 3428.1 L1504.3 3427.6 L1505.6 3427.1 L1506.8 3426.6 L1508.1 3426.1 L1509.4 3425.7 L1510.7 3425.3 L1512.0 3424.9 L1513.3 3424.6 L1513.3 3424.6 L1514.5 3424.3 L1515.8 3423.9 L1517.1 3423.6 L1518.4 3423.3 L1519.7 3423.0 L1521.0 3422.7 L1522.2 3422.5 L1523.5 3422.2 L1524.8 3422.0 L1526.1 3421.9 L1527.4 3421.8 L1528.7 3421.7 L1529.3 3421.7 L1530.0 3421.7 L1531.2 3421.8 L1532.5 3421.9 L1533.8 3422.1 L1535.1 3422.4 L1536.4 3422.7 L1537.7 3423.0 L1538.9 3423.4 L1540.2 3423.8 L1541.5 3424.2 L1542.8 3424.6 L1544.1 3425.0 L1545.4 3425.3 L1545.4 3425.3 L1546.6 3425.8 L1547.9 3426.2 L1549.2 3426.7 L1550.5 3427.3 L1551.8 3427.9 L1553.1 3428.5 L1554.3 3429.1 L1555.6 3429.7 L1556.9 3430.3 L1558.2 3431.0 L1559.5 3431.6 L1560.8 3432.2 L1562.1 3432.8 L1563.3 3433.3 L1564.6 3433.8 L1564.6 3433.8 L1565.9 3434.3 L1567.2 3434.8 L1568.5 3435.3 L1569.8 3435.8 L1571.0 3436.3 L1572.3 3436.8 L1573.6 3437.2 L1574.9 3437.7 L1576.2 3438.1 L1577.5 3438.6 L1578.7 3439.0 L1580.0 3439.4 L1581.3 3439.8 L1582.6 3440.1 L1583.9 3440.4 L1585.2 3440.7 L1585.5 3440.8 L1586.4 3441.0 L1587.7 3441.3 L1589.0 3441.6 L1590.3 3441.8 L1591.6 3442.1 L1592.9 3442.3 L1594.2 3442.6 L1595.4 3442.8 L1596.7 3443.0 L1598.0 3443.2 L1599.3 3443.4 L1600.6 3443.6 L1601.9 3443.8 L1603.1 3444.0 L1604.4 3444.1 L1605.7 3444.3 L1607.0 3444.4 L1608.3 3444.6 L1609.6 3444.7 L1609.6 3444.7 L1610.8 3444.8 L1612.1 3444.9 L1613.4 3445.0 L1614.7 3445.1 L1616.0 3445.1 L1617.3 3445.2 L1618.5 3445.3 L1619.8 3445.4 L1621.1 3445.4 L1622.4 3445.5 L1623.7 3445.6 L1625.0 3445.6 L1626.3 3445.7 L1627.5 3445.8 L1628.8 3445.8 L1630.1 3445.9 L1631.4 3445.9 L1632.7 3446.0 L1634.0 3446.0 L1635.2 3446.1 L1636.5 3446.1 L1637.8 3446.2 L1638.4 3446.2 L1639.1 3446.2 L1640.4 3446.3 L1641.7 3446.3 L1642.9 3446.4 L1644.2 3446.4 L1645.5 3446.5 L1646.8 3446.6 L1648.1 3446.6 L1649.4 3446.6 L1650.6 3446.7 L1651.9 3446.7 L1653.2 3446.8 L1654.5 3446.8 L1655.8 3446.9 L1657.1 3446.9 L1658.4 3447.0 L1659.6 3447.0 L1660.9 3447.1 L1662.2 3447.1 L1663.5 3447.2 L1664.8 3447.2 L1666.1 3447.2 L1667.3 3447.3 L1668.6 3447.3 L1669.9 3447.4 L1671.2 3447.4 L1672.5 3447.4 L1673.8 3447.5 L1675.0 3447.5 L1676.3 3447.5 L1677.6 3447.6 L1678.9 3447.6 L1680.2 3447.6 L1681.5 3447.7 L1682.7 3447.7 L1684.0 3447.7 L1685.3 3447.7 L1686.6 3447.8 L1686.6 3447.8" class="sp"/>
<path d="M402.6 2838.5 L403.9 2848.1 L405.2 2857.7 L406.5 2867.5 L407.7 2877.3 L408.8 2885.5 L409.0 2887.2 L410.3 2897.4 L411.6 2907.6 L412.9 2918.0 L414.2 2928.4 L415.4 2938.7 L416.7 2948.8 L417.6 2955.2 L418.0 2958.7 L419.3 2968.5 L420.6 2978.4 L421.9 2988.1 L423.1 2997.7 L424.4 3007.0 L425.7 3016.0 L426.9 3024.2 L427.0 3024.6 L428.3 3032.9 L429.6 3041.0 L430.8 3048.8 L432.1 3056.5 L433.4 3064.0 L434.7 3071.3 L436.0 3078.4 L437.3 3085.3 L438.6 3092.0 L438.8 3093.2 L439.8 3098.6 L441.1 3105.0 L442.4 3111.4 L443.7 3117.7 L445.0 3123.8 L446.3 3129.8 L447.5 3135.6 L448.8 3141.3 L450.1 3146.7 L451.4 3151.9 L452.7 3157.0 L453.9 3161.4 L454.0 3161.7 L455.2 3166.3 L456.5 3170.7 L457.8 3175.0 L459.1 3179.2 L460.4 3183.2 L461.7 3187.0 L462.9 3190.7 L464.2 3194.2 L465.5 3197.6 L466.8 3200.8 L466.8 3200.8 L468.1 3203.8 L469.4 3206.8 L470.7 3209.7 L471.9 3212.4 L473.2 3215.1 L474.5 3217.6 L475.8 3220.1 L477.1 3222.4 L478.4 3224.6 L479.6 3226.7 L479.9 3227.0 L480.9 3228.7 L482.2 3230.6 L483.5 3232.6 L484.8 3234.4 L486.1 3235.9 L487.3 3237.2 L488.3 3237.9 L488.6 3238.1 L489.9 3238.9 L491.2 3239.7 L492.5 3240.4 L493.8 3240.9 L495.0 3241.4 L496.3 3241.6 L497.3 3241.7" class="da" stroke-dashoffset="62.2"/>
<path d="M497.3 3241.7 L497.6 3241.7 L498.9 3241.4 L500.2 3240.8 L501.5 3240.0 L502.8 3238.9 L504.0 3237.6 L505.3 3236.2 L506.6 3234.8 L507.9 3233.3 L508.5 3232.6 L509.2 3231.8 L510.5 3230.1 L511.7 3228.1 L513.0 3225.8 L514.3 3223.4 L515.6 3220.9 L516.9 3218.2 L518.2 3215.6 L519.4 3212.9 L519.4 3212.9 L520.7 3210.1 L522.0 3207.2 L523.3 3204.0 L524.6 3200.9 L525.9 3197.8 L526.3 3196.7 L527.1 3194.7 L528.4 3191.6 L529.7 3188.4 L531.0 3185.2 L532.3 3182.1 L533.6 3178.9 L534.9 3175.7 L536.1 3172.6 L537.4 3169.5 L538.7 3166.5 L540.0 3163.6 L540.6 3162.1 L541.3 3160.7 L542.6 3157.9 L543.8 3155.1 L545.1 3152.4 L546.4 3149.7 L547.7 3147.0 L549.0 3144.4 L550.3 3141.7 L551.5 3139.2 L552.8 3136.6 L554.1 3134.1 L555.4 3131.6 L555.4 3131.6 L556.7 3129.1 L558.0 3126.7 L559.2 3124.3 L560.5 3122.0 L561.8 3119.6 L563.1 3117.3 L564.4 3115.0 L564.7 3114.4 L565.7 3112.6 L567.0 3110.1 L568.2 3107.6 L569.5 3105.2 L570.8 3102.9 L572.1 3100.9 L572.7 3100.0 L573.4 3099.1 L574.7 3097.4 L575.9 3095.7 L577.2 3094.1 L578.5 3092.6 L579.8 3091.4 L581.1 3090.6 L582.4 3090.1 L582.4 3090.1" class="da" stroke-dashoffset="42.4"/>
<path d="M582.4 3090.1 L582.4 3090.1 L583.6 3089.9 L584.9 3089.7 L586.2 3089.6 L587.5 3089.5 L588.8 3089.4 L590.1 3089.4 L590.4 3089.4 L591.3 3089.5 L592.6 3089.9 L593.9 3090.5 L595.2 3091.3 L596.5 3092.1 L597.8 3092.8 L598.4 3093.2 L599.1 3093.5 L600.3 3094.1 L601.6 3094.6 L602.9 3095.2 L604.2 3095.8 L605.5 3096.5 L606.8 3097.1 L607.2 3097.4 L608.0 3097.8 L609.3 3098.6 L610.6 3099.3 L611.9 3100.0 L613.2 3100.8 L614.5 3101.6 L615.7 3102.5 L617.0 3103.5 L618.3 3104.5 L619.3 3105.3 L619.6 3105.6 L620.9 3106.8 L622.2 3108.3 L623.4 3109.9 L624.7 3111.6 L626.0 3113.4 L627.3 3115.1 L627.3 3115.1 L628.6 3116.9 L629.9 3118.9 L631.2 3120.8 L632.4 3122.9 L633.7 3125.0 L635.0 3127.1 L636.3 3129.2 L636.9 3130.3 L637.6 3131.4 L638.9 3133.5 L640.1 3135.7 L641.4 3137.9 L642.7 3140.1 L644.0 3142.4 L645.3 3144.7 L646.6 3147.1 L647.8 3149.5 L648.2 3150.1 L649.1 3152.0 L650.4 3154.6 L651.7 3157.3 L653.0 3160.1 L654.3 3162.9 L655.5 3165.7 L656.8 3168.5 L658.1 3171.4 L659.4 3174.3 L659.4 3174.3 L660.7 3177.1 L662.0 3180.0 L663.3 3183.0 L664.5 3186.0 L665.8 3189.0 L667.1 3192.0 L668.4 3195.0 L669.7 3198.0 L671.0 3201.0 L672.2 3204.0 L673.5 3207.0 L674.8 3209.9 L676.1 3212.8 L676.7 3214.3 L677.4 3215.7 L678.7 3218.6 L679.9 3221.5 L681.2 3224.4 L682.5 3227.3 L683.8 3230.2 L685.1 3233.0 L686.4 3235.8 L687.6 3238.5 L688.9 3241.2 L690.2 3243.8 L691.5 3246.3 L691.5 3246.3 L692.8 3248.7 L694.1 3251.0 L695.4 3253.2 L696.6 3255.5 L697.9 3257.6 L699.2 3259.7 L700.5 3261.8 L701.8 3263.9 L703.1 3266.0 L704.3 3268.0 L705.6 3270.1 L706.9 3272.2 L708.2 3274.2 L709.5 3276.4 L710.8 3278.5 L711.0 3278.9 L712.0 3280.7 L713.3 3282.9 L714.6 3285.1 L715.9 3287.3 L717.2 3289.6 L718.5 3291.8 L719.7 3294.0 L721.0 3296.3 L722.3 3298.5 L723.6 3300.8 L723.6 3300.8 L724.9 3303.1 L726.2 3305.5 L727.5 3307.8 L728.7 3310.2 L730.0 3312.6 L731.3 3314.9 L732.6 3317.1 L733.2 3318.3 L733.9 3319.3 L735.2 3321.5 L736.4 3323.7 L737.7 3325.9 L739.0 3328.0 L740.3 3330.1 L741.6 3332.2 L742.9 3334.2 L744.1 3336.2 L745.4 3338.0 L746.7 3339.9 L746.7 3339.9 L748.0 3341.6 L749.3 3343.3 L750.6 3345.0 L751.8 3346.6 L753.1 3348.2 L754.4 3349.8 L755.7 3351.3 L757.0 3352.8 L758.3 3354.2 L759.6 3355.6 L760.8 3357.0 L762.1 3358.4 L762.1 3358.4 L763.4 3359.8 L764.7 3361.1 L766.0 3362.4 L767.3 3363.7 L768.5 3365.0 L769.8 3366.2 L771.1 3367.4 L772.4 3368.6 L773.7 3369.8 L775.0 3370.9 L776.2 3372.0 L777.5 3373.1 L778.2 3373.6 L778.8 3374.1 L780.1 3375.1 L781.4 3376.1 L782.7 3377.1 L783.9 3378.0 L785.2 3379.0 L786.5 3379.9 L787.8 3380.8 L789.1 3381.7 L790.4 3382.6 L791.7 3383.4 L792.9 3384.3 L794.2 3385.1 L795.5 3385.9 L796.8 3386.7 L798.0 3387.4 L798.1 3387.5 L799.4 3388.3 L800.6 3389.1 L801.9 3389.8 L803.2 3390.6 L804.5 3391.3 L805.8 3392.1 L807.1 3392.8 L808.3 3393.5 L809.6 3394.2 L810.9 3394.9 L812.2 3395.6 L813.5 3396.2 L814.8 3396.9 L816.0 3397.5 L817.3 3398.1 L818.6 3398.8 L819.9 3399.3 L819.9 3399.3 L821.2 3399.9 L822.5 3400.5 L823.8 3401.0 L825.0 3401.6 L826.3 3402.1 L827.6 3402.6 L828.9 3403.1 L830.2 3403.6 L831.5 3404.1 L832.7 3404.6 L834.0 3405.0 L835.3 3405.5 L836.6 3406.0 L837.9 3406.5 L839.2 3406.9 L839.2 3406.9 L840.4 3407.4 L841.7 3407.9 L843.0 3408.3 L844.3 3408.8 L845.6 3409.2 L846.9 3409.7 L848.1 3410.1 L849.4 3410.6 L850.7 3411.0 L852.0 3411.5 L853.3 3411.9 L854.6 3412.3 L855.9 3412.8 L857.1 3413.2 L858.4 3413.6 L859.7 3414.0 L861.0 3414.4 L862.3 3414.8 L863.6 3415.2 L863.7 3415.3 L864.8 3415.6 L866.1 3416.0 L867.4 3416.4 L868.7 3416.7 L870.0 3417.1 L871.3 3417.5 L872.5 3417.8 L873.8 3418.2 L875.1 3418.5 L876.4 3418.9 L877.7 3419.2 L879.0 3419.6 L880.2 3419.9 L881.5 3420.3 L882.8 3420.6 L884.1 3420.9 L884.1 3420.9 L885.4 3421.3 L886.7 3421.6 L888.0 3422.0 L889.2 3422.3 L890.5 3422.6 L891.8 3423.0 L893.1 3423.3 L894.4 3423.7 L895.7 3424.0 L896.9 3424.3 L898.2 3424.6 L899.5 3425.0 L900.8 3425.3 L902.1 3425.6 L903.4 3425.9 L904.6 3426.2 L905.9 3426.5 L907.2 3426.8 L908.5 3427.1 L909.8 3427.4 L909.8 3427.4 L911.1 3427.7 L912.3 3427.9 L913.6 3428.2 L914.9 3428.5 L916.2 3428.7 L917.5 3429.0 L918.8 3429.2 L920.1 3429.5 L921.3 3429.7 L922.6 3430.0 L923.9 3430.2 L925.2 3430.4 L926.5 3430.7 L927.8 3430.9 L929.0 3431.1 L930.3 3431.4 L931.6 3431.6 L932.9 3431.8 L934.2 3432.1 L934.7 3432.2 L935.5 3432.3 L936.7 3432.5 L938.0 3432.8 L939.3 3433.0 L940.6 3433.2 L941.9 3433.5 L943.2 3433.7 L944.4 3433.9 L945.7 3434.2 L947.0 3434.4 L948.3 3434.6 L949.6 3434.9 L950.9 3435.1 L952.2 3435.3 L953.4 3435.5 L954.7 3435.8 L956.0 3436.0 L957.3 3436.2 L958.6 3436.4 L959.9 3436.6 L961.1 3436.8 L962.4 3437.0 L963.7 3437.2 L964.4 3437.2 L965.0 3437.3 L966.3 3437.5 L967.6 3437.7 L968.8 3437.9 L970.1 3438.0 L971.4 3438.2 L972.7 3438.4 L974.0 3438.6 L975.3 3438.7 L976.5 3438.9 L977.8 3439.1 L979.1 3439.3 L980.4 3439.4 L981.7 3439.6 L983.0 3439.8 L984.3 3439.9 L985.5 3440.1 L986.8 3440.2 L988.1 3440.4 L989.4 3440.5 L990.7 3440.7 L992.0 3440.8 L993.2 3441.0 L994.5 3441.1 L995.8 3441.2 L997.1 3441.4 L998.4 3441.5 L999.7 3441.6 L1000.9 3441.7 L1002.2 3441.8 L1003.5 3441.9 L1004.8 3442.0 L1006.1 3442.1 L1007.4 3442.2 L1007.7 3442.2 L1008.6 3442.3 L1009.9 3442.4 L1011.2 3442.5 L1012.5 3442.6 L1013.8 3442.6 L1015.1 3442.7 L1016.4 3442.8 L1017.6 3442.9 L1018.9 3442.9 L1020.2 3443.0 L1021.5 3443.1 L1022.8 3443.1 L1024.1 3443.2 L1025.3 3443.3 L1026.6 3443.3 L1027.9 3443.4 L1029.2 3443.4 L1030.5 3443.5 L1031.8 3443.6 L1033.0 3443.6 L1034.3 3443.7 L1035.6 3443.7 L1036.9 3443.8 L1038.2 3443.8 L1039.5 3443.9 L1040.7 3443.9 L1042.0 3444.0 L1043.3 3444.0 L1044.6 3444.1 L1044.6 3444.1 L1045.9 3444.1 L1047.2 3444.2 L1048.5 3444.2 L1049.7 3444.2 L1051.0 3444.3 L1052.3 3444.3 L1053.6 3444.4 L1054.9 3444.4 L1056.2 3444.4 L1057.4 3444.5 L1058.7 3444.5 L1060.0 3444.5 L1061.3 3444.6 L1062.6 3444.6 L1063.9 3444.6 L1065.1 3444.7 L1066.4 3444.7 L1067.7 3444.8 L1069.0 3444.8 L1070.3 3444.8 L1071.6 3444.8 L1072.8 3444.9 L1074.1 3444.9 L1075.4 3444.9 L1076.7 3445.0 L1078.0 3445.0 L1079.3 3445.0 L1080.6 3445.1 L1080.7 3445.1 L1081.8 3445.1 L1083.1 3445.1 L1084.4 3445.2 L1085.7 3445.2 L1087.0 3445.3 L1088.3 3445.3 L1089.5 3445.3 L1090.8 3445.4 L1092.1 3445.4 L1093.4 3445.4 L1094.7 3445.5 L1096.0 3445.5 L1097.2 3445.5 L1098.5 3445.6 L1099.8 3445.6 L1101.1 3445.6 L1102.4 3445.7 L1103.7 3445.7 L1104.9 3445.7 L1106.2 3445.8 L1107.5 3445.8 L1108.8 3445.8 L1110.1 3445.9 L1111.4 3445.9 L1112.7 3445.9 L1113.9 3446.0 L1115.2 3446.0 L1116.5 3446.0 L1117.8 3446.1 L1119.1 3446.1 L1120.4 3446.1 L1121.6 3446.2 L1122.9 3446.2 L1124.2 3446.2 L1125.5 3446.2 L1126.8 3446.3 L1128.1 3446.3 L1129.3 3446.3 L1130.6 3446.4 L1131.9 3446.4 L1133.2 3446.4 L1134.5 3446.5 L1135.8 3446.5 L1137.0 3446.5 L1138.3 3446.6 L1139.6 3446.6 L1140.9 3446.6 L1142.2 3446.6 L1143.5 3446.7 L1144.8 3446.7 L1146.0 3446.7 L1147.3 3446.7 L1148.6 3446.8 L1149.9 3446.8 L1151.2 3446.8 L1152.5 3446.8 L1153.7 3446.9 L1154.7 3446.9 L1155.0 3446.9 L1156.3 3446.9 L1157.6 3446.9 L1158.9 3447.0 L1160.2 3447.0 L1161.4 3447.0 L1162.7 3447.0 L1164.0 3447.1 L1165.3 3447.1 L1166.6 3447.1 L1167.9 3447.1 L1169.1 3447.2 L1170.4 3447.2 L1171.7 3447.2 L1173.0 3447.2 L1174.3 3447.2 L1175.6 3447.3 L1176.9 3447.3 L1178.1 3447.3 L1179.4 3447.3 L1180.7 3447.4 L1182.0 3447.4 L1183.3 3447.4 L1184.6 3447.4 L1185.8 3447.4 L1187.1 3447.5 L1188.4 3447.5 L1189.7 3447.5 L1191.0 3447.5 L1192.3 3447.5 L1193.5 3447.6 L1194.8 3447.6 L1196.1 3447.6 L1197.4 3447.6 L1198.7 3447.6 L1200.0 3447.7 L1201.2 3447.7 L1202.5 3447.7 L1203.8 3447.7 L1205.1 3447.7 L1206.4 3447.7 L1207.7 3447.8 L1209.0 3447.8 L1210.2 3447.8 L1211.5 3447.8 L1212.8 3447.8 L1214.1 3447.9 L1215.4 3447.9 L1216.7 3447.9 L1217.9 3447.9 L1219.2 3447.9 L1220.5 3447.9 L1221.8 3448.0 L1223.1 3448.0 L1224.4 3448.0 L1225.6 3448.0 L1226.9 3448.0 L1227.6 3448.0 L1228.2 3448.0 L1229.5 3448.1 L1230.8 3448.1 L1232.1 3448.1 L1233.3 3448.1 L1234.6 3448.1 L1235.9 3448.1 L1237.2 3448.1 L1238.5 3448.2 L1239.8 3448.2 L1241.1 3448.2 L1242.3 3448.2 L1243.6 3448.2 L1244.9 3448.2 L1246.2 3448.2 L1247.5 3448.2 L1248.8 3448.3 L1250.0 3448.3 L1251.3 3448.3 L1252.6 3448.3 L1253.9 3448.3 L1255.2 3448.3 L1256.5 3448.3 L1257.7 3448.4 L1259.0 3448.4 L1260.3 3448.4 L1261.6 3448.4 L1262.9 3448.4 L1264.2 3448.4 L1265.4 3448.4 L1266.7 3448.4 L1268.0 3448.5 L1269.3 3448.5 L1270.6 3448.5 L1271.9 3448.5 L1273.2 3448.5 L1274.4 3448.5 L1275.7 3448.5 L1277.0 3448.5 L1278.3 3448.5 L1279.6 3448.6 L1280.9 3448.6 L1282.1 3448.6 L1283.4 3448.6 L1284.7 3448.6 L1286.0 3448.6 L1287.3 3448.6 L1288.6 3448.6 L1289.8 3448.7 L1291.1 3448.7 L1292.4 3448.7 L1293.7 3448.7 L1295.0 3448.7 L1296.3 3448.7 L1297.5 3448.7 L1298.8 3448.7 L1300.1 3448.7 L1301.4 3448.8 L1301.4 3448.8 L1302.7 3448.8 L1304.0 3448.8 L1305.3 3448.8 L1306.5 3448.8 L1307.8 3448.8 L1309.1 3448.8 L1310.4 3448.9 L1311.7 3448.9 L1313.0 3448.9 L1314.2 3448.9 L1315.5 3448.9 L1316.8 3448.9 L1318.1 3448.9 L1319.4 3448.9 L1320.7 3449.0 L1321.9 3449.0 L1323.2 3449.0 L1324.5 3449.0 L1325.8 3449.0 L1327.1 3449.0 L1328.4 3449.0 L1329.6 3449.1 L1330.9 3449.1 L1332.2 3449.1 L1333.5 3449.1 L1334.8 3449.1 L1336.1 3449.1 L1337.4 3449.1 L1338.6 3449.1 L1339.9 3449.2 L1341.2 3449.2 L1342.5 3449.2 L1343.8 3449.2 L1345.1 3449.2 L1346.3 3449.2 L1347.6 3449.2 L1348.9 3449.2 L1350.2 3449.2 L1351.5 3449.3 L1352.8 3449.3 L1354.0 3449.3 L1355.3 3449.3 L1356.6 3449.3 L1357.9 3449.3 L1359.2 3449.3 L1360.5 3449.3 L1361.7 3449.3 L1363.0 3449.4 L1364.3 3449.4 L1365.6 3449.4 L1365.6 3449.4 L1366.9 3449.4 L1368.2 3449.4 L1369.5 3449.4 L1370.7 3449.4 L1372.0 3449.4 L1373.3 3449.4 L1374.6 3449.4 L1375.9 3449.4 L1377.2 3449.4 L1378.4 3449.5 L1379.7 3449.5 L1381.0 3449.5 L1382.3 3449.5 L1383.6 3449.5 L1384.9 3449.5 L1386.1 3449.5 L1387.4 3449.5 L1388.7 3449.5 L1390.0 3449.5 L1391.3 3449.5 L1392.6 3449.5 L1393.8 3449.5 L1395.1 3449.6 L1396.4 3449.6 L1397.7 3449.6 L1399.0 3449.6 L1400.3 3449.6 L1401.6 3449.6 L1402.8 3449.6 L1404.1 3449.6 L1405.4 3449.6 L1406.7 3449.6 L1408.0 3449.6 L1409.3 3449.6 L1410.5 3449.6 L1411.8 3449.6 L1413.1 3449.7 L1414.4 3449.7 L1415.7 3449.7 L1417.0 3449.7 L1418.2 3449.7 L1419.5 3449.7 L1420.8 3449.7 L1422.1 3449.7 L1423.4 3449.7 L1424.7 3449.7 L1425.9 3449.7 L1427.2 3449.7 L1428.5 3449.7 L1429.8 3449.7 L1431.1 3449.7 L1432.4 3449.8 L1433.7 3449.8 L1434.9 3449.8 L1436.2 3449.8 L1437.5 3449.8 L1438.8 3449.8 L1440.1 3449.8 L1441.4 3449.8 L1442.6 3449.8 L1443.9 3449.8 L1445.2 3449.8 L1446.5 3449.8 L1447.8 3449.8 L1449.1 3449.8 L1450.3 3449.8 L1451.6 3449.8 L1452.9 3449.8 L1454.2 3449.9 L1455.5 3449.9 L1456.8 3449.9 L1458.0 3449.9 L1459.3 3449.9 L1460.6 3449.9 L1461.9 3449.9 L1463.2 3449.9 L1464.5 3449.9 L1465.8 3449.9 L1467.0 3449.9 L1468.3 3449.9 L1469.6 3449.9 L1470.9 3449.9 L1472.2 3449.9 L1473.5 3449.9 L1474.7 3449.9 L1476.0 3449.9 L1477.3 3450.0 L1478.6 3450.0 L1479.9 3450.0 L1481.2 3450.0 L1482.4 3450.0 L1483.7 3450.0 L1485.0 3450.0 L1486.3 3450.0 L1487.6 3450.0 L1488.9 3450.0 L1490.1 3450.0 L1491.4 3450.0 L1492.7 3450.0 L1494.0 3450.0 L1495.3 3450.0 L1496.6 3450.0 L1497.9 3450.0 L1499.1 3450.0 L1500.4 3450.0 L1501.7 3450.0 L1503.0 3450.0 L1504.3 3450.1 L1505.6 3450.1 L1506.8 3450.1 L1508.1 3450.1 L1509.4 3450.1 L1510.7 3450.1 L1512.0 3450.1 L1513.3 3450.1 L1514.5 3450.1 L1515.8 3450.1 L1517.1 3450.1 L1518.4 3450.1 L1519.7 3450.1 L1521.0 3450.1 L1522.2 3450.1 L1523.5 3450.1 L1524.8 3450.1 L1526.1 3450.1 L1526.1 3450.1 L1527.4 3450.1 L1528.7 3450.1 L1530.0 3450.1 L1531.2 3450.1 L1532.5 3450.1 L1533.8 3450.2 L1535.1 3450.2 L1536.4 3450.2 L1537.7 3450.2 L1538.9 3450.2 L1540.2 3450.2 L1541.5 3450.2 L1542.8 3450.2 L1544.1 3450.2 L1545.4 3450.2 L1546.6 3450.2 L1547.9 3450.2 L1549.2 3450.2 L1550.5 3450.2 L1551.8 3450.2 L1553.1 3450.2 L1554.3 3450.2 L1555.6 3450.2 L1556.9 3450.2 L1558.2 3450.2 L1559.5 3450.2 L1560.8 3450.2 L1562.1 3450.2 L1563.3 3450.2 L1564.6 3450.2 L1565.9 3450.2 L1567.2 3450.3 L1568.5 3450.3 L1569.8 3450.3 L1571.0 3450.3 L1572.3 3450.3 L1573.6 3450.3 L1574.9 3450.3 L1576.2 3450.3 L1577.5 3450.3 L1578.7 3450.3 L1580.0 3450.3 L1581.3 3450.3 L1582.6 3450.3 L1583.9 3450.3 L1585.2 3450.3 L1586.4 3450.3 L1587.7 3450.3 L1589.0 3450.3 L1590.3 3450.3 L1591.6 3450.3 L1592.9 3450.3 L1594.2 3450.3 L1595.4 3450.3 L1596.7 3450.3 L1598.0 3450.3 L1599.3 3450.3 L1600.6 3450.3 L1601.9 3450.3 L1603.1 3450.3 L1604.4 3450.4 L1605.7 3450.4 L1607.0 3450.4 L1608.3 3450.4 L1609.6 3450.4 L1610.8 3450.4 L1612.1 3450.4 L1613.4 3450.4 L1614.7 3450.4 L1616.0 3450.4 L1617.3 3450.4 L1618.5 3450.4 L1619.8 3450.4 L1621.1 3450.4 L1622.4 3450.4 L1623.7 3450.4 L1625.0 3450.4 L1626.3 3450.4 L1627.5 3450.4 L1628.8 3450.4 L1630.1 3450.4 L1631.4 3450.4 L1632.7 3450.4 L1634.0 3450.4 L1635.2 3450.4 L1636.5 3450.4 L1637.8 3450.4 L1639.1 3450.4 L1640.4 3450.4 L1641.7 3450.4 L1642.9 3450.4 L1644.2 3450.4 L1645.5 3450.4 L1646.8 3450.4 L1648.1 3450.4 L1649.4 3450.4 L1650.6 3450.5 L1651.9 3450.5 L1653.2 3450.5 L1654.5 3450.5 L1655.8 3450.5 L1657.1 3450.5 L1658.4 3450.5 L1659.6 3450.5 L1660.9 3450.5 L1662.2 3450.5 L1663.5 3450.5 L1664.8 3450.5 L1666.1 3450.5 L1667.3 3450.5 L1668.6 3450.5 L1669.9 3450.5 L1671.2 3450.5 L1672.5 3450.5 L1673.8 3450.5 L1675.0 3450.5 L1676.3 3450.5 L1677.6 3450.5 L1678.9 3450.5 L1680.2 3450.5 L1681.5 3450.5 L1682.7 3450.5 L1684.0 3450.5 L1685.3 3450.5 L1686.6 3450.5 L1686.6 3450.5" class="da" stroke-dashoffset="3.9"/>
<path d="M402.6 3375.9 L403.9 3376.5 L405.2 3377.1 L406.5 3377.7 L407.7 3378.3 L409.0 3378.9 L409.0 3378.9 L410.3 3379.5 L411.6 3380.1 L412.9 3380.6 L414.2 3381.2 L415.4 3381.8 L416.7 3382.4 L418.0 3383.0 L419.3 3383.6 L419.9 3384.0 L420.6 3384.3 L421.9 3385.0 L423.1 3385.8 L424.4 3386.5 L425.7 3387.3 L427.0 3388.1 L428.3 3388.9 L429.6 3389.7 L430.8 3390.6 L432.1 3391.4 L432.1 3391.4 L433.4 3392.2 L434.7 3393.1 L436.0 3394.0 L437.3 3394.9 L438.6 3395.8 L439.8 3396.7 L441.1 3397.5 L442.4 3398.4 L443.7 3399.2 L444.3 3399.6 L445.0 3400.0 L446.3 3400.7 L447.5 3401.5 L448.8 3402.2 L450.1 3402.9 L451.4 3403.6 L452.7 3404.3 L454.0 3405.0 L455.2 3405.6 L456.5 3406.2 L457.5 3406.6 L457.8 3406.8 L459.1 3407.3 L460.4 3407.8 L461.7 3408.3 L462.9 3408.8 L464.2 3409.3 L465.5 3409.7 L466.8 3410.2 L468.1 3410.6 L469.4 3411.1 L470.7 3411.5 L471.6 3411.9 L471.9 3412.0 L473.2 3412.4 L474.5 3412.9 L475.8 3413.3 L477.1 3413.8 L478.4 3414.3 L479.6 3414.7 L480.9 3415.1 L482.2 3415.5 L483.5 3415.9 L484.8 3416.3 L486.1 3416.6 L486.1 3416.6 L487.3 3416.9 L488.6 3417.2 L489.9 3417.5 L491.2 3417.8 L492.5 3418.1 L493.8 3418.3 L495.0 3418.6 L496.3 3418.8 L497.6 3419.0 L498.9 3419.2 L500.2 3419.4 L500.2 3419.4 L501.5 3419.6 L502.8 3419.8 L504.0 3420.0 L505.3 3420.2 L506.6 3420.3 L507.9 3420.5 L509.2 3420.7 L510.5 3420.8 L511.7 3421.0 L513.0 3421.1 L514.3 3421.2 L515.3 3421.3 L515.6 3421.4 L516.9 3421.5 L518.2 3421.6 L519.4 3421.7 L520.7 3421.9 L522.0 3422.0 L523.3 3422.1 L524.6 3422.2 L525.9 3422.3 L527.1 3422.4 L528.4 3422.4 L529.7 3422.5 L530.4 3422.5 L531.0 3422.5 L532.3 3422.5 L533.6 3422.5 L534.9 3422.5 L536.1 3422.5 L537.4 3422.5 L538.7 3422.6 L540.0 3422.6 L541.3 3422.6 L542.6 3422.6 L543.8 3422.6 L545.1 3422.6 L546.4 3422.6 L547.7 3422.6 L549.0 3422.6 L550.3 3422.6 L551.5 3422.6 L552.8 3422.6 L554.1 3422.6 L555.4 3422.7 L556.7 3422.7 L558.0 3422.7 L559.2 3422.7 L560.2 3422.7 L560.5 3422.7 L561.8 3422.7 L563.1 3422.7 L564.4 3422.7 L565.7 3422.7 L567.0 3422.7 L568.2 3422.8 L569.5 3422.8 L570.8 3422.8 L572.1 3422.8 L572.1 3422.8 L573.4 3423.1 L574.7 3423.5 L575.9 3423.9 L576.6 3424.0 L577.2 3424.0 L578.5 3424.1 L579.8 3424.2 L581.1 3424.2 L582.4 3424.3 L583.6 3424.3 L584.9 3424.3 L586.2 3424.4 L587.5 3424.4 L588.8 3424.5 L589.4 3424.5 L590.1 3424.5 L591.3 3424.6 L592.6 3424.6 L593.9 3424.7 L595.2 3424.8 L596.5 3424.8 L597.8 3424.9 L599.1 3425.0 L600.3 3425.2 L601.0 3425.3 L601.6 3425.5 L602.9 3426.5 L604.2 3427.6 L605.5 3428.3 L605.5 3428.3 L606.8 3428.5 L608.0 3428.6 L609.3 3428.8 L610.6 3428.8 L611.9 3428.9 L613.2 3429.0 L614.5 3429.0 L615.7 3429.1 L617.0 3429.2 L618.3 3429.3 L619.0 3429.4 L619.6 3429.4 L620.9 3429.6 L622.2 3429.7 L623.4 3429.9 L624.7 3430.1 L626.0 3430.3 L627.3 3430.5 L628.6 3430.7 L629.9 3430.9 L631.2 3431.1 L632.4 3431.2 L633.7 3431.4 L634.0 3431.4 L635.0 3431.5 L636.3 3431.6 L637.6 3431.7 L638.9 3431.9 L640.1 3432.0 L641.4 3432.1 L642.7 3432.2 L644.0 3432.3 L645.3 3432.4 L646.6 3432.5 L647.8 3432.6 L649.1 3432.7 L650.4 3432.8 L651.7 3432.9 L653.0 3433.0 L654.3 3433.0 L655.5 3433.1 L656.8 3433.2 L658.1 3433.2 L659.4 3433.3 L660.7 3433.4 L662.0 3433.4 L662.6 3433.5 L663.3 3433.5 L664.5 3433.5 L665.8 3433.5 L667.1 3433.6 L668.4 3433.6 L669.7 3433.6 L671.0 3433.6 L672.2 3433.7 L673.5 3433.7 L674.8 3433.8 L675.5 3433.8 L676.1 3434.0 L677.4 3435.0 L678.7 3435.7 L678.7 3435.7 L679.9 3435.8 L681.2 3435.9 L682.5 3436.0 L683.8 3436.1 L685.1 3436.2 L686.4 3436.3 L687.6 3436.3 L688.9 3436.4 L690.2 3436.5 L691.5 3436.5 L692.8 3436.6 L694.1 3436.6 L695.4 3436.6 L696.6 3436.7 L697.9 3436.7 L699.2 3436.7 L700.5 3436.8 L701.8 3436.8 L703.1 3436.8 L704.3 3436.9 L705.6 3436.9 L706.9 3436.9 L708.2 3436.9 L709.5 3436.9 L710.8 3437.0 L712.0 3437.0 L713.3 3437.0 L714.6 3437.0 L715.9 3437.0 L717.2 3437.1 L718.5 3437.1 L719.7 3437.1 L721.0 3437.2 L722.3 3437.2 L723.6 3437.2 L723.6 3437.2 L724.9 3437.3 L726.2 3437.3 L727.5 3437.4 L728.7 3437.4 L730.0 3437.5 L731.3 3437.5 L732.6 3437.5 L733.9 3437.6 L735.2 3437.6 L736.4 3437.7 L737.7 3437.7 L739.0 3437.8 L740.3 3437.8 L741.6 3437.9 L742.9 3437.9 L744.1 3438.0 L745.4 3438.0 L746.7 3438.1 L748.0 3438.1 L749.3 3438.2 L750.6 3438.2 L751.8 3438.3 L753.1 3438.3 L754.4 3438.3 L755.7 3438.4 L757.0 3438.4 L758.3 3438.5 L759.6 3438.5 L760.8 3438.6 L762.1 3438.6 L763.4 3438.7 L764.7 3438.7 L766.0 3438.7 L767.3 3438.8 L768.5 3438.8 L769.8 3438.9 L771.1 3438.9 L772.4 3438.9 L773.7 3439.0 L775.0 3439.0 L776.2 3439.0 L777.5 3439.1 L778.8 3439.1 L780.1 3439.1 L781.4 3439.2 L782.7 3439.2 L783.9 3439.2 L785.2 3439.2 L786.5 3439.3 L787.8 3439.3 L789.1 3439.3 L790.4 3439.3 L791.7 3439.3 L792.9 3439.4 L794.2 3439.4 L794.2 3439.4 L795.5 3439.4 L796.8 3439.4 L798.1 3439.4 L799.4 3439.4 L800.6 3439.4 L801.9 3439.4 L803.2 3439.4 L804.5 3439.5 L805.8 3439.5 L807.1 3439.5 L808.3 3439.5 L809.6 3439.5 L810.9 3439.5 L812.2 3439.5 L813.5 3439.5 L814.8 3439.5 L816.0 3439.5 L817.3 3439.5 L818.6 3439.5 L819.9 3439.6 L821.2 3439.6 L822.5 3439.6 L823.8 3439.6 L825.0 3439.6 L826.3 3439.6 L827.6 3439.6 L828.9 3439.6 L830.2 3439.6 L831.5 3439.6 L832.7 3439.6 L834.0 3439.6 L835.3 3439.6 L836.6 3439.6 L837.9 3439.6 L839.2 3439.6 L840.4 3439.6 L841.7 3439.7 L843.0 3439.7 L844.3 3439.7 L845.6 3439.7 L846.9 3439.7 L848.1 3439.7 L849.4 3439.7 L850.7 3439.7 L852.0 3439.7 L853.3 3439.7 L854.6 3439.7 L855.9 3439.7 L857.1 3439.7 L858.4 3439.7 L859.7 3439.7 L861.0 3439.7 L862.3 3439.7 L863.6 3439.7 L864.8 3439.7 L866.1 3439.7 L867.4 3439.7 L868.7 3439.7 L870.0 3439.7 L871.3 3439.8 L872.5 3439.8 L873.8 3439.8 L875.1 3439.8 L876.4 3439.8 L877.7 3439.8 L879.0 3439.8 L880.2 3439.8 L881.5 3439.8 L882.8 3439.8 L884.1 3439.8 L885.4 3439.8 L886.7 3439.8 L888.0 3439.8 L889.2 3439.8 L890.5 3439.8 L891.8 3439.8 L893.1 3439.8 L894.4 3439.8 L895.7 3439.8 L896.9 3439.8 L898.2 3439.9 L899.5 3439.9 L900.8 3439.9 L902.1 3439.9 L903.4 3439.9 L904.6 3439.9 L905.9 3439.9 L907.2 3439.9 L908.5 3439.9 L909.8 3439.9 L911.1 3439.9 L912.3 3439.9 L913.6 3439.9 L914.9 3439.9 L916.2 3440.0 L917.5 3440.0 L918.8 3440.0 L920.1 3440.0 L921.3 3440.0 L922.6 3440.0 L923.9 3440.0 L925.2 3440.0 L926.5 3440.0 L927.8 3440.0 L929.0 3440.0 L929.0 3440.0 L930.3 3440.1 L931.6 3440.1 L932.9 3440.1 L934.2 3440.1 L935.5 3440.1 L936.7 3440.1 L938.0 3440.1 L939.3 3440.2 L940.6 3440.2 L941.9 3440.2 L943.2 3440.2 L944.4 3440.2 L945.7 3440.2 L947.0 3440.3 L948.3 3440.3 L949.6 3440.3 L950.9 3440.3 L952.2 3440.3 L953.4 3440.4 L954.7 3440.4 L956.0 3440.4 L957.3 3440.4 L958.6 3440.5 L959.9 3440.5 L961.1 3440.5 L962.4 3440.5 L963.7 3440.6 L965.0 3440.6 L966.3 3440.6 L967.6 3440.6 L968.8 3440.7 L970.1 3440.7 L971.4 3440.7 L972.7 3440.8 L974.0 3440.8 L975.3 3440.8 L976.5 3440.8 L977.8 3440.9 L979.1 3440.9 L980.4 3440.9 L981.7 3441.0 L983.0 3441.0 L984.3 3441.0 L985.5 3441.1 L986.8 3441.1 L988.1 3441.1 L989.4 3441.2 L990.7 3441.2 L992.0 3441.2 L993.2 3441.3 L994.5 3441.3 L995.8 3441.3 L997.1 3441.4 L998.4 3441.4 L999.7 3441.4 L1000.9 3441.5 L1002.2 3441.5 L1003.5 3441.5 L1004.8 3441.6 L1006.1 3441.6 L1007.4 3441.6 L1008.6 3441.7 L1009.9 3441.7 L1011.2 3441.7 L1012.5 3441.8 L1013.8 3441.8 L1015.1 3441.8 L1016.4 3441.9 L1017.6 3441.9 L1018.9 3441.9 L1020.2 3442.0 L1021.5 3442.0 L1022.8 3442.0 L1024.1 3442.0 L1025.3 3442.1 L1026.6 3442.1 L1027.9 3442.1 L1029.2 3442.2 L1030.5 3442.2 L1031.8 3442.2 L1033.0 3442.3 L1034.3 3442.3 L1035.6 3442.3 L1036.9 3442.4 L1038.2 3442.4 L1039.5 3442.4 L1040.7 3442.5 L1042.0 3442.5 L1043.3 3442.5 L1044.6 3442.5 L1044.6 3442.5 L1045.9 3442.6 L1047.2 3442.6 L1048.5 3442.6 L1049.7 3442.7 L1051.0 3442.7 L1052.3 3442.7 L1053.6 3442.8 L1054.9 3442.8 L1056.2 3442.8 L1057.4 3442.8 L1058.7 3442.9 L1060.0 3442.9 L1061.3 3442.9 L1062.6 3443.0 L1063.9 3443.0 L1065.1 3443.0 L1066.4 3443.1 L1067.7 3443.1 L1069.0 3443.1 L1070.3 3443.2 L1071.6 3443.2 L1072.8 3443.2 L1074.1 3443.3 L1075.4 3443.3 L1076.7 3443.3 L1078.0 3443.4 L1079.3 3443.4 L1080.6 3443.4 L1081.8 3443.5 L1083.1 3443.5 L1084.4 3443.5 L1085.7 3443.6 L1087.0 3443.6 L1088.3 3443.6 L1089.5 3443.7 L1090.8 3443.7 L1092.1 3443.7 L1093.4 3443.8 L1094.7 3443.8 L1096.0 3443.8 L1097.2 3443.9 L1098.5 3443.9 L1099.8 3443.9 L1101.1 3444.0 L1102.4 3444.0 L1103.7 3444.0 L1104.9 3444.1 L1106.2 3444.1 L1107.5 3444.1 L1108.8 3444.2 L1110.1 3444.2 L1111.4 3444.2 L1112.7 3444.3 L1113.9 3444.3 L1115.2 3444.3 L1116.5 3444.4 L1117.8 3444.4 L1119.1 3444.4 L1120.4 3444.5 L1121.6 3444.5 L1122.9 3444.5 L1124.2 3444.6 L1125.5 3444.6 L1126.8 3444.6 L1128.1 3444.6 L1129.3 3444.7 L1130.6 3444.7 L1131.9 3444.7 L1133.2 3444.8 L1134.5 3444.8 L1135.8 3444.8 L1137.0 3444.9 L1138.3 3444.9 L1139.6 3444.9 L1140.9 3445.0 L1142.2 3445.0 L1143.5 3445.0 L1144.8 3445.0 L1146.0 3445.1 L1147.3 3445.1 L1148.6 3445.1 L1149.9 3445.1 L1151.2 3445.2 L1152.5 3445.2 L1153.7 3445.2 L1155.0 3445.3 L1156.3 3445.3 L1157.6 3445.3 L1158.9 3445.3 L1160.2 3445.4 L1161.4 3445.4 L1162.7 3445.4 L1164.0 3445.4 L1165.3 3445.4 L1166.6 3445.5 L1167.9 3445.5 L1169.1 3445.5 L1170.4 3445.5 L1171.7 3445.6 L1173.0 3445.6 L1173.0 3445.6 L1174.3 3445.6 L1175.6 3445.6 L1176.9 3445.6 L1178.1 3445.7 L1179.4 3445.7 L1180.7 3445.7 L1182.0 3445.7 L1183.3 3445.7 L1184.6 3445.8 L1185.8 3445.8 L1187.1 3445.8 L1188.4 3445.8 L1189.7 3445.8 L1191.0 3445.9 L1192.3 3445.9 L1193.5 3445.9 L1194.8 3445.9 L1196.1 3445.9 L1197.4 3446.0 L1198.7 3446.0 L1200.0 3446.0 L1201.2 3446.0 L1202.5 3446.0 L1203.8 3446.1 L1205.1 3446.1 L1206.4 3446.1 L1207.7 3446.1 L1209.0 3446.1 L1210.2 3446.2 L1211.5 3446.2 L1212.8 3446.2 L1214.1 3446.2 L1215.4 3446.2 L1216.7 3446.2 L1217.9 3446.3 L1219.2 3446.3 L1220.5 3446.3 L1221.8 3446.3 L1223.1 3446.3 L1224.4 3446.4 L1225.6 3446.4 L1226.9 3446.4 L1228.2 3446.4 L1229.5 3446.4 L1230.8 3446.4 L1232.1 3446.5 L1233.3 3446.5 L1234.6 3446.5 L1235.9 3446.5 L1237.2 3446.5 L1238.5 3446.6 L1239.8 3446.6 L1241.1 3446.6 L1242.3 3446.6 L1243.6 3446.6 L1244.9 3446.6 L1246.2 3446.7 L1247.5 3446.7 L1248.8 3446.7 L1250.0 3446.7 L1251.3 3446.7 L1252.6 3446.7 L1253.9 3446.8 L1255.2 3446.8 L1256.5 3446.8 L1257.7 3446.8 L1259.0 3446.8 L1260.3 3446.8 L1261.6 3446.8 L1262.9 3446.9 L1264.2 3446.9 L1265.4 3446.9 L1266.7 3446.9 L1268.0 3446.9 L1269.3 3446.9 L1270.6 3447.0 L1271.9 3447.0 L1273.2 3447.0 L1274.4 3447.0 L1275.7 3447.0 L1277.0 3447.0 L1278.3 3447.0 L1279.6 3447.1 L1280.9 3447.1 L1282.1 3447.1 L1283.4 3447.1 L1284.7 3447.1 L1286.0 3447.1 L1287.3 3447.2 L1288.6 3447.2 L1289.8 3447.2 L1291.1 3447.2 L1292.4 3447.2 L1293.7 3447.2 L1295.0 3447.2 L1296.3 3447.2 L1297.5 3447.3 L1298.8 3447.3 L1300.1 3447.3 L1301.4 3447.3 L1302.7 3447.3 L1304.0 3447.3 L1305.3 3447.3 L1306.5 3447.4 L1307.8 3447.4 L1309.1 3447.4 L1310.4 3447.4 L1311.7 3447.4 L1313.0 3447.4 L1314.2 3447.4 L1315.5 3447.4 L1316.8 3447.5 L1318.1 3447.5 L1319.4 3447.5 L1320.7 3447.5 L1321.9 3447.5 L1323.2 3447.5 L1324.5 3447.5 L1325.8 3447.5 L1327.1 3447.6 L1328.4 3447.6 L1329.6 3447.6 L1330.9 3447.6 L1332.2 3447.6 L1333.5 3447.6 L1334.8 3447.6 L1336.1 3447.6 L1337.4 3447.6 L1338.6 3447.7 L1339.9 3447.7 L1341.2 3447.7 L1342.5 3447.7 L1343.8 3447.7 L1345.1 3447.7 L1346.3 3447.7 L1347.6 3447.7 L1348.9 3447.7 L1350.2 3447.7 L1351.5 3447.8 L1352.8 3447.8 L1354.0 3447.8 L1355.3 3447.8 L1356.6 3447.8 L1357.9 3447.8 L1359.2 3447.8 L1360.5 3447.8 L1361.7 3447.8 L1363.0 3447.8 L1364.3 3447.8 L1365.6 3447.9 L1365.6 3447.9 L1366.9 3447.9 L1368.2 3447.9 L1369.5 3447.9 L1370.7 3447.9 L1372.0 3447.9 L1373.3 3447.9 L1374.6 3447.9 L1375.9 3447.9 L1377.2 3447.9 L1378.4 3447.9 L1379.7 3447.9 L1381.0 3447.9 L1382.3 3448.0 L1383.6 3448.0 L1384.9 3448.0 L1386.1 3448.0 L1387.4 3448.0 L1388.7 3448.0 L1390.0 3448.0 L1391.3 3448.0 L1392.6 3448.0 L1393.8 3448.0 L1395.1 3448.0 L1396.4 3448.0 L1397.7 3448.0 L1399.0 3448.1 L1400.3 3448.1 L1401.6 3448.1 L1402.8 3448.1 L1404.1 3448.1 L1405.4 3448.1 L1406.7 3448.1 L1408.0 3448.1 L1409.3 3448.1 L1410.5 3448.1 L1411.8 3448.1 L1413.1 3448.1 L1414.4 3448.1 L1415.7 3448.1 L1417.0 3448.1 L1418.2 3448.1 L1419.5 3448.2 L1420.8 3448.2 L1422.1 3448.2 L1423.4 3448.2 L1424.7 3448.2 L1425.9 3448.2 L1427.2 3448.2 L1428.5 3448.2 L1429.8 3448.2 L1431.1 3448.2 L1432.4 3448.2 L1433.7 3448.2 L1434.9 3448.2 L1436.2 3448.2 L1437.5 3448.2 L1438.8 3448.2 L1440.1 3448.2 L1441.4 3448.3 L1442.6 3448.3 L1443.9 3448.3 L1445.2 3448.3 L1446.5 3448.3 L1447.8 3448.3 L1449.1 3448.3 L1450.3 3448.3 L1451.6 3448.3 L1452.9 3448.3 L1454.2 3448.3 L1455.5 3448.3 L1456.8 3448.3 L1458.0 3448.3 L1459.3 3448.3 L1460.6 3448.3 L1461.9 3448.3 L1463.2 3448.3 L1464.5 3448.3 L1465.8 3448.4 L1467.0 3448.4 L1468.3 3448.4 L1469.6 3448.4 L1470.9 3448.4 L1472.2 3448.4 L1473.5 3448.4 L1474.7 3448.4 L1476.0 3448.4 L1477.3 3448.4 L1478.6 3448.4 L1479.9 3448.4 L1481.2 3448.4 L1482.4 3448.4 L1483.7 3448.4 L1485.0 3448.4 L1486.3 3448.4 L1487.6 3448.4 L1488.9 3448.4 L1490.1 3448.5 L1491.4 3448.5 L1492.7 3448.5 L1494.0 3448.5 L1495.3 3448.5 L1496.6 3448.5 L1497.9 3448.5 L1499.1 3448.5 L1500.4 3448.5 L1501.7 3448.5 L1503.0 3448.5 L1504.3 3448.5 L1505.6 3448.5 L1506.8 3448.5 L1508.1 3448.5 L1509.4 3448.5 L1510.7 3448.5 L1512.0 3448.5 L1513.3 3448.6 L1514.5 3448.6 L1515.8 3448.6 L1517.1 3448.6 L1518.4 3448.6 L1519.7 3448.6 L1521.0 3448.6 L1522.2 3448.6 L1523.5 3448.6 L1524.8 3448.6 L1526.1 3448.6 L1526.1 3448.6 L1527.4 3448.6 L1528.7 3448.6 L1530.0 3448.6 L1531.2 3448.6 L1532.5 3448.6 L1533.8 3448.6 L1535.1 3448.7 L1536.4 3448.7 L1537.7 3448.7 L1538.9 3448.7 L1540.2 3448.7 L1541.5 3448.7 L1542.8 3448.7 L1544.1 3448.7 L1545.4 3448.7 L1546.6 3448.7 L1547.9 3448.7 L1549.2 3448.7 L1550.5 3448.7 L1551.8 3448.7 L1553.1 3448.7 L1554.3 3448.7 L1555.6 3448.7 L1556.9 3448.8 L1558.2 3448.8 L1559.5 3448.8 L1560.8 3448.8 L1562.1 3448.8 L1563.3 3448.8 L1564.6 3448.8 L1565.9 3448.8 L1567.2 3448.8 L1568.5 3448.8 L1569.8 3448.8 L1571.0 3448.8 L1572.3 3448.8 L1573.6 3448.8 L1574.9 3448.8 L1576.2 3448.8 L1577.5 3448.9 L1578.7 3448.9 L1580.0 3448.9 L1581.3 3448.9 L1582.6 3448.9 L1583.9 3448.9 L1585.2 3448.9 L1586.4 3448.9 L1587.7 3448.9 L1589.0 3448.9 L1590.3 3448.9 L1591.6 3448.9 L1592.9 3448.9 L1594.2 3448.9 L1595.4 3448.9 L1596.7 3448.9 L1598.0 3449.0 L1599.3 3449.0 L1600.6 3449.0 L1601.9 3449.0 L1603.1 3449.0 L1604.4 3449.0 L1605.7 3449.0 L1607.0 3449.0 L1608.3 3449.0 L1609.6 3449.0 L1610.8 3449.0 L1612.1 3449.0 L1613.4 3449.0 L1614.7 3449.0 L1616.0 3449.0 L1617.3 3449.0 L1618.5 3449.0 L1619.8 3449.1 L1621.1 3449.1 L1622.4 3449.1 L1623.7 3449.1 L1625.0 3449.1 L1626.3 3449.1 L1627.5 3449.1 L1628.8 3449.1 L1630.1 3449.1 L1631.4 3449.1 L1632.7 3449.1 L1634.0 3449.1 L1635.2 3449.1 L1636.5 3449.1 L1637.8 3449.1 L1639.1 3449.1 L1640.4 3449.2 L1641.7 3449.2 L1642.9 3449.2 L1644.2 3449.2 L1645.5 3449.2 L1646.8 3449.2 L1648.1 3449.2 L1649.4 3449.2 L1650.6 3449.2 L1651.9 3449.2 L1653.2 3449.2 L1654.5 3449.2 L1655.8 3449.2 L1657.1 3449.2 L1658.4 3449.2 L1659.6 3449.2 L1660.9 3449.2 L1662.2 3449.3 L1663.5 3449.3 L1664.8 3449.3 L1666.1 3449.3 L1667.3 3449.3 L1668.6 3449.3 L1669.9 3449.3 L1671.2 3449.3 L1672.5 3449.3 L1673.8 3449.3 L1675.0 3449.3 L1676.3 3449.3 L1677.6 3449.3 L1678.9 3449.3 L1680.2 3449.3 L1681.5 3449.3 L1682.7 3449.4 L1684.0 3449.4 L1685.3 3449.4 L1686.6 3449.4 L1686.6 3449.4" class="do" stroke-dashoffset="12.2"/>
<path d="M402.6 2012.4 V3455.9" class="ax"/>
<path d="M399.1 3452.4 H1850.6" class="ax"/>
<path d="M372.6 3452.4 H402.6" class="ax"/>
<path d="M387.6 3225 H402.6" class="ax"/>
<path d="M372.6 2997.7 H402.6" class="ax"/>
<path d="M387.6 2770.3 H402.6" class="ax"/>
<path d="M372.6 2542.9 H402.6" class="ax"/>
<path d="M387.6 2315.6 H402.6" class="ax"/>
<path d="M372.6 2088.2 H402.6" class="ax"/>
<path d="M402.6 3452.4 V3482.4" class="ax"/>
<path d="M563.1 3452.4 V3467.4" class="ax"/>
<path d="M723.6 3452.4 V3482.4" class="ax"/>
<path d="M884.1 3452.4 V3467.4" class="ax"/>
<path d="M1044.6 3452.4 V3482.4" class="ax"/>
<path d="M1205.1 3452.4 V3467.4" class="ax"/>
<path d="M1365.6 3452.4 V3482.4" class="ax"/>
<path d="M1526.1 3452.4 V3467.4" class="ax"/>
<path d="M1686.6 3452.4 V3482.4" class="ax"/>
<path d="M1847.1 3452.4 V3467.4" class="ax"/>
<text transform="translate(353.5 3481.9) scale(1 1.035)" class="tl" text-anchor="end">0.0</text>
<text transform="translate(353.5 3027.2) scale(1 1.035)" class="tl" text-anchor="end">0.6</text>
<text transform="translate(353.5 2572.4) scale(1 1.035)" class="tl" text-anchor="end">1.2</text>
<text transform="translate(353.5 2117.7) scale(1 1.035)" class="tl" text-anchor="end">1.8</text>
<text transform="translate(402.6 3577.9) scale(1 1.035)" class="tl" text-anchor="middle">300</text>
<text transform="translate(723.6 3577.9) scale(1 1.035)" class="tl" text-anchor="middle">400</text>
<text transform="translate(1044.6 3577.9) scale(1 1.035)" class="tl" text-anchor="middle">500</text>
<text transform="translate(1365.6 3577.9) scale(1 1.035)" class="tl" text-anchor="middle">600</text>
<text transform="translate(1686.6 3577.9) scale(1 1.035)" class="tl" text-anchor="middle">700</text>
<text x="726" y="3702.7" class="tt">Wavelength (nm)</text>
<text transform="translate(147 2743.5) rotate(-90) scale(1 1.0)" class="tt2" text-anchor="middle">Absorbance</text>
<text x="101.5" y="2100.3" class="pl">B</text>
<path d="M520.6 2939.3 L509.1 2978.3 L532.1 2978.3 Z" class="ah"/>
<path d="M520.6 2975.3 V3070.3" class="ash"/>
<text transform="translate(541.6 3050.1) scale(1.085 1)" class="del">&#916;</text>
<text transform="translate(603.6 3050.3) scale(1 1.09)" class="dl">t</text>
<path d="M1083 2047.4 V2769" class="iax"/>
<path d="M1068 2769 H1806.6" class="iax"/>
<path d="M1068 2769 H1083" class="iax"/>
<path d="M1068 2599.6 H1083" class="iax"/>
<path d="M1068 2430.2 H1083" class="iax"/>
<path d="M1068 2260.8 H1083" class="iax"/>
<path d="M1068 2091.4 H1083" class="iax"/>
<path d="M1075 2684.3 H1083" class="iax"/>
<path d="M1075 2514.9 H1083" class="iax"/>
<path d="M1075 2345.5 H1083" class="iax"/>
<path d="M1075 2176.1 H1083" class="iax"/>
<path d="M1083 2769 V2784" class="iax"/>
<path d="M1148.6 2769 V2777" class="iax"/>
<path d="M1214.2 2769 V2784" class="iax"/>
<path d="M1279.8 2769 V2777" class="iax"/>
<path d="M1345.4 2769 V2784" class="iax"/>
<path d="M1411 2769 V2777" class="iax"/>
<path d="M1476.6 2769 V2784" class="iax"/>
<path d="M1542.2 2769 V2777" class="iax"/>
<path d="M1607.8 2769 V2784" class="iax"/>
<path d="M1673.4 2769 V2777" class="iax"/>
<path d="M1739 2769 V2784" class="iax"/>
<path d="M1804.6 2769 V2777" class="iax"/>
<text transform="translate(1059.5 2792.3) scale(1 1.035)" class="it2" text-anchor="end">0.1</text>
<text transform="translate(1059.5 2622.9) scale(1 1.035)" class="it2" text-anchor="end">0.2</text>
<text transform="translate(1059.5 2453.5) scale(1 1.035)" class="it2" text-anchor="end">0.3</text>
<text transform="translate(1059.5 2284.1) scale(1 1.035)" class="it2" text-anchor="end">0.4</text>
<text transform="translate(1059.5 2114.7) scale(1 1.035)" class="it2" text-anchor="end">0.5</text>
<text transform="translate(1083 2849.5) scale(1 1.035)" class="it2" text-anchor="middle">0</text>
<text transform="translate(1214.2 2849.5) scale(1 1.035)" class="it2" text-anchor="middle">10</text>
<text transform="translate(1345.4 2849.5) scale(1 1.035)" class="it2" text-anchor="middle">20</text>
<text transform="translate(1476.6 2849.5) scale(1 1.035)" class="it2" text-anchor="middle">30</text>
<text transform="translate(1607.8 2849.5) scale(1 1.035)" class="it2" text-anchor="middle">40</text>
<text transform="translate(1739 2849.5) scale(1 1.035)" class="it2" text-anchor="middle">50</text>
<text transform="translate(1282.5 2967.5) scale(1 1.04)" class="itt">Time (min)</text>
<path d="M1093.1 2530.6 L1204.1 2373.3" class="il"/>
<path d="M1226.9 2347.0 L1332.7 2246.1" class="il"/>
<path d="M1361.3 2226.8 L1460.7 2181.6" class="il"/>
<path d="M1493.7 2170.7 L1590.7 2149.7" class="il"/>
<path d="M1625.0 2142.9 L1721.8 2125.8" class="il"/>
<clipPath id="c1083"><rect x="1083" y="2017.4" width="800" height="800"/></clipPath>
<g clip-path="url(#c1083)">
<circle cx="1083.0" cy="2544.9" r="12.8"/>
<circle cx="1214.2" cy="2359.1" r="12.8"/>
<circle cx="1345.4" cy="2234.0" r="12.8"/>
<circle cx="1476.6" cy="2174.4" r="12.8"/>
<circle cx="1607.8" cy="2145.9" r="12.8"/>
<circle cx="1739.0" cy="2122.7" r="12.8"/>
</g>
<rect x="230.9" y="603.4" width="17.4" height="10.3" fill="#fff"/>
<rect x="256.7" y="603.4" width="16.9" height="10.3" fill="#fff"/>
<rect x="230.9" y="124.7" width="17.4" height="10.3" fill="#fff"/>
<rect x="256.7" y="124.7" width="16.9" height="10.3" fill="#fff"/>
<rect x="1037.9" y="872.2" width="13.9" height="8.9" fill="#fff"/>
<rect x="1058.6" y="872.2" width="13.5" height="8.9" fill="#fff"/>
<rect x="1193.8" y="933.9" width="13.9" height="8.9" fill="#fff"/>
<rect x="1214.5" y="933.9" width="13.5" height="8.9" fill="#fff"/>
<rect x="227.9" y="2564.5" width="17.4" height="10.3" fill="#fff"/>
<rect x="253.7" y="2564.5" width="16.9" height="10.3" fill="#fff"/>
<rect x="227.9" y="2109.7" width="17.4" height="10.3" fill="#fff"/>
<rect x="253.7" y="2109.7" width="16.9" height="10.3" fill="#fff"/>
<rect x="1023.2" y="2785.9" width="13.6" height="8.8" fill="#fff"/>
<rect x="1043.4" y="2785.9" width="13.2" height="8.8" fill="#fff"/>
<rect x="1177.9" y="2843.1" width="13.6" height="8.8" fill="#fff"/>
<rect x="1198.1" y="2843.1" width="13.2" height="8.8" fill="#fff"/>
</g>
</svg></body></html>
